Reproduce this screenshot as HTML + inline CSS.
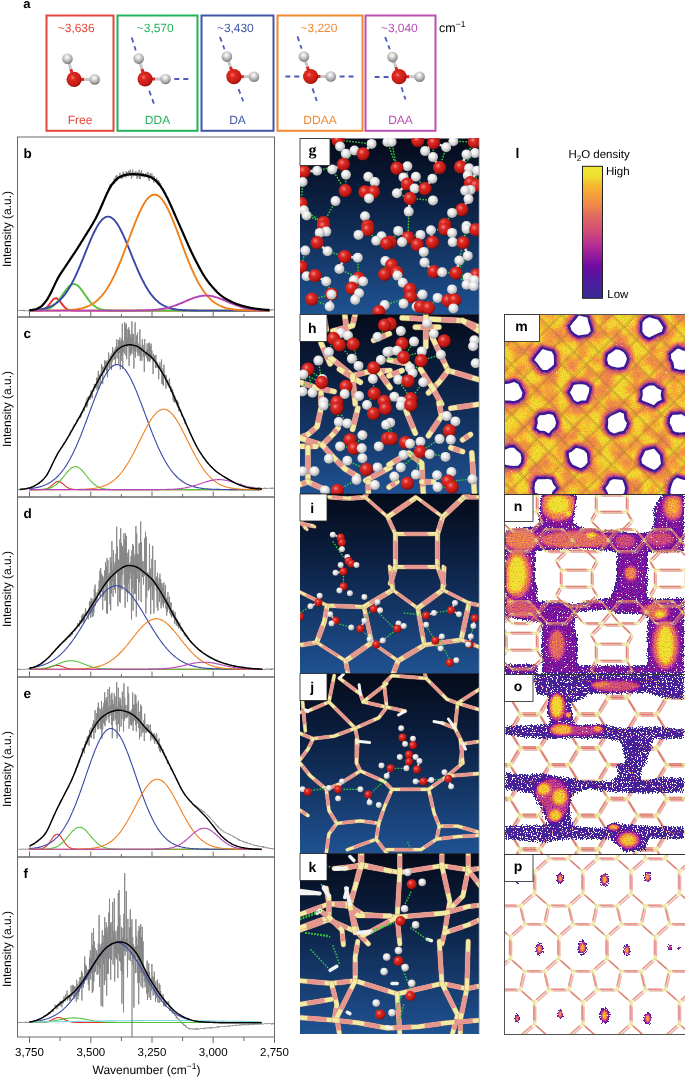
<!DOCTYPE html>
<html><head><meta charset="utf-8"><style>
html,body{margin:0;padding:0;background:#fff;}
body{width:685px;height:1077px;position:relative;overflow:hidden;font-family:"Liberation Sans",sans-serif;}
svg{display:block;will-change:transform}
text{text-rendering:geometricPrecision}
</style></head><body>
<svg width="685" height="136" viewBox="0 0 685 136" style="position:absolute;left:0;top:0">
<defs>
<radialGradient id="gO" cx="0.4" cy="0.38" r="0.65"><stop offset="0" stop-color="#f27a72"/><stop offset="0.25" stop-color="#e02a22"/><stop offset="0.8" stop-color="#c01a14"/><stop offset="1" stop-color="#8a0e0a"/></radialGradient>
<radialGradient id="gH" cx="0.45" cy="0.35" r="0.7"><stop offset="0" stop-color="#ffffff"/><stop offset="0.3" stop-color="#dcdcdc"/><stop offset="0.78" stop-color="#959595"/><stop offset="1" stop-color="#606060"/></radialGradient>
</defs>
<text x="23.3" y="7.6" font-family="Liberation Sans" font-weight="bold" font-size="13">a</text>
<rect x="46.5" y="15.5" width="67.0" height="115.3" fill="none" stroke="#e2453a" stroke-width="2"/>
<text x="57.8" y="32.3" font-family="Liberation Sans" font-size="12" fill="#e2453a" textLength="36.8">~3,636</text>
<text x="80.0" y="124.3" text-anchor="middle" font-family="Liberation Sans" font-size="12" fill="#e2453a">Free</text>
<line x1="74.1" y1="79.4" x2="70.8" y2="69.1" stroke="#d42a22" stroke-width="3"/>
<line x1="70.8" y1="69.1" x2="67.5" y2="58.8" stroke="#c8c8c8" stroke-width="3"/>
<line x1="74.1" y1="79.4" x2="84.4" y2="79.4" stroke="#d42a22" stroke-width="3"/>
<line x1="84.4" y1="79.4" x2="94.7" y2="79.4" stroke="#c8c8c8" stroke-width="3"/>
<circle cx="67.5" cy="58.8" r="5.3" fill="url(#gH)"/>
<circle cx="94.7" cy="79.4" r="5.3" fill="url(#gH)"/>
<circle cx="74.1" cy="79.4" r="7.6" fill="url(#gO)"/>
<rect x="117.5" y="15.5" width="80.0" height="115.3" fill="none" stroke="#21b35b" stroke-width="2"/>
<text x="136.8" y="32.3" font-family="Liberation Sans" font-size="12" fill="#21b35b" textLength="36.8">~3,570</text>
<text x="157.5" y="124.3" text-anchor="middle" font-family="Liberation Sans" font-size="12" fill="#21b35b">DDA</text>
<line x1="131.7" y1="37.6" x2="135.8" y2="50.4" stroke="#4a5cb8" stroke-width="1.8" stroke-dasharray="5,4"/>
<line x1="174.3" y1="79.0" x2="190.0" y2="79.0" stroke="#4a5cb8" stroke-width="1.8" stroke-dasharray="5,4"/>
<line x1="149.2" y1="90.7" x2="153.9" y2="103.6" stroke="#4a5cb8" stroke-width="1.8" stroke-dasharray="5,4"/>
<line x1="145.1" y1="79.0" x2="141.9" y2="68.8" stroke="#d42a22" stroke-width="3"/>
<line x1="141.9" y1="68.8" x2="138.7" y2="58.6" stroke="#c8c8c8" stroke-width="3"/>
<line x1="145.1" y1="79.0" x2="155.3" y2="79.0" stroke="#d42a22" stroke-width="3"/>
<line x1="155.3" y1="79.0" x2="165.5" y2="79.0" stroke="#c8c8c8" stroke-width="3"/>
<circle cx="138.7" cy="58.6" r="5.3" fill="url(#gH)"/>
<circle cx="165.5" cy="79.0" r="5.3" fill="url(#gH)"/>
<circle cx="145.1" cy="79.0" r="7.6" fill="url(#gO)"/>
<rect x="201.5" y="15.5" width="72.0" height="115.3" fill="none" stroke="#4156a8" stroke-width="2"/>
<text x="217.0" y="32.3" font-family="Liberation Sans" font-size="12" fill="#4156a8" textLength="36.8">~3,430</text>
<text x="237.5" y="124.3" text-anchor="middle" font-family="Liberation Sans" font-size="12" fill="#4156a8">DA</text>
<line x1="219.9" y1="37.0" x2="224.5" y2="49.3" stroke="#4a5cb8" stroke-width="1.8" stroke-dasharray="5,4"/>
<line x1="238.5" y1="89.0" x2="243.2" y2="101.2" stroke="#4a5cb8" stroke-width="1.8" stroke-dasharray="5,4"/>
<line x1="233.9" y1="76.7" x2="230.4" y2="66.7" stroke="#d42a22" stroke-width="3"/>
<line x1="230.4" y1="66.7" x2="226.9" y2="56.6" stroke="#c8c8c8" stroke-width="3"/>
<line x1="233.9" y1="76.7" x2="243.9" y2="76.7" stroke="#d42a22" stroke-width="3"/>
<line x1="243.9" y1="76.7" x2="254.0" y2="76.7" stroke="#c8c8c8" stroke-width="3"/>
<circle cx="226.9" cy="56.6" r="5.3" fill="url(#gH)"/>
<circle cx="254.0" cy="76.7" r="5.3" fill="url(#gH)"/>
<circle cx="233.9" cy="76.7" r="7.6" fill="url(#gO)"/>
<rect x="277.5" y="15.5" width="85.0" height="115.3" fill="none" stroke="#f08a30" stroke-width="2"/>
<text x="300.6" y="32.3" font-family="Liberation Sans" font-size="12" fill="#f08a30" textLength="36.8">~3,220</text>
<text x="320.0" y="124.3" text-anchor="middle" font-family="Liberation Sans" font-size="12" fill="#f08a30">DDAA</text>
<line x1="297.5" y1="36.4" x2="301.6" y2="48.7" stroke="#4a5cb8" stroke-width="1.8" stroke-dasharray="5,4"/>
<line x1="285.3" y1="76.5" x2="301.0" y2="76.5" stroke="#4a5cb8" stroke-width="1.8" stroke-dasharray="5,4"/>
<line x1="339.6" y1="76.5" x2="355.3" y2="76.5" stroke="#4a5cb8" stroke-width="1.8" stroke-dasharray="5,4"/>
<line x1="312.5" y1="88.4" x2="316.8" y2="101.0" stroke="#4a5cb8" stroke-width="1.8" stroke-dasharray="5,4"/>
<line x1="310.6" y1="76.5" x2="307.2" y2="66.5" stroke="#d42a22" stroke-width="3"/>
<line x1="307.2" y1="66.5" x2="303.9" y2="56.6" stroke="#c8c8c8" stroke-width="3"/>
<line x1="310.6" y1="76.5" x2="320.7" y2="76.5" stroke="#d42a22" stroke-width="3"/>
<line x1="320.7" y1="76.5" x2="330.8" y2="76.5" stroke="#c8c8c8" stroke-width="3"/>
<circle cx="303.9" cy="56.6" r="5.3" fill="url(#gH)"/>
<circle cx="330.8" cy="76.5" r="5.3" fill="url(#gH)"/>
<circle cx="310.6" cy="76.5" r="7.6" fill="url(#gO)"/>
<rect x="365.5" y="15.5" width="70.0" height="115.3" fill="none" stroke="#b94fb4" stroke-width="2"/>
<text x="381.0" y="32.3" font-family="Liberation Sans" font-size="12" fill="#b94fb4" textLength="36.8">~3,040</text>
<text x="400.5" y="124.3" text-anchor="middle" font-family="Liberation Sans" font-size="12" fill="#b94fb4">DAA</text>
<line x1="385.1" y1="37.0" x2="389.8" y2="49.3" stroke="#4a5cb8" stroke-width="1.8" stroke-dasharray="5,4"/>
<line x1="374.6" y1="77.0" x2="390.1" y2="77.0" stroke="#4a5cb8" stroke-width="1.8" stroke-dasharray="5,4"/>
<line x1="401.5" y1="87.2" x2="405.5" y2="99.5" stroke="#4a5cb8" stroke-width="1.8" stroke-dasharray="5,4"/>
<line x1="399.1" y1="76.7" x2="395.8" y2="66.9" stroke="#d42a22" stroke-width="3"/>
<line x1="395.8" y1="66.9" x2="392.5" y2="57.1" stroke="#c8c8c8" stroke-width="3"/>
<line x1="399.1" y1="76.7" x2="409.4" y2="76.7" stroke="#d42a22" stroke-width="3"/>
<line x1="409.4" y1="76.7" x2="419.6" y2="76.7" stroke="#c8c8c8" stroke-width="3"/>
<circle cx="392.5" cy="57.1" r="5.3" fill="url(#gH)"/>
<circle cx="419.6" cy="76.7" r="5.3" fill="url(#gH)"/>
<circle cx="399.1" cy="76.7" r="7.6" fill="url(#gO)"/>
<text x="439" y="31.6" font-family="Liberation Sans" font-size="12.5">cm<tspan dy="-5" font-size="8.5">−1</tspan></text>
</svg>
<svg width="300" height="1077" viewBox="0 0 300 1077" style="position:absolute;left:0;top:0">
<path d="M17.5 310.5l.4 .3l.4-.3l.4 .2l.4-.5l.4 .5l.4-.6l.4 .7l.4-.6l.4 .5l.4-.3l.4 .3l.4-.8l.4 1l.4-.5l.4 .4l.4-.9l.4 1.4l.4-1.1l.4 .6l.4-.3l.4 .1l.4-.2l.4 .5l.4-.4l.4 .3l.4-.5l.4 1l.4-.9l.4 .7l.4-.8l.4 .3l.4-.5l.4 .2l.4-.4l.4 .3l.4-.3l.4 .5l.4-.7l.4 .7l.4-.9l.4 .3l.4-.3l.4 .7l.4-.7l.4 .4l.4-1.4l.4 .8l.4-.3l.4 .2l.4-.7l.4 .1l.4-.8l.4 .7l.4-.8l.4 .4l.4-1.2l.4 .5l.4-.5l.4 .3l.4-1.1l.4 .1l.4-.8l.4 .3l.4-1.3l.4 .2l.4-1.2l.4 .8l.4-1.8l.4 .2l.4-1.3l.4 .3l.4-1.5l.4 .9l.4-1.5l.4-.1l.4-1.4l.4 .2l.4-1.5l.4-.2l.4-.9l.4-.5l.4-1.6l.4 .1l.4-1.3l.4-.4l.4-1.7l.4 .2l.4-1.7l.4-.3l.4-1.8l.4 .1l.4-1.5l.4 .2l.4-1.7l.4-.5l.4-1.8l.4 .3l.4-1.8l.4-.5l.4-1l.4-.3l.4-1.1l.4-.1l.4-1.4l.4-.2l.4-1.2l.4-.1l.4-1l.4 .2l.4-1.5l.4 .2l.4-1.3l.4 0l.4-.7l.4-.4l.4-1.3l.4 .4l.4-1.5l.4 .4l.4-1.4l.4-.1l.4-1.3l.4 .2l.4-1.1l.4-.4l.4-.7l.4-.4l.4-.9l.4-.4l.4-1l.4-.3l.4-1l.4 0l.4-1.6l.4 .3l.4-.9l.4-.3l.4-.7l.4-.3l.4-1.1l.4-.3l.4-1.5l.4 1l.4-1.9l.4 0l.4-.9l.4-.3l.4-.9l.4-.1l.4-1l.4-.3l.4-1.6l.4 .3l.4-1l.4-.4l.4-.7l.4-.6l.4-1.5l.4 .4l.4-1.3l.4 .3l.4-1.2l.4-.2l.4-1.5l.4 .4l.4-2.1l.4 .3l.4-1l.4-.2l.4-1.4l.4 .7l.4-2l.4 .5l.4-1.6l.4 .3l.4-1.4l.4 0l.4-1.2l.4-.5l.4-1.1l.4-.2l.4-.7l.4 .2l.4-2l.4 .1l.4-1.8l.4 .9l.4-1.8l.4 0l.4-.9l.4-.2l.4-1.3l.4-.2l.4-2l.4 1l.4-2l.4 .2l.4-2l.4 .7l.4-2.5l.4 .4l.4-2.3l.4 .8l.4-1.5l.4 0l.4-2.3l.4 .9l.4-2.8l.4 1l.4-3l.4 0l.4-2.8l.4 1.9l.4-2.3l.4-.3l.4-1.9l.4-.1l.4-2.9l.4 1.7l.4-3.2l.4 2.1l.4-4.2l.4 1l.4-2l.4 1.3l.4-2.2l.4-.6l.4-2.9l.4 1.5l.4-3.8l.4 2.5l.4-4.1l.4 3.5l.4-2.5l.4 .9l.4-1.6l.4 .8l.4-2.1l.4 2l.4-3l.4 1.6l.4-5.2l.4 5.5l.4-4.8l.4 2.6l.4-5.8l.4 5.6l.4-6.4l.4 5.8l.4-5.1l.4 2.3l.4-.7l.4 .2l.4-1.5l.4 1.5l.4-4.7l.4 3.9l.4-1.5l.4 3.2l.4-2.8l.4 3.1l.4-4.3l.4 3.6l.4-6.4l.4 5.1l.4-3.9l.4 4.1l.4-2l.4 1.8l.4-2.4l.4 3.2l.4-6.6l.4 5.2l.4-3.8l.4 3.5l.4-3.6l.4 4l.4-5.6l.4 3.9l.4-3.1l.4 3.7l.4-5.5l.4 5.4l.4-2.4l.4 6.1l.4-6.3l.4 2.4l.4-5.3l.4 6.7l.4-2.8l.4 1.8l.4-3l.4 3.7l.4-3.4l.4 2.4l.4-4l.4 4.9l.4-2.7l.4 5.7l.4-6.7l.4 5.3l.4-3.8l.4 1.8l.4-5.6l.4 8.8l.4-5.3l.4 5.7l.4-6.7l.4 3.9l.4-6l.4 4.8l.4-1.5l.4 3.5l.4-4.2l.4 2.4l.4-.8l.4 2.7l.4-1.9l.4 .6l.4-2.7l.4 3.2l.4-2.8l.4 2.4l.4-2.1l.4 4l.4-6.1l.4 7l.4-3.9l.4 5.8l.4-5.5l.4 2.6l.4-4.7l.4 4.9l.4-.9l.4 1.4l.4-4.9l.4 6.4l.4-2.6l.4 2.4l.4-3.9l.4 6.7l.4-6.3l.4 4.5l.4-1.5l.4 1.2l.4-.7l.4 3l.4-5l.4 5.8l.4-3.6l.4 5l.4-4.9l.4 5.2l.4-4.3l.4 4.9l.4-2.2l.4 2.4l.4-2.8l.4 4.6l.4-.6l.4 1.5l.4-1.2l.4 1.9l.4-.1l.4 1.8l.4-.7l.4 1.9l.4 0l.4 2.1l.4-.2l.4 1.7l.4-.9l.4 1.5l.4 .7l.4 1.1l.4 .6l.4 1l.4 .5l.4 2.2l.4-.7l.4 2.2l.4-.4l.4 1.4l.4 .4l.4 2.1l.4-1.4l.4 2.5l.4 .2l.4 2.1l.4-.3l.4 3l.4-1.1l.4 2.6l.4-.3l.4 2l.4-.4l.4 1.6l.4 .3l.4 1.3l.4 0l.4 2.1l.4 .5l.4 1.2l.4-.3l.4 2.3l.4-.1l.4 2l.4 .2l.4 1.4l.4 .4l.4 1.5l.4 .1l.4 1.7l.4 .3l.4 1.9l.4-.5l.4 1.6l.4 .8l.4 1.8l.4-.1l.4 1.5l.4 .1l.4 1.4l.4 .4l.4 1.5l.4 .7l.4 1.5l.4 .1l.4 1.2l.4 .6l.4 1.4l.4 .6l.4 .9l.4 .8l.4 1.2l.4 .1l.4 1.5l.4 .6l.4 1.4l.4 .1l.4 1.7l.4-.2l.4 1.3l.4 .3l.4 1l.4 .7l.4 1.5l.4-.6l.4 1.7l.4 .1l.4 1.6l.4 .3l.4 1.6l.4-.4l.4 1.5l.4-.4l.4 1.5l.4 .4l.4 1.7l.4-.7l.4 1.9l.4 0l.4 1.5l.4 .1l.4 .8l.4 .3l.4 1.2l.4-.2l.4 1.7l.4-.4l.4 1.3l.4-.1l.4 1.5l.4 .1l.4 .5l.4 .4l.4 1.3l.4-.6l.4 1l.4 .4l.4 .7l.4 .3l.4 .8l.4-.1l.4 .9l.4 .3l.4 .7l.4 .2l.4 1.2l.4-.7l.4 .9l.4-.2l.4 1.2l.4 .3l.4 1l.4-.2l.4 .6l.4 .2l.4 .8l.4 .1l.4 .8l.4 0l.4 .4l.4 .1l.4 .8l.4-.1l.4 1.2l.4-.4l.4 .7l.4-.4l.4 .8l.4 0l.4 .5l.4 .1l.4 .6l.4-.7l.4 1.2l.4-.4l.4 .8l.4-.3l.4 1.5l.4-.9l.4 .7l.4-.2l.4 1.3l.4-.7l.4 .8l.4-.6l.4 .9l.4-.4l.4 .5l.4-.1l.4 .9l.4-.7l.4 1l.4-.3l.4 1.1l.4-.7l.4 .3l.4-.3l.4 .6l.4-.2l.4 .6l.4-.1l.4 .6l.4-.4l.4 1.2l.4-1.3l.4 .9l.4 0l.4 .4l.4-.6l.4 1l.4-.4l.4 .6l.4-.4l.4 .7l.4-.7l.4 .7l.4-.2l.4 .7l.4-.2l.4 .3l.4-.7l.4 1.2l.4-.5l.4 1l.4-.6l.4 .4l.4-.5l.4 .4l.4-.6l.4 1.5l.4-1.2l.4 1.2l.4-1l.4 1.3l.4-1l.4 .7l.4-.1l.4 .2l.4-.1l.4 .6l.4-.4l.4 .7l.4-.5l.4 .2l.4-.2l.4 .3l.4-.4l.4 .5l.4-.2l.4 .9l.4-.9l.4 .4l.4-.2l.4 .6l.4-.7l.4 .6l.4-.2l.4 .4l.4-.4l.4 1l.4-1l.4 .4l.4-.8l.4 1.6l.4-.9l.4 .3l.4-.1l.4 .3l.4-.2l.4 .2l.4-.1l.4 .4l.4-1l.4 1.1l.4-.3l.4 .5l.4-.9l.4 .8l.4-.5l.4 .5l.4-.5l.4 .4l.4-.3l.4 .3l.4-.6l.4 .6l.4-.1l.4 .4l.4-.2l.4 .3l.4-.7l.4 .7l.4-1.1l.4 1l.4-.3l.4 .2l.4-.7l.4 .7" fill="none" stroke="#858585" stroke-width="0.9"/>
<path d="M29.5 310.6l1 0l1 0l1 0l1 0l1 0l1 0l1 0l1 0l1-.1l1-.1l1-.1l1-.1l1-.3l1-.3l1-.5l1-.6l1-.9l1-1l1-1.1l1-1.3l1-1.4l1-1.3l1-1.3l1-1l1-.7l1-.3l1 .1l1 .5l1 .8l1 1.1l1 1.3l1 1.4l1 1.3l1 1.2l1 1.2l1 .9l1 .7l1 .6l1 .4l1 .3l1 .3l1 .1l1 .1l1 0l1 .1l1 0l1 0l1 0l1 0l1 0l1 0l1 0l1 0l1 0l1 0l1 0l1 0l1 0l1 0l1 0l1 0l1 0l1 0l1 0l1 0l1 0l1 0l1 0l1 0l1 0l1 0l1 0l1 0l1 0l1 0l1 0l1 0l1 0l1 0l1 0l1 0l1 0l1 0l1 0l1 0l1 0l1 0l1 0l1 0l1 0l1 0l1 0l1 0l1 0l1 0l1 0l1 0l1 0l1 0l1 0l1 0l1 0l1 0l1 0l1 0l1 0l1 0l1 0l1 0l1 0l1 0l1 0l1 0l1 0l1 0l1 0l1 0l1 0l1 0l1 0l1 0l1 0l1 0l1 0l1 0l1 0l1 0l1 0l1 0l1 0l1 0l1 0l1 0l1 0l1 0l1 0l1 0l1 0l1 0l1 0l1 0l1 0l1 0l1 0l1 0l1 0l1 0l1 0l1 0l1 0l1 0l1 0l1 0l1 0l1 0l1 0l1 0l1 0l1 0l1 0l1 0l1 0l1 0l1 0l1 0l1 0l1 0l1 0l1 0l1 0l1 0l1 0l1 0l1 0l1 0l1 0l1 0l1 0l1 0l1 0l1 0l1 0l1 0l1 0l1 0l1 0l1 0l1 0l1 0l1 0l1 0l1 0l1 0l1 0l1 0l1 0l1 0l1 0l1 0l1 0l1 0l1 0l1 0l1 0l1 0l1 0l1 0l1 0l1 0l1 0l1 0l1 0l1 0l1 0l1 0l1 0l1 0l1 0l1 0l1 0l1 0l1 0l1 0l1 0l1 0l1 0l1 0l1 0l1 0l1 0l1 0l1 0l1 0l1 0l1 0l1 0l1 0l1 0l1 0l1 0" fill="none" stroke="#e0302a" stroke-width="1.9"/>
<path d="M29.5 310.6l1 0l1 0l1 0l1 0l1 0l1-.1l1 0l1 0l1-.1l1 0l1-.1l1-.1l1-.1l1-.1l1-.2l1-.2l1-.2l1-.3l1-.4l1-.4l1-.5l1-.6l1-.7l1-.7l1-.9l1-1l1-1l1-1.2l1-1.2l1-1.3l1-1.4l1-1.4l1-1.5l1-1.5l1-1.4l1-1.4l1-1.3l1-1.3l1-1.1l1-.9l1-.8l1-.6l1-.4l1-.2l1 .1l1 .2l1 .5l1 .7l1 .8l1 1l1 1.2l1 1.3l1 1.3l1 1.5l1 1.4l1 1.5l1 1.4l1 1.5l1 1.3l1 1.3l1 1.2l1 1.1l1 1l1 .9l1 .9l1 .7l1 .6l1 .6l1 .5l1 .4l1 .3l1 .3l1 .2l1 .2l1 .2l1 .1l1 .1l1 .1l1 0l1 .1l1 0l1 0l1 0l1 .1l1 0l1 0l1 0l1 0l1 0l1 0l1 0l1 0l1 0l1 0l1 0l1 0l1 0l1 0l1 0l1 0l1 0l1 0l1 0l1 0l1 0l1 0l1 0l1 0l1 0l1 0l1 0l1 0l1 0l1 0l1 0l1 0l1 0l1 0l1 0l1 0l1 0l1 0l1 0l1 0l1 0l1 0l1 0l1 0l1 0l1 0l1 0l1 0l1 0l1 0l1 0l1 0l1 0l1 0l1 0l1 0l1 0l1 0l1 0l1 0l1 0l1 0l1 0l1 0l1 0l1 0l1 0l1 0l1 0l1 0l1 0l1 0l1 0l1 0l1 0l1 0l1 0l1 0l1 0l1 0l1 0l1 0l1 0l1 0l1 0l1 0l1 0l1 0l1 0l1 0l1 0l1 0l1 0l1 0l1 0l1 0l1 0l1 0l1 0l1 0l1 0l1 0l1 0l1 0l1 0l1 0l1 0l1 0l1 0l1 0l1 0l1 0l1 0l1 0l1 0l1 0l1 0l1 0l1 0l1 0l1 0l1 0l1 0l1 0l1 0l1 0l1 0l1 0l1 0l1 0l1 0l1 0l1 0l1 0l1 0l1 0l1 0l1 0l1 0l1 0l1 0l1 0l1 0l1 0l1 0l1 0l1 0l1 0l1 0l1 0l1 0l1 0l1 0l1 0l1 0l1 0" fill="none" stroke="#52c23a" stroke-width="1.9"/>
<path d="M29.5 310.3l1 0l1-.1l1 0l1-.1l1-.1l1-.1l1 0l1-.2l1-.1l1-.1l1-.2l1-.1l1-.2l1-.2l1-.3l1-.2l1-.3l1-.4l1-.3l1-.4l1-.4l1-.5l1-.5l1-.6l1-.6l1-.6l1-.8l1-.7l1-.9l1-.9l1-.9l1-1.1l1-1.1l1-1.2l1-1.2l1-1.3l1-1.5l1-1.4l1-1.6l1-1.7l1-1.7l1-1.8l1-1.9l1-1.9l1-2l1-2.1l1-2.2l1-2.2l1-2.3l1-2.3l1-2.4l1-2.4l1-2.4l1-2.5l1-2.5l1-2.5l1-2.4l1-2.5l1-2.4l1-2.4l1-2.4l1-2.3l1-2.2l1-2.2l1-2l1-2l1-1.9l1-1.7l1-1.6l1-1.5l1-1.3l1-1.2l1-1.1l1-.8l1-.7l1-.5l1-.4l1-.2l1 0l1 .2l1 .4l1 .5l1 .7l1 .8l1 1.1l1 1.2l1 1.3l1 1.5l1 1.6l1 1.7l1 1.9l1 2l1 2l1 2.2l1 2.2l1 2.3l1 2.4l1 2.4l1 2.4l1 2.5l1 2.4l1 2.5l1 2.5l1 2.5l1 2.4l1 2.4l1 2.4l1 2.3l1 2.3l1 2.2l1 2.2l1 2.1l1 2l1 1.9l1 1.9l1 1.8l1 1.7l1 1.7l1 1.6l1 1.4l1 1.5l1 1.3l1 1.2l1 1.2l1 1.1l1 1.1l1 .9l1 .9l1 .9l1 .7l1 .8l1 .6l1 .6l1 .6l1 .5l1 .5l1 .4l1 .4l1 .3l1 .4l1 .3l1 .2l1 .3l1 .2l1 .2l1 .1l1 .2l1 .1l1 .1l1 .2l1 0l1 .1l1 .1l1 .1l1 0l1 .1l1 0l1 .1l1 0l1 0l1 0l1 .1l1 0l1 0l1 0l1 0l1 0l1 .1l1 0l1 0l1 0l1 0l1 0l1 0l1 0l1 0l1 0l1 0l1 0l1 0l1 0l1 0l1 0l1 0l1 0l1 0l1 0l1 0l1 0l1 0l1 0l1 0l1 0l1 0l1 0l1 0l1 0l1 0l1 0l1 0l1 0l1 0l1 0l1 0l1 0l1 0l1 0l1 0l1 0l1 0l1 0l1 0l1 0l1 0l1 0l1 0l1 0l1 0l1 0l1 0l1 0l1 0l1 0l1 0l1 0l1 0l1 0l1 0l1 0l1 0l1 0l1 0l1 0l1 0l1 0l1 0l1 0l1 0l1 0l1 0" fill="none" stroke="#3848a8" stroke-width="1.9"/>
<path d="M29.5 310.6l1 0l1 0l1 0l1 0l1 0l1 0l1 0l1 0l1 0l1 0l1 0l1 0l1 0l1 0l1 0l1 0l1 0l1 0l1 0l1 0l1 0l1 0l1-.1l1 0l1 0l1 0l1 0l1 0l1 0l1 0l1-.1l1 0l1 0l1-.1l1 0l1 0l1-.1l1 0l1-.1l1-.1l1 0l1-.1l1-.1l1-.1l1-.1l1-.1l1-.2l1-.1l1-.2l1-.2l1-.2l1-.3l1-.2l1-.3l1-.3l1-.3l1-.4l1-.4l1-.4l1-.5l1-.5l1-.6l1-.6l1-.6l1-.7l1-.7l1-.8l1-.9l1-.9l1-1l1-1l1-1.1l1-1.2l1-1.2l1-1.4l1-1.3l1-1.5l1-1.5l1-1.7l1-1.6l1-1.8l1-1.8l1-2l1-2l1-2l1-2.2l1-2.2l1-2.2l1-2.4l1-2.4l1-2.4l1-2.5l1-2.6l1-2.6l1-2.6l1-2.7l1-2.7l1-2.7l1-2.7l1-2.7l1-2.7l1-2.6l1-2.7l1-2.6l1-2.6l1-2.5l1-2.5l1-2.4l1-2.3l1-2.2l1-2.1l1-2.1l1-1.9l1-1.8l1-1.6l1-1.6l1-1.3l1-1.3l1-1.1l1-.9l1-.7l1-.6l1-.5l1-.2l1-.1l1 .1l1 .2l1 .5l1 .6l1 .7l1 .9l1 1.1l1 1.3l1 1.3l1 1.6l1 1.6l1 1.8l1 1.9l1 2.1l1 2.1l1 2.2l1 2.3l1 2.4l1 2.5l1 2.5l1 2.6l1 2.6l1 2.7l1 2.6l1 2.7l1 2.7l1 2.7l1 2.7l1 2.7l1 2.7l1 2.6l1 2.6l1 2.6l1 2.5l1 2.4l1 2.4l1 2.4l1 2.2l1 2.2l1 2.2l1 2l1 2l1 2l1 1.8l1 1.8l1 1.6l1 1.7l1 1.5l1 1.5l1 1.3l1 1.4l1 1.2l1 1.2l1 1.1l1 1l1 1l1 .9l1 .9l1 .8l1 .7l1 .7l1 .6l1 .6l1 .6l1 .5l1 .5l1 .4l1 .4l1 .4l1 .3l1 .3l1 .3l1 .2l1 .3l1 .2l1 .2l1 .2l1 .1l1 .2l1 .1l1 .1l1 .1l1 .1l1 .1l1 0l1 .1l1 .1l1 0l1 .1l1 0l1 0l1 .1l1 0l1 0l1 .1l1 0l1 0l1 0l1 0l1 0l1 0l1 0l1 .1l1 0l1 0l1 0l1 0l1 0l1 0l1 0l1 0l1 0l1 0l1 0l1 0" fill="none" stroke="#f07f1c" stroke-width="1.9"/>
<path d="M29.5 310.6l1 0l1 0l1 0l1 0l1 0l1 0l1 0l1 0l1 0l1 0l1 0l1 0l1 0l1 0l1 0l1 0l1 0l1 0l1 0l1 0l1 0l1 0l1 0l1 0l1 0l1 0l1 0l1 0l1 0l1 0l1 0l1 0l1 0l1 0l1 0l1 0l1 0l1 0l1 0l1 0l1 0l1 0l1 0l1 0l1 0l1 0l1 0l1 0l1 0l1 0l1 0l1 0l1 0l1 0l1 0l1 0l1 0l1 0l1 0l1 0l1 0l1 0l1 0l1 0l1 0l1 0l1 0l1 0l1 0l1 0l1 0l1 0l1 0l1 0l1 0l1 0l1 0l1 0l1 0l1 0l1 0l1 0l1 0l1 0l1 0l1 0l1 0l1 0l1 0l1 0l1 0l1 0l1 0l1 0l1 0l1 0l1 0l1 0l1 0l1 0l1 0l1 0l1 0l1 0l1 0l1-.1l1 0l1 0l1 0l1 0l1 0l1 0l1-.1l1 0l1 0l1 0l1-.1l1 0l1-.1l1 0l1-.1l1 0l1-.1l1-.1l1 0l1-.1l1-.1l1-.1l1-.2l1-.1l1-.1l1-.2l1-.2l1-.1l1-.2l1-.2l1-.3l1-.2l1-.2l1-.3l1-.3l1-.3l1-.3l1-.3l1-.4l1-.3l1-.4l1-.4l1-.4l1-.4l1-.4l1-.4l1-.4l1-.4l1-.5l1-.4l1-.4l1-.5l1-.4l1-.4l1-.4l1-.4l1-.4l1-.4l1-.3l1-.3l1-.3l1-.3l1-.3l1-.2l1-.2l1-.2l1-.1l1-.1l1-.1l1 0l1 0l1 0l1 .1l1 .1l1 .1l1 .2l1 .2l1 .2l1 .3l1 .3l1 .3l1 .3l1 .3l1 .4l1 .4l1 .4l1 .4l1 .4l1 .4l1 .5l1 .4l1 .4l1 .5l1 .4l1 .4l1 .4l1 .4l1 .4l1 .4l1 .4l1 .4l1 .3l1 .4l1 .3l1 .3l1 .3l1 .3l1 .3l1 .2l1 .2l1 .3l1 .2l1 .2l1 .1l1 .2l1 .2l1 .1l1 .1l1 .2l1 .1l1 .1l1 .1l1 0l1 .1l1 .1l1 0l1 .1l1 0l1 .1l1 0l1 .1l1 0l1 0l1 0" fill="none" stroke="#b443b8" stroke-width="1.9"/>
<path d="M29.5 310.4l1-.3l1-.1l1-.1l1-.2l1-.2l1-.2l1-.3l1-.4l1-.5l1-.6l1-.6l1-.8l1-.9l1-1.1l1-1.1l1-1.3l1-1.4l1-1.5l1-1.6l1-1.8l1-1.9l1-2l1-2.1l1-2.1l1-2.2l1-2.2l1-2l1-2l1-1.8l1-1.7l1-1.6l1-1.5l1-1.5l1-1.5l1-1.4l1-1.5l1-1.6l1-1.5l1-1.5l1-1.5l1-1.5l1-1.5l1-1.5l1-1.5l1-1.5l1-1.5l1-1.5l1-1.5l1-1.6l1-1.6l1-1.6l1-1.6l1-1.6l1-1.6l1-1.7l1-1.6l1-1.6l1-1.6l1-1.6l1-1.6l1-1.6l1-1.7l1-1.6l1-1.8l1-1.8l1-1.8l1-2l1-2l1-2.1l1-2.1l1-2.2l1-2.3l1-2.3l1-2.4l1-2.2l1-2.3l1-2.2l1-2.1l1-2l1-1.9l1-1.8l1-1.6l1-1.5l1-1.3l1-1.1l1-1.1l1-.9l1-.7l1-.7l1-.7l1-.5l1-.5l1-.4l1-.3l1-.3l1-.3l1-.2l1-.1l1-.1l1-.1l1-.1l1 0l1-.1l1 0l1 0l1 .1l1 0l1 .1l1 0l1 .1l1 .2l1 .1l1 .2l1 .1l1 .2l1 .3l1 .2l1 .2l1 .3l1 .4l1 .4l1 .5l1 .5l1 .7l1 .7l1 .9l1 .9l1 1.1l1 1.1l1 1.3l1 1.3l1 1.5l1 1.6l1 1.6l1 1.8l1 1.8l1 2l1 1.9l1 2.1l1 2.1l1 2.2l1 2.3l1 2.2l1 2.3l1 2.3l1 2.3l1 2.3l1 2.2l1 2.3l1 2.2l1 2.3l1 2.2l1 2.3l1 2.3l1 2.3l1 2.3l1 2.3l1 2.2l1 2.3l1 2.2l1 2.2l1 2.1l1 2.1l1 2.1l1 2l1 2l1 1.9l1 1.9l1 1.9l1 1.9l1 1.8l1 1.8l1 1.7l1 1.7l1 1.6l1 1.5l1 1.5l1 1.4l1 1.3l1 1.3l1 1.2l1 1.2l1 1.2l1 1.1l1 1.1l1 1.1l1 1l1 1.1l1 .9l1 .9l1 .9l1 .7l1 .8l1 .7l1 .6l1 .6l1 .6l1 .6l1 .5l1 .5l1 .5l1 .5l1 .5l1 .4l1 .4l1 .4l1 .4l1 .4l1 .3l1 .3l1 .4l1 .3l1 .3l1 .2l1 .3l1 .3l1 .2l1 .3l1 .2l1 .2l1 .2l1 .2l1 .2l1 .2l1 .1l1 .2l1 .1l1 .1l1 .1l1 .1l1 .2l1 .1l1 .1l1 .1l1 .1l1 .1l1 0l1 .1l1 0l1 .2" fill="none" stroke="#000" stroke-width="2.2" stroke-linejoin="round"/>
<rect x="17.5" y="137.0" width="257" height="180" fill="none" stroke="#6a6a6a" stroke-width="1"/>
<line x1="29.5" y1="317.0" x2="29.5" y2="311.5" stroke="#6a6a6a" stroke-width="1"/>
<line x1="60.1" y1="317.0" x2="60.1" y2="314.0" stroke="#6a6a6a" stroke-width="1"/>
<line x1="90.8" y1="317.0" x2="90.8" y2="311.5" stroke="#6a6a6a" stroke-width="1"/>
<line x1="121.4" y1="317.0" x2="121.4" y2="314.0" stroke="#6a6a6a" stroke-width="1"/>
<line x1="152.0" y1="317.0" x2="152.0" y2="311.5" stroke="#6a6a6a" stroke-width="1"/>
<line x1="182.6" y1="317.0" x2="182.6" y2="314.0" stroke="#6a6a6a" stroke-width="1"/>
<line x1="213.2" y1="317.0" x2="213.2" y2="311.5" stroke="#6a6a6a" stroke-width="1"/>
<line x1="243.9" y1="317.0" x2="243.9" y2="314.0" stroke="#6a6a6a" stroke-width="1"/>
<line x1="274.5" y1="317.0" x2="274.5" y2="311.5" stroke="#6a6a6a" stroke-width="1"/>
<text x="23.5" y="158.0" font-family="Liberation Sans" font-weight="bold" font-size="13.5">b</text>
<text transform="translate(10.8,229.0) rotate(-90)" text-anchor="middle" font-family="Liberation Sans" font-size="12">Intensity (a.u.)</text>
<path d="M17.5 489.2l.4 .7l.4-.3l.4 0l.4-.7l.4 1.3l.4-1l.4 1l.4-1.1l.4 .3l.4-.3l.4 .3l.4-.8l.4 .7l.4-.7l.4 .8l.4-.7l.4 .9l.4-1.1l.4 .6l.4-.9l.4 .8l.4-.4l.4 .8l.4-1l.4 .4l.4-.6l.4 .4l.4-.8l.4 .8l.4-.7l.4 .1l.4-.8l.4 .5l.4-.5l.4 .2l.4-.3l.4-.1l.4-.4l.4 .4l.4-1.2l.4 .6l.4-.7l.4 .4l.4-.5l.4 .1l.4-1.1l.4 .5l.4-.4l.4-.2l.4-.9l.4 .4l.4-.6l.4 .2l.4-.9l.4 .9l.4-1.1l.4-.2l.4-.6l.4 .2l.4-.8l.4 0l.4-.8l.4 .5l.4-1.3l.4-.2l.4-.7l.4-.1l.4-.6l.4-.1l.4-.9l.4 .3l.4-1.5l.4 .5l.4-1.6l.4-.4l.4-.8l.4-.2l.4-1.8l.4 .5l.4-1.9l.4-.3l.4-1.4l.4 .1l.4-1.7l.4-.7l.4-1.4l.4-.2l.4-1.7l.4 .4l.4-1.5l.4 .2l.4-2.1l.4-.3l.4-1.4l.4 .5l.4-1.7l.4-.7l.4-1.1l.4-.1l.4-1.4l.4-.1l.4-1l.4-.6l.4-.8l.4 0l.4-1.4l.4-.2l.4-1.1l.4-.1l.4-1.3l.4 .9l.4-1.7l.4 .2l.4-1.8l.4 .3l.4-1.8l.4 1.4l.4-1.8l.4 .1l.4-1.3l.4-.5l.4-1.8l.4 1.1l.4-1.4l.4-.5l.4-1.1l.4-.4l.4-1.3l.4 .1l.4-1l.4 .9l.4-2.7l.4 .2l.4-2.4l.4 .8l.4-1.2l.4 .9l.4-2.5l.4 .3l.4-3.1l.4 1.1l.4-2.1l.4 1.4l.4-1.7l.4-.3l.4-1l.4 .9l.4-4.4l.4 2.5l.4-2.3l.4 .7l.4-2.8l.4 1.4l.4-2.2l.4 .5l.4-1.9l.4 2.5l.4-4.4l.4 3l.4-4.5l.4 1.4l.4-2.5l.4 1.5l.4-2.5l.4 .1l.4-2.6l.4 3.5l.4-4.1l.4 0l.4-4.4l.4 2.6l.4-4.5l.4 6.8l.4-10.1l.4 8.7l.4-5.7l.4 .4l.4-4.6l.4 3.8l.4-3.5l.4 3.1l.4-4.3l.4 2.8l.4-7.6l.4 6.1l.4-4.3l.4 5.9l.4-8.4l.4 1.8l.4-4.1l.4 3.6l.4-7l.4 4.3l.4-2.6l.4 2.3l.4-3.7l.4 2.7l.4-9.5l.4 12.6l.4-12.3l.4 5l.4-12.1l.4 18.2l.4-14l.4 3.2l.4-3.6l.4 9.5l.4-10.7l.4 2.1l.4-11.4l.4 11.6l.4-9.6l.4 18l.4-17.3l.4 5.7l.4-5.1l.4 5.3l.4-12.5l.4 9.7l.4-8.4l.4 8.3l.4-9l.4 10.7l.4-7.6l.4 13.5l.4-17.6l.4 4.1l.4-11.4l.4 15.3l.4-8.9l.4 9.1l.4-12.5l.4 7.8l.4-5.7l.4 12.2l.4-16.7l.4 8.3l.4-14.3l.4 8.5l.4-3.9l.4 8l.4-9l.4 8.5l.4-10.6l.4 16l.4-17.9l.4 6l.4-13.3l.4 19.1l.4-12.1l.4 6.6l.4-13.2l.4 23.8l.4-23.3l.4 12.7l.4-15.6l.4 32.2l.4-28.3l.4 19.8l.4-22.1l.4 17.3l.4-32.8l.4 45.5l.4-28.3l.4 11.2l.4-7.4l.4 9.3l.4-31.7l.4 24.2l.4-21.5l.4 30.9l.4-32.1l.4 35.7l.4-21.7l.4 9l.4-17.7l.4 17.3l.4-19l.4 38.7l.4-36.1l.4 24.2l.4-19.6l.4 21.1l.4-17l.4 14.4l.4-31.7l.4 27.5l.4-14.9l.4 20.4l.4-20l.4 34.4l.4-25.3l.4 8.2l.4-29.1l.4 35l.4-15.5l.4 4.6l.4-11.1l.4 16.3l.4-19l.4 23.4l.4-12.4l.4 9.7l.4-7.9l.4 10.2l.4-26.3l.4 31.4l.4-15.7l.4 10.1l.4-8.2l.4 13.7l.4-21.6l.4 12.4l.4-6.7l.4 11.9l.4-8.9l.4 24l.4-32.8l.4 16.8l.4-3.3l.4 3.3l.4-5.3l.4 7.3l.4-14.4l.4 18l.4-13.1l.4 12.3l.4-17.3l.4 17.9l.4-18.6l.4 19.3l.4-15.7l.4 13.3l.4-15.9l.4 15.2l.4-8.3l.4 7.6l.4-1.3l.4 17.3l.4-20.4l.4 7.3l.4-4.9l.4 5.2l.4-6.2l.4 13l.4-13l.4 12.6l.4-6.3l.4 3l.4-1.5l.4 5l.4-3l.4 14.4l.4-14.1l.4 3.1l.4-6.1l.4 7.4l.4-2.9l.4 5.1l.4-12.4l.4 24.4l.4-12.3l.4 12.9l.4-16.1l.4 17.4l.4-21l.4 12.1l.4-2.8l.4 5.1l.4-3.7l.4 13.2l.4-13.2l.4 6.9l.4-1.2l.4 3.7l.4-4.9l.4 5.9l.4-2.3l.4 4l.4-9.1l.4 8.8l.4 0l.4 4.5l.4-5.2l.4 4.3l.4-1.3l.4 3.5l.4-3.6l.4 11l.4-7.9l.4 9.4l.4-7.2l.4 7.7l.4-5.9l.4 5.6l.4-2.9l.4 4.3l.4-3l.4 5.2l.4-5.4l.4 7.2l.4-5.4l.4 9l.4-4.5l.4 3.7l.4-.9l.4 2.7l.4-2.8l.4 3.3l.4-1l.4 4.8l.4-2.1l.4 2.2l.4 .5l.4 1.4l.4 0l.4 2.3l.4-2.4l.4 5.7l.4-3l.4 3.4l.4 0l.4 1l.4 .3l.4 1.6l.4 0l.4 2.4l.4-1.6l.4 2.9l.4 .3l.4 1.8l.4 .3l.4 1.1l.4-.1l.4 1.6l.4 .3l.4 1.9l.4 .2l.4 1.9l.4-.5l.4 1.5l.4 0l.4 1.9l.4-.7l.4 2.8l.4-.3l.4 1.1l.4-.2l.4 1.9l.4-.4l.4 2l.4-.3l.4 1.3l.4-.4l.4 1.5l.4 .2l.4 1.2l.4 .1l.4 1.4l.4-.6l.4 1.7l.4 .2l.4 1.5l.4-.9l.4 1.3l.4 .1l.4 1l.4-.4l.4 1.6l.4-.3l.4 1.1l.4 .2l.4 .9l.4 .2l.4 1.3l.4-.8l.4 1.2l.4 .3l.4 .8l.4 .1l.4 .9l.4-.7l.4 1.5l.4 .1l.4 1.2l.4-1.1l.4 1.3l.4 .3l.4 .9l.4-.1l.4 .8l.4-.1l.4 .5l.4 .2l.4 .4l.4-.1l.4 1.2l.4-.5l.4 1.3l.4-.6l.4 .7l.4-.5l.4 .9l.4 0l.4 .9l.4-.3l.4 .9l.4-.6l.4 .6l.4 .1l.4 .4l.4 .2l.4 .6l.4-.1l.4 1l.4-.5l.4 .6l.4-.4l.4 .8l.4-.1l.4 1.1l.4-1l.4 1.2l.4-.8l.4 1.5l.4-1.3l.4 1.2l.4-.2l.4 1.2l.4-1.1l.4 1.1l.4-.4l.4 .7l.4-.1l.4 1l.4-1.2l.4 1.5l.4-.3l.4 .3l.4-.6l.4 1.6l.4-.5l.4 .5l.4-.1l.4 .3l.4 0l.4 .9l.4-.5l.4 1l.4-.9l.4 .9l.4-.6l.4 1.3l.4-.8l.4 1.3l.4-1.3l.4 .2l.4-1l.4 1.5l.4-.6l.4 .5l.4-.1l.4 .3l.4-.3l.4 1.1l.4-1l.4 1.2l.4-.6l.4 .6l.4-.3l.4 .4l.4-.1l.4 .4l.4-.3l.4 .7l.4-.6l.4 .4l.4-.1l.4 .9l.4-.8l.4 .5l.4-.6l.4 .6l.4-.4l.4 .9l.4-.8l.4 .5l.4-.7l.4 1l.4-.6l.4 .9l.4-.8l.4 .4l.4-.2l.4 .3l.4-.2l.4 .3l.4-.4l.4 .3l.4-.1l.4 .9l.4-1.2l.4 .5l.4-.7l.4 .8l.4-.2l.4 .7l.4-.9l.4 1.2l.4-.7l.4 .9l.4-.8l.4 .4l.4-.4l.4 .6l.4-.9l.4 .8l.4-1l.4 .9l.4-.5l.4 .9l.4-1l.4 .6l.4-.6l.4 .5l.4-.3l.4 .2l.4-.2l.4 .2l.4-.2l.4 .4l.4-.7l.4 .7l.4-.9l.4 1.2l.4-.6l.4 .4l.4-1.1l.4 .8l.4-.1l.4 .6" fill="none" stroke="#858585" stroke-width="0.9"/>
<path d="M29.5 489.6l1 0l1 0l1 0l1 0l1 0l1 0l1 0l1 0l1 0l1 0l1 0l1-.1l1 0l1-.1l1-.2l1-.1l1-.3l1-.4l1-.5l1-.6l1-.7l1-.8l1-.9l1-.9l1-.9l1-.7l1-.6l1-.3l1-.1l1 .2l1 .4l1 .7l1 .8l1 .9l1 .9l1 .8l1 .8l1 .7l1 .5l1 .5l1 .3l1 .2l1 .2l1 .1l1 .1l1 0l1 .1l1 0l1 0l1 0l1 0l1 0l1 0l1 0l1 0l1 0l1 0l1 0l1 0l1 0l1 0l1 0l1 0l1 0l1 0l1 0l1 0l1 0l1 0l1 0l1 0l1 0l1 0l1 0l1 0l1 0l1 0l1 0l1 0l1 0l1 0l1 0l1 0l1 0l1 0l1 0l1 0l1 0l1 0l1 0l1 0l1 0l1 0l1 0l1 0l1 0l1 0l1 0l1 0l1 0l1 0l1 0l1 0l1 0l1 0l1 0l1 0l1 0l1 0l1 0l1 0l1 0l1 0l1 0l1 0l1 0l1 0l1 0l1 0l1 0l1 0l1 0l1 0l1 0l1 0l1 0l1 0l1 0l1 0l1 0l1 0l1 0l1 0l1 0l1 0l1 0l1 0l1 0l1 0l1 0l1 0l1 0l1 0l1 0l1 0l1 0l1 0l1 0l1 0l1 0l1 0l1 0l1 0l1 0l1 0l1 0l1 0l1 0l1 0l1 0l1 0l1 0l1 0l1 0l1 0l1 0l1 0l1 0l1 0l1 0l1 0l1 0l1 0l1 0l1 0l1 0l1 0l1 0l1 0l1 0l1 0l1 0l1 0l1 0l1 0l1 0l1 0l1 0l1 0l1 0l1 0l1 0l1 0l1 0l1 0l1 0l1 0l1 0l1 0l1 0l1 0l1 0l1 0l1 0l1 0l1 0l1 0l1 0l1 0l1 0l1 0l1 0l1 0l1 0l1 0l1 0l1 0l1 0l1 0l1 0l1 0l1 0l1 0l1 0l1 0l1 0l1 0l1 0l1 0l1 0l1 0" fill="none" stroke="#e0302a" stroke-width="1.1"/>
<path d="M29.5 489.6l1 0l1 0l1 0l1 0l1 0l1 0l1 0l1-.1l1 0l1 0l1 0l1-.1l1-.1l1 0l1-.1l1-.2l1-.1l1-.2l1-.3l1-.2l1-.4l1-.4l1-.4l1-.6l1-.6l1-.7l1-.8l1-.8l1-1l1-1l1-1.1l1-1.2l1-1.2l1-1.2l1-1.3l1-1.2l1-1.3l1-1.2l1-1.1l1-1l1-.9l1-.8l1-.6l1-.5l1-.2l1-.1l1 .1l1 .3l1 .5l1 .6l1 .8l1 1l1 1l1 1.2l1 1.2l1 1.2l1 1.3l1 1.2l1 1.3l1 1.2l1 1.1l1 1.1l1 1l1 1l1 .8l1 .8l1 .6l1 .6l1 .6l1 .4l1 .4l1 .3l1 .3l1 .2l1 .2l1 .2l1 .1l1 .1l1 .1l1 0l1 .1l1 0l1 0l1 0l1 .1l1 0l1 0l1 0l1 0l1 0l1 0l1 0l1 0l1 0l1 0l1 0l1 0l1 0l1 0l1 0l1 0l1 0l1 0l1 0l1 0l1 0l1 0l1 0l1 0l1 0l1 0l1 0l1 0l1 0l1 0l1 0l1 0l1 0l1 0l1 0l1 0l1 0l1 0l1 0l1 0l1 0l1 0l1 0l1 0l1 0l1 0l1 0l1 0l1 0l1 0l1 0l1 0l1 0l1 0l1 0l1 0l1 0l1 0l1 0l1 0l1 0l1 0l1 0l1 0l1 0l1 0l1 0l1 0l1 0l1 0l1 0l1 0l1 0l1 0l1 0l1 0l1 0l1 0l1 0l1 0l1 0l1 0l1 0l1 0l1 0l1 0l1 0l1 0l1 0l1 0l1 0l1 0l1 0l1 0l1 0l1 0l1 0l1 0l1 0l1 0l1 0l1 0l1 0l1 0l1 0l1 0l1 0l1 0l1 0l1 0l1 0l1 0l1 0l1 0l1 0l1 0l1 0l1 0l1 0l1 0l1 0l1 0l1 0l1 0l1 0l1 0l1 0l1 0l1 0l1 0l1 0l1 0l1 0l1 0l1 0l1 0l1 0l1 0l1 0l1 0l1 0l1 0l1 0l1 0l1 0l1 0" fill="none" stroke="#52c23a" stroke-width="1.1"/>
<path d="M29.5 488.7l1-.2l1-.1l1-.1l1-.2l1-.1l1-.2l1-.2l1-.2l1-.3l1-.2l1-.3l1-.3l1-.3l1-.4l1-.4l1-.4l1-.5l1-.4l1-.6l1-.5l1-.6l1-.7l1-.7l1-.8l1-.8l1-.8l1-.9l1-1l1-1l1-1.1l1-1.1l1-1.2l1-1.3l1-1.3l1-1.5l1-1.4l1-1.6l1-1.6l1-1.7l1-1.7l1-1.9l1-1.9l1-2l1-2l1-2.1l1-2.2l1-2.2l1-2.3l1-2.4l1-2.4l1-2.4l1-2.6l1-2.5l1-2.6l1-2.6l1-2.7l1-2.7l1-2.7l1-2.7l1-2.7l1-2.7l1-2.7l1-2.6l1-2.7l1-2.6l1-2.6l1-2.5l1-2.5l1-2.4l1-2.3l1-2.3l1-2.1l1-2.1l1-2l1-1.8l1-1.8l1-1.6l1-1.5l1-1.4l1-1.2l1-1.1l1-.9l1-.8l1-.6l1-.5l1-.3l1-.2l1 0l1 .2l1 .3l1 .5l1 .6l1 .8l1 .9l1 1.1l1 1.2l1 1.4l1 1.5l1 1.6l1 1.8l1 1.8l1 2l1 2.1l1 2.1l1 2.3l1 2.3l1 2.4l1 2.5l1 2.5l1 2.6l1 2.6l1 2.7l1 2.6l1 2.7l1 2.7l1 2.7l1 2.7l1 2.7l1 2.7l1 2.7l1 2.6l1 2.6l1 2.5l1 2.6l1 2.4l1 2.4l1 2.4l1 2.3l1 2.2l1 2.2l1 2.1l1 2l1 2l1 1.9l1 1.9l1 1.7l1 1.7l1 1.6l1 1.6l1 1.4l1 1.5l1 1.3l1 1.3l1 1.2l1 1.1l1 1.1l1 1l1 1l1 .9l1 .8l1 .8l1 .8l1 .7l1 .7l1 .6l1 .5l1 .6l1 .4l1 .5l1 .4l1 .4l1 .4l1 .3l1 .3l1 .3l1 .2l1 .3l1 .2l1 .2l1 .2l1 .1l1 .2l1 .1l1 .1l1 .2l1 .1l1 0l1 .1l1 .1l1 .1l1 0l1 .1l1 0l1 .1l1 0l1 0l1 .1l1 0l1 0l1 0l1 .1l1 0l1 0l1 0l1 0l1 0l1 0l1 0l1 .1l1 0l1 0l1 0l1 0l1 0l1 0l1 0l1 0l1 0l1 0l1 0l1 0l1 0l1 0l1 0l1 0l1 0l1 0l1 0l1 0l1 0l1 0l1 0l1 0l1 0l1 0l1 0l1 0l1 0l1 0l1 0l1 0" fill="none" stroke="#3848a8" stroke-width="1.1"/>
<path d="M29.5 489.6l1 0l1 0l1 0l1 0l1 0l1 0l1 0l1 0l1 0l1 0l1 0l1 0l1 0l1 0l1 0l1 0l1 0l1 0l1 0l1 0l1 0l1 0l1 0l1 0l1 0l1 0l1 0l1 0l1 0l1 0l1 0l1 0l1 0l1 0l1 0l1 0l1 0l1 0l1 0l1 0l1 0l1-.1l1 0l1 0l1 0l1 0l1 0l1 0l1 0l1-.1l1 0l1 0l1-.1l1 0l1 0l1-.1l1-.1l1 0l1-.1l1-.1l1-.1l1-.1l1-.1l1-.1l1-.2l1-.1l1-.2l1-.2l1-.2l1-.2l1-.3l1-.3l1-.3l1-.4l1-.3l1-.4l1-.5l1-.5l1-.5l1-.6l1-.6l1-.7l1-.7l1-.7l1-.8l1-.9l1-.9l1-1l1-1l1-1.1l1-1.2l1-1.2l1-1.3l1-1.4l1-1.4l1-1.5l1-1.5l1-1.6l1-1.6l1-1.7l1-1.8l1-1.8l1-1.8l1-1.9l1-2l1-1.9l1-2l1-2l1-2l1-2.1l1-2l1-2l1-2l1-2l1-2l1-1.9l1-1.9l1-1.8l1-1.8l1-1.7l1-1.6l1-1.6l1-1.4l1-1.4l1-1.2l1-1.1l1-1.1l1-.9l1-.7l1-.7l1-.5l1-.4l1-.2l1-.1l1 0l1 .2l1 .3l1 .5l1 .6l1 .7l1 .9l1 .9l1 1.1l1 1.2l1 1.3l1 1.5l1 1.5l1 1.6l1 1.6l1 1.8l1 1.8l1 1.8l1 1.9l1 2l1 2l1 2l1 2l1 2l1 2.1l1 2l1 2l1 2l1 2l1 1.9l1 1.9l1 1.9l1 1.8l1 1.8l1 1.7l1 1.7l1 1.6l1 1.5l1 1.5l1 1.5l1 1.3l1 1.4l1 1.2l1 1.2l1 1.1l1 1.1l1 1l1 .9l1 .9l1 .9l1 .7l1 .8l1 .7l1 .6l1 .6l1 .5l1 .5l1 .5l1 .4l1 .4l1 .4l1 .3l1 .3l1 .3l1 .2l1 .2l1 .2l1 .2l1 .2l1 .1l1 .2l1 .1l1 .1l1 .1l1 .1l1 .1l1 0l1 .1l1 0l1 .1l1 0l1 .1l1 0l1 0l1 0l1 .1l1 0l1 0l1 0l1 0l1 0l1 0l1 .1l1 0l1 0l1 0l1 0" fill="none" stroke="#f07f1c" stroke-width="1.1"/>
<path d="M29.5 489.6l1 0l1 0l1 0l1 0l1 0l1 0l1 0l1 0l1 0l1 0l1 0l1 0l1 0l1 0l1 0l1 0l1 0l1 0l1 0l1 0l1 0l1 0l1 0l1 0l1 0l1 0l1 0l1 0l1 0l1 0l1 0l1 0l1 0l1 0l1 0l1 0l1 0l1 0l1 0l1 0l1 0l1 0l1 0l1 0l1 0l1 0l1 0l1 0l1 0l1 0l1 0l1 0l1 0l1 0l1 0l1 0l1 0l1 0l1 0l1 0l1 0l1 0l1 0l1 0l1 0l1 0l1 0l1 0l1 0l1 0l1 0l1 0l1 0l1 0l1 0l1 0l1 0l1 0l1 0l1 0l1 0l1 0l1 0l1 0l1 0l1 0l1 0l1 0l1 0l1 0l1 0l1 0l1 0l1 0l1 0l1 0l1 0l1 0l1 0l1 0l1 0l1 0l1 0l1 0l1 0l1 0l1 0l1 0l1 0l1 0l1 0l1 0l1 0l1 0l1 0l1 0l1 0l1 0l1 0l1 0l1 0l1 0l1 0l1 0l1 0l1 0l1 0l1 0l1 0l1 0l1-.1l1 0l1 0l1 0l1 0l1 0l1 0l1-.1l1 0l1 0l1-.1l1 0l1-.1l1 0l1-.1l1 0l1-.1l1-.1l1-.1l1-.1l1-.1l1-.2l1-.1l1-.1l1-.2l1-.2l1-.2l1-.2l1-.2l1-.2l1-.3l1-.2l1-.3l1-.3l1-.3l1-.3l1-.3l1-.3l1-.4l1-.3l1-.3l1-.4l1-.3l1-.3l1-.4l1-.3l1-.3l1-.3l1-.3l1-.2l1-.3l1-.2l1-.2l1-.2l1-.1l1-.1l1-.1l1-.1l1 0l1 0l1 0l1 .1l1 .1l1 .1l1 .2l1 .2l1 .2l1 .2l1 .2l1 .3l1 .3l1 .3l1 .3l1 .3l1 .3l1 .4l1 .3l1 .3l1 .4l1 .3l1 .3l1 .4l1 .3l1 .3l1 .3l1 .2l1 .3l1 .3l1 .2l1 .2l1 .3l1 .2l1 .1l1 .2l1 .2l1 .1l1 .2l1 .1l1 .1l1 .1l1 .1" fill="none" stroke="#b443b8" stroke-width="1.1"/>
<path d="M20 489.5l1-.2l1-.1l1-.1l1-.1l1-.1l1-.2l1-.2l1-.2l1-.2l1-.4l1-.3l1-.4l1-.4l1-.5l1-.5l1-.6l1-.6l1-.6l1-.7l1-.8l1-.8l1-.9l1-.9l1-1.1l1-1.2l1-1.3l1-1.5l1-1.7l1-1.9l1-1.9l1-2.1l1-2.1l1-2.1l1-2.1l1-2l1-1.9l1-1.9l1-1.8l1-1.7l1-1.6l1-1.5l1-1.5l1-1.5l1-1.6l1-1.5l1-1.6l1-1.7l1-1.7l1-1.7l1-1.8l1-1.8l1-1.7l1-1.8l1-1.7l1-1.8l1-1.7l1-1.7l1-1.8l1-1.8l1-1.8l1-1.9l1-1.9l1-1.9l1-2l1-2l1-2l1-2.1l1-2l1-2l1-2l1-2.1l1-2l1-2l1-2l1-1.9l1-1.9l1-1.8l1-1.8l1-1.8l1-1.8l1-1.7l1-1.7l1-1.8l1-1.7l1-1.8l1-1.8l1-1.7l1-1.8l1-1.7l1-1.6l1-1.6l1-1.6l1-1.4l1-1.4l1-1.3l1-1.2l1-1.1l1-1l1-.8l1-.7l1-.6l1-.6l1-.4l1-.4l1-.4l1-.2l1-.2l1-.1l1-.1l1 0l1 0l1 .2l1 .1l1 .3l1 .3l1 .3l1 .4l1 .5l1 .6l1 .7l1 .7l1 .8l1 .9l1 .8l1 .8l1 .7l1 .7l1 .7l1 .8l1 .7l1 .9l1 1l1 1l1 1.3l1 1.3l1 1.4l1 1.5l1 1.6l1 1.6l1 1.6l1 1.6l1 1.7l1 1.7l1 1.7l1 1.8l1 1.8l1 1.9l1 2l1 2.1l1 2.1l1 2.2l1 2.3l1 2.3l1 2.3l1 2.2l1 2.3l1 2.3l1 2.2l1 2.3l1 2.2l1 2.3l1 2.3l1 2.2l1 2.3l1 2.3l1 2.3l1 2.3l1 2.3l1 2.2l1 2.2l1 2.2l1 2.1l1 2.1l1 2.1l1 2l1 1.9l1 1.9l1 1.8l1 1.7l1 1.6l1 1.6l1 1.5l1 1.4l1 1.4l1 1.4l1 1.3l1 1.3l1 1.2l1 1.2l1 1.1l1 1.1l1 1l1 1l1 .9l1 .9l1 .8l1 .8l1 .7l1 .7l1 .7l1 .6l1 .7l1 .6l1 .7l1 .6l1 .6l1 .6l1 .5l1 .6l1 .6l1 .5l1 .6l1 .5l1 .5l1 .5l1 .5l1 .5l1 .4l1 .5l1 .4l1 .4l1 .4l1 .3l1 .3l1 .4l1 .2l1 .3l1 .2l1 .3l1 .1l1 .2l1 .1l1 .2l1 0l1 .1l1 .1l1 .1l1 0l1 .1l1 .1l1 0l1 .2" fill="none" stroke="#000" stroke-width="1.4" stroke-linejoin="round"/>
<rect x="17.5" y="317.0" width="257" height="180" fill="none" stroke="#6a6a6a" stroke-width="1"/>
<line x1="29.5" y1="497.0" x2="29.5" y2="491.5" stroke="#6a6a6a" stroke-width="1"/>
<line x1="60.1" y1="497.0" x2="60.1" y2="494.0" stroke="#6a6a6a" stroke-width="1"/>
<line x1="90.8" y1="497.0" x2="90.8" y2="491.5" stroke="#6a6a6a" stroke-width="1"/>
<line x1="121.4" y1="497.0" x2="121.4" y2="494.0" stroke="#6a6a6a" stroke-width="1"/>
<line x1="152.0" y1="497.0" x2="152.0" y2="491.5" stroke="#6a6a6a" stroke-width="1"/>
<line x1="182.6" y1="497.0" x2="182.6" y2="494.0" stroke="#6a6a6a" stroke-width="1"/>
<line x1="213.2" y1="497.0" x2="213.2" y2="491.5" stroke="#6a6a6a" stroke-width="1"/>
<line x1="243.9" y1="497.0" x2="243.9" y2="494.0" stroke="#6a6a6a" stroke-width="1"/>
<line x1="274.5" y1="497.0" x2="274.5" y2="491.5" stroke="#6a6a6a" stroke-width="1"/>
<text x="23.5" y="338.0" font-family="Liberation Sans" font-weight="bold" font-size="13.5">c</text>
<text transform="translate(10.8,409.0) rotate(-90)" text-anchor="middle" font-family="Liberation Sans" font-size="12">Intensity (a.u.)</text>
<path d="M17.5 669l.4 .5l.4-.7l.4 1l.4-.9l.4 .9l.4-.8l.4 .6l.4-.5l.4 .6l.4-.8l.4 .6l.4-.5l.4 .4l.4-.3l.4 .4l.4-.5l.4 .9l.4-.8l.4 .3l.4-.2l.4 .4l.4-.6l.4 .2l.4-.1l.4 .3l.4-.8l.4 .7l.4-.9l.4 1.4l.4-.9l.4-.3l.4-1.1l.4 .7l.4-.2l.4 .3l.4-.7l.4 .6l.4-.9l.4 .3l.4-.4l.4 .1l.4-.8l.4 .9l.4-.8l.4 .5l.4-.9l.4 .5l.4-.8l.4 .6l.4-1.2l.4 .7l.4-.9l.4 .4l.4-1.1l.4 .7l.4-.8l.4 .1l.4-.5l.4 .6l.4-1.1l.4 .4l.4-1.3l.4 .6l.4-1.1l.4 .3l.4-.9l.4 .4l.4-1.2l.4 .2l.4-.7l.4 .4l.4-1.2l.4 .1l.4-1l.4 .3l.4-1l.4 .3l.4-1.1l.4 .8l.4-1.4l.4 .4l.4-1.1l.4 .1l.4-1.7l.4 .5l.4-1.1l.4 .2l.4-1l.4 .7l.4-1.7l.4 .3l.4-1.2l.4 .5l.4-1.7l.4 .6l.4-1.5l.4 .4l.4-.8l.4 .5l.4-2.2l.4 1.5l.4-1.4l.4 .7l.4-2.2l.4 1.1l.4-2.3l.4 2.1l.4-1.8l.4-.1l.4-.7l.4 .5l.4-1.9l.4 .4l.4-1.5l.4 1.3l.4-1.4l.4 .5l.4-1.2l.4 1.3l.4-2.9l.4 1.1l.4-1.2l.4 1.7l.4-2.7l.4 .5l.4-2.1l.4 2.2l.4-2.3l.4 1.7l.4-3.5l.4 1.4l.4-1.2l.4 2.5l.4-4l.4 2.3l.4-3.1l.4 3.1l.4-4.1l.4 1.1l.4-1.5l.4 .6l.4-1.5l.4 1.7l.4-2.7l.4 1.5l.4-2.6l.4 1.5l.4-2.6l.4 1.2l.4-4.4l.4 2.9l.4-.9l.4 1.4l.4-3l.4 2.9l.4-6.3l.4 4.2l.4-3.5l.4 3l.4-7.7l.4 6.9l.4-8.4l.4 6.8l.4-7.3l.4 7.3l.4-7.9l.4 8.7l.4-6.2l.4 .3l.4-8.4l.4 7.5l.4-3.1l.4 3.8l.4-5.2l.4 2.8l.4-2.9l.4 8.5l.4-10.6l.4 3.5l.4-10.9l.4 12.7l.4-12.1l.4 16l.4-19.6l.4 14.4l.4-14.2l.4 18.3l.4-16l.4 15.5l.4-17.3l.4 13.8l.4-23.9l.4 14.2l.4-18.5l.4 21.3l.4-13.6l.4 8.1l.4-3.5l.4 5l.4-9.2l.4 2.9l.4-6.4l.4 6.1l.4-14.5l.4 12.6l.4-22.8l.4 26.5l.4-29l.4 22.9l.4-17.5l.4 18.6l.4-16.9l.4 34.7l.4-33.3l.4 20.1l.4-16.6l.4 6.4l.4-16.1l.4 30.3l.4-38.7l.4 24.8l.4-20.1l.4 46.7l.4-55.4l.4 55.6l.4-53.5l.4 21.1l.4-5.6l.4 6.3l.4-8.6l.4 31l.4-47.1l.4 53.2l.4-48.7l.4 31.8l.4-52.3l.4 40.1l.4-11.6l.4 27.2l.4-46.8l.4 36.9l.4-21.9l.4 24.7l.4-27.7l.4 31.1l.4-39.4l.4 18.5l.4-45.5l.4 47.1l.4-27.2l.4 59.6l.4-46.5l.4 29.2l.4-29.4l.4 41.9l.4-62l.4 63.2l.4-74.5l.4 50.6l.4-35.7l.4 46.8l.4-43.9l.4 28.4l.4-25l.4 18.2l.4-34.3l.4 51.2l.4-45.2l.4 68.4l.4-74.6l.4 53.6l.4-50.8l.4 56.5l.4-39.7l.4 49.2l.4-44.9l.4 26.4l.4-33.8l.4 43.4l.4-28.6l.4 14.3l.4-16.5l.4 10.5l.4-16.8l.4 63.6l.4-69.1l.4 38l.4-44.5l.4 66.7l.4-64.8l.4 28.5l.4-17.6l.4 37.3l.4-40l.4 39.3l.4-67.2l.4 90.6l.4-83.2l.4 45.5l.4-24.9l.4 16.7l.4-16l.4 45.5l.4-57l.4 39.1l.4-39.1l.4 28.1l.4-49.9l.4 80.6l.4-60l.4 31.7l.4-12.6l.4 15.8l.4-15.6l.4 23.2l.4-14.8l.4 6l.4-37.4l.4 35.8l.4-42.5l.4 81.8l.4-76.8l.4 60.6l.4-25.3l.4 5.9l.4-5.5l.4 18.4l.4-16.2l.4 14.7l.4-45.5l.4 43.8l.4-19l.4 45.6l.4-37.1l.4 9.2l.4-27.5l.4 41.3l.4-54.2l.4 44.5l.4-10.7l.4 33.8l.4-32.1l.4 3.5l.4-25l.4 25.8l.4-4l.4 8.7l.4-13.8l.4 31l.4-34.9l.4 38.1l.4-27.5l.4 5.7l.4-10.8l.4 23.7l.4-28.1l.4 24.1l.4-18.5l.4 28.9l.4-25.2l.4 22.3l.4-18.1l.4 15.5l.4-19.6l.4 24.3l.4-25.1l.4 21l.4-11.1l.4 10.1l.4-17.4l.4 23.8l.4-11.2l.4 17.9l.4-17.1l.4 13.6l.4-19.8l.4 14.8l.4-5.2l.4 8l.4-13.1l.4 16.6l.4-10l.4 12l.4-13.2l.4 15.3l.4-6.6l.4 5.5l.4-6l.4 4.1l.4-3.8l.4 7.6l.4-4.6l.4 10.3l.4-11.9l.4 8.4l.4-3.3l.4 8.6l.4-6.9l.4 3.7l.4-3.1l.4 7.2l.4-5.2l.4 7.3l.4-4.4l.4 2l.4-3.7l.4 5.4l.4-1.6l.4 4.6l.4-3.5l.4 2.3l.4-1.8l.4 4l.4-1.9l.4 1.9l.4 .3l.4 3l.4-2.1l.4 2.3l.4-2.7l.4 3.6l.4-.7l.4 1.5l.4-2.2l.4 3.6l.4-1.4l.4 2.2l.4-1.5l.4 1.9l.4 .2l.4 1.2l.4-.6l.4 2.2l.4-1.4l.4 1.9l.4-1l.4 1.6l.4-.2l.4 .8l.4-.5l.4 1.1l.4-.3l.4 1.6l.4-.2l.4 .8l.4-.4l.4 1.1l.4-.1l.4 .5l.4-.7l.4 1.8l.4-.5l.4 1.3l.4-.5l.4 .9l.4 0l.4 1l.4-1.1l.4 1.4l.4-.5l.4 1.8l.4-.7l.4 .5l.4 0l.4 .7l.4-.1l.4 .4l.4-.6l.4 1.4l.4-.9l.4 1.4l.4-.2l.4 .5l.4-.2l.4 .9l.4-.8l.4 1.8l.4-.6l.4 .8l.4-1l.4 1.7l.4-.8l.4 .8l.4-.4l.4 .6l.4-.7l.4 1.3l.4-.1l.4 .3l.4 .1l.4 .6l.4-1l.4 1.5l.4-.4l.4 .4l.4-.1l.4 1l.4-1.2l.4 1.7l.4-.9l.4 .5l.4 .1l.4 .9l.4-.7l.4 .6l.4-.7l.4 1.1l.4-.6l.4 .7l.4-.1l.4 .4l.4-.4l.4 .4l.4 .1l.4 .4l.4-.1l.4 .2l.4 0l.4 .4l.4-.9l.4 1.1l.4-.3l.4 1.1l.4-1.2l.4 1.3l.4-.8l.4 .7l.4-1l.4 1.4l.4-.7l.4 .9l.4-.8l.4 .6l.4-.2l.4 .7l.4-.5l.4 .4l.4-.1l.4 .3l.4-.2l.4 .7l.4-.9l.4 1.2l.4-.6l.4 .5l.4-.5l.4 .5l.4-.3l.4 .5l.4-.4l.4 .7l.4-.7l.4 1.2l.4-1.5l.4 1.6l.4-1.5l.4 1.2l.4-.4l.4 .4l.4-.5l.4 .5l.4 0l.4 .3l.4-1l.4 1.6l.4-1.5l.4 .9l.4-.3l.4 .6l.4-.3l.4 .3l.4-.1l.4 .4l.4-.3l.4 .1l.4-.1l.4 .5l.4-.3l.4 .1l.4-.2l.4 .7l.4-.6l.4 .6l.4-.6l.4 .5l.4-.3l.4 .3l.4-.4l.4 1l.4-.7l.4 .4l.4-.4l.4 .3l.4-.5l.4 .7l.4-.3l.4 .4l.4-.8l.4 1l.4-.6l.4 .7l.4-.5l.4 .2l.4-.2l.4 .5l.4-.4l.4 .2l.4-.3l.4 .5l.4-.7l.4 1.1l.4-.8l.4 .1l.4-.4l.4 .6l.4-.4l.4 .4l.4-.5l.4 1l.4-.9l.4 .4l.4-.6l.4 .8l.4-.9l.4 .5l.4-.5l.4 .7l.4-.7l.4 .9l.4-.7l.4 1l.4-1l.4 .9l.4-1.1l.4 1l.4-1.3l.4 1.1l.4-.8l.4 .6l.4-.6l.4 .5" fill="none" stroke="#858585" stroke-width="0.9"/>
<path d="M29.5 669.2l1 0l1 0l1 0l1 0l1 0l1 0l1 0l1 0l1 0l1-.1l1 0l1 0l1-.1l1-.1l1-.1l1-.2l1-.2l1-.3l1-.3l1-.3l1-.4l1-.4l1-.3l1-.4l1-.3l1-.2l1-.1l1 0l1 .1l1 .2l1 .3l1 .3l1 .4l1 .3l1 .4l1 .4l1 .3l1 .3l1 .2l1 .2l1 .1l1 .1l1 .1l1 0l1 0l1 .1l1 0l1 0l1 0l1 0l1 0l1 0l1 0l1 0l1 0l1 0l1 0l1 0l1 0l1 0l1 0l1 0l1 0l1 0l1 0l1 0l1 0l1 0l1 0l1 0l1 0l1 0l1 0l1 0l1 0l1 0l1 0l1 0l1 0l1 0l1 0l1 0l1 0l1 0l1 0l1 0l1 0l1 0l1 0l1 0l1 0l1 0l1 0l1 0l1 0l1 0l1 0l1 0l1 0l1 0l1 0l1 0l1 0l1 0l1 0l1 0l1 0l1 0l1 0l1 0l1 0l1 0l1 0l1 0l1 0l1 0l1 0l1 0l1 0l1 0l1 0l1 0l1 0l1 0l1 0l1 0l1 0l1 0l1 0l1 0l1 0l1 0l1 0l1 0l1 0l1 0l1 0l1 0l1 0l1 0l1 0l1 0l1 0l1 0l1 0l1 0l1 0l1 0l1 0l1 0l1 0l1 0l1 0l1 0l1 0l1 0l1 0l1 0l1 0l1 0l1 0l1 0l1 0l1 0l1 0l1 0l1 0l1 0l1 0l1 0l1 0l1 0l1 0l1 0l1 0l1 0l1 0l1 0l1 0l1 0l1 0l1 0l1 0l1 0l1 0l1 0l1 0l1 0l1 0l1 0l1 0l1 0l1 0l1 0l1 0l1 0l1 0l1 0l1 0l1 0l1 0l1 0l1 0l1 0l1 0l1 0l1 0l1 0l1 0l1 0l1 0l1 0l1 0l1 0l1 0l1 0l1 0l1 0l1 0l1 0l1 0l1 0l1 0l1 0l1 0l1 0l1 0l1 0l1 0l1 0l1 0" fill="none" stroke="#e0302a" stroke-width="1.1"/>
<path d="M29.5 669.1l1 0l1 0l1 0l1 0l1-.1l1 0l1-.1l1 0l1-.1l1-.1l1 0l1-.1l1-.2l1-.1l1-.2l1-.1l1-.2l1-.3l1-.2l1-.3l1-.3l1-.3l1-.3l1-.3l1-.4l1-.4l1-.4l1-.4l1-.4l1-.3l1-.4l1-.4l1-.4l1-.3l1-.3l1-.3l1-.2l1-.2l1-.1l1-.1l1-.1l1 0l1 .1l1 .1l1 .1l1 .2l1 .2l1 .3l1 .3l1 .3l1 .4l1 .4l1 .4l1 .3l1 .4l1 .4l1 .4l1 .4l1 .4l1 .3l1 .3l1 .3l1 .3l1 .3l1 .2l1 .3l1 .2l1 .1l1 .2l1 .1l1 .2l1 .1l1 0l1 .1l1 .1l1 0l1 .1l1 0l1 .1l1 0l1 0l1 0l1 0l1 .1l1 0l1 0l1 0l1 0l1 0l1 0l1 0l1 0l1 0l1 0l1 0l1 0l1 0l1 0l1 0l1 0l1 0l1 0l1 0l1 0l1 0l1 0l1 0l1 0l1 0l1 0l1 0l1 0l1 0l1 0l1 0l1 0l1 0l1 0l1 0l1 0l1 0l1 0l1 0l1 0l1 0l1 0l1 0l1 0l1 0l1 0l1 0l1 0l1 0l1 0l1 0l1 0l1 0l1 0l1 0l1 0l1 0l1 0l1 0l1 0l1 0l1 0l1 0l1 0l1 0l1 0l1 0l1 0l1 0l1 0l1 0l1 0l1 0l1 0l1 0l1 0l1 0l1 0l1 0l1 0l1 0l1 0l1 0l1 0l1 0l1 0l1 0l1 0l1 0l1 0l1 0l1 0l1 0l1 0l1 0l1 0l1 0l1 0l1 0l1 0l1 0l1 0l1 0l1 0l1 0l1 0l1 0l1 0l1 0l1 0l1 0l1 0l1 0l1 0l1 0l1 0l1 0l1 0l1 0l1 0l1 0l1 0l1 0l1 0l1 0l1 0l1 0l1 0l1 0l1 0l1 0l1 0l1 0l1 0l1 0l1 0l1 0l1 0l1 0l1 0l1 0l1 0l1 0l1 0l1 0l1 0l1 0" fill="none" stroke="#52c23a" stroke-width="1.1"/>
<path d="M29.5 668l1-.2l1-.1l1-.2l1-.1l1-.2l1-.2l1-.2l1-.2l1-.2l1-.3l1-.3l1-.3l1-.3l1-.3l1-.4l1-.4l1-.4l1-.4l1-.5l1-.5l1-.5l1-.6l1-.6l1-.6l1-.7l1-.7l1-.7l1-.8l1-.8l1-.8l1-.9l1-1l1-.9l1-1l1-1.1l1-1.1l1-1.1l1-1.2l1-1.2l1-1.3l1-1.3l1-1.3l1-1.4l1-1.4l1-1.4l1-1.5l1-1.5l1-1.6l1-1.5l1-1.6l1-1.6l1-1.7l1-1.6l1-1.7l1-1.7l1-1.7l1-1.6l1-1.7l1-1.7l1-1.7l1-1.7l1-1.6l1-1.6l1-1.6l1-1.6l1-1.6l1-1.5l1-1.4l1-1.4l1-1.4l1-1.3l1-1.3l1-1.2l1-1.1l1-1.1l1-1l1-.9l1-.8l1-.8l1-.7l1-.5l1-.5l1-.5l1-.3l1-.2l1-.2l1 0l1 0l1 .2l1 .2l1 .3l1 .5l1 .5l1 .5l1 .7l1 .8l1 .8l1 .9l1 1l1 1.1l1 1.1l1 1.2l1 1.3l1 1.3l1 1.4l1 1.4l1 1.4l1 1.5l1 1.6l1 1.6l1 1.6l1 1.6l1 1.6l1 1.7l1 1.7l1 1.7l1 1.7l1 1.6l1 1.7l1 1.7l1 1.7l1 1.6l1 1.7l1 1.6l1 1.6l1 1.5l1 1.6l1 1.5l1 1.5l1 1.4l1 1.4l1 1.4l1 1.3l1 1.3l1 1.3l1 1.2l1 1.2l1 1.1l1 1.1l1 1.1l1 1l1 .9l1 1l1 .9l1 .8l1 .8l1 .8l1 .7l1 .7l1 .7l1 .6l1 .6l1 .6l1 .5l1 .5l1 .5l1 .4l1 .4l1 .4l1 .4l1 .3l1 .3l1 .3l1 .3l1 .3l1 .2l1 .2l1 .2l1 .2l1 .2l1 .1l1 .2l1 .1l1 .2l1 .1l1 .1l1 .1l1 .1l1 0l1 .1l1 .1l1 0l1 .1l1 .1l1 0l1 0l1 .1l1 0l1 0l1 .1l1 0l1 0l1 0l1 .1l1 0l1 0l1 0l1 0l1 0l1 0l1 0l1 0l1 .1l1 0l1 0l1 0l1 0l1 0l1 0l1 0l1 0l1 0l1 0l1 0l1 0l1 0l1 0l1 0l1 0l1 0l1 0l1 0l1 0l1 0l1 0l1 0l1 0l1 0l1 0l1 0l1 0" fill="none" stroke="#3848a8" stroke-width="1.1"/>
<path d="M29.5 669.2l1 0l1 0l1 0l1 0l1 0l1 0l1 0l1 0l1 0l1 0l1 0l1 0l1 0l1 0l1 0l1 0l1 0l1 0l1 0l1 0l1 0l1 0l1 0l1 0l1 0l1 0l1 0l1 0l1 0l1 0l1 0l1 0l1 0l1 0l1 0l1 0l1 0l1-.1l1 0l1 0l1 0l1 0l1 0l1 0l1-.1l1 0l1 0l1 0l1-.1l1 0l1 0l1-.1l1-.1l1 0l1-.1l1-.1l1 0l1-.1l1-.1l1-.2l1-.1l1-.1l1-.2l1-.2l1-.2l1-.2l1-.2l1-.2l1-.3l1-.3l1-.3l1-.4l1-.3l1-.4l1-.5l1-.4l1-.5l1-.5l1-.6l1-.6l1-.6l1-.7l1-.7l1-.8l1-.7l1-.9l1-.8l1-.9l1-1l1-1l1-1l1-1l1-1.1l1-1.1l1-1.2l1-1.1l1-1.2l1-1.3l1-1.2l1-1.2l1-1.3l1-1.3l1-1.3l1-1.2l1-1.3l1-1.2l1-1.3l1-1.2l1-1.2l1-1.2l1-1.1l1-1.1l1-1l1-1l1-1l1-.8l1-.8l1-.8l1-.7l1-.6l1-.5l1-.4l1-.4l1-.3l1-.2l1-.1l1 0l1 .1l1 .1l1 .3l1 .3l1 .4l1 .5l1 .6l1 .6l1 .7l1 .8l1 .9l1 .9l1 1l1 1l1 1.1l1 1.1l1 1.1l1 1.2l1 1.2l1 1.3l1 1.2l1 1.3l1 1.2l1 1.3l1 1.3l1 1.3l1 1.2l1 1.3l1 1.2l1 1.2l1 1.2l1 1.1l1 1.2l1 1l1 1.1l1 1l1 1l1 1l1 .9l1 .9l1 .8l1 .8l1 .8l1 .7l1 .7l1 .7l1 .6l1 .5l1 .6l1 .5l1 .5l1 .4l1 .4l1 .4l1 .4l1 .3l1 .3l1 .3l1 .2l1 .3l1 .2l1 .2l1 .1l1 .2l1 .2l1 .1l1 .1l1 .1l1 .1l1 .1l1 .1l1 .1l1 0l1 .1l1 0l1 .1l1 0l1 .1l1 0l1 0l1 0l1 .1l1 0l1 0l1 0l1 0l1 0l1 0l1 .1l1 0l1 0l1 0l1 0l1 0l1 0l1 0l1 0l1 0l1 0l1 0l1 0l1 0l1 0l1 0" fill="none" stroke="#f07f1c" stroke-width="1.1"/>
<path d="M29.5 669.2l1 0l1 0l1 0l1 0l1 0l1 0l1 0l1 0l1 0l1 0l1 0l1 0l1 0l1 0l1 0l1 0l1 0l1 0l1 0l1 0l1 0l1 0l1 0l1 0l1 0l1 0l1 0l1 0l1 0l1 0l1 0l1 0l1 0l1 0l1 0l1 0l1 0l1 0l1 0l1 0l1 0l1 0l1 0l1 0l1 0l1 0l1 0l1 0l1 0l1 0l1 0l1 0l1 0l1 0l1 0l1 0l1 0l1 0l1 0l1 0l1 0l1 0l1 0l1 0l1 0l1 0l1 0l1 0l1 0l1 0l1 0l1 0l1 0l1 0l1 0l1 0l1 0l1 0l1 0l1 0l1 0l1 0l1 0l1 0l1 0l1 0l1 0l1 0l1 0l1 0l1 0l1 0l1 0l1 0l1 0l1 0l1 0l1 0l1 0l1 0l1 0l1 0l1 0l1 0l1 0l1 0l1 0l1 0l1 0l1 0l1 0l1 0l1 0l1 0l1 0l1 0l1 0l1 0l1-.1l1 0l1 0l1 0l1 0l1 0l1-.1l1 0l1 0l1 0l1-.1l1 0l1-.1l1 0l1-.1l1 0l1-.1l1-.1l1-.1l1-.1l1-.1l1-.1l1-.1l1-.2l1-.1l1-.2l1-.1l1-.2l1-.2l1-.1l1-.2l1-.3l1-.2l1-.2l1-.2l1-.2l1-.3l1-.2l1-.2l1-.3l1-.2l1-.2l1-.3l1-.2l1-.2l1-.2l1-.2l1-.1l1-.2l1-.1l1-.2l1-.1l1-.1l1 0l1-.1l1 0l1 0l1 0l1 .1l1 0l1 .1l1 .1l1 .1l1 .2l1 .1l1 .2l1 .2l1 .2l1 .2l1 .2l1 .2l1 .2l1 .3l1 .2l1 .2l1 .3l1 .2l1 .2l1 .3l1 .2l1 .2l1 .2l1 .2l1 .2l1 .2l1 .2l1 .1l1 .2l1 .1l1 .1l1 .2l1 .1l1 .1l1 .1l1 .1l1 .1l1 0l1 .1l1 .1l1 0l1 .1l1 0l1 0l1 .1l1 0l1 0l1 .1l1 0l1 0l1 0l1 0l1 0l1 0" fill="none" stroke="#b443b8" stroke-width="1.1"/>
<path d="M29.5 668.5l1-.5l1-.2l1-.2l1-.3l1-.3l1-.4l1-.4l1-.5l1-.5l1-.5l1-.7l1-.6l1-.8l1-.7l1-.9l1-.8l1-.9l1-.9l1-1l1-1l1-1l1-1.1l1-1.1l1-1.1l1-1.1l1-1.1l1-1.1l1-1.1l1-1.1l1-1l1-1l1-1l1-1l1-1.1l1-1l1-1l1-1l1-1l1-1.1l1-1l1-1l1-1.1l1-1.1l1-1.1l1-1.1l1-1.2l1-1.2l1-1.2l1-1.3l1-1.3l1-1.4l1-1.4l1-1.4l1-1.4l1-1.5l1-1.5l1-1.5l1-1.5l1-1.6l1-1.6l1-1.6l1-1.6l1-1.6l1-1.6l1-1.6l1-1.7l1-1.6l1-1.7l1-1.6l1-1.7l1-1.6l1-1.6l1-1.6l1-1.5l1-1.5l1-1.4l1-1.3l1-1.3l1-1.2l1-1.1l1-1.1l1-1.1l1-1l1-.9l1-1l1-.8l1-.9l1-.8l1-.8l1-.7l1-.7l1-.6l1-.7l1-.5l1-.5l1-.4l1-.3l1-.2l1 0l1-.1l1 .1l1 .1l1 .2l1 .2l1 .2l1 .3l1 .4l1 .5l1 .5l1 .7l1 .7l1 .8l1 .8l1 .8l1 .8l1 .9l1 .8l1 .8l1 .8l1 .9l1 .9l1 1l1 1.1l1 1.2l1 1.4l1 1.4l1 1.4l1 1.6l1 1.6l1 1.6l1 1.6l1 1.7l1 1.7l1 1.7l1 1.8l1 1.8l1 1.8l1 1.8l1 1.8l1 1.9l1 1.9l1 1.9l1 1.8l1 1.9l1 1.8l1 1.8l1 1.7l1 1.7l1 1.7l1 1.7l1 1.6l1 1.5l1 1.6l1 1.5l1 1.5l1 1.4l1 1.5l1 1.3l1 1.4l1 1.3l1 1.2l1 1.1l1 1.2l1 1l1 1l1 1l1 .9l1 .9l1 .9l1 .8l1 .8l1 .8l1 .7l1 .8l1 .7l1 .6l1 .7l1 .6l1 .6l1 .6l1 .5l1 .5l1 .6l1 .5l1 .5l1 .4l1 .5l1 .4l1 .4l1 .4l1 .4l1 .4l1 .3l1 .3l1 .4l1 .3l1 .2l1 .3l1 .3l1 .3l1 .2l1 .2l1 .3l1 .2l1 .2l1 .2l1 .2l1 .2l1 .2l1 .1l1 .2l1 .1l1 .2l1 .1l1 .2l1 .1l1 .1l1 .2l1 .1l1 .1l1 .1l1 .1l1 .1l1 .1l1 .1l1 0l1 .1l1 .1l1 0l1 .1l1 0l1 .1l1 .1" fill="none" stroke="#000" stroke-width="1.4" stroke-linejoin="round"/>
<rect x="17.5" y="497.0" width="257" height="180" fill="none" stroke="#6a6a6a" stroke-width="1"/>
<line x1="29.5" y1="677.0" x2="29.5" y2="671.5" stroke="#6a6a6a" stroke-width="1"/>
<line x1="60.1" y1="677.0" x2="60.1" y2="674.0" stroke="#6a6a6a" stroke-width="1"/>
<line x1="90.8" y1="677.0" x2="90.8" y2="671.5" stroke="#6a6a6a" stroke-width="1"/>
<line x1="121.4" y1="677.0" x2="121.4" y2="674.0" stroke="#6a6a6a" stroke-width="1"/>
<line x1="152.0" y1="677.0" x2="152.0" y2="671.5" stroke="#6a6a6a" stroke-width="1"/>
<line x1="182.6" y1="677.0" x2="182.6" y2="674.0" stroke="#6a6a6a" stroke-width="1"/>
<line x1="213.2" y1="677.0" x2="213.2" y2="671.5" stroke="#6a6a6a" stroke-width="1"/>
<line x1="243.9" y1="677.0" x2="243.9" y2="674.0" stroke="#6a6a6a" stroke-width="1"/>
<line x1="274.5" y1="677.0" x2="274.5" y2="671.5" stroke="#6a6a6a" stroke-width="1"/>
<text x="23.5" y="518.0" font-family="Liberation Sans" font-weight="bold" font-size="13.5">d</text>
<text transform="translate(10.8,589.0) rotate(-90)" text-anchor="middle" font-family="Liberation Sans" font-size="12">Intensity (a.u.)</text>
<path d="M17.5 849.1l.4 .1l.4-.3l.4 .4l.4-.2l.4 .3l.4-.2l.4 .7l.4-.9l.4 .2l.4-.1l.4 .4l.4-.8l.4 .6l.4-.5l.4 .6l.4-.3l.4 .3l.4-.6l.4 .9l.4-.7l.4 .3l.4-.6l.4 .5l.4 0l.4 .2l.4-.4l.4 .3l.4-.8l.4 1.1l.4-.7l.4-2.3l.4-.6l.4 0l.4-.9l.4 .9l.4-1.3l.4 .3l.4-.7l.4 .4l.4-1.4l.4 1.1l.4-.9l.4 .1l.4-.6l.4 .1l.4-1.4l.4 .9l.4-1.1l.4 .8l.4-1.4l.4 .7l.4-1.5l.4 .3l.4-1.2l.4 .7l.4-.6l.4 .1l.4-1l.4 .2l.4-.8l.4-.1l.4-.9l.4 .3l.4-.8l.4-.2l.4-1.2l.4 .4l.4-1.2l.4 .3l.4-1.1l.4 .5l.4-1.5l.4-.5l.4-1l.4-.3l.4-1.2l.4-.4l.4-1.9l.4 .1l.4-1.3l.4-.5l.4-1.6l.4-.5l.4-1.3l.4-.6l.4-1.2l.4-.2l.4-2l.4-.1l.4-1.8l.4-.3l.4-1.1l.4-.4l.4-1.5l.4-.6l.4-1l.4-.5l.4-1.1l.4-.3l.4-1.3l.4-.4l.4-1.6l.4 0l.4-1.4l.4 0l.4-1.8l.4 0l.4-1.2l.4 .1l.4-2l.4-.1l.4-1.3l.4-.1l.4-1.2l.4-.4l.4-1.2l.4-.1l.4-1.8l.4 .1l.4-1.7l.4-.2l.4-1.1l.4-.2l.4-1.6l.4 0l.4-1.3l.4 .7l.4-2.2l.4 .5l.4-1.9l.4-.4l.4-1.5l.4 .2l.4-2l.4 0l.4-2.2l.4 .6l.4-1.8l.4-.1l.4-2.7l.4 .7l.4-1.8l.4 .1l.4-2.6l.4 1.1l.4-3.9l.4 1.9l.4-3.1l.4 .9l.4-2.6l.4 1.3l.4-3.5l.4 .8l.4-3.4l.4 2l.4-4.4l.4 .3l.4-1.7l.4-.7l.4-1.5l.4 2.2l.4-8.4l.4 3.6l.4-3.6l.4 2.7l.4-3.5l.4 5.9l.4-9.1l.4 3.4l.4-6.6l.4 3.8l.4-2.6l.4 2.7l.4-8.1l.4 6.5l.4-7.3l.4 4.7l.4-5.7l.4 10.7l.4-15.9l.4 4.8l.4-2.7l.4 5.6l.4-10.1l.4 10.5l.4-9.5l.4 3l.4-7.4l.4 7.6l.4-11.3l.4 18.8l.4-17.5l.4 5.7l.4-17.3l.4 22.8l.4-11.4l.4 2.3l.4-10.4l.4 13.3l.4-18.9l.4 21.5l.4-26.8l.4 26.4l.4-21.1l.4 13.1l.4-6l.4 13.5l.4-19.3l.4 20.3l.4-28.1l.4 37.3l.4-28.1l.4 18.7l.4-22.4l.4 15.8l.4-19.7l.4 21.5l.4-32.2l.4 34.1l.4-26l.4 17.2l.4-20.2l.4 23.2l.4-18.9l.4 12l.4-24.5l.4 28.5l.4-10.5l.4 15.9l.4-36l.4 28.7l.4-10.4l.4 7.1l.4-17.7l.4 30.2l.4-32.1l.4 45.5l.4-38.6l.4 21.1l.4-16.6l.4 16.6l.4-27.4l.4 18.5l.4-5l.4 12.2l.4-22.6l.4 28.5l.4-42.9l.4 56.3l.4-31.1l.4 6.1l.4-25.7l.4 36.3l.4-21.9l.4 29.5l.4-34.2l.4 13.1l.4-11.1l.4 27.4l.4-21.3l.4 13.4l.4-27.2l.4 19.1l.4-2.3l.4 23.2l.4-48.4l.4 37.4l.4-23l.4 20.1l.4-12.6l.4 11.9l.4-6l.4 7.3l.4-13.5l.4 12.1l.4-30.4l.4 29.3l.4-22.3l.4 35.1l.4-17.9l.4 3l.4-2.1l.4 13.2l.4-13.9l.4 14.7l.4-16.5l.4 13.9l.4-30.6l.4 38.1l.4-25.4l.4 15.8l.4-16.6l.4 15.3l.4-25.5l.4 30.7l.4-29.4l.4 36l.4-28.1l.4 20.3l.4-5.2l.4 3.6l.4-21.3l.4 27.4l.4-16.5l.4 27.6l.4-21.5l.4 11.2l.4-24.4l.4 31.9l.4-30.1l.4 17.8l.4-.4l.4 9.1l.4-8.9l.4 7.2l.4-10.9l.4 20.8l.4-27.4l.4 15.1l.4-1.1l.4 5l.4-6.8l.4 6.7l.4-8.6l.4 6.8l.4-3.6l.4 4.6l.4-7l.4 7.8l.4-2.8l.4 3.6l.4-8.9l.4 16l.4-9.8l.4 6.4l.4-4.6l.4 6.3l.4-3.8l.4 2l.4-3.2l.4 6.8l.4-7.6l.4 10.9l.4-8.6l.4 5.6l.4-2.6l.4 3.7l.4-8.7l.4 10.7l.4-2.9l.4 3.6l.4-5.1l.4 8.8l.4-10.1l.4 12.8l.4-7.3l.4 8.7l.4-7.4l.4 3l.4-.7l.4 2.6l.4-.2l.4 3.2l.4-3.7l.4 5.3l.4-2.2l.4 3.2l.4-1.5l.4 2.8l.4-.7l.4 2.2l.4-2.1l.4 3.2l.4 .3l.4 3.9l.4-3.6l.4 3.9l.4-1.7l.4 2.4l.4-.1l.4 1.5l.4-.6l.4 4l.4-2l.4 3l.4-1.8l.4 2.7l.4-.8l.4 2.5l.4-.2l.4 1.2l.4 .3l.4 1.6l.4-.7l.4 2.6l.4-.2l.4 1.7l.4-1l.4 2.6l.4-.9l.4 2.8l.4-.4l.4 1.6l.4-.5l.4 1.9l.4 .4l.4 1.6l.4-.4l.4 1.9l.4 .2l.4 1.3l.4 0l.4 1.4l.4 0l.4 1.1l.4-.4l.4 2.1l.4-.2l.4 1.4l.4-.4l.4 .7l.4 .3l.4 .9l.4 .1l.4 1l.4-.3l.4 .9l.4 .2l.4 .8l.4 0l.4 1.2l.4-.1l.4 .9l.4-.6l.4 1.4l.4 .1l.4 .5l.4 0l.4 1.4l.4-.3l.4 .6l.4-.1l.4 1.2l.4-1.4l.4 .7l.4-.4l.4 1.4l.4-.5l.4 1.4l.4-.5l.4 .5l.4 0l.4 .8l.4-.1l.4 1.1l.4-.5l.4 .5l.4-.3l.4 .9l.4-.5l.4 1.2l.4 0l.4 1.1l.4-.8l.4 1l.4-.6l.4 1.1l.4-.3l.4 1l.4 0l.4 .6l.4 .3l.4 .5l.4 .1l.4 1.3l.4-.4l.4 1l.4-.6l.4 1.1l.4 0l.4 .8l.4 0l.4 .9l.4 .1l.4 .8l.4 .2l.4 .7l.4 .1l.4 1.2l.4-.2l.4 .7l.4-.3l.4 1l.4 0l.4 1l.4 0l.4 1.5l.4-.6l.4 1.1l.4-.3l.4 1.5l.4-.9l.4 1.2l.4-.1l.4 1.2l.4-.5l.4 1l.4 0l.4 1.2l.4-.7l.4 .7l.4-.1l.4 .7l.4-.2l.4 .7l.4-.1l.4 1.1l.4-.5l.4 .5l.4-.1l.4 .9l.4-.3l.4 .5l.4 0l.4 .3l.4-.5l.4 .9l.4-.4l.4 1.1l.4-.7l.4 .8l.4-.3l.4 .8l.4-.4l.4 .5l.4 0l.4 .3l.4-.2l.4 1l.4-.6l.4 1.6l.4-.7l.4 .7l.4 0l.4 .5l.4-.7l.4 1l.4-.1l.4 .7l.4-.3l.4 1l.4-.9l.4 1.5l.4-.9l.4 1.1l.4-.7l.4 1.1l.4-.6l.4 .6l.4-.2l.4 .6l.4-.5l.4 .9l.4-.7l.4 1.2l.4-.4l.4 .3l.4-.5l.4 .9l.4-.4l.4 1l.4-1.2l.4 1.4l.4-.8l.4 .6l.4-.1l.4 .6l.4-.3l.4 .4l.4-.1l.4 .5l.4-.9l.4 1.3l.4-.4l.4 .3l.4-.2l.4 .5l.4 0l.4 .2l.4-.4l.4 1.2l.4-.6l.4 .6l.4-.4l.4 .7l.4-.9l.4 .6l.4-.2l.4 .6l.4-.6l.4 1.1l.4-.8l.4 .4l.4-.1l.4 .6l.4-.7l.4 .6l.4-.1l.4 .3l.4-.3l.4 .7l.4-1.1l.4 1l.4-.8l.4 1.5l.4-1.2l.4 .8l.4-.1l.4 .2l.4-.3l.4 .9l.4-.6l.4 .7l.4-.8l.4 .6l.4-.2l.4 .5l.4-.6l.4 1.2l.4-.9l.4 .4l.4-.1l.4 .6l.4-.8l.4 .9l.4-.6l.4 .8l.4-.7l.4 .8l.4-.6l.4 .6" fill="none" stroke="#858585" stroke-width="0.9"/>
<path d="M29.5 849.2l1 0l1 0l1 0l1 0l1 0l1 0l1 0l1-.1l1 0l1-.1l1-.1l1-.2l1-.3l1-.3l1-.6l1-.6l1-.9l1-1l1-1.2l1-1.3l1-1.5l1-1.5l1-1.5l1-1.3l1-1.2l1-.8l1-.4l1-.1l1 .4l1 .8l1 1l1 1.3l1 1.5l1 1.5l1 1.5l1 1.4l1 1.2l1 1.1l1 .8l1 .7l1 .6l1 .4l1 .2l1 .2l1 .2l1 .1l1 0l1 .1l1 0l1 0l1 0l1 0l1 0l1 0l1 0l1 0l1 0l1 0l1 0l1 0l1 0l1 0l1 0l1 0l1 0l1 0l1 0l1 0l1 0l1 0l1 0l1 0l1 0l1 0l1 0l1 0l1 0l1 0l1 0l1 0l1 0l1 0l1 0l1 0l1 0l1 0l1 0l1 0l1 0l1 0l1 0l1 0l1 0l1 0l1 0l1 0l1 0l1 0l1 0l1 0l1 0l1 0l1 0l1 0l1 0l1 0l1 0l1 0l1 0l1 0l1 0l1 0l1 0l1 0l1 0l1 0l1 0l1 0l1 0l1 0l1 0l1 0l1 0l1 0l1 0l1 0l1 0l1 0l1 0l1 0l1 0l1 0l1 0l1 0l1 0l1 0l1 0l1 0l1 0l1 0l1 0l1 0l1 0l1 0l1 0l1 0l1 0l1 0l1 0l1 0l1 0l1 0l1 0l1 0l1 0l1 0l1 0l1 0l1 0l1 0l1 0l1 0l1 0l1 0l1 0l1 0l1 0l1 0l1 0l1 0l1 0l1 0l1 0l1 0l1 0l1 0l1 0l1 0l1 0l1 0l1 0l1 0l1 0l1 0l1 0l1 0l1 0l1 0l1 0l1 0l1 0l1 0l1 0l1 0l1 0l1 0l1 0l1 0l1 0l1 0l1 0l1 0l1 0l1 0l1 0l1 0l1 0l1 0l1 0l1 0l1 0l1 0l1 0l1 0l1 0l1 0l1 0l1 0l1 0l1 0l1 0l1 0l1 0l1 0l1 0l1 0l1 0l1 0l1 0l1 0l1 0l1 0" fill="none" stroke="#e0302a" stroke-width="1.1"/>
<path d="M29.5 849.2l1 0l1 0l1 0l1 0l1 0l1 0l1 0l1 0l1 0l1 0l1 0l1-.1l1 0l1 0l1 0l1-.1l1 0l1-.1l1-.1l1-.1l1-.2l1-.2l1-.2l1-.2l1-.4l1-.3l1-.5l1-.5l1-.6l1-.6l1-.7l1-.9l1-.9l1-.9l1-1.1l1-1.1l1-1.1l1-1.2l1-1.2l1-1.3l1-1.1l1-1.2l1-1.1l1-1l1-.8l1-.8l1-.6l1-.4l1-.3l1-.1l1 .1l1 .3l1 .4l1 .6l1 .8l1 .8l1 1l1 1.1l1 1.2l1 1.1l1 1.3l1 1.2l1 1.2l1 1.1l1 1.1l1 1.1l1 .9l1 .9l1 .9l1 .7l1 .6l1 .6l1 .5l1 .5l1 .3l1 .4l1 .2l1 .2l1 .2l1 .2l1 .1l1 .1l1 .1l1 0l1 .1l1 0l1 0l1 0l1 .1l1 0l1 0l1 0l1 0l1 0l1 0l1 0l1 0l1 0l1 0l1 0l1 0l1 0l1 0l1 0l1 0l1 0l1 0l1 0l1 0l1 0l1 0l1 0l1 0l1 0l1 0l1 0l1 0l1 0l1 0l1 0l1 0l1 0l1 0l1 0l1 0l1 0l1 0l1 0l1 0l1 0l1 0l1 0l1 0l1 0l1 0l1 0l1 0l1 0l1 0l1 0l1 0l1 0l1 0l1 0l1 0l1 0l1 0l1 0l1 0l1 0l1 0l1 0l1 0l1 0l1 0l1 0l1 0l1 0l1 0l1 0l1 0l1 0l1 0l1 0l1 0l1 0l1 0l1 0l1 0l1 0l1 0l1 0l1 0l1 0l1 0l1 0l1 0l1 0l1 0l1 0l1 0l1 0l1 0l1 0l1 0l1 0l1 0l1 0l1 0l1 0l1 0l1 0l1 0l1 0l1 0l1 0l1 0l1 0l1 0l1 0l1 0l1 0l1 0l1 0l1 0l1 0l1 0l1 0l1 0l1 0l1 0l1 0l1 0l1 0l1 0l1 0l1 0l1 0l1 0l1 0l1 0l1 0l1 0l1 0l1 0l1 0l1 0l1 0l1 0l1 0l1 0l1 0" fill="none" stroke="#52c23a" stroke-width="1.1"/>
<path d="M29.5 848.6l1-.1l1-.1l1-.1l1-.1l1-.1l1-.2l1-.2l1-.1l1-.2l1-.3l1-.2l1-.3l1-.3l1-.3l1-.4l1-.4l1-.4l1-.5l1-.5l1-.6l1-.6l1-.6l1-.8l1-.7l1-.9l1-.9l1-.9l1-1l1-1.1l1-1.2l1-1.2l1-1.4l1-1.4l1-1.5l1-1.5l1-1.7l1-1.7l1-1.8l1-1.9l1-2l1-2.1l1-2.2l1-2.2l1-2.4l1-2.4l1-2.4l1-2.6l1-2.6l1-2.7l1-2.7l1-2.8l1-2.8l1-2.9l1-2.9l1-2.9l1-2.9l1-3l1-2.9l1-2.9l1-2.9l1-2.8l1-2.8l1-2.7l1-2.7l1-2.6l1-2.5l1-2.4l1-2.3l1-2.1l1-2.1l1-1.9l1-1.7l1-1.6l1-1.5l1-1.2l1-1.1l1-.9l1-.8l1-.5l1-.3l1-.2l1 0l1 .3l1 .4l1 .6l1 .8l1 1l1 1.2l1 1.3l1 1.5l1 1.7l1 1.8l1 1.9l1 2.1l1 2.2l1 2.4l1 2.4l1 2.5l1 2.7l1 2.7l1 2.7l1 2.8l1 2.9l1 2.9l1 2.9l1 2.9l1 2.9l1 3l1 2.9l1 2.9l1 2.8l1 2.8l1 2.8l1 2.7l1 2.6l1 2.6l1 2.6l1 2.4l1 2.4l1 2.3l1 2.2l1 2.1l1 2.1l1 1.9l1 1.9l1 1.8l1 1.7l1 1.6l1 1.5l1 1.5l1 1.4l1 1.3l1 1.2l1 1.1l1 1.1l1 1l1 .9l1 .9l1 .8l1 .7l1 .7l1 .7l1 .6l1 .5l1 .5l1 .5l1 .4l1 .4l1 .3l1 .3l1 .3l1 .3l1 .2l1 .2l1 .2l1 .2l1 .2l1 .1l1 .1l1 .1l1 .2l1 0l1 .1l1 .1l1 .1l1 0l1 .1l1 0l1 0l1 .1l1 0l1 0l1 .1l1 0l1 0l1 0l1 0l1 0l1 0l1 .1l1 0l1 0l1 0l1 0l1 0l1 0l1 0l1 0l1 0l1 0l1 0l1 0l1 0l1 0l1 0l1 0l1 0l1 0l1 0l1 0l1 0l1 0l1 0l1 0l1 0l1 0l1 0l1 0l1 0l1 0l1 0l1 0l1 0l1 0l1 0l1 0l1 0l1 0l1 0l1 0l1 0l1 0l1 0l1 0l1 0l1 0l1 0l1 0l1 0l1 0l1 0l1 0" fill="none" stroke="#3848a8" stroke-width="1.1"/>
<path d="M29.5 849.2l1 0l1 0l1 0l1 0l1 0l1 0l1 0l1 0l1 0l1 0l1 0l1 0l1 0l1 0l1 0l1 0l1 0l1 0l1 0l1 0l1 0l1 0l1 0l1 0l1 0l1 0l1 0l1 0l1 0l1 0l1 0l1 0l1 0l1 0l1 0l1 0l1 0l1 0l1 0l1 0l1 0l1 0l1 0l1-.1l1 0l1 0l1 0l1 0l1 0l1 0l1-.1l1 0l1 0l1-.1l1 0l1 0l1-.1l1-.1l1 0l1-.1l1-.1l1-.1l1-.1l1-.2l1-.1l1-.2l1-.2l1-.2l1-.2l1-.2l1-.3l1-.3l1-.4l1-.4l1-.4l1-.4l1-.5l1-.6l1-.5l1-.7l1-.7l1-.7l1-.8l1-.8l1-.9l1-1l1-1l1-1.1l1-1.2l1-1.2l1-1.3l1-1.4l1-1.4l1-1.5l1-1.5l1-1.6l1-1.6l1-1.7l1-1.8l1-1.8l1-1.8l1-1.9l1-1.9l1-1.9l1-1.9l1-1.9l1-2l1-1.9l1-1.9l1-1.8l1-1.9l1-1.8l1-1.7l1-1.7l1-1.6l1-1.5l1-1.4l1-1.3l1-1.2l1-1.1l1-1l1-.9l1-.7l1-.6l1-.5l1-.3l1-.2l1 0l1 .1l1 .3l1 .4l1 .5l1 .7l1 .8l1 .9l1 1.1l1 1.2l1 1.3l1 1.4l1 1.4l1 1.6l1 1.6l1 1.7l1 1.8l1 1.8l1 1.9l1 1.9l1 1.9l1 1.9l1 1.9l1 1.9l1 2l1 1.9l1 1.8l1 1.9l1 1.8l1 1.8l1 1.7l1 1.7l1 1.6l1 1.5l1 1.5l1 1.5l1 1.4l1 1.3l1 1.2l1 1.2l1 1.1l1 1.1l1 1l1 .9l1 .9l1 .8l1 .8l1 .7l1 .6l1 .6l1 .6l1 .5l1 .5l1 .4l1 .4l1 .3l1 .4l1 .2l1 .3l1 .2l1 .3l1 .2l1 .1l1 .2l1 .1l1 .1l1 .2l1 0l1 .1l1 .1l1 .1l1 0l1 .1l1 0l1 .1l1 0l1 0l1 .1l1 0l1 0l1 0l1 0l1 0l1 0l1 .1l1 0l1 0l1 0l1 0l1 0l1 0l1 0l1 0l1 0l1 0l1 0l1 0l1 0l1 0l1 0l1 0l1 0l1 0l1 0l1 0" fill="none" stroke="#f07f1c" stroke-width="1.1"/>
<path d="M29.5 849.2l1 0l1 0l1 0l1 0l1 0l1 0l1 0l1 0l1 0l1 0l1 0l1 0l1 0l1 0l1 0l1 0l1 0l1 0l1 0l1 0l1 0l1 0l1 0l1 0l1 0l1 0l1 0l1 0l1 0l1 0l1 0l1 0l1 0l1 0l1 0l1 0l1 0l1 0l1 0l1 0l1 0l1 0l1 0l1 0l1 0l1 0l1 0l1 0l1 0l1 0l1 0l1 0l1 0l1 0l1 0l1 0l1 0l1 0l1 0l1 0l1 0l1 0l1 0l1 0l1 0l1 0l1 0l1 0l1 0l1 0l1 0l1 0l1 0l1 0l1 0l1 0l1 0l1 0l1 0l1 0l1 0l1 0l1 0l1 0l1 0l1 0l1 0l1 0l1 0l1 0l1 0l1 0l1 0l1 0l1 0l1 0l1 0l1 0l1 0l1 0l1 0l1 0l1 0l1 0l1 0l1 0l1 0l1 0l1 0l1 0l1 0l1 0l1 0l1 0l1 0l1 0l1 0l1 0l1 0l1 0l1 0l1 0l1 0l1 0l1 0l1-.1l1 0l1 0l1 0l1 0l1-.1l1 0l1-.1l1 0l1-.1l1-.1l1-.1l1-.1l1-.1l1-.2l1-.2l1-.2l1-.2l1-.3l1-.3l1-.4l1-.4l1-.5l1-.4l1-.6l1-.6l1-.6l1-.7l1-.7l1-.8l1-.8l1-.8l1-.9l1-.9l1-.9l1-.9l1-.9l1-.9l1-.9l1-.8l1-.8l1-.7l1-.7l1-.6l1-.5l1-.4l1-.3l1-.3l1-.1l1 0l1 .1l1 .2l1 .3l1 .4l1 .5l1 .6l1 .6l1 .8l1 .7l1 .9l1 .8l1 .9l1 .9l1 .9l1 .9l1 .9l1 .9l1 .8l1 .9l1 .7l1 .8l1 .7l1 .6l1 .6l1 .6l1 .5l1 .4l1 .4l1 .4l1 .3l1 .3l1 .3l1 .2l1 .2l1 .1l1 .2l1 .1l1 .1l1 .1l1 .1l1 0l1 .1l1 0l1 .1l1 0l1 0l1 0l1 0l1 .1l1 0l1 0l1 0l1 0l1 0l1 0l1 0l1 0" fill="none" stroke="#b443b8" stroke-width="1.1"/>
<path d="M29.6 846.4l1-1.1l1-.4l1-.4l1-.6l1-.6l1-.7l1-.8l1-.7l1-.8l1-.8l1-.9l1-.8l1-1l1-1.1l1-1.2l1-1.5l1-1.6l1-1.8l1-1.9l1-2.2l1-2.2l1-2.3l1-2.3l1-2.3l1-2.2l1-2.2l1-2.1l1-2.1l1-2l1-1.9l1-2l1-2l1-1.9l1-2l1-1.9l1-2l1-1.9l1-1.9l1-2l1-2l1-2l1-2.2l1-2.3l1-2.3l1-2.5l1-2.6l1-2.6l1-2.7l1-2.6l1-2.7l1-2.6l1-2.6l1-2.5l1-2.6l1-2.5l1-2.4l1-2.4l1-2.3l1-2.2l1-2.2l1-2l1-1.9l1-1.9l1-1.7l1-1.6l1-1.6l1-1.4l1-1.4l1-1.3l1-1.1l1-1.1l1-.9l1-.9l1-.8l1-.7l1-.7l1-.6l1-.5l1-.5l1-.5l1-.4l1-.4l1-.3l1-.3l1-.3l1-.2l1-.2l1 0l1-.1l1 0l1 .1l1 .1l1 .2l1 .2l1 .3l1 .3l1 .3l1 .4l1 .4l1 .4l1 .6l1 .5l1 .6l1 .7l1 .8l1 .8l1 .9l1 1l1 1l1 1.1l1 1.2l1 1.2l1 1.2l1 1.2l1 1.1l1 1.1l1 1l1 1l1 1l1 1l1 1l1 1.1l1 1.2l1 1.2l1 1.4l1 1.4l1 1.5l1 1.5l1 1.6l1 1.7l1 1.8l1 1.8l1 2l1 1.9l1 2l1 2.1l1 2l1 2.1l1 2l1 2l1 2l1 2l1 2l1 2l1 2l1 2.1l1 2l1 2.1l1 2l1 2.1l1 1.9l1 1.9l1 1.7l1 1.7l1 1.5l1 1.4l1 1.3l1 1.2l1 1.2l1 1.2l1 1.1l1 1l1 1.1l1 1l1 1l1 1l1 .9l1 1l1 1l1 .9l1 1l1 1l1 1l1 1l1 1l1 1.1l1 1.1l1 1.2l1 1.2l1 1.3l1 1.3l1 1.2l1 1.3l1 1.3l1 1.3l1 1.3l1 1.3l1 1.3l1 1.2l1 1.2l1 1l1 1.1l1 .9l1 .9l1 .9l1 .8l1 .8l1 .8l1 .7l1 .6l1 .6l1 .6l1 .5l1 .5l1 .4l1 .4l1 .4l1 .3l1 .3l1 .3l1 .2l1 .3l1 .2l1 .2l1 .2l1 .1l1 .2l1 .1l1 .2l1 .1l1 .1l1 .1l1 .1l1 .1l1 .1l1 0l1 .1l1 0l1 .1l1 0l1 0l1 .1" fill="none" stroke="#000" stroke-width="1.4" stroke-linejoin="round"/>
<rect x="17.5" y="677.0" width="257" height="180" fill="none" stroke="#6a6a6a" stroke-width="1"/>
<line x1="29.5" y1="857.0" x2="29.5" y2="851.5" stroke="#6a6a6a" stroke-width="1"/>
<line x1="60.1" y1="857.0" x2="60.1" y2="854.0" stroke="#6a6a6a" stroke-width="1"/>
<line x1="90.8" y1="857.0" x2="90.8" y2="851.5" stroke="#6a6a6a" stroke-width="1"/>
<line x1="121.4" y1="857.0" x2="121.4" y2="854.0" stroke="#6a6a6a" stroke-width="1"/>
<line x1="152.0" y1="857.0" x2="152.0" y2="851.5" stroke="#6a6a6a" stroke-width="1"/>
<line x1="182.6" y1="857.0" x2="182.6" y2="854.0" stroke="#6a6a6a" stroke-width="1"/>
<line x1="213.2" y1="857.0" x2="213.2" y2="851.5" stroke="#6a6a6a" stroke-width="1"/>
<line x1="243.9" y1="857.0" x2="243.9" y2="854.0" stroke="#6a6a6a" stroke-width="1"/>
<line x1="274.5" y1="857.0" x2="274.5" y2="851.5" stroke="#6a6a6a" stroke-width="1"/>
<text x="23.5" y="698.0" font-family="Liberation Sans" font-weight="bold" font-size="13.5">e</text>
<text transform="translate(10.8,769.0) rotate(-90)" text-anchor="middle" font-family="Liberation Sans" font-size="12">Intensity (a.u.)</text>
<path d="M17.5 1022.3l.4 .4l.4-.6l.4 .7l.4-.9l.4 1.1l.4-.5l.4 .2l.4-.5l.4 .4l.4-.6l.4 .5l.4-.1l.4 .6l.4-.9l.4 .7l.4-.4l.4 .2l.4-.2l.4 .2l.4-.9l.4 1.1l.4-.9l.4 .8l.4-.2l.4 .2l.4-.8l.4 .6l.4-.6l.4 1.1l.4-.7l.4 0l.4-.7l.4 .5l.4-.3l.4 .2l.4-.4l.4 .1l.4-.3l.4 .4l.4-1.1l.4 .5l.4-.3l.4 .4l.4-.6l.4 .4l.4-1l.4 .7l.4-.9l.4 .6l.4-1.3l.4 1.1l.4-1l.4 .9l.4-1.3l.4 .9l.4-1.2l.4 1l.4-1.4l.4 .5l.4-.6l.4 .8l.4-1.2l.4 0l.4-.6l.4 .1l.4-1.4l.4 1.1l.4-1.7l.4 1.8l.4-1.4l.4 .4l.4-1l.4 .7l.4-1.5l.4 1.1l.4-1.3l.4 0l.4-1.7l.4 2l.4-1.9l.4 1.3l.4-1.8l.4 1.5l.4-2.3l.4 .5l.4-1.8l.4 1.7l.4-2.3l.4 2.8l.4-2.9l.4-.1l.4-.9l.4 .9l.4-4.3l.4 2.8l.4-.6l.4 .3l.4-2.3l.4 4.4l.4-4.5l.4 2.4l.4-3.5l.4 1.1l.4-1.8l.4 2.9l.4-4.6l.4 4.5l.4-4.9l.4 2.9l.4-2.7l.4 6.2l.4-6.3l.4 .9l.4-2.2l.4 3.6l.4-6.9l.4 4.6l.4-3.6l.4 4.2l.4-7.1l.4 4.5l.4-.9l.4 .8l.4-8.4l.4 10l.4-5.5l.4 2.5l.4-2.6l.4 4.4l.4-4.2l.4 5.8l.4-6.1l.4 6.3l.4-15.7l.4 11l.4-3.8l.4 1l.4-8.8l.4 11.5l.4-10.4l.4 13.3l.4-12.9l.4 11.4l.4-9.9l.4 6.6l.4-7.8l.4 15.5l.4-22.2l.4 12.9l.4-8.4l.4 15.1l.4-12.7l.4 9.2l.4-14.4l.4 9.9l.4-14.2l.4 10.2l.4-10.7l.4 9.9l.4-15.9l.4 29.7l.4-27.9l.4 9.9l.4-2.1l.4 7.5l.4-11.8l.4 7.8l.4-27.4l.4 22.3l.4-14.3l.4 16l.4-14.4l.4 13.9l.4-7.7l.4 6.3l.4-9l.4 15l.4-15.2l.4 21.2l.4-32.9l.4 18.1l.4-25.4l.4 29.1l.4-20.8l.4 14.2l.4-40.2l.4 60.1l.4-47.6l.4 45.9l.4-62.7l.4 53l.4-40l.4 31l.4-24.5l.4 23.7l.4-11.2l.4 4.5l.4-14.8l.4 24.8l.4-21.4l.4 20.6l.4-30.4l.4 22.8l.4-51.5l.4 71.9l.4-42.5l.4 24.3l.4-22l.4 59.1l.4-62.3l.4 15.6l.4-29l.4 76.7l.4-64.8l.4 22.1l.4-28.6l.4 49.5l.4-67.7l.4 63.2l.4-51.8l.4 29.5l.4-35.8l.4 73.2l.4-68.8l.4 47.2l.4-40.9l.4 40.6l.4-61l.4 45.3l.4-59.3l.4 60l.4-34.6l.4 55.8l.4-57.8l.4 37.8l.4-21.7l.4 6.9l.4-43l.4 62.4l.4-33.6l.4 13.1l.4-45.6l.4 83.1l.4-46.8l.4 22.1l.4-26.1l.4 28.6l.4-19.1l.4 17.9l.4-31.7l.4 51.7l.4-85l.4 60.8l.4-63.9l.4 70.5l.4-45.6l.4 47.1l.4-21.6l.4 30.5l.4-44l.4 76.7l.4-66.6l.4 36.9l.4-46l.4 84.5l.4-98.5l.4 37.3l.4-78l.4 82.4l.4-15.9l.4 7.1l.4-55.7l.4 60.4l.4-12.9l.4 38.8l.4-58.5l.4 27.3l.4-1.9l.4 15.9l.4-32.7l.4 21.6l.4-39.7l.4 51.7l.4-33.7l.4 27l.4-35.2l.4 40.3l.4-22.5l.4 27.8l.4-20.6l.4 63.4l.4-61l.4 10.4l.4-9.5l.4 25.6l.4-54l.4 37.5l.4-19.8l.4 36.1l.4-27.6l.4 37.6l.4-52l.4 73.4l.4-78.3l.4 56.7l.4-54.9l.4 45.1l.4-48.8l.4 62.4l.4-49.5l.4 36l.4-46.3l.4 61.5l.4-46.9l.4 34.2l.4-9.9l.4 15.8l.4-13.4l.4 19.3l.4-17.6l.4 12.2l.4-10.7l.4 22.5l.4-33.2l.4 39.6l.4-28.3l.4 20.4l.4-29l.4 34.2l.4-25.5l.4 13.5l.4-6l.4 20.6l.4-21l.4 11.4l.4-26.4l.4 20.7l.4-8.4l.4 19.2l.4-18.3l.4 13.5l.4-19.1l.4 22.8l.4-10.9l.4 18.1l.4-20.8l.4 17.4l.4-11.1l.4 6.3l.4-13.9l.4 23.2l.4-10.9l.4 2.1l.4-10.6l.4 19.4l.4-17.6l.4 10.5l.4-4.5l.4 10.8l.4-7.5l.4 4.1l.4-1.6l.4 2.7l.4-5.4l.4 11.6l.4-7.7l.4 8.2l.4-6.5l.4 1.4l.4-.2l.4 6l.4-4.8l.4 1.4l.4-2l.4 2.3l.4-.6l.4 2l.4-3.8l.4 5.4l.4-1.7l.4 5.7l.4-4.4l.4 3.5l.4-1.9l.4 3l.4-1.7l.4 3.6l.4-2.8l.4 3.7l.4-1.8l.4 1.2l.4-.3l.4 2.4l.4-1.4l.4 1.9l.4-.5l.4 2.9l.4-2.5l.4 2.6l.4-.6l.4 1.1l.4-.1l.4 .8l.4-.8l.4 1.6l.4-.6l.4 1.7l.4-.2l.4 .6l.4 0l.4 1.6l.4-1.2l.4 1.3l.4-.4l.4 2.1l.4-1.3l.4 1.6l.4-.6l.4 1l.4-.9l.4 2.1l.4-.7l.4 1l.4-.2l.4 .8l.4 .1l.4 .2l.4-.7l.4 1.5l.4-.6l.4 .7l.4-.8l.4 .5l.4-.3l.4 .3l.4-.6l.4 1.1l.4-.7l.4 .2l.4-.2l.4 .5l.4-.6l.4 .7l.4-.8l.4 1.2l.4-1.5l.4 .7l.4-.3l.4 .7l.4-1.2l.4 1.5l.4-.8l.4 .6l.4-.7l.4 .4l.4-.5l.4 .4l.4-.9l.4 .6l.4-.3l.4 .4l.4-.7l.4 .7l.4-.5l.4 .6l.4-.7l.4 .9l.4-1.5l.4 .7l.4-.6l.4 .5l.4-.1l.4 .2l.4-.7l.4 .6l.4-.8l.4 .6l.4-.3l.4 .4l.4-.7l.4 1l.4-1.3l.4 .7l.4-.6l.4 1.2l.4-.9l.4 .1l.4-.7l.4 1.1l.4-.7l.4 .3l.4-.5l.4 .4l.4-.6l.4 .5l.4-.4l.4 .5l.4-.6l.4 .1l.4-.8l.4 1.5l.4-1l.4 .5l.4-1.2l.4 .8l.4-.1l.4 .2l.4-.5l.4 .5l.4-.7l.4 .3l.4-.3l.4 .5l.4-.4l.4 .1l.4-.3l.4 .6l.4-.7l.4 .2l.4-.1l.4 .3l.4-.5l.4 .4l.4-.4l.4 .2l.4-.7l.4 1.1l.4-.8l.4 .5l.4-.6l.4 .7l.4-.7l.4 .2l.4-.5l.4 .4l.4-.2l.4 .4l.4-.9l.4 .8l.4-.5l.4 .5l.4-.8l.4 .7l.4-.6l.4 .3l.4-.8l.4 .8l.4-.6l.4 .8l.4-.5l.4 .2l.4-.2l.4 .4l.4-.9l.4 .5l.4-.7l.4 1l.4-1l.4 .6l.4-.5l.4 .5l.4-.4l.4 .6l.4-1.2l.4 .9l.4-.6l.4 .6l.4-1l.4 .8l.4-.4l.4 .9l.4-.7l.4 .2l.4-.4l.4 .7l.4-.6l.4 .8l.4-.9l.4 .4l.4-.9l.4 1l.4-.5l.4 .2l.4-.1l.4 .5l.4-1.2l.4 .8l.4-.3l.4 .5l.4-1l.4 .7l.4-.7l.4 .8l.4-1.1l.4 .8l.4-.2l.4 .3l.4-.4l.4 .6l.4-1.2l.4 .8l.4-.1l.4 .3l.4-.4l.4 .4l.4-.7l.4 .8l.4-.9l.4 .5l.4-.4l.4 .4l.4-.6l.4 1l.4-.7l.4 .4l.4-.3l.4 .1l.4-.5l.4 .5l.4-.6l.4 .6l.4-.5l.4 .5l.4-.3l.4 .4l.4-.8l.4 .7l.4-.6l.4 .5l.4-.6l.4 .5l.4-.4l.4 .4l.4-.2l.4 .8l.4-.9l.4 .8l.4-.8l.4 .6l.4-1.2l.4 1" fill="none" stroke="#858585" stroke-width="0.9"/>
<path d="M29.5 1022.5l1 0l1 0l1 0l1 0l1 0l1 0l1 0l1 0l1 0l1 0l1-.1l1 0l1 0l1-.1l1-.1l1-.1l1-.2l1-.3l1-.3l1-.3l1-.5l1-.4l1-.5l1-.5l1-.5l1-.4l1-.4l1-.2l1-.1l1 0l1 .2l1 .3l1 .4l1 .5l1 .5l1 .5l1 .5l1 .4l1 .4l1 .3l1 .3l1 .2l1 .1l1 .2l1 0l1 .1l1 0l1 .1l1 0l1 0l1 0l1 0l1 0l1 0l1 0l1 0l1 0l1 0l1 0l1 0l1 0l1 0l1 0l1 0l1 0l1 0l1 0l1 0l1 0l1 0l1 0l1 0l1 0l1 0l1 0l1 0l1 0l1 0l1 0l1 0l1 0l1 0l1 0l1 0l1 0l1 0l1 0l1 0l1 0l1 0l1 0l1 0l1 0l1 0l1 0l1 0l1 0l1 0l1 0l1 0l1 0l1 0l1 0l1 0l1 0l1 0l1 0l1 0l1 0l1 0l1 0l1 0l1 0l1 0l1 0l1 0l1 0l1 0l1 0l1 0l1 0l1 0l1 0l1 0l1 0l1 0l1 0l1 0l1 0l1 0l1 0l1 0l1 0l1 0l1 0l1 0l1 0l1 0l1 0l1 0l1 0l1 0l1 0l1 0l1 0l1 0l1 0l1 0l1 0l1 0l1 0l1 0l1 0l1 0l1 0l1 0l1 0l1 0l1 0l1 0l1 0l1 0l1 0l1 0l1 0l1 0l1 0l1 0l1 0l1 0l1 0l1 0l1 0l1 0l1 0l1 0l1 0l1 0l1 0l1 0l1 0l1 0l1 0l1 0l1 0l1 0l1 0l1 0l1 0l1 0l1 0l1 0l1 0l1 0l1 0l1 0l1 0l1 0l1 0l1 0l1 0l1 0l1 0l1 0l1 0l1 0l1 0l1 0l1 0l1 0l1 0l1 0l1 0l1 0l1 0l1 0l1 0l1 0l1 0l1 0l1 0l1 0l1 0l1 0l1 0l1 0l1 0l1 0l1 0l1 0l1 0l1 0" fill="none" stroke="#e0302a" stroke-width="1.1"/>
<path d="M29.5 1022.5l1 0l1 0l1-.1l1 0l1 0l1 0l1 0l1-.1l1 0l1 0l1-.1l1 0l1-.1l1 0l1-.1l1-.1l1-.1l1-.1l1-.1l1-.1l1-.2l1-.1l1-.1l1-.2l1-.2l1-.2l1-.1l1-.2l1-.2l1-.2l1-.2l1-.2l1-.2l1-.2l1-.2l1-.2l1-.1l1-.2l1-.1l1-.1l1-.1l1 0l1-.1l1 0l1 0l1 0l1 .1l1 .1l1 .1l1 .1l1 .1l1 .1l1 .2l1 .2l1 .2l1 .2l1 .2l1 .2l1 .1l1 .2l1 .2l1 .2l1 .2l1 .2l1 .2l1 .1l1 .2l1 .1l1 .1l1 .1l1 .2l1 .1l1 0l1 .1l1 .1l1 0l1 .1l1 0l1 .1l1 0l1 .1l1 0l1 0l1 0l1 0l1 0l1 .1l1 0l1 0l1 0l1 0l1 0l1 0l1 0l1 0l1 0l1 0l1 0l1 0l1 0l1 0l1 0l1 0l1 0l1 0l1 0l1 0l1 0l1 0l1 0l1 0l1 0l1 0l1 0l1 0l1 0l1 0l1 0l1 0l1 0l1 0l1 0l1 0l1 0l1 0l1 0l1 0l1 0l1 0l1 0l1 0l1 0l1 0l1 0l1 0l1 0l1 0l1 0l1 0l1 0l1 0l1 0l1 0l1 0l1 0l1 0l1 0l1 0l1 0l1 0l1 0l1 0l1 0l1 0l1 0l1 0l1 0l1 0l1 0l1 0l1 0l1 0l1 0l1 0l1 0l1 0l1 0l1 0l1 0l1 0l1 0l1 0l1 0l1 0l1 0l1 0l1 0l1 0l1 0l1 0l1 0l1 0l1 0l1 0l1 0l1 0l1 0l1 0l1 0l1 0l1 0l1 0l1 0l1 0l1 0l1 0l1 0l1 0l1 0l1 0l1 0l1 0l1 0l1 0l1 0l1 0l1 0l1 0l1 0l1 0l1 0l1 0l1 0l1 0l1 0l1 0l1 0l1 0l1 0l1 0l1 0l1 0l1 0l1 0l1 0l1 0l1 0l1 0l1 0l1 0l1 0l1 0" fill="none" stroke="#52c23a" stroke-width="1.1"/>
<path d="M29.5 1021.9l1-.1l1-.1l1-.1l1-.1l1-.1l1-.1l1-.2l1-.1l1-.2l1-.1l1-.2l1-.2l1-.2l1-.3l1-.2l1-.3l1-.3l1-.3l1-.4l1-.4l1-.4l1-.4l1-.5l1-.5l1-.5l1-.6l1-.6l1-.6l1-.7l1-.7l1-.7l1-.8l1-.9l1-.8l1-1l1-.9l1-1l1-1.1l1-1.1l1-1.2l1-1.1l1-1.3l1-1.3l1-1.3l1-1.4l1-1.4l1-1.4l1-1.5l1-1.6l1-1.5l1-1.6l1-1.6l1-1.7l1-1.6l1-1.7l1-1.7l1-1.8l1-1.7l1-1.7l1-1.8l1-1.7l1-1.7l1-1.7l1-1.7l1-1.7l1-1.6l1-1.6l1-1.5l1-1.6l1-1.4l1-1.4l1-1.4l1-1.3l1-1.2l1-1.2l1-1.1l1-1l1-.9l1-.8l1-.7l1-.7l1-.5l1-.5l1-.3l1-.3l1-.1l1-.1l1 .1l1 .1l1 .3l1 .3l1 .5l1 .5l1 .7l1 .7l1 .8l1 .9l1 1l1 1.1l1 1.2l1 1.2l1 1.3l1 1.4l1 1.4l1 1.4l1 1.6l1 1.5l1 1.6l1 1.6l1 1.7l1 1.7l1 1.7l1 1.7l1 1.7l1 1.8l1 1.7l1 1.7l1 1.8l1 1.7l1 1.7l1 1.6l1 1.7l1 1.6l1 1.6l1 1.5l1 1.6l1 1.5l1 1.4l1 1.4l1 1.4l1 1.3l1 1.3l1 1.3l1 1.1l1 1.2l1 1.1l1 1.1l1 1l1 .9l1 1l1 .8l1 .9l1 .8l1 .7l1 .7l1 .7l1 .6l1 .6l1 .6l1 .5l1 .5l1 .5l1 .4l1 .4l1 .4l1 .4l1 .3l1 .3l1 .3l1 .2l1 .3l1 .2l1 .2l1 .2l1 .1l1 .2l1 .1l1 .2l1 .1l1 .1l1 .1l1 .1l1 .1l1 .1l1 0l1 .1l1 0l1 .1l1 0l1 .1l1 0l1 0l1 .1l1 0l1 0l1 0l1 .1l1 0l1 0l1 0l1 0l1 0l1 0l1 0l1 .1l1 0l1 0l1 0l1 0l1 0l1 0l1 0l1 0l1 0l1 0l1 0l1 0l1 0l1 0l1 0l1 0l1 0l1 0l1 0l1 0l1 0l1 0l1 0l1 0l1 0l1 0l1 0l1 0l1 0l1 0l1 0l1 0l1 0l1 0l1 0l1 0l1 0" fill="none" stroke="#3848a8" stroke-width="1.1"/>
<path d="M29.5 1022.1l1-.1l1 0l1 0l1 0l1 0l1 0l1 0l1 0l1 0l1-.1l1 0l1 0l1 0l1 0l1 0l1 0l1 0l1 0l1-.1l1 0l1 0l1 0l1 0l1 0l1 0l1-.1l1 0l1 0l1 0l1 0l1 0l1 0l1-.1l1 0l1 0l1 0l1 0l1 0l1-.1l1 0l1 0l1 0l1 0l1 0l1 0l1-.1l1 0l1 0l1 0l1 0l1 0l1-.1l1 0l1 0l1 0l1 0l1 0l1-.1l1 0l1 0l1 0l1 0l1 0l1 0l1-.1l1 0l1 0l1 0l1 0l1 0l1-.1l1 0l1 0l1 0l1 0l1 0l1-.1l1 0l1 0l1 0l1 0l1 0l1 0l1-.1l1 0l1 0l1 0l1 0l1 0l1 0l1 0l1-.1l1 0l1 0l1 0l1 0l1 0l1 0l1 0l1 0l1-.1l1 0l1 0l1 0l1 0l1 0l1 0l1 0l1 0l1 0l1 0l1 0l1 0l1-.1l1 0l1 0l1 0l1 0l1 0l1 0l1 0l1 0l1 0l1 0l1 0l1 0l1 0l1 0l1 0l1 0l1 0l1 0l1 0l1 0l1 0l1 0l1 0l1 0l1 0l1 0l1 0l1 0l1 0l1 0l1 0l1 0l1 0l1 .1l1 0l1 0l1 0l1 0l1 0l1 0l1 0l1 0l1 0l1 0l1 0l1 0l1 .1l1 0l1 0l1 0l1 0l1 0l1 0l1 0l1 0l1 .1l1 0l1 0l1 0l1 0l1 0l1 0l1 0l1 .1l1 0l1 0l1 0l1 0l1 0l1 0l1 .1l1 0l1 0l1 0l1 0l1 0l1 .1l1 0l1 0l1 0l1 0l1 0l1 .1l1 0l1 0l1 0l1 0l1 0l1 0l1 .1l1 0l1 0l1 0l1 0l1 0l1 .1l1 0l1 0l1 0l1 0l1 0l1 .1l1 0l1 0l1 0l1 0l1 0l1 0l1 .1l1 0l1 0l1 0l1 0l1 0l1 .1l1 0l1 0l1 0" fill="none" stroke="#7fd8d8" stroke-width="1.1"/>
<path d="M29.5 1022.3l1-.5l1-.1l1-.2l1-.3l1-.3l1-.3l1-.3l1-.4l1-.4l1-.4l1-.5l1-.5l1-.5l1-.6l1-.6l1-.7l1-.6l1-.7l1-.8l1-.8l1-.8l1-.9l1-.9l1-.9l1-.9l1-.9l1-.9l1-.9l1-.9l1-.8l1-.8l1-.8l1-.8l1-.8l1-.8l1-.8l1-.9l1-.8l1-.8l1-.8l1-.9l1-.8l1-.9l1-.9l1-.9l1-1l1-1.1l1-1.2l1-1.2l1-1.3l1-1.3l1-1.4l1-1.4l1-1.5l1-1.5l1-1.5l1-1.5l1-1.6l1-1.6l1-1.6l1-1.6l1-1.6l1-1.6l1-1.6l1-1.6l1-1.5l1-1.5l1-1.5l1-1.4l1-1.4l1-1.3l1-1.3l1-1.3l1-1.1l1-1.1l1-1l1-.9l1-.8l1-.7l1-.7l1-.5l1-.6l1-.5l1-.4l1-.4l1-.4l1-.3l1-.1l1-.1l1 0l1 0l1 .2l1 .1l1 .2l1 .3l1 .4l1 .5l1 .5l1 .7l1 .8l1 .9l1 .9l1 1l1 1.1l1 1.2l1 1.3l1 1.3l1 1.5l1 1.7l1 1.8l1 2l1 2.1l1 2.1l1 2.1l1 2.1l1 2l1 1.9l1 1.9l1 1.8l1 1.7l1 1.7l1 1.7l1 1.7l1 1.6l1 1.6l1 1.5l1 1.5l1 1.5l1 1.5l1 1.4l1 1.3l1 1.4l1 1.3l1 1.3l1 1.2l1 1.2l1 1.2l1 1.1l1 1.1l1 1.1l1 1.1l1 1l1 1l1 .9l1 .9l1 .9l1 .8l1 .7l1 .7l1 .6l1 .6l1 .6l1 .5l1 .5l1 .5l1 .5l1 .4l1 .4l1 .4l1 .4l1 .4l1 .3l1 .3l1 .2l1 .3l1 .2l1 .2l1 .1l1 .2l1 .1l1 .1l1 .1l1 0l1 .1l1 .1l1 0l1 .1l1 0l1 .1l1 0l1 .1l1 0l1 0l1 .1l1 0l1 0l1 .1l1 0l1 0l1 .1l1 0l1 0l1 0l1 0l1 .1l1 0l1 0l1 0l1 0l1 0l1 0l1 0l1 0l1 0l1 0l1 0l1 0l1 0l1 0l1 0l1 0l1 0l1 0l1 0l1 0l1 0l1 0l1 0l1 0l1 0l1 0l1 0l1 0l1 0l1 0l1 0l1 0l1 0l1 0l1 0l1 0l1 0" fill="none" stroke="#000" stroke-width="1.4" stroke-linejoin="round"/>
<rect x="17.5" y="857.0" width="257" height="180" fill="none" stroke="#6a6a6a" stroke-width="1"/>
<line x1="29.5" y1="1037.0" x2="29.5" y2="1043.0" stroke="#6a6a6a" stroke-width="1"/>
<line x1="60.1" y1="1037.0" x2="60.1" y2="1041.0" stroke="#6a6a6a" stroke-width="1"/>
<line x1="90.8" y1="1037.0" x2="90.8" y2="1043.0" stroke="#6a6a6a" stroke-width="1"/>
<line x1="121.4" y1="1037.0" x2="121.4" y2="1041.0" stroke="#6a6a6a" stroke-width="1"/>
<line x1="152.0" y1="1037.0" x2="152.0" y2="1043.0" stroke="#6a6a6a" stroke-width="1"/>
<line x1="182.6" y1="1037.0" x2="182.6" y2="1041.0" stroke="#6a6a6a" stroke-width="1"/>
<line x1="213.2" y1="1037.0" x2="213.2" y2="1043.0" stroke="#6a6a6a" stroke-width="1"/>
<line x1="243.9" y1="1037.0" x2="243.9" y2="1041.0" stroke="#6a6a6a" stroke-width="1"/>
<line x1="274.5" y1="1037.0" x2="274.5" y2="1043.0" stroke="#6a6a6a" stroke-width="1"/>
<text x="23.5" y="878.0" font-family="Liberation Sans" font-weight="bold" font-size="13.5">f</text>
<text transform="translate(10.8,949.0) rotate(-90)" text-anchor="middle" font-family="Liberation Sans" font-size="12">Intensity (a.u.)</text>
<line x1="132" y1="960" x2="132" y2="1037" stroke="#707070" stroke-width="1"/>
<text x="29.5" y="1055.5" text-anchor="middle" font-family="Liberation Sans" font-size="11.5">3,750</text>
<text x="90.8" y="1055.5" text-anchor="middle" font-family="Liberation Sans" font-size="11.5">3,500</text>
<text x="152.0" y="1055.5" text-anchor="middle" font-family="Liberation Sans" font-size="11.5">3,250</text>
<text x="213.2" y="1055.5" text-anchor="middle" font-family="Liberation Sans" font-size="11.5">3,000</text>
<text x="274.5" y="1055.5" text-anchor="middle" font-family="Liberation Sans" font-size="11.5">2,750</text>
<text x="92.5" y="1073.8" font-family="Liberation Sans" font-size="12">Wavenumber (cm<tspan dy="-4.5" font-size="8.5">−1</tspan><tspan dy="4.5">)</tspan></text>
</svg>
<svg width="685" height="1077" viewBox="0 0 685 1077" style="position:absolute;left:0;top:0">
<defs>
<linearGradient id="bg" x1="0" y1="0" x2="0" y2="1"><stop offset="0" stop-color="#050b1a"/><stop offset="0.35" stop-color="#0b1f40"/><stop offset="1" stop-color="#1f5292"/></linearGradient>
<radialGradient id="sR" cx="0.38" cy="0.35" r="0.7"><stop offset="0" stop-color="#f08a84"/><stop offset="0.3" stop-color="#dd2a24"/><stop offset="0.75" stop-color="#b81612"/><stop offset="1" stop-color="#6a0a08"/></radialGradient>
<radialGradient id="sW" cx="0.4" cy="0.35" r="0.72"><stop offset="0" stop-color="#ffffff"/><stop offset="0.35" stop-color="#eeeeee"/><stop offset="0.8" stop-color="#b8b8b8"/><stop offset="1" stop-color="#7a7a7a"/></radialGradient>
</defs>
<svg x="300.0" y="138.5" width="179.0" height="176.0" viewBox="300.0 138.5 179.0 176.0" overflow="hidden">
<rect x="300.0" y="138.5" width="179.0" height="176.0" fill="url(#bg)"/>
<line x1="371.6" y1="143.9" x2="338.1" y2="140.0" stroke="#3ad03a" stroke-width="1.4" stroke-dasharray="1.6,1.4"/>
<line x1="387.4" y1="141.9" x2="396.9" y2="168.2" stroke="#3ad03a" stroke-width="1.4" stroke-dasharray="1.6,1.4"/>
<line x1="340.1" y1="146.5" x2="343.4" y2="164.3" stroke="#3ad03a" stroke-width="1.4" stroke-dasharray="1.6,1.4"/>
<line x1="346.0" y1="153.8" x2="338.1" y2="140.0" stroke="#3ad03a" stroke-width="1.4" stroke-dasharray="1.6,1.4"/>
<line x1="354.5" y1="150.5" x2="343.4" y2="164.3" stroke="#3ad03a" stroke-width="1.4" stroke-dasharray="1.6,1.4"/>
<line x1="332.2" y1="169.5" x2="345.3" y2="190.6" stroke="#3ad03a" stroke-width="1.4" stroke-dasharray="1.6,1.4"/>
<line x1="317.1" y1="170.8" x2="343.4" y2="164.3" stroke="#3ad03a" stroke-width="1.4" stroke-dasharray="1.6,1.4"/>
<line x1="346.0" y1="174.8" x2="345.3" y2="190.6" stroke="#3ad03a" stroke-width="1.4" stroke-dasharray="1.6,1.4"/>
<line x1="368.3" y1="176.8" x2="373.6" y2="191.9" stroke="#3ad03a" stroke-width="1.4" stroke-dasharray="1.6,1.4"/>
<line x1="374.9" y1="182.0" x2="365.0" y2="191.9" stroke="#3ad03a" stroke-width="1.4" stroke-dasharray="1.6,1.4"/>
<line x1="335.5" y1="201.1" x2="323.6" y2="222.7" stroke="#3ad03a" stroke-width="1.4" stroke-dasharray="1.6,1.4"/>
<line x1="302.6" y1="182.0" x2="301.3" y2="203.7" stroke="#3ad03a" stroke-width="1.4" stroke-dasharray="1.6,1.4"/>
<line x1="303.9" y1="210.3" x2="323.6" y2="222.7" stroke="#3ad03a" stroke-width="1.4" stroke-dasharray="1.6,1.4"/>
<line x1="306.6" y1="215.5" x2="323.6" y2="222.7" stroke="#3ad03a" stroke-width="1.4" stroke-dasharray="1.6,1.4"/>
<line x1="365.0" y1="216.2" x2="367.7" y2="229.6" stroke="#3ad03a" stroke-width="1.4" stroke-dasharray="1.6,1.4"/>
<line x1="391.6" y1="141.9" x2="396.9" y2="168.2" stroke="#3ad03a" stroke-width="1.4" stroke-dasharray="1.6,1.4"/>
<line x1="453.4" y1="141.3" x2="474.4" y2="141.9" stroke="#3ad03a" stroke-width="1.4" stroke-dasharray="1.6,1.4"/>
<line x1="446.2" y1="147.2" x2="439.6" y2="167.6" stroke="#3ad03a" stroke-width="1.4" stroke-dasharray="1.6,1.4"/>
<line x1="425.1" y1="151.1" x2="417.9" y2="140.6" stroke="#3ad03a" stroke-width="1.4" stroke-dasharray="1.6,1.4"/>
<line x1="433.0" y1="157.1" x2="433.7" y2="142.6" stroke="#3ad03a" stroke-width="1.4" stroke-dasharray="1.6,1.4"/>
<line x1="466.5" y1="154.4" x2="474.4" y2="141.9" stroke="#3ad03a" stroke-width="1.4" stroke-dasharray="1.6,1.4"/>
<line x1="475.1" y1="153.1" x2="460.6" y2="166.9" stroke="#3ad03a" stroke-width="1.4" stroke-dasharray="1.6,1.4"/>
<line x1="407.4" y1="166.2" x2="407.4" y2="184.0" stroke="#3ad03a" stroke-width="1.4" stroke-dasharray="1.6,1.4"/>
<line x1="403.5" y1="177.4" x2="396.9" y2="168.2" stroke="#3ad03a" stroke-width="1.4" stroke-dasharray="1.6,1.4"/>
<line x1="415.9" y1="176.8" x2="425.1" y2="188.6" stroke="#3ad03a" stroke-width="1.4" stroke-dasharray="1.6,1.4"/>
<line x1="432.4" y1="178.7" x2="439.6" y2="167.6" stroke="#3ad03a" stroke-width="1.4" stroke-dasharray="1.6,1.4"/>
<line x1="467.8" y1="175.4" x2="460.6" y2="166.9" stroke="#3ad03a" stroke-width="1.4" stroke-dasharray="1.6,1.4"/>
<line x1="414.6" y1="188.6" x2="425.1" y2="188.6" stroke="#3ad03a" stroke-width="1.4" stroke-dasharray="1.6,1.4"/>
<line x1="396.9" y1="193.2" x2="410.0" y2="198.4" stroke="#3ad03a" stroke-width="1.4" stroke-dasharray="1.6,1.4"/>
<line x1="433.0" y1="200.4" x2="410.0" y2="198.4" stroke="#3ad03a" stroke-width="1.4" stroke-dasharray="1.6,1.4"/>
<line x1="465.2" y1="190.6" x2="475.7" y2="185.3" stroke="#3ad03a" stroke-width="1.4" stroke-dasharray="1.6,1.4"/>
<line x1="468.5" y1="199.1" x2="475.7" y2="185.3" stroke="#3ad03a" stroke-width="1.4" stroke-dasharray="1.6,1.4"/>
<line x1="408.7" y1="211.6" x2="408.1" y2="237.5" stroke="#3ad03a" stroke-width="1.4" stroke-dasharray="1.6,1.4"/>
<line x1="452.1" y1="212.9" x2="444.8" y2="224.7" stroke="#3ad03a" stroke-width="1.4" stroke-dasharray="1.6,1.4"/>
<line x1="466.5" y1="226.0" x2="463.2" y2="242.7" stroke="#3ad03a" stroke-width="1.4" stroke-dasharray="1.6,1.4"/>
<line x1="477.0" y1="170.8" x2="475.7" y2="185.3" stroke="#3ad03a" stroke-width="1.4" stroke-dasharray="1.6,1.4"/>
<line x1="469.1" y1="168.2" x2="470.5" y2="182.7" stroke="#3ad03a" stroke-width="1.4" stroke-dasharray="1.6,1.4"/>
<line x1="319.7" y1="232.9" x2="317.1" y2="242.7" stroke="#3ad03a" stroke-width="1.4" stroke-dasharray="1.6,1.4"/>
<line x1="305.3" y1="250.6" x2="301.3" y2="267.0" stroke="#3ad03a" stroke-width="1.4" stroke-dasharray="1.6,1.4"/>
<line x1="327.6" y1="251.3" x2="344.7" y2="256.5" stroke="#3ad03a" stroke-width="1.4" stroke-dasharray="1.6,1.4"/>
<line x1="358.5" y1="234.9" x2="367.7" y2="226.0" stroke="#3ad03a" stroke-width="1.4" stroke-dasharray="1.6,1.4"/>
<line x1="357.8" y1="257.8" x2="358.5" y2="278.2" stroke="#3ad03a" stroke-width="1.4" stroke-dasharray="1.6,1.4"/>
<line x1="339.4" y1="269.0" x2="358.5" y2="278.2" stroke="#3ad03a" stroke-width="1.4" stroke-dasharray="1.6,1.4"/>
<line x1="381.5" y1="236.2" x2="390.3" y2="242.1" stroke="#3ad03a" stroke-width="1.4" stroke-dasharray="1.6,1.4"/>
<line x1="376.2" y1="240.8" x2="367.7" y2="229.6" stroke="#3ad03a" stroke-width="1.4" stroke-dasharray="1.6,1.4"/>
<line x1="385.4" y1="261.1" x2="384.7" y2="274.3" stroke="#3ad03a" stroke-width="1.4" stroke-dasharray="1.6,1.4"/>
<line x1="306.6" y1="276.2" x2="301.3" y2="267.0" stroke="#3ad03a" stroke-width="1.4" stroke-dasharray="1.6,1.4"/>
<line x1="326.3" y1="281.5" x2="331.5" y2="294.0" stroke="#3ad03a" stroke-width="1.4" stroke-dasharray="1.6,1.4"/>
<line x1="331.5" y1="294.6" x2="311.8" y2="299.2" stroke="#3ad03a" stroke-width="1.4" stroke-dasharray="1.6,1.4"/>
<line x1="363.1" y1="281.5" x2="351.9" y2="288.1" stroke="#3ad03a" stroke-width="1.4" stroke-dasharray="1.6,1.4"/>
<line x1="359.1" y1="293.3" x2="358.5" y2="278.2" stroke="#3ad03a" stroke-width="1.4" stroke-dasharray="1.6,1.4"/>
<line x1="355.2" y1="299.9" x2="358.5" y2="278.2" stroke="#3ad03a" stroke-width="1.4" stroke-dasharray="1.6,1.4"/>
<line x1="329.6" y1="306.5" x2="311.8" y2="299.2" stroke="#3ad03a" stroke-width="1.4" stroke-dasharray="1.6,1.4"/>
<line x1="384.7" y1="305.1" x2="410.7" y2="296.6" stroke="#3ad03a" stroke-width="1.4" stroke-dasharray="1.6,1.4"/>
<line x1="398.2" y1="230.9" x2="390.3" y2="242.1" stroke="#3ad03a" stroke-width="1.4" stroke-dasharray="1.6,1.4"/>
<line x1="420.5" y1="234.9" x2="408.1" y2="237.5" stroke="#3ad03a" stroke-width="1.4" stroke-dasharray="1.6,1.4"/>
<line x1="431.0" y1="230.3" x2="444.8" y2="228.9" stroke="#3ad03a" stroke-width="1.4" stroke-dasharray="1.6,1.4"/>
<line x1="452.1" y1="232.9" x2="444.8" y2="224.7" stroke="#3ad03a" stroke-width="1.4" stroke-dasharray="1.6,1.4"/>
<line x1="466.5" y1="228.9" x2="463.2" y2="242.7" stroke="#3ad03a" stroke-width="1.4" stroke-dasharray="1.6,1.4"/>
<line x1="402.1" y1="242.1" x2="390.3" y2="242.1" stroke="#3ad03a" stroke-width="1.4" stroke-dasharray="1.6,1.4"/>
<line x1="452.7" y1="242.1" x2="444.8" y2="228.9" stroke="#3ad03a" stroke-width="1.4" stroke-dasharray="1.6,1.4"/>
<line x1="423.8" y1="251.9" x2="432.4" y2="242.1" stroke="#3ad03a" stroke-width="1.4" stroke-dasharray="1.6,1.4"/>
<line x1="467.8" y1="255.9" x2="456.0" y2="273.0" stroke="#3ad03a" stroke-width="1.4" stroke-dasharray="1.6,1.4"/>
<line x1="459.3" y1="260.5" x2="463.2" y2="242.7" stroke="#3ad03a" stroke-width="1.4" stroke-dasharray="1.6,1.4"/>
<line x1="424.5" y1="262.4" x2="417.2" y2="244.7" stroke="#3ad03a" stroke-width="1.4" stroke-dasharray="1.6,1.4"/>
<line x1="442.2" y1="272.3" x2="456.0" y2="273.0" stroke="#3ad03a" stroke-width="1.4" stroke-dasharray="1.6,1.4"/>
<line x1="397.5" y1="275.6" x2="391.6" y2="265.1" stroke="#3ad03a" stroke-width="1.4" stroke-dasharray="1.6,1.4"/>
<line x1="402.8" y1="282.8" x2="396.9" y2="272.3" stroke="#3ad03a" stroke-width="1.4" stroke-dasharray="1.6,1.4"/>
<line x1="467.8" y1="277.6" x2="456.0" y2="273.0" stroke="#3ad03a" stroke-width="1.4" stroke-dasharray="1.6,1.4"/>
<line x1="466.5" y1="284.8" x2="456.0" y2="273.0" stroke="#3ad03a" stroke-width="1.4" stroke-dasharray="1.6,1.4"/>
<line x1="474.4" y1="280.2" x2="456.0" y2="273.0" stroke="#3ad03a" stroke-width="1.4" stroke-dasharray="1.6,1.4"/>
<line x1="473.7" y1="286.1" x2="456.0" y2="273.0" stroke="#3ad03a" stroke-width="1.4" stroke-dasharray="1.6,1.4"/>
<line x1="452.1" y1="289.4" x2="448.1" y2="300.5" stroke="#3ad03a" stroke-width="1.4" stroke-dasharray="1.6,1.4"/>
<line x1="422.5" y1="294.6" x2="420.5" y2="306.5" stroke="#3ad03a" stroke-width="1.4" stroke-dasharray="1.6,1.4"/>
<line x1="437.6" y1="297.9" x2="428.4" y2="307.8" stroke="#3ad03a" stroke-width="1.4" stroke-dasharray="1.6,1.4"/>
<line x1="403.5" y1="303.8" x2="410.0" y2="289.4" stroke="#3ad03a" stroke-width="1.4" stroke-dasharray="1.6,1.4"/>
<line x1="416.6" y1="306.5" x2="410.7" y2="296.6" stroke="#3ad03a" stroke-width="1.4" stroke-dasharray="1.6,1.4"/>
<line x1="363.1" y1="153.8" x2="371.6" y2="143.9" stroke="#e0e0e0" stroke-width="2.5"/>
<line x1="338.1" y1="140.0" x2="340.1" y2="146.5" stroke="#e0e0e0" stroke-width="2.5"/>
<line x1="343.4" y1="164.3" x2="346.0" y2="153.8" stroke="#e0e0e0" stroke-width="2.5"/>
<line x1="363.1" y1="153.8" x2="354.5" y2="150.5" stroke="#e0e0e0" stroke-width="2.5"/>
<line x1="343.4" y1="164.3" x2="332.2" y2="169.5" stroke="#e0e0e0" stroke-width="2.5"/>
<line x1="303.9" y1="171.5" x2="317.1" y2="170.8" stroke="#e0e0e0" stroke-width="2.5"/>
<line x1="343.4" y1="164.3" x2="346.0" y2="174.8" stroke="#e0e0e0" stroke-width="2.5"/>
<line x1="373.6" y1="191.9" x2="374.9" y2="182.0" stroke="#e0e0e0" stroke-width="2.5"/>
<line x1="365.0" y1="191.9" x2="369.0" y2="198.4" stroke="#e0e0e0" stroke-width="2.5"/>
<line x1="303.9" y1="171.5" x2="302.6" y2="182.0" stroke="#e0e0e0" stroke-width="2.5"/>
<line x1="301.3" y1="203.7" x2="303.9" y2="210.3" stroke="#e0e0e0" stroke-width="2.5"/>
<line x1="301.3" y1="203.7" x2="306.6" y2="215.5" stroke="#e0e0e0" stroke-width="2.5"/>
<line x1="367.7" y1="226.0" x2="365.0" y2="216.2" stroke="#e0e0e0" stroke-width="2.5"/>
<line x1="433.7" y1="142.6" x2="446.2" y2="147.2" stroke="#e0e0e0" stroke-width="2.5"/>
<line x1="433.7" y1="142.6" x2="425.1" y2="151.1" stroke="#e0e0e0" stroke-width="2.5"/>
<line x1="439.6" y1="167.6" x2="433.0" y2="157.1" stroke="#e0e0e0" stroke-width="2.5"/>
<line x1="460.6" y1="166.9" x2="466.5" y2="154.4" stroke="#e0e0e0" stroke-width="2.5"/>
<line x1="474.4" y1="141.9" x2="475.1" y2="153.1" stroke="#e0e0e0" stroke-width="2.5"/>
<line x1="396.9" y1="168.2" x2="407.4" y2="166.2" stroke="#e0e0e0" stroke-width="2.5"/>
<line x1="407.4" y1="184.0" x2="403.5" y2="177.4" stroke="#e0e0e0" stroke-width="2.5"/>
<line x1="407.4" y1="184.0" x2="415.9" y2="176.8" stroke="#e0e0e0" stroke-width="2.5"/>
<line x1="425.1" y1="188.6" x2="432.4" y2="178.7" stroke="#e0e0e0" stroke-width="2.5"/>
<line x1="470.5" y1="182.7" x2="467.8" y2="175.4" stroke="#e0e0e0" stroke-width="2.5"/>
<line x1="407.4" y1="184.0" x2="414.6" y2="188.6" stroke="#e0e0e0" stroke-width="2.5"/>
<line x1="407.4" y1="184.0" x2="396.9" y2="193.2" stroke="#e0e0e0" stroke-width="2.5"/>
<line x1="470.5" y1="182.7" x2="465.2" y2="190.6" stroke="#e0e0e0" stroke-width="2.5"/>
<line x1="475.7" y1="185.3" x2="470.5" y2="189.9" stroke="#e0e0e0" stroke-width="2.5"/>
<line x1="461.9" y1="209.6" x2="468.5" y2="199.1" stroke="#e0e0e0" stroke-width="2.5"/>
<line x1="410.0" y1="198.4" x2="408.7" y2="211.6" stroke="#e0e0e0" stroke-width="2.5"/>
<line x1="461.9" y1="209.6" x2="452.1" y2="212.9" stroke="#e0e0e0" stroke-width="2.5"/>
<line x1="475.7" y1="229.6" x2="466.5" y2="226.0" stroke="#e0e0e0" stroke-width="2.5"/>
<line x1="470.5" y1="182.7" x2="477.0" y2="170.8" stroke="#e0e0e0" stroke-width="2.5"/>
<line x1="460.6" y1="166.9" x2="469.1" y2="168.2" stroke="#e0e0e0" stroke-width="2.5"/>
<line x1="323.6" y1="226.3" x2="326.3" y2="231.6" stroke="#e0e0e0" stroke-width="2.5"/>
<line x1="323.6" y1="226.3" x2="319.7" y2="232.9" stroke="#e0e0e0" stroke-width="2.5"/>
<line x1="317.1" y1="242.7" x2="327.6" y2="251.3" stroke="#e0e0e0" stroke-width="2.5"/>
<line x1="367.7" y1="229.6" x2="358.5" y2="234.9" stroke="#e0e0e0" stroke-width="2.5"/>
<line x1="344.7" y1="256.5" x2="357.8" y2="257.8" stroke="#e0e0e0" stroke-width="2.5"/>
<line x1="344.7" y1="256.5" x2="339.4" y2="269.0" stroke="#e0e0e0" stroke-width="2.5"/>
<line x1="386.7" y1="243.4" x2="381.5" y2="236.2" stroke="#e0e0e0" stroke-width="2.5"/>
<line x1="386.7" y1="243.4" x2="376.2" y2="240.8" stroke="#e0e0e0" stroke-width="2.5"/>
<line x1="391.6" y1="265.1" x2="385.4" y2="261.1" stroke="#e0e0e0" stroke-width="2.5"/>
<line x1="315.1" y1="275.6" x2="306.6" y2="276.2" stroke="#e0e0e0" stroke-width="2.5"/>
<line x1="315.1" y1="275.6" x2="326.3" y2="281.5" stroke="#e0e0e0" stroke-width="2.5"/>
<line x1="331.5" y1="294.0" x2="331.5" y2="294.6" stroke="#e0e0e0" stroke-width="2.5"/>
<line x1="358.5" y1="278.2" x2="363.1" y2="281.5" stroke="#e0e0e0" stroke-width="2.5"/>
<line x1="358.5" y1="278.2" x2="353.9" y2="280.2" stroke="#e0e0e0" stroke-width="2.5"/>
<line x1="351.9" y1="288.1" x2="359.1" y2="293.3" stroke="#e0e0e0" stroke-width="2.5"/>
<line x1="351.9" y1="288.1" x2="355.2" y2="299.9" stroke="#e0e0e0" stroke-width="2.5"/>
<line x1="331.5" y1="294.0" x2="329.6" y2="306.5" stroke="#e0e0e0" stroke-width="2.5"/>
<line x1="378.8" y1="311.7" x2="384.7" y2="305.1" stroke="#e0e0e0" stroke-width="2.5"/>
<line x1="408.1" y1="237.5" x2="398.2" y2="230.9" stroke="#e0e0e0" stroke-width="2.5"/>
<line x1="417.2" y1="244.7" x2="420.5" y2="234.9" stroke="#e0e0e0" stroke-width="2.5"/>
<line x1="432.4" y1="242.1" x2="431.0" y2="230.3" stroke="#e0e0e0" stroke-width="2.5"/>
<line x1="444.8" y1="228.9" x2="452.1" y2="232.9" stroke="#e0e0e0" stroke-width="2.5"/>
<line x1="475.7" y1="229.6" x2="466.5" y2="228.9" stroke="#e0e0e0" stroke-width="2.5"/>
<line x1="408.1" y1="237.5" x2="402.1" y2="242.1" stroke="#e0e0e0" stroke-width="2.5"/>
<line x1="463.2" y1="242.7" x2="452.7" y2="242.1" stroke="#e0e0e0" stroke-width="2.5"/>
<line x1="417.2" y1="244.7" x2="423.8" y2="251.9" stroke="#e0e0e0" stroke-width="2.5"/>
<line x1="463.2" y1="242.7" x2="467.8" y2="255.9" stroke="#e0e0e0" stroke-width="2.5"/>
<line x1="456.0" y1="273.0" x2="459.3" y2="260.5" stroke="#e0e0e0" stroke-width="2.5"/>
<line x1="433.7" y1="271.6" x2="424.5" y2="262.4" stroke="#e0e0e0" stroke-width="2.5"/>
<line x1="433.7" y1="271.6" x2="442.2" y2="272.3" stroke="#e0e0e0" stroke-width="2.5"/>
<line x1="396.9" y1="272.3" x2="397.5" y2="275.6" stroke="#e0e0e0" stroke-width="2.5"/>
<line x1="410.0" y1="289.4" x2="402.8" y2="282.8" stroke="#e0e0e0" stroke-width="2.5"/>
<line x1="476.4" y1="274.9" x2="467.8" y2="277.6" stroke="#e0e0e0" stroke-width="2.5"/>
<line x1="476.4" y1="274.9" x2="466.5" y2="284.8" stroke="#e0e0e0" stroke-width="2.5"/>
<line x1="476.4" y1="274.9" x2="474.4" y2="280.2" stroke="#e0e0e0" stroke-width="2.5"/>
<line x1="476.4" y1="274.9" x2="473.7" y2="286.1" stroke="#e0e0e0" stroke-width="2.5"/>
<line x1="454.7" y1="299.9" x2="452.1" y2="289.4" stroke="#e0e0e0" stroke-width="2.5"/>
<line x1="410.7" y1="296.6" x2="422.5" y2="294.6" stroke="#e0e0e0" stroke-width="2.5"/>
<line x1="448.1" y1="300.5" x2="437.6" y2="297.9" stroke="#e0e0e0" stroke-width="2.5"/>
<line x1="410.7" y1="296.6" x2="403.5" y2="303.8" stroke="#e0e0e0" stroke-width="2.5"/>
<line x1="420.5" y1="306.5" x2="416.6" y2="306.5" stroke="#e0e0e0" stroke-width="2.5"/>
<line x1="454.7" y1="299.9" x2="453.4" y2="308.4" stroke="#e0e0e0" stroke-width="2.5"/>
<circle cx="338.1" cy="140.0" r="6.6" fill="url(#sR)"/>
<circle cx="340.1" cy="146.5" r="5.0" fill="url(#sW)"/>
<circle cx="387.4" cy="141.9" r="5.0" fill="url(#sW)"/>
<circle cx="371.6" cy="143.9" r="5.0" fill="url(#sW)"/>
<circle cx="391.6" cy="141.9" r="5.0" fill="url(#sW)"/>
<circle cx="417.9" cy="140.6" r="6.6" fill="url(#sR)"/>
<circle cx="354.5" cy="150.5" r="5.0" fill="url(#sW)"/>
<circle cx="433.7" cy="142.6" r="6.6" fill="url(#sR)"/>
<circle cx="453.4" cy="141.3" r="5.0" fill="url(#sW)"/>
<circle cx="346.0" cy="153.8" r="5.0" fill="url(#sW)"/>
<circle cx="474.4" cy="141.9" r="6.6" fill="url(#sR)"/>
<circle cx="363.1" cy="153.8" r="6.6" fill="url(#sR)"/>
<circle cx="446.2" cy="147.2" r="5.0" fill="url(#sW)"/>
<circle cx="425.1" cy="151.1" r="5.0" fill="url(#sW)"/>
<circle cx="343.4" cy="164.3" r="6.6" fill="url(#sR)"/>
<circle cx="433.0" cy="157.1" r="5.0" fill="url(#sW)"/>
<circle cx="475.1" cy="153.1" r="5.0" fill="url(#sW)"/>
<circle cx="466.5" cy="154.4" r="5.0" fill="url(#sW)"/>
<circle cx="303.9" cy="171.5" r="6.6" fill="url(#sR)"/>
<circle cx="317.1" cy="170.8" r="5.0" fill="url(#sW)"/>
<circle cx="332.2" cy="169.5" r="5.0" fill="url(#sW)"/>
<circle cx="407.4" cy="166.2" r="5.0" fill="url(#sW)"/>
<circle cx="396.9" cy="168.2" r="6.6" fill="url(#sR)"/>
<circle cx="346.0" cy="174.8" r="5.0" fill="url(#sW)"/>
<circle cx="439.6" cy="167.6" r="6.6" fill="url(#sR)"/>
<circle cx="302.6" cy="182.0" r="5.0" fill="url(#sW)"/>
<circle cx="460.6" cy="166.9" r="6.6" fill="url(#sR)"/>
<circle cx="368.3" cy="176.8" r="5.0" fill="url(#sW)"/>
<circle cx="469.1" cy="168.2" r="5.0" fill="url(#sW)"/>
<circle cx="403.5" cy="177.4" r="5.0" fill="url(#sW)"/>
<circle cx="415.9" cy="176.8" r="5.0" fill="url(#sW)"/>
<circle cx="477.0" cy="170.8" r="5.0" fill="url(#sW)"/>
<circle cx="374.9" cy="182.0" r="5.0" fill="url(#sW)"/>
<circle cx="432.4" cy="178.7" r="5.0" fill="url(#sW)"/>
<circle cx="467.8" cy="175.4" r="5.0" fill="url(#sW)"/>
<circle cx="407.4" cy="184.0" r="6.6" fill="url(#sR)"/>
<circle cx="345.3" cy="190.6" r="6.6" fill="url(#sR)"/>
<circle cx="365.0" cy="191.9" r="6.6" fill="url(#sR)"/>
<circle cx="373.6" cy="191.9" r="6.6" fill="url(#sR)"/>
<circle cx="470.5" cy="182.7" r="6.6" fill="url(#sR)"/>
<circle cx="414.6" cy="188.6" r="5.0" fill="url(#sW)"/>
<circle cx="425.1" cy="188.6" r="6.6" fill="url(#sR)"/>
<circle cx="475.7" cy="185.3" r="6.6" fill="url(#sR)"/>
<circle cx="396.9" cy="193.2" r="5.0" fill="url(#sW)"/>
<circle cx="301.3" cy="203.7" r="6.6" fill="url(#sR)"/>
<circle cx="335.5" cy="201.1" r="5.0" fill="url(#sW)"/>
<circle cx="369.0" cy="198.4" r="5.0" fill="url(#sW)"/>
<circle cx="470.5" cy="189.9" r="5.0" fill="url(#sW)"/>
<circle cx="465.2" cy="190.6" r="5.0" fill="url(#sW)"/>
<circle cx="410.0" cy="198.4" r="6.6" fill="url(#sR)"/>
<circle cx="303.9" cy="210.3" r="5.0" fill="url(#sW)"/>
<circle cx="433.0" cy="200.4" r="5.0" fill="url(#sW)"/>
<circle cx="468.5" cy="199.1" r="5.0" fill="url(#sW)"/>
<circle cx="306.6" cy="215.5" r="5.0" fill="url(#sW)"/>
<circle cx="408.7" cy="211.6" r="5.0" fill="url(#sW)"/>
<circle cx="365.0" cy="216.2" r="5.0" fill="url(#sW)"/>
<circle cx="323.6" cy="222.7" r="6.6" fill="url(#sR)"/>
<circle cx="461.9" cy="209.6" r="6.6" fill="url(#sR)"/>
<circle cx="452.1" cy="212.9" r="5.0" fill="url(#sW)"/>
<circle cx="323.6" cy="226.3" r="6.6" fill="url(#sR)"/>
<circle cx="367.7" cy="226.0" r="6.6" fill="url(#sR)"/>
<circle cx="326.3" cy="231.6" r="5.0" fill="url(#sW)"/>
<circle cx="319.7" cy="232.9" r="5.0" fill="url(#sW)"/>
<circle cx="367.7" cy="229.6" r="6.6" fill="url(#sR)"/>
<circle cx="444.8" cy="224.7" r="6.6" fill="url(#sR)"/>
<circle cx="358.5" cy="234.9" r="5.0" fill="url(#sW)"/>
<circle cx="398.2" cy="230.9" r="5.0" fill="url(#sW)"/>
<circle cx="466.5" cy="226.0" r="5.0" fill="url(#sW)"/>
<circle cx="431.0" cy="230.3" r="5.0" fill="url(#sW)"/>
<circle cx="444.8" cy="228.9" r="6.6" fill="url(#sR)"/>
<circle cx="381.5" cy="236.2" r="5.0" fill="url(#sW)"/>
<circle cx="317.1" cy="242.7" r="6.6" fill="url(#sR)"/>
<circle cx="466.5" cy="228.9" r="5.0" fill="url(#sW)"/>
<circle cx="420.5" cy="234.9" r="5.0" fill="url(#sW)"/>
<circle cx="475.7" cy="229.6" r="6.6" fill="url(#sR)"/>
<circle cx="452.1" cy="232.9" r="5.0" fill="url(#sW)"/>
<circle cx="408.1" cy="237.5" r="6.6" fill="url(#sR)"/>
<circle cx="376.2" cy="240.8" r="5.0" fill="url(#sW)"/>
<circle cx="390.3" cy="242.1" r="6.6" fill="url(#sR)"/>
<circle cx="305.3" cy="250.6" r="5.0" fill="url(#sW)"/>
<circle cx="386.7" cy="243.4" r="6.6" fill="url(#sR)"/>
<circle cx="402.1" cy="242.1" r="5.0" fill="url(#sW)"/>
<circle cx="327.6" cy="251.3" r="5.0" fill="url(#sW)"/>
<circle cx="432.4" cy="242.1" r="6.6" fill="url(#sR)"/>
<circle cx="417.2" cy="244.7" r="6.6" fill="url(#sR)"/>
<circle cx="452.7" cy="242.1" r="5.0" fill="url(#sW)"/>
<circle cx="463.2" cy="242.7" r="6.6" fill="url(#sR)"/>
<circle cx="344.7" cy="256.5" r="6.6" fill="url(#sR)"/>
<circle cx="357.8" cy="257.8" r="5.0" fill="url(#sW)"/>
<circle cx="423.8" cy="251.9" r="5.0" fill="url(#sW)"/>
<circle cx="301.3" cy="267.0" r="6.6" fill="url(#sR)"/>
<circle cx="385.4" cy="261.1" r="5.0" fill="url(#sW)"/>
<circle cx="467.8" cy="255.9" r="5.0" fill="url(#sW)"/>
<circle cx="339.4" cy="269.0" r="5.0" fill="url(#sW)"/>
<circle cx="391.6" cy="265.1" r="6.6" fill="url(#sR)"/>
<circle cx="424.5" cy="262.4" r="5.0" fill="url(#sW)"/>
<circle cx="459.3" cy="260.5" r="5.0" fill="url(#sW)"/>
<circle cx="306.6" cy="276.2" r="5.0" fill="url(#sW)"/>
<circle cx="315.1" cy="275.6" r="6.6" fill="url(#sR)"/>
<circle cx="396.9" cy="272.3" r="6.6" fill="url(#sR)"/>
<circle cx="384.7" cy="274.3" r="6.6" fill="url(#sR)"/>
<circle cx="358.5" cy="278.2" r="6.6" fill="url(#sR)"/>
<circle cx="326.3" cy="281.5" r="5.0" fill="url(#sW)"/>
<circle cx="433.7" cy="271.6" r="6.6" fill="url(#sR)"/>
<circle cx="397.5" cy="275.6" r="5.0" fill="url(#sW)"/>
<circle cx="353.9" cy="280.2" r="5.0" fill="url(#sW)"/>
<circle cx="442.2" cy="272.3" r="5.0" fill="url(#sW)"/>
<circle cx="363.1" cy="281.5" r="5.0" fill="url(#sW)"/>
<circle cx="456.0" cy="273.0" r="6.6" fill="url(#sR)"/>
<circle cx="476.4" cy="274.9" r="6.6" fill="url(#sR)"/>
<circle cx="402.8" cy="282.8" r="5.0" fill="url(#sW)"/>
<circle cx="351.9" cy="288.1" r="6.6" fill="url(#sR)"/>
<circle cx="467.8" cy="277.6" r="5.0" fill="url(#sW)"/>
<circle cx="331.5" cy="294.0" r="6.6" fill="url(#sR)"/>
<circle cx="474.4" cy="280.2" r="5.0" fill="url(#sW)"/>
<circle cx="331.5" cy="294.6" r="5.0" fill="url(#sW)"/>
<circle cx="359.1" cy="293.3" r="5.0" fill="url(#sW)"/>
<circle cx="410.0" cy="289.4" r="6.6" fill="url(#sR)"/>
<circle cx="311.8" cy="299.2" r="6.6" fill="url(#sR)"/>
<circle cx="466.5" cy="284.8" r="5.0" fill="url(#sW)"/>
<circle cx="473.7" cy="286.1" r="5.0" fill="url(#sW)"/>
<circle cx="452.1" cy="289.4" r="5.0" fill="url(#sW)"/>
<circle cx="355.2" cy="299.9" r="5.0" fill="url(#sW)"/>
<circle cx="422.5" cy="294.6" r="5.0" fill="url(#sW)"/>
<circle cx="410.7" cy="296.6" r="6.6" fill="url(#sR)"/>
<circle cx="329.6" cy="306.5" r="5.0" fill="url(#sW)"/>
<circle cx="437.6" cy="297.9" r="5.0" fill="url(#sW)"/>
<circle cx="384.7" cy="305.1" r="5.0" fill="url(#sW)"/>
<circle cx="403.5" cy="303.8" r="5.0" fill="url(#sW)"/>
<circle cx="448.1" cy="300.5" r="6.6" fill="url(#sR)"/>
<circle cx="454.7" cy="299.9" r="6.6" fill="url(#sR)"/>
<circle cx="416.6" cy="306.5" r="5.0" fill="url(#sW)"/>
<circle cx="420.5" cy="306.5" r="6.6" fill="url(#sR)"/>
<circle cx="378.8" cy="311.7" r="6.6" fill="url(#sR)"/>
<circle cx="428.4" cy="307.8" r="6.6" fill="url(#sR)"/>
<circle cx="453.4" cy="308.4" r="5.0" fill="url(#sW)"/>
</svg>
<svg x="300.0" y="314.5" width="179.0" height="179.5" viewBox="300.0 314.5 179.0 179.5" overflow="hidden">
<rect x="300.0" y="314.5" width="179.0" height="179.5" fill="url(#bg)"/>
<path d="M321.0 342.9 L330.2 363.9" fill="none" stroke="#b86e6a" stroke-width="6.2" stroke-linejoin="round" stroke-linecap="round" opacity="0.55"/>
<path d="M321.0 342.9 L330.2 363.9" fill="none" stroke="#f2eba2" stroke-width="5.2" stroke-linejoin="round" stroke-linecap="round"/>
<path d="M323.0 347.5L328.2 359.3" fill="none" stroke="#e6958f" stroke-width="5.2"/>
<path d="M344.7 314.0 L347.3 336.3" fill="none" stroke="#b86e6a" stroke-width="6.2" stroke-linejoin="round" stroke-linecap="round" opacity="0.55"/>
<path d="M344.7 314.0 L347.3 336.3" fill="none" stroke="#f2eba2" stroke-width="5.2" stroke-linejoin="round" stroke-linecap="round"/>
<path d="M345.3 318.9L346.7 331.4" fill="none" stroke="#e6958f" stroke-width="5.2"/>
<path d="M330.2 357.4 L352.6 375.8" fill="none" stroke="#b86e6a" stroke-width="6.2" stroke-linejoin="round" stroke-linecap="round" opacity="0.55"/>
<path d="M330.2 357.4 L352.6 375.8" fill="none" stroke="#f2eba2" stroke-width="5.2" stroke-linejoin="round" stroke-linecap="round"/>
<path d="M335.1 361.4L347.6 371.7" fill="none" stroke="#e6958f" stroke-width="5.2"/>
<path d="M352.6 375.8 L368.3 371.8 L390.0 370.5" fill="none" stroke="#b86e6a" stroke-width="6.2" stroke-linejoin="round" stroke-linecap="round" opacity="0.55"/>
<path d="M352.6 375.8 L368.3 371.8 L390.0 370.5" fill="none" stroke="#f2eba2" stroke-width="5.2" stroke-linejoin="round" stroke-linecap="round"/>
<path d="M356.0 374.9L364.9 372.7M373.1 371.5L385.2 370.8" fill="none" stroke="#e6958f" stroke-width="5.2"/>
<path d="M339.4 369.2 L360.4 382.3" fill="none" stroke="#b86e6a" stroke-width="6.2" stroke-linejoin="round" stroke-linecap="round" opacity="0.55"/>
<path d="M339.4 369.2 L360.4 382.3" fill="none" stroke="#f2eba2" stroke-width="5.2" stroke-linejoin="round" stroke-linecap="round"/>
<path d="M344.0 372.1L355.8 379.4" fill="none" stroke="#e6958f" stroke-width="5.2"/>
<path d="M300.0 382.3 L315.8 387.6 L334.2 391.5" fill="none" stroke="#b86e6a" stroke-width="6.2" stroke-linejoin="round" stroke-linecap="round" opacity="0.55"/>
<path d="M300.0 382.3 L315.8 387.6 L334.2 391.5" fill="none" stroke="#f2eba2" stroke-width="5.2" stroke-linejoin="round" stroke-linecap="round"/>
<path d="M303.5 383.5L312.3 386.4M319.8 388.4L330.1 390.7" fill="none" stroke="#e6958f" stroke-width="5.2"/>
<path d="M321.0 392.8 L321.0 404.0" fill="none" stroke="#b86e6a" stroke-width="6.2" stroke-linejoin="round" stroke-linecap="round" opacity="0.55"/>
<path d="M321.0 392.8 L321.0 404.0" fill="none" stroke="#f2eba2" stroke-width="5.2" stroke-linejoin="round" stroke-linecap="round"/>
<path d="M321.0 395.3L321.0 401.5" fill="none" stroke="#e6958f" stroke-width="5.2"/>
<path d="M352.6 375.8 L355.2 404.0" fill="none" stroke="#b86e6a" stroke-width="6.2" stroke-linejoin="round" stroke-linecap="round" opacity="0.55"/>
<path d="M352.6 375.8 L355.2 404.0" fill="none" stroke="#f2eba2" stroke-width="5.2" stroke-linejoin="round" stroke-linecap="round"/>
<path d="M353.1 382.0L354.6 397.8" fill="none" stroke="#e6958f" stroke-width="5.2"/>
<path d="M373.6 340.3 L389.3 333.7" fill="none" stroke="#b86e6a" stroke-width="6.2" stroke-linejoin="round" stroke-linecap="round" opacity="0.55"/>
<path d="M373.6 340.3 L389.3 333.7" fill="none" stroke="#f2eba2" stroke-width="5.2" stroke-linejoin="round" stroke-linecap="round"/>
<path d="M377.0 338.8L385.9 335.2" fill="none" stroke="#e6958f" stroke-width="5.2"/>
<path d="M378.8 371.8 L390.0 387.6" fill="none" stroke="#b86e6a" stroke-width="6.2" stroke-linejoin="round" stroke-linecap="round" opacity="0.55"/>
<path d="M378.8 371.8 L390.0 387.6" fill="none" stroke="#f2eba2" stroke-width="5.2" stroke-linejoin="round" stroke-linecap="round"/>
<path d="M381.3 375.3L387.5 384.1" fill="none" stroke="#e6958f" stroke-width="5.2"/>
<path d="M323.6 314.0 L326.3 329.8" fill="none" stroke="#b86e6a" stroke-width="6.2" stroke-linejoin="round" stroke-linecap="round" opacity="0.55"/>
<path d="M323.6 314.0 L326.3 329.8" fill="none" stroke="#f2eba2" stroke-width="5.2" stroke-linejoin="round" stroke-linecap="round"/>
<path d="M324.2 317.5L325.7 326.3" fill="none" stroke="#e6958f" stroke-width="5.2"/>
<path d="M355.2 314.0 L352.6 325.8 L332.8 331.1" fill="none" stroke="#b86e6a" stroke-width="6.2" stroke-linejoin="round" stroke-linecap="round" opacity="0.55"/>
<path d="M355.2 314.0 L352.6 325.8 L332.8 331.1" fill="none" stroke="#f2eba2" stroke-width="5.2" stroke-linejoin="round" stroke-linecap="round"/>
<path d="M354.6 316.6L353.1 323.2M348.2 327.0L337.2 329.9" fill="none" stroke="#e6958f" stroke-width="5.2"/>
<path d="M402.1 317.9 L435.0 319.3 L462.6 320.6 L479.0 327.1" fill="none" stroke="#b86e6a" stroke-width="6.2" stroke-linejoin="round" stroke-linecap="round" opacity="0.55"/>
<path d="M402.1 317.9 L435.0 319.3 L462.6 320.6 L479.0 327.1" fill="none" stroke="#f2eba2" stroke-width="5.2" stroke-linejoin="round" stroke-linecap="round"/>
<path d="M409.4 318.2L427.8 319.0M441.1 319.5L456.5 320.3M466.2 322.0L475.4 325.7" fill="none" stroke="#e6958f" stroke-width="5.2"/>
<path d="M425.8 314.0 L425.8 346.8" fill="none" stroke="#b86e6a" stroke-width="6.2" stroke-linejoin="round" stroke-linecap="round" opacity="0.55"/>
<path d="M425.8 314.0 L425.8 346.8" fill="none" stroke="#f2eba2" stroke-width="5.2" stroke-linejoin="round" stroke-linecap="round"/>
<path d="M425.8 321.2L425.8 339.6" fill="none" stroke="#e6958f" stroke-width="5.2"/>
<path d="M432.4 337.6 L448.1 370.5" fill="none" stroke="#b86e6a" stroke-width="6.2" stroke-linejoin="round" stroke-linecap="round" opacity="0.55"/>
<path d="M432.4 337.6 L448.1 370.5" fill="none" stroke="#f2eba2" stroke-width="5.2" stroke-linejoin="round" stroke-linecap="round"/>
<path d="M435.8 344.9L444.7 363.3" fill="none" stroke="#e6958f" stroke-width="5.2"/>
<path d="M448.1 370.5 L479.0 379.7" fill="none" stroke="#b86e6a" stroke-width="6.2" stroke-linejoin="round" stroke-linecap="round" opacity="0.55"/>
<path d="M448.1 370.5 L479.0 379.7" fill="none" stroke="#f2eba2" stroke-width="5.2" stroke-linejoin="round" stroke-linecap="round"/>
<path d="M454.9 372.5L472.2 377.7" fill="none" stroke="#e6958f" stroke-width="5.2"/>
<path d="M448.1 370.5 L438.9 382.3 L428.4 392.8" fill="none" stroke="#b86e6a" stroke-width="6.2" stroke-linejoin="round" stroke-linecap="round" opacity="0.55"/>
<path d="M448.1 370.5 L438.9 382.3 L428.4 392.8" fill="none" stroke="#f2eba2" stroke-width="5.2" stroke-linejoin="round" stroke-linecap="round"/>
<path d="M446.1 373.1L441.0 379.7M436.6 384.6L430.7 390.5" fill="none" stroke="#e6958f" stroke-width="5.2"/>
<path d="M420.5 369.2 L432.4 387.6 L441.6 404.0" fill="none" stroke="#b86e6a" stroke-width="6.2" stroke-linejoin="round" stroke-linecap="round" opacity="0.55"/>
<path d="M420.5 369.2 L432.4 387.6 L441.6 404.0" fill="none" stroke="#f2eba2" stroke-width="5.2" stroke-linejoin="round" stroke-linecap="round"/>
<path d="M423.1 373.2L429.8 383.5M434.4 391.2L439.5 400.4" fill="none" stroke="#e6958f" stroke-width="5.2"/>
<path d="M415.3 327.1 L438.9 327.1" fill="none" stroke="#b86e6a" stroke-width="6.2" stroke-linejoin="round" stroke-linecap="round" opacity="0.55"/>
<path d="M415.3 327.1 L438.9 327.1" fill="none" stroke="#f2eba2" stroke-width="5.2" stroke-linejoin="round" stroke-linecap="round"/>
<path d="M420.5 327.1L433.7 327.1" fill="none" stroke="#e6958f" stroke-width="5.2"/>
<path d="M462.6 320.6 L479.0 331.1" fill="none" stroke="#b86e6a" stroke-width="6.2" stroke-linejoin="round" stroke-linecap="round" opacity="0.55"/>
<path d="M462.6 320.6 L479.0 331.1" fill="none" stroke="#f2eba2" stroke-width="5.2" stroke-linejoin="round" stroke-linecap="round"/>
<path d="M466.2 322.9L475.4 328.8" fill="none" stroke="#e6958f" stroke-width="5.2"/>
<path d="M389.0 375.8 L402.1 370.5" fill="none" stroke="#b86e6a" stroke-width="6.2" stroke-linejoin="round" stroke-linecap="round" opacity="0.55"/>
<path d="M389.0 375.8 L402.1 370.5" fill="none" stroke="#f2eba2" stroke-width="5.2" stroke-linejoin="round" stroke-linecap="round"/>
<path d="M391.9 374.6L399.2 371.7" fill="none" stroke="#e6958f" stroke-width="5.2"/>
<path d="M389.0 360.0 L408.7 363.9" fill="none" stroke="#b86e6a" stroke-width="6.2" stroke-linejoin="round" stroke-linecap="round" opacity="0.55"/>
<path d="M389.0 360.0 L408.7 363.9" fill="none" stroke="#f2eba2" stroke-width="5.2" stroke-linejoin="round" stroke-linecap="round"/>
<path d="M393.3 360.9L404.4 363.1" fill="none" stroke="#e6958f" stroke-width="5.2"/>
<path d="M321.0 408.3 L317.1 426.6 L307.9 434.5 L301.3 437.2" fill="none" stroke="#b86e6a" stroke-width="6.2" stroke-linejoin="round" stroke-linecap="round" opacity="0.55"/>
<path d="M321.0 408.3 L317.1 426.6 L307.9 434.5 L301.3 437.2" fill="none" stroke="#f2eba2" stroke-width="5.2" stroke-linejoin="round" stroke-linecap="round"/>
<path d="M320.2 412.3L317.9 422.6M315.1 428.4L309.9 432.8M306.4 435.1L302.8 436.6" fill="none" stroke="#e6958f" stroke-width="5.2"/>
<path d="M301.3 438.5 L322.3 445.0" fill="none" stroke="#b86e6a" stroke-width="6.2" stroke-linejoin="round" stroke-linecap="round" opacity="0.55"/>
<path d="M301.3 438.5 L322.3 445.0" fill="none" stroke="#f2eba2" stroke-width="5.2" stroke-linejoin="round" stroke-linecap="round"/>
<path d="M305.9 439.9L317.7 443.6" fill="none" stroke="#e6958f" stroke-width="5.2"/>
<path d="M322.3 445.0 L332.8 434.5 L338.1 428.0" fill="none" stroke="#b86e6a" stroke-width="6.2" stroke-linejoin="round" stroke-linecap="round" opacity="0.55"/>
<path d="M322.3 445.0 L332.8 434.5 L338.1 428.0" fill="none" stroke="#f2eba2" stroke-width="5.2" stroke-linejoin="round" stroke-linecap="round"/>
<path d="M324.6 442.7L330.5 436.8M334.0 433.1L336.9 429.4" fill="none" stroke="#e6958f" stroke-width="5.2"/>
<path d="M322.3 445.0 L334.2 458.2 L344.7 468.7 L357.8 476.6" fill="none" stroke="#b86e6a" stroke-width="6.2" stroke-linejoin="round" stroke-linecap="round" opacity="0.55"/>
<path d="M322.3 445.0 L334.2 458.2 L344.7 468.7 L357.8 476.6" fill="none" stroke="#f2eba2" stroke-width="5.2" stroke-linejoin="round" stroke-linecap="round"/>
<path d="M324.9 447.9L331.6 455.3M336.5 460.5L342.4 466.4M347.6 470.4L354.9 474.8" fill="none" stroke="#e6958f" stroke-width="5.2"/>
<path d="M357.8 408.3 L352.6 429.3" fill="none" stroke="#b86e6a" stroke-width="6.2" stroke-linejoin="round" stroke-linecap="round" opacity="0.55"/>
<path d="M357.8 408.3 L352.6 429.3" fill="none" stroke="#f2eba2" stroke-width="5.2" stroke-linejoin="round" stroke-linecap="round"/>
<path d="M356.7 412.9L353.7 424.7" fill="none" stroke="#e6958f" stroke-width="5.2"/>
<path d="M301.3 446.4 L315.8 446.4" fill="none" stroke="#b86e6a" stroke-width="6.2" stroke-linejoin="round" stroke-linecap="round" opacity="0.55"/>
<path d="M301.3 446.4 L315.8 446.4" fill="none" stroke="#f2eba2" stroke-width="5.2" stroke-linejoin="round" stroke-linecap="round"/>
<path d="M304.5 446.4L312.6 446.4" fill="none" stroke="#e6958f" stroke-width="5.2"/>
<path d="M307.9 447.7 L307.9 481.8" fill="none" stroke="#b86e6a" stroke-width="6.2" stroke-linejoin="round" stroke-linecap="round" opacity="0.55"/>
<path d="M307.9 447.7 L307.9 481.8" fill="none" stroke="#f2eba2" stroke-width="5.2" stroke-linejoin="round" stroke-linecap="round"/>
<path d="M307.9 455.2L307.9 474.3" fill="none" stroke="#e6958f" stroke-width="5.2"/>
<path d="M307.9 481.8 L325.0 489.7" fill="none" stroke="#b86e6a" stroke-width="6.2" stroke-linejoin="round" stroke-linecap="round" opacity="0.55"/>
<path d="M307.9 481.8 L325.0 489.7" fill="none" stroke="#f2eba2" stroke-width="5.2" stroke-linejoin="round" stroke-linecap="round"/>
<path d="M311.6 483.6L321.2 488.0" fill="none" stroke="#e6958f" stroke-width="5.2"/>
<path d="M365.7 480.5 L390.0 467.4" fill="none" stroke="#b86e6a" stroke-width="6.2" stroke-linejoin="round" stroke-linecap="round" opacity="0.55"/>
<path d="M365.7 480.5 L390.0 467.4" fill="none" stroke="#f2eba2" stroke-width="5.2" stroke-linejoin="round" stroke-linecap="round"/>
<path d="M371.0 477.6L384.7 470.3" fill="none" stroke="#e6958f" stroke-width="5.2"/>
<path d="M368.3 481.8 L368.3 493.0" fill="none" stroke="#b86e6a" stroke-width="6.2" stroke-linejoin="round" stroke-linecap="round" opacity="0.55"/>
<path d="M368.3 481.8 L368.3 493.0" fill="none" stroke="#f2eba2" stroke-width="5.2" stroke-linejoin="round" stroke-linecap="round"/>
<path d="M368.3 484.3L368.3 490.5" fill="none" stroke="#e6958f" stroke-width="5.2"/>
<path d="M300.0 484.5 L307.9 481.8" fill="none" stroke="#b86e6a" stroke-width="6.2" stroke-linejoin="round" stroke-linecap="round" opacity="0.55"/>
<path d="M300.0 484.5 L307.9 481.8" fill="none" stroke="#f2eba2" stroke-width="5.2" stroke-linejoin="round" stroke-linecap="round"/>
<path d="M301.7 483.9L306.1 482.4" fill="none" stroke="#e6958f" stroke-width="5.2"/>
<path d="M438.9 403.0 L441.6 416.1 L428.4 435.8" fill="none" stroke="#b86e6a" stroke-width="6.2" stroke-linejoin="round" stroke-linecap="round" opacity="0.55"/>
<path d="M438.9 403.0 L441.6 416.1 L428.4 435.8" fill="none" stroke="#f2eba2" stroke-width="5.2" stroke-linejoin="round" stroke-linecap="round"/>
<path d="M439.5 405.9L441.0 413.2M438.7 420.5L431.3 431.5" fill="none" stroke="#e6958f" stroke-width="5.2"/>
<path d="M450.8 408.3 L479.0 404.3" fill="none" stroke="#b86e6a" stroke-width="6.2" stroke-linejoin="round" stroke-linecap="round" opacity="0.55"/>
<path d="M450.8 408.3 L479.0 404.3" fill="none" stroke="#f2eba2" stroke-width="5.2" stroke-linejoin="round" stroke-linecap="round"/>
<path d="M457.0 407.4L472.8 405.2" fill="none" stroke="#e6958f" stroke-width="5.2"/>
<path d="M406.1 410.9 L415.3 433.2" fill="none" stroke="#b86e6a" stroke-width="6.2" stroke-linejoin="round" stroke-linecap="round" opacity="0.55"/>
<path d="M406.1 410.9 L415.3 433.2" fill="none" stroke="#f2eba2" stroke-width="5.2" stroke-linejoin="round" stroke-linecap="round"/>
<path d="M408.1 415.8L413.3 428.3" fill="none" stroke="#e6958f" stroke-width="5.2"/>
<path d="M389.0 464.8 L408.7 452.9 L421.8 463.4 L423.2 493.0" fill="none" stroke="#b86e6a" stroke-width="6.2" stroke-linejoin="round" stroke-linecap="round" opacity="0.55"/>
<path d="M389.0 464.8 L408.7 452.9 L421.8 463.4 L423.2 493.0" fill="none" stroke="#f2eba2" stroke-width="5.2" stroke-linejoin="round" stroke-linecap="round"/>
<path d="M393.3 462.2L404.4 455.5M411.6 455.2L419.0 461.1M422.1 469.9L422.9 486.5" fill="none" stroke="#e6958f" stroke-width="5.2"/>
<path d="M450.8 447.7 L462.6 451.6" fill="none" stroke="#b86e6a" stroke-width="6.2" stroke-linejoin="round" stroke-linecap="round" opacity="0.55"/>
<path d="M450.8 447.7 L462.6 451.6" fill="none" stroke="#f2eba2" stroke-width="5.2" stroke-linejoin="round" stroke-linecap="round"/>
<path d="M453.4 448.5L460.0 450.7" fill="none" stroke="#e6958f" stroke-width="5.2"/>
<path d="M471.8 452.9 L474.4 493.0" fill="none" stroke="#b86e6a" stroke-width="6.2" stroke-linejoin="round" stroke-linecap="round" opacity="0.55"/>
<path d="M471.8 452.9 L474.4 493.0" fill="none" stroke="#f2eba2" stroke-width="5.2" stroke-linejoin="round" stroke-linecap="round"/>
<path d="M472.4 461.7L473.8 484.2" fill="none" stroke="#e6958f" stroke-width="5.2"/>
<path d="M462.6 439.8 L470.5 434.5" fill="none" stroke="#b86e6a" stroke-width="6.2" stroke-linejoin="round" stroke-linecap="round" opacity="0.55"/>
<path d="M462.6 439.8 L470.5 434.5" fill="none" stroke="#f2eba2" stroke-width="5.2" stroke-linejoin="round" stroke-linecap="round"/>
<path d="M464.3 438.6L468.7 435.7" fill="none" stroke="#e6958f" stroke-width="5.2"/>
<path d="M389.0 487.1 L396.9 481.8" fill="none" stroke="#b86e6a" stroke-width="6.2" stroke-linejoin="round" stroke-linecap="round" opacity="0.55"/>
<path d="M389.0 487.1 L396.9 481.8" fill="none" stroke="#f2eba2" stroke-width="5.2" stroke-linejoin="round" stroke-linecap="round"/>
<path d="M390.7 485.9L395.1 483.0" fill="none" stroke="#e6958f" stroke-width="5.2"/>
<path d="M421.8 481.8 L433.7 481.8" fill="none" stroke="#b86e6a" stroke-width="6.2" stroke-linejoin="round" stroke-linecap="round" opacity="0.55"/>
<path d="M421.8 481.8 L433.7 481.8" fill="none" stroke="#f2eba2" stroke-width="5.2" stroke-linejoin="round" stroke-linecap="round"/>
<path d="M424.4 481.8L431.1 481.8" fill="none" stroke="#e6958f" stroke-width="5.2"/>
<line x1="340.7" y1="333.1" x2="339.4" y2="344.9" stroke="#3ad03a" stroke-width="1.3" stroke-dasharray="1.6,1.4"/>
<line x1="348.0" y1="335.7" x2="339.4" y2="344.9" stroke="#3ad03a" stroke-width="1.3" stroke-dasharray="1.6,1.4"/>
<line x1="377.5" y1="337.0" x2="390.3" y2="323.9" stroke="#3ad03a" stroke-width="1.3" stroke-dasharray="1.6,1.4"/>
<line x1="328.9" y1="352.1" x2="333.5" y2="338.3" stroke="#3ad03a" stroke-width="1.3" stroke-dasharray="1.6,1.4"/>
<line x1="318.4" y1="360.6" x2="321.7" y2="382.3" stroke="#3ad03a" stroke-width="1.3" stroke-dasharray="1.6,1.4"/>
<line x1="351.9" y1="358.7" x2="339.4" y2="344.9" stroke="#3ad03a" stroke-width="1.3" stroke-dasharray="1.6,1.4"/>
<line x1="358.5" y1="365.9" x2="353.2" y2="344.2" stroke="#3ad03a" stroke-width="1.3" stroke-dasharray="1.6,1.4"/>
<line x1="387.4" y1="352.1" x2="402.1" y2="343.6" stroke="#3ad03a" stroke-width="1.3" stroke-dasharray="1.6,1.4"/>
<line x1="380.8" y1="360.0" x2="403.5" y2="357.4" stroke="#3ad03a" stroke-width="1.3" stroke-dasharray="1.6,1.4"/>
<line x1="303.3" y1="374.4" x2="321.7" y2="382.3" stroke="#3ad03a" stroke-width="1.3" stroke-dasharray="1.6,1.4"/>
<line x1="322.3" y1="379.0" x2="307.9" y2="369.2" stroke="#3ad03a" stroke-width="1.3" stroke-dasharray="1.6,1.4"/>
<line x1="372.9" y1="379.0" x2="374.2" y2="393.5" stroke="#3ad03a" stroke-width="1.3" stroke-dasharray="1.6,1.4"/>
<line x1="312.5" y1="392.8" x2="307.9" y2="369.2" stroke="#3ad03a" stroke-width="1.3" stroke-dasharray="1.6,1.4"/>
<line x1="344.7" y1="394.1" x2="336.8" y2="402.0" stroke="#3ad03a" stroke-width="1.3" stroke-dasharray="1.6,1.4"/>
<line x1="359.1" y1="396.1" x2="346.0" y2="386.3" stroke="#3ad03a" stroke-width="1.3" stroke-dasharray="1.6,1.4"/>
<line x1="323.6" y1="402.0" x2="336.8" y2="408.3" stroke="#3ad03a" stroke-width="1.3" stroke-dasharray="1.6,1.4"/>
<line x1="302.6" y1="391.5" x2="307.9" y2="369.2" stroke="#3ad03a" stroke-width="1.3" stroke-dasharray="1.6,1.4"/>
<line x1="400.8" y1="331.1" x2="390.3" y2="323.9" stroke="#3ad03a" stroke-width="1.3" stroke-dasharray="1.6,1.4"/>
<line x1="414.0" y1="341.6" x2="403.5" y2="357.4" stroke="#3ad03a" stroke-width="1.3" stroke-dasharray="1.6,1.4"/>
<line x1="389.7" y1="351.4" x2="403.5" y2="357.4" stroke="#3ad03a" stroke-width="1.3" stroke-dasharray="1.6,1.4"/>
<line x1="421.8" y1="351.4" x2="403.5" y2="357.4" stroke="#3ad03a" stroke-width="1.3" stroke-dasharray="1.6,1.4"/>
<line x1="440.9" y1="354.7" x2="421.2" y2="360.6" stroke="#3ad03a" stroke-width="1.3" stroke-dasharray="1.6,1.4"/>
<line x1="410.0" y1="367.9" x2="408.1" y2="381.0" stroke="#3ad03a" stroke-width="1.3" stroke-dasharray="1.6,1.4"/>
<line x1="412.6" y1="373.1" x2="421.2" y2="360.6" stroke="#3ad03a" stroke-width="1.3" stroke-dasharray="1.6,1.4"/>
<line x1="398.2" y1="379.7" x2="410.7" y2="398.7" stroke="#3ad03a" stroke-width="1.3" stroke-dasharray="1.6,1.4"/>
<line x1="423.2" y1="382.3" x2="410.7" y2="398.7" stroke="#3ad03a" stroke-width="1.3" stroke-dasharray="1.6,1.4"/>
<line x1="394.3" y1="396.8" x2="385.4" y2="408.3" stroke="#3ad03a" stroke-width="1.3" stroke-dasharray="1.6,1.4"/>
<line x1="323.6" y1="405.6" x2="336.8" y2="402.0" stroke="#3ad03a" stroke-width="1.3" stroke-dasharray="1.6,1.4"/>
<line x1="367.0" y1="405.0" x2="374.2" y2="393.5" stroke="#3ad03a" stroke-width="1.3" stroke-dasharray="1.6,1.4"/>
<line x1="338.8" y1="422.1" x2="336.8" y2="402.0" stroke="#3ad03a" stroke-width="1.3" stroke-dasharray="1.6,1.4"/>
<line x1="347.3" y1="423.4" x2="336.8" y2="408.3" stroke="#3ad03a" stroke-width="1.3" stroke-dasharray="1.6,1.4"/>
<line x1="362.4" y1="435.2" x2="353.9" y2="448.3" stroke="#3ad03a" stroke-width="1.3" stroke-dasharray="1.6,1.4"/>
<line x1="386.1" y1="424.7" x2="391.6" y2="438.5" stroke="#3ad03a" stroke-width="1.3" stroke-dasharray="1.6,1.4"/>
<line x1="340.1" y1="446.4" x2="353.9" y2="448.3" stroke="#3ad03a" stroke-width="1.3" stroke-dasharray="1.6,1.4"/>
<line x1="378.8" y1="446.4" x2="391.6" y2="438.5" stroke="#3ad03a" stroke-width="1.3" stroke-dasharray="1.6,1.4"/>
<line x1="361.8" y1="448.3" x2="349.9" y2="439.8" stroke="#3ad03a" stroke-width="1.3" stroke-dasharray="1.6,1.4"/>
<line x1="347.3" y1="460.8" x2="366.4" y2="469.4" stroke="#3ad03a" stroke-width="1.3" stroke-dasharray="1.6,1.4"/>
<line x1="362.4" y1="458.2" x2="353.9" y2="448.3" stroke="#3ad03a" stroke-width="1.3" stroke-dasharray="1.6,1.4"/>
<line x1="356.5" y1="479.9" x2="337.4" y2="490.4" stroke="#3ad03a" stroke-width="1.3" stroke-dasharray="1.6,1.4"/>
<line x1="400.8" y1="405.6" x2="410.7" y2="398.7" stroke="#3ad03a" stroke-width="1.3" stroke-dasharray="1.6,1.4"/>
<line x1="390.3" y1="422.7" x2="391.6" y2="438.5" stroke="#3ad03a" stroke-width="1.3" stroke-dasharray="1.6,1.4"/>
<line x1="420.5" y1="441.8" x2="405.4" y2="442.4" stroke="#3ad03a" stroke-width="1.3" stroke-dasharray="1.6,1.4"/>
<line x1="410.0" y1="443.7" x2="420.5" y2="451.6" stroke="#3ad03a" stroke-width="1.3" stroke-dasharray="1.6,1.4"/>
<line x1="439.6" y1="439.1" x2="420.5" y2="451.6" stroke="#3ad03a" stroke-width="1.3" stroke-dasharray="1.6,1.4"/>
<line x1="403.5" y1="454.9" x2="420.5" y2="451.6" stroke="#3ad03a" stroke-width="1.3" stroke-dasharray="1.6,1.4"/>
<line x1="400.8" y1="467.4" x2="420.5" y2="451.6" stroke="#3ad03a" stroke-width="1.3" stroke-dasharray="1.6,1.4"/>
<line x1="415.9" y1="474.6" x2="420.5" y2="451.6" stroke="#3ad03a" stroke-width="1.3" stroke-dasharray="1.6,1.4"/>
<line x1="437.0" y1="475.3" x2="452.1" y2="487.1" stroke="#3ad03a" stroke-width="1.3" stroke-dasharray="1.6,1.4"/>
<line x1="451.4" y1="472.0" x2="452.1" y2="487.1" stroke="#3ad03a" stroke-width="1.3" stroke-dasharray="1.6,1.4"/>
<line x1="472.4" y1="479.2" x2="448.1" y2="481.2" stroke="#3ad03a" stroke-width="1.3" stroke-dasharray="1.6,1.4"/>
<line x1="437.6" y1="487.1" x2="452.1" y2="487.1" stroke="#3ad03a" stroke-width="1.3" stroke-dasharray="1.6,1.4"/>
<line x1="445.5" y1="456.9" x2="420.5" y2="451.6" stroke="#3ad03a" stroke-width="1.3" stroke-dasharray="1.6,1.4"/>
<circle cx="390.3" cy="323.9" r="6.6" fill="url(#sR)"/>
<circle cx="384.7" cy="325.2" r="6.6" fill="url(#sR)"/>
<circle cx="427.1" cy="323.2" r="5.0" fill="url(#sW)"/>
<circle cx="340.7" cy="333.1" r="5.0" fill="url(#sW)"/>
<circle cx="348.0" cy="335.7" r="5.0" fill="url(#sW)"/>
<circle cx="400.8" cy="331.1" r="5.0" fill="url(#sW)"/>
<circle cx="333.5" cy="338.3" r="6.6" fill="url(#sR)"/>
<circle cx="377.5" cy="337.0" r="5.0" fill="url(#sW)"/>
<circle cx="433.7" cy="333.7" r="5.0" fill="url(#sW)"/>
<circle cx="339.4" cy="344.9" r="6.6" fill="url(#sR)"/>
<circle cx="353.2" cy="344.2" r="6.6" fill="url(#sR)"/>
<circle cx="414.0" cy="341.6" r="5.0" fill="url(#sW)"/>
<circle cx="402.1" cy="343.6" r="6.6" fill="url(#sR)"/>
<circle cx="328.9" cy="352.1" r="5.0" fill="url(#sW)"/>
<circle cx="444.2" cy="340.9" r="6.6" fill="url(#sR)"/>
<circle cx="474.4" cy="340.3" r="5.0" fill="url(#sW)"/>
<circle cx="389.7" cy="351.4" r="5.0" fill="url(#sW)"/>
<circle cx="396.9" cy="350.8" r="5.0" fill="url(#sW)"/>
<circle cx="387.4" cy="352.1" r="5.0" fill="url(#sW)"/>
<circle cx="318.4" cy="360.6" r="5.0" fill="url(#sW)"/>
<circle cx="473.1" cy="346.2" r="5.0" fill="url(#sW)"/>
<circle cx="421.8" cy="351.4" r="5.0" fill="url(#sW)"/>
<circle cx="351.9" cy="358.7" r="5.0" fill="url(#sW)"/>
<circle cx="403.5" cy="357.4" r="6.6" fill="url(#sR)"/>
<circle cx="380.8" cy="360.0" r="5.0" fill="url(#sW)"/>
<circle cx="440.9" cy="354.7" r="5.0" fill="url(#sW)"/>
<circle cx="307.9" cy="369.2" r="6.6" fill="url(#sR)"/>
<circle cx="358.5" cy="365.9" r="5.0" fill="url(#sW)"/>
<circle cx="421.2" cy="360.6" r="6.6" fill="url(#sR)"/>
<circle cx="303.3" cy="374.4" r="5.0" fill="url(#sW)"/>
<circle cx="373.6" cy="367.9" r="6.6" fill="url(#sR)"/>
<circle cx="410.0" cy="367.9" r="5.0" fill="url(#sW)"/>
<circle cx="475.7" cy="363.3" r="5.0" fill="url(#sW)"/>
<circle cx="322.3" cy="379.0" r="5.0" fill="url(#sW)"/>
<circle cx="412.6" cy="373.1" r="5.0" fill="url(#sW)"/>
<circle cx="321.7" cy="382.3" r="6.6" fill="url(#sR)"/>
<circle cx="372.9" cy="379.0" r="5.0" fill="url(#sW)"/>
<circle cx="398.2" cy="379.7" r="5.0" fill="url(#sW)"/>
<circle cx="346.0" cy="386.3" r="6.6" fill="url(#sR)"/>
<circle cx="302.6" cy="391.5" r="5.0" fill="url(#sW)"/>
<circle cx="408.1" cy="381.0" r="6.6" fill="url(#sR)"/>
<circle cx="312.5" cy="392.8" r="5.0" fill="url(#sW)"/>
<circle cx="423.2" cy="382.3" r="5.0" fill="url(#sW)"/>
<circle cx="344.7" cy="394.1" r="5.0" fill="url(#sW)"/>
<circle cx="374.2" cy="393.5" r="6.6" fill="url(#sR)"/>
<circle cx="359.1" cy="396.1" r="5.0" fill="url(#sW)"/>
<circle cx="323.6" cy="402.0" r="5.0" fill="url(#sW)"/>
<circle cx="336.8" cy="402.0" r="6.6" fill="url(#sR)"/>
<circle cx="394.3" cy="396.8" r="5.0" fill="url(#sW)"/>
<circle cx="323.6" cy="405.6" r="5.0" fill="url(#sW)"/>
<circle cx="384.1" cy="401.4" r="6.6" fill="url(#sR)"/>
<circle cx="410.7" cy="398.7" r="6.6" fill="url(#sR)"/>
<circle cx="401.5" cy="401.4" r="5.0" fill="url(#sW)"/>
<circle cx="367.0" cy="405.0" r="5.0" fill="url(#sW)"/>
<circle cx="336.8" cy="408.3" r="6.6" fill="url(#sR)"/>
<circle cx="400.8" cy="405.6" r="5.0" fill="url(#sW)"/>
<circle cx="410.7" cy="405.0" r="6.6" fill="url(#sR)"/>
<circle cx="385.4" cy="408.3" r="6.6" fill="url(#sR)"/>
<circle cx="373.6" cy="413.5" r="6.6" fill="url(#sR)"/>
<circle cx="338.8" cy="422.1" r="5.0" fill="url(#sW)"/>
<circle cx="347.3" cy="423.4" r="5.0" fill="url(#sW)"/>
<circle cx="446.8" cy="416.1" r="5.0" fill="url(#sW)"/>
<circle cx="390.3" cy="422.7" r="5.0" fill="url(#sW)"/>
<circle cx="386.1" cy="424.7" r="5.0" fill="url(#sW)"/>
<circle cx="455.4" cy="421.4" r="5.0" fill="url(#sW)"/>
<circle cx="362.4" cy="435.2" r="5.0" fill="url(#sW)"/>
<circle cx="349.9" cy="439.8" r="6.6" fill="url(#sR)"/>
<circle cx="449.4" cy="430.6" r="6.6" fill="url(#sR)"/>
<circle cx="387.4" cy="438.5" r="6.6" fill="url(#sR)"/>
<circle cx="391.6" cy="438.5" r="6.6" fill="url(#sR)"/>
<circle cx="340.1" cy="446.4" r="5.0" fill="url(#sW)"/>
<circle cx="405.4" cy="442.4" r="6.6" fill="url(#sR)"/>
<circle cx="439.6" cy="439.1" r="5.0" fill="url(#sW)"/>
<circle cx="353.9" cy="448.3" r="6.6" fill="url(#sR)"/>
<circle cx="420.5" cy="441.8" r="5.0" fill="url(#sW)"/>
<circle cx="378.8" cy="446.4" r="5.0" fill="url(#sW)"/>
<circle cx="361.8" cy="448.3" r="5.0" fill="url(#sW)"/>
<circle cx="410.0" cy="443.7" r="5.0" fill="url(#sW)"/>
<circle cx="450.8" cy="439.8" r="5.0" fill="url(#sW)"/>
<circle cx="328.9" cy="458.8" r="5.0" fill="url(#sW)"/>
<circle cx="420.5" cy="451.6" r="6.6" fill="url(#sR)"/>
<circle cx="362.4" cy="458.2" r="5.0" fill="url(#sW)"/>
<circle cx="403.5" cy="454.9" r="5.0" fill="url(#sW)"/>
<circle cx="347.3" cy="460.8" r="5.0" fill="url(#sW)"/>
<circle cx="429.7" cy="454.2" r="5.0" fill="url(#sW)"/>
<circle cx="445.5" cy="456.9" r="5.0" fill="url(#sW)"/>
<circle cx="302.6" cy="471.3" r="5.0" fill="url(#sW)"/>
<circle cx="314.5" cy="471.3" r="5.0" fill="url(#sW)"/>
<circle cx="377.5" cy="467.4" r="5.0" fill="url(#sW)"/>
<circle cx="366.4" cy="469.4" r="6.6" fill="url(#sR)"/>
<circle cx="400.8" cy="467.4" r="5.0" fill="url(#sW)"/>
<circle cx="356.5" cy="479.9" r="5.0" fill="url(#sW)"/>
<circle cx="394.3" cy="476.6" r="5.0" fill="url(#sW)"/>
<circle cx="415.9" cy="474.6" r="5.0" fill="url(#sW)"/>
<circle cx="451.4" cy="472.0" r="5.0" fill="url(#sW)"/>
<circle cx="437.0" cy="475.3" r="5.0" fill="url(#sW)"/>
<circle cx="374.9" cy="485.1" r="5.0" fill="url(#sW)"/>
<circle cx="325.0" cy="490.4" r="5.0" fill="url(#sW)"/>
<circle cx="407.4" cy="483.1" r="6.6" fill="url(#sR)"/>
<circle cx="337.4" cy="490.4" r="6.6" fill="url(#sR)"/>
<circle cx="448.1" cy="481.2" r="6.6" fill="url(#sR)"/>
<circle cx="472.4" cy="479.2" r="5.0" fill="url(#sW)"/>
<circle cx="437.6" cy="487.1" r="5.0" fill="url(#sW)"/>
<circle cx="452.1" cy="487.1" r="6.6" fill="url(#sR)"/>
</svg>
<svg x="300.0" y="494.0" width="179.0" height="179.5" viewBox="300.0 494.0 179.0 179.5" overflow="hidden">
<rect x="300.0" y="494.0" width="179.0" height="179.5" fill="url(#bg)"/>
<path d="M329.3 497.9 L349.0 499.2 L366.1 497.9 L388.4 517.6 L396.3 534.7" fill="none" stroke="#b86e6a" stroke-width="3.8" stroke-linejoin="round" stroke-linecap="round" opacity="0.55"/>
<path d="M329.3 497.9 L349.0 499.2 L366.1 497.9 L388.4 517.6 L396.3 534.7" fill="none" stroke="#f2eba2" stroke-width="2.8" stroke-linejoin="round" stroke-linecap="round"/>
<path d="M333.6 498.2L344.7 499.0M352.8 499.0L362.3 498.2M371.0 502.3L383.5 513.3M390.1 521.4L394.6 531.0" fill="none" stroke="#e6958f" stroke-width="2.8"/>
<path d="M327.6 496.6 L347.3 497.9 L364.4 496.6 L386.7 516.3 L394.6 533.4" fill="none" stroke="#b86e6a" stroke-width="3.8" stroke-linejoin="round" stroke-linecap="round" opacity="0.55"/>
<path d="M327.6 496.6 L347.3 497.9 L364.4 496.6 L386.7 516.3 L394.6 533.4" fill="none" stroke="#f2eba2" stroke-width="2.8" stroke-linejoin="round" stroke-linecap="round"/>
<path d="M331.9 496.9L343.0 497.7M351.1 497.7L360.6 496.9M369.3 501.0L381.8 512.0M388.4 520.1L392.9 529.7" fill="none" stroke="#e6958f" stroke-width="2.8"/>
<path d="M388.4 517.6 L417.3 497.9 L443.6 517.6 L438.3 534.7" fill="none" stroke="#b86e6a" stroke-width="3.8" stroke-linejoin="round" stroke-linecap="round" opacity="0.55"/>
<path d="M388.4 517.6 L417.3 497.9 L443.6 517.6 L438.3 534.7" fill="none" stroke="#f2eba2" stroke-width="2.8" stroke-linejoin="round" stroke-linecap="round"/>
<path d="M394.8 513.3L410.9 502.3M423.1 502.3L437.8 513.3M442.4 521.4L439.5 531.0" fill="none" stroke="#e6958f" stroke-width="2.8"/>
<path d="M386.7 516.3 L415.6 496.6 L441.9 516.3 L436.6 533.4" fill="none" stroke="#b86e6a" stroke-width="3.8" stroke-linejoin="round" stroke-linecap="round" opacity="0.55"/>
<path d="M386.7 516.3 L415.6 496.6 L441.9 516.3 L436.6 533.4" fill="none" stroke="#f2eba2" stroke-width="2.8" stroke-linejoin="round" stroke-linecap="round"/>
<path d="M393.1 512.0L409.2 501.0M421.4 501.0L436.1 512.0M440.7 520.1L437.8 529.7" fill="none" stroke="#e6958f" stroke-width="2.8"/>
<path d="M443.6 517.6 L464.6 497.9 L481.7 497.9" fill="none" stroke="#b86e6a" stroke-width="3.8" stroke-linejoin="round" stroke-linecap="round" opacity="0.55"/>
<path d="M443.6 517.6 L464.6 497.9 L481.7 497.9" fill="none" stroke="#f2eba2" stroke-width="2.8" stroke-linejoin="round" stroke-linecap="round"/>
<path d="M448.2 513.3L460.0 502.3M468.4 497.9L477.9 497.9" fill="none" stroke="#e6958f" stroke-width="2.8"/>
<path d="M441.9 516.3 L462.9 496.6 L480.0 496.6" fill="none" stroke="#b86e6a" stroke-width="3.8" stroke-linejoin="round" stroke-linecap="round" opacity="0.55"/>
<path d="M441.9 516.3 L462.9 496.6 L480.0 496.6" fill="none" stroke="#f2eba2" stroke-width="2.8" stroke-linejoin="round" stroke-linecap="round"/>
<path d="M446.5 512.0L458.3 501.0M466.7 496.6L476.2 496.6" fill="none" stroke="#e6958f" stroke-width="2.8"/>
<path d="M396.3 534.7 L438.3 534.7 L438.3 567.6 L396.3 567.6 L396.3 534.7" fill="none" stroke="#b86e6a" stroke-width="3.8" stroke-linejoin="round" stroke-linecap="round" opacity="0.55"/>
<path d="M396.3 534.7 L438.3 534.7 L438.3 567.6 L396.3 567.6 L396.3 534.7" fill="none" stroke="#f2eba2" stroke-width="2.8" stroke-linejoin="round" stroke-linecap="round"/>
<path d="M405.5 534.7L429.1 534.7M438.3 541.9L438.3 560.3M429.1 567.6L405.5 567.6M396.3 560.3L396.3 541.9" fill="none" stroke="#e6958f" stroke-width="2.8"/>
<path d="M394.6 533.4 L436.6 533.4 L436.6 566.3 L394.6 566.3 L394.6 533.4" fill="none" stroke="#b86e6a" stroke-width="3.8" stroke-linejoin="round" stroke-linecap="round" opacity="0.55"/>
<path d="M394.6 533.4 L436.6 533.4 L436.6 566.3 L394.6 566.3 L394.6 533.4" fill="none" stroke="#f2eba2" stroke-width="2.8" stroke-linejoin="round" stroke-linecap="round"/>
<path d="M403.8 533.4L427.4 533.4M436.6 540.6L436.6 559.0M427.4 566.3L403.8 566.3M394.6 559.0L394.6 540.6" fill="none" stroke="#e6958f" stroke-width="2.8"/>
<path d="M301.7 524.2 L314.8 526.8" fill="none" stroke="#b86e6a" stroke-width="3.8" stroke-linejoin="round" stroke-linecap="round" opacity="0.55"/>
<path d="M301.7 524.2 L314.8 526.8" fill="none" stroke="#f2eba2" stroke-width="2.8" stroke-linejoin="round" stroke-linecap="round"/>
<path d="M304.6 524.8L311.9 526.3" fill="none" stroke="#e6958f" stroke-width="2.8"/>
<path d="M300.0 522.9 L313.1 525.5" fill="none" stroke="#b86e6a" stroke-width="3.8" stroke-linejoin="round" stroke-linecap="round" opacity="0.55"/>
<path d="M300.0 522.9 L313.1 525.5" fill="none" stroke="#f2eba2" stroke-width="2.8" stroke-linejoin="round" stroke-linecap="round"/>
<path d="M302.9 523.5L310.2 525.0" fill="none" stroke="#e6958f" stroke-width="2.8"/>
<path d="M301.7 521.6 L307.0 529.5" fill="none" stroke="#b86e6a" stroke-width="3.8" stroke-linejoin="round" stroke-linecap="round" opacity="0.55"/>
<path d="M301.7 521.6 L307.0 529.5" fill="none" stroke="#f2eba2" stroke-width="2.8" stroke-linejoin="round" stroke-linecap="round"/>
<path d="M302.9 523.3L305.8 527.7" fill="none" stroke="#e6958f" stroke-width="2.8"/>
<path d="M300.0 520.3 L305.3 528.2" fill="none" stroke="#b86e6a" stroke-width="3.8" stroke-linejoin="round" stroke-linecap="round" opacity="0.55"/>
<path d="M300.0 520.3 L305.3 528.2" fill="none" stroke="#f2eba2" stroke-width="2.8" stroke-linejoin="round" stroke-linecap="round"/>
<path d="M301.2 522.0L304.1 526.4" fill="none" stroke="#e6958f" stroke-width="2.8"/>
<path d="M396.3 567.6 L391.0 585.2" fill="none" stroke="#b86e6a" stroke-width="3.8" stroke-linejoin="round" stroke-linecap="round" opacity="0.55"/>
<path d="M396.3 567.6 L391.0 585.2" fill="none" stroke="#f2eba2" stroke-width="2.8" stroke-linejoin="round" stroke-linecap="round"/>
<path d="M395.1 571.4L392.2 581.3" fill="none" stroke="#e6958f" stroke-width="2.8"/>
<path d="M394.6 566.3 L389.3 583.9" fill="none" stroke="#b86e6a" stroke-width="3.8" stroke-linejoin="round" stroke-linecap="round" opacity="0.55"/>
<path d="M394.6 566.3 L389.3 583.9" fill="none" stroke="#f2eba2" stroke-width="2.8" stroke-linejoin="round" stroke-linecap="round"/>
<path d="M393.4 570.1L390.5 580.0" fill="none" stroke="#e6958f" stroke-width="2.8"/>
<path d="M438.3 567.6 L444.9 585.2" fill="none" stroke="#b86e6a" stroke-width="3.8" stroke-linejoin="round" stroke-linecap="round" opacity="0.55"/>
<path d="M438.3 567.6 L444.9 585.2" fill="none" stroke="#f2eba2" stroke-width="2.8" stroke-linejoin="round" stroke-linecap="round"/>
<path d="M439.8 571.4L443.4 581.3" fill="none" stroke="#e6958f" stroke-width="2.8"/>
<path d="M436.6 566.3 L443.2 583.9" fill="none" stroke="#b86e6a" stroke-width="3.8" stroke-linejoin="round" stroke-linecap="round" opacity="0.55"/>
<path d="M436.6 566.3 L443.2 583.9" fill="none" stroke="#f2eba2" stroke-width="2.8" stroke-linejoin="round" stroke-linecap="round"/>
<path d="M438.1 570.1L441.7 580.0" fill="none" stroke="#e6958f" stroke-width="2.8"/>
<path d="M366.1 497.9 L367.4 492.7" fill="none" stroke="#b86e6a" stroke-width="3.8" stroke-linejoin="round" stroke-linecap="round" opacity="0.55"/>
<path d="M366.1 497.9 L367.4 492.7" fill="none" stroke="#f2eba2" stroke-width="2.8" stroke-linejoin="round" stroke-linecap="round"/>
<path d="M366.4 496.8L367.1 493.8" fill="none" stroke="#e6958f" stroke-width="2.8"/>
<path d="M364.4 496.6 L365.7 491.4" fill="none" stroke="#b86e6a" stroke-width="3.8" stroke-linejoin="round" stroke-linecap="round" opacity="0.55"/>
<path d="M364.4 496.6 L365.7 491.4" fill="none" stroke="#f2eba2" stroke-width="2.8" stroke-linejoin="round" stroke-linecap="round"/>
<path d="M364.7 495.5L365.4 492.5" fill="none" stroke="#e6958f" stroke-width="2.8"/>
<path d="M464.6 497.9 L469.9 492.7" fill="none" stroke="#b86e6a" stroke-width="3.8" stroke-linejoin="round" stroke-linecap="round" opacity="0.55"/>
<path d="M464.6 497.9 L469.9 492.7" fill="none" stroke="#f2eba2" stroke-width="2.8" stroke-linejoin="round" stroke-linecap="round"/>
<path d="M465.8 496.8L468.7 493.8" fill="none" stroke="#e6958f" stroke-width="2.8"/>
<path d="M462.9 496.6 L468.2 491.4" fill="none" stroke="#b86e6a" stroke-width="3.8" stroke-linejoin="round" stroke-linecap="round" opacity="0.55"/>
<path d="M462.9 496.6 L468.2 491.4" fill="none" stroke="#f2eba2" stroke-width="2.8" stroke-linejoin="round" stroke-linecap="round"/>
<path d="M464.1 495.5L467.0 492.5" fill="none" stroke="#e6958f" stroke-width="2.8"/>
<path d="M301.7 593.2 L328.0 606.3 L364.8 607.6 L372.6 643.1 L346.4 661.5 L317.5 643.1 L301.7 645.7" fill="none" stroke="#b86e6a" stroke-width="3.8" stroke-linejoin="round" stroke-linecap="round" opacity="0.55"/>
<path d="M301.7 593.2 L328.0 606.3 L364.8 607.6 L372.6 643.1 L346.4 661.5 L317.5 643.1 L301.7 645.7" fill="none" stroke="#f2eba2" stroke-width="2.8" stroke-linejoin="round" stroke-linecap="round"/>
<path d="M307.5 596.1L322.2 603.4M336.1 606.6L356.7 607.3M366.5 615.4L370.9 635.3M366.9 647.1L352.1 657.4M340.0 657.4L323.8 647.1M314.0 643.7L305.2 645.2" fill="none" stroke="#e6958f" stroke-width="2.8"/>
<path d="M300.0 591.9 L326.3 605.0 L363.1 606.3 L370.9 641.8 L344.7 660.2 L315.8 641.8 L300.0 644.4" fill="none" stroke="#b86e6a" stroke-width="3.8" stroke-linejoin="round" stroke-linecap="round" opacity="0.55"/>
<path d="M300.0 591.9 L326.3 605.0 L363.1 606.3 L370.9 641.8 L344.7 660.2 L315.8 641.8 L300.0 644.4" fill="none" stroke="#f2eba2" stroke-width="2.8" stroke-linejoin="round" stroke-linecap="round"/>
<path d="M305.8 594.8L320.5 602.1M334.4 605.3L355.0 606.0M364.8 614.1L369.2 634.0M365.2 645.8L350.4 656.1M338.3 656.1L322.1 645.8M312.3 642.4L303.5 643.9" fill="none" stroke="#e6958f" stroke-width="2.8"/>
<path d="M364.8 607.6 L393.7 590.6 L418.6 608.9 L425.2 645.7 L398.9 661.5 L372.6 643.1" fill="none" stroke="#b86e6a" stroke-width="3.8" stroke-linejoin="round" stroke-linecap="round" opacity="0.55"/>
<path d="M364.8 607.6 L393.7 590.6 L418.6 608.9 L425.2 645.7 L398.9 661.5 L372.6 643.1" fill="none" stroke="#f2eba2" stroke-width="2.8" stroke-linejoin="round" stroke-linecap="round"/>
<path d="M371.1 603.9L387.3 594.3M399.2 594.6L413.1 604.9M420.1 617.0L423.7 637.6M419.4 649.2L404.7 658.0M393.1 657.4L378.4 647.1" fill="none" stroke="#e6958f" stroke-width="2.8"/>
<path d="M363.1 606.3 L392.0 589.3 L416.9 607.6 L423.5 644.4 L397.2 660.2 L370.9 641.8" fill="none" stroke="#b86e6a" stroke-width="3.8" stroke-linejoin="round" stroke-linecap="round" opacity="0.55"/>
<path d="M363.1 606.3 L392.0 589.3 L416.9 607.6 L423.5 644.4 L397.2 660.2 L370.9 641.8" fill="none" stroke="#f2eba2" stroke-width="2.8" stroke-linejoin="round" stroke-linecap="round"/>
<path d="M369.4 602.6L385.6 593.0M397.5 593.3L411.4 603.6M418.4 615.7L422.0 636.3M417.7 647.9L403.0 656.7M391.4 656.1L376.7 645.8" fill="none" stroke="#e6958f" stroke-width="2.8"/>
<path d="M418.6 608.9 L443.6 590.6 L469.9 603.7 L462.0 640.5 L425.2 645.7" fill="none" stroke="#b86e6a" stroke-width="3.8" stroke-linejoin="round" stroke-linecap="round" opacity="0.55"/>
<path d="M418.6 608.9 L443.6 590.6 L469.9 603.7 L462.0 640.5 L425.2 645.7" fill="none" stroke="#f2eba2" stroke-width="2.8" stroke-linejoin="round" stroke-linecap="round"/>
<path d="M424.1 604.9L438.1 594.6M449.4 593.4L464.1 600.8M468.1 611.8L463.7 632.4M453.9 641.6L433.3 644.6" fill="none" stroke="#e6958f" stroke-width="2.8"/>
<path d="M416.9 607.6 L441.9 589.3 L468.2 602.4 L460.3 639.2 L423.5 644.4" fill="none" stroke="#b86e6a" stroke-width="3.8" stroke-linejoin="round" stroke-linecap="round" opacity="0.55"/>
<path d="M416.9 607.6 L441.9 589.3 L468.2 602.4 L460.3 639.2 L423.5 644.4" fill="none" stroke="#f2eba2" stroke-width="2.8" stroke-linejoin="round" stroke-linecap="round"/>
<path d="M422.4 603.6L436.4 593.3M447.7 592.1L462.4 599.5M466.4 610.5L462.0 631.1M452.2 640.3L431.6 643.3" fill="none" stroke="#e6958f" stroke-width="2.8"/>
<path d="M346.4 661.5 L349.0 675.2" fill="none" stroke="#b86e6a" stroke-width="3.8" stroke-linejoin="round" stroke-linecap="round" opacity="0.55"/>
<path d="M346.4 661.5 L349.0 675.2" fill="none" stroke="#f2eba2" stroke-width="2.8" stroke-linejoin="round" stroke-linecap="round"/>
<path d="M346.9 664.5L348.4 672.2" fill="none" stroke="#e6958f" stroke-width="2.8"/>
<path d="M344.7 660.2 L347.3 673.9" fill="none" stroke="#b86e6a" stroke-width="3.8" stroke-linejoin="round" stroke-linecap="round" opacity="0.55"/>
<path d="M344.7 660.2 L347.3 673.9" fill="none" stroke="#f2eba2" stroke-width="2.8" stroke-linejoin="round" stroke-linecap="round"/>
<path d="M345.2 663.2L346.7 670.9" fill="none" stroke="#e6958f" stroke-width="2.8"/>
<path d="M398.9 661.5 L393.7 675.2" fill="none" stroke="#b86e6a" stroke-width="3.8" stroke-linejoin="round" stroke-linecap="round" opacity="0.55"/>
<path d="M398.9 661.5 L393.7 675.2" fill="none" stroke="#f2eba2" stroke-width="2.8" stroke-linejoin="round" stroke-linecap="round"/>
<path d="M397.8 664.5L394.8 672.2" fill="none" stroke="#e6958f" stroke-width="2.8"/>
<path d="M397.2 660.2 L392.0 673.9" fill="none" stroke="#b86e6a" stroke-width="3.8" stroke-linejoin="round" stroke-linecap="round" opacity="0.55"/>
<path d="M397.2 660.2 L392.0 673.9" fill="none" stroke="#f2eba2" stroke-width="2.8" stroke-linejoin="round" stroke-linecap="round"/>
<path d="M396.1 663.2L393.1 670.9" fill="none" stroke="#e6958f" stroke-width="2.8"/>
<path d="M462.0 640.5 L481.7 648.4" fill="none" stroke="#b86e6a" stroke-width="3.8" stroke-linejoin="round" stroke-linecap="round" opacity="0.55"/>
<path d="M462.0 640.5 L481.7 648.4" fill="none" stroke="#f2eba2" stroke-width="2.8" stroke-linejoin="round" stroke-linecap="round"/>
<path d="M466.3 642.2L477.3 646.6" fill="none" stroke="#e6958f" stroke-width="2.8"/>
<path d="M460.3 639.2 L480.0 647.1" fill="none" stroke="#b86e6a" stroke-width="3.8" stroke-linejoin="round" stroke-linecap="round" opacity="0.55"/>
<path d="M460.3 639.2 L480.0 647.1" fill="none" stroke="#f2eba2" stroke-width="2.8" stroke-linejoin="round" stroke-linecap="round"/>
<path d="M464.6 640.9L475.6 645.3" fill="none" stroke="#e6958f" stroke-width="2.8"/>
<path d="M469.9 603.7 L481.7 606.3" fill="none" stroke="#b86e6a" stroke-width="3.8" stroke-linejoin="round" stroke-linecap="round" opacity="0.55"/>
<path d="M469.9 603.7 L481.7 606.3" fill="none" stroke="#f2eba2" stroke-width="2.8" stroke-linejoin="round" stroke-linecap="round"/>
<path d="M472.5 604.3L479.1 605.7" fill="none" stroke="#e6958f" stroke-width="2.8"/>
<path d="M468.2 602.4 L480.0 605.0" fill="none" stroke="#b86e6a" stroke-width="3.8" stroke-linejoin="round" stroke-linecap="round" opacity="0.55"/>
<path d="M468.2 602.4 L480.0 605.0" fill="none" stroke="#f2eba2" stroke-width="2.8" stroke-linejoin="round" stroke-linecap="round"/>
<path d="M470.8 603.0L477.4 604.4" fill="none" stroke="#e6958f" stroke-width="2.8"/>
<path d="M393.7 590.6 L391.0 567.4" fill="none" stroke="#b86e6a" stroke-width="3.8" stroke-linejoin="round" stroke-linecap="round" opacity="0.55"/>
<path d="M393.7 590.6 L391.0 567.4" fill="none" stroke="#f2eba2" stroke-width="2.8" stroke-linejoin="round" stroke-linecap="round"/>
<path d="M393.1 585.5L391.6 572.5" fill="none" stroke="#e6958f" stroke-width="2.8"/>
<path d="M392.0 589.3 L389.3 566.1" fill="none" stroke="#b86e6a" stroke-width="3.8" stroke-linejoin="round" stroke-linecap="round" opacity="0.55"/>
<path d="M392.0 589.3 L389.3 566.1" fill="none" stroke="#f2eba2" stroke-width="2.8" stroke-linejoin="round" stroke-linecap="round"/>
<path d="M391.4 584.2L389.9 571.2" fill="none" stroke="#e6958f" stroke-width="2.8"/>
<path d="M443.6 590.6 L444.9 567.4" fill="none" stroke="#b86e6a" stroke-width="3.8" stroke-linejoin="round" stroke-linecap="round" opacity="0.55"/>
<path d="M443.6 590.6 L444.9 567.4" fill="none" stroke="#f2eba2" stroke-width="2.8" stroke-linejoin="round" stroke-linecap="round"/>
<path d="M443.9 585.5L444.6 572.5" fill="none" stroke="#e6958f" stroke-width="2.8"/>
<path d="M441.9 589.3 L443.2 566.1" fill="none" stroke="#b86e6a" stroke-width="3.8" stroke-linejoin="round" stroke-linecap="round" opacity="0.55"/>
<path d="M441.9 589.3 L443.2 566.1" fill="none" stroke="#f2eba2" stroke-width="2.8" stroke-linejoin="round" stroke-linecap="round"/>
<path d="M442.2 584.2L442.9 571.2" fill="none" stroke="#e6958f" stroke-width="2.8"/>
<path d="M328.0 606.3 L325.3 622.1 L317.5 643.1" fill="none" stroke="#b86e6a" stroke-width="3.8" stroke-linejoin="round" stroke-linecap="round" opacity="0.55"/>
<path d="M328.0 606.3 L325.3 622.1 L317.5 643.1" fill="none" stroke="#f2eba2" stroke-width="2.8" stroke-linejoin="round" stroke-linecap="round"/>
<path d="M327.4 609.8L325.9 618.6M323.6 626.7L319.2 638.5" fill="none" stroke="#e6958f" stroke-width="2.8"/>
<path d="M326.3 605.0 L323.6 620.8 L315.8 641.8" fill="none" stroke="#b86e6a" stroke-width="3.8" stroke-linejoin="round" stroke-linecap="round" opacity="0.55"/>
<path d="M326.3 605.0 L323.6 620.8 L315.8 641.8" fill="none" stroke="#f2eba2" stroke-width="2.8" stroke-linejoin="round" stroke-linecap="round"/>
<path d="M325.7 608.5L324.2 617.3M321.9 625.4L317.5 637.2" fill="none" stroke="#e6958f" stroke-width="2.8"/>
<line x1="332.8" y1="541.3" x2="343.4" y2="557.1" stroke="#3ad03a" stroke-width="1.3" stroke-dasharray="1.6,1.4"/>
<line x1="343.4" y1="572.8" x2="343.4" y2="583.9" stroke="#3ad03a" stroke-width="1.3" stroke-dasharray="1.6,1.4"/>
<line x1="300.0" y1="612.9" x2="310.5" y2="606.3" stroke="#3ad03a" stroke-width="1.2" stroke-dasharray="1.6,1.4"/>
<line x1="336.8" y1="623.4" x2="351.2" y2="627.4" stroke="#3ad03a" stroke-width="1.2" stroke-dasharray="1.6,1.4"/>
<line x1="364.4" y1="620.8" x2="370.9" y2="610.3" stroke="#3ad03a" stroke-width="1.2" stroke-dasharray="1.6,1.4"/>
<line x1="378.8" y1="612.9" x2="394.6" y2="628.7" stroke="#3ad03a" stroke-width="1.2" stroke-dasharray="1.6,1.4"/>
<line x1="360.4" y1="628.7" x2="370.9" y2="639.2" stroke="#3ad03a" stroke-width="1.2" stroke-dasharray="1.6,1.4"/>
<line x1="382.8" y1="640.5" x2="397.2" y2="628.7" stroke="#3ad03a" stroke-width="1.2" stroke-dasharray="1.6,1.4"/>
<line x1="403.8" y1="612.9" x2="426.1" y2="615.5" stroke="#3ad03a" stroke-width="1.2" stroke-dasharray="1.6,1.4"/>
<line x1="434.0" y1="612.9" x2="451.1" y2="610.3" stroke="#3ad03a" stroke-width="1.2" stroke-dasharray="1.6,1.4"/>
<line x1="426.1" y1="626.0" x2="435.3" y2="640.5" stroke="#3ad03a" stroke-width="1.2" stroke-dasharray="1.6,1.4"/>
<line x1="441.9" y1="644.4" x2="451.1" y2="662.8" stroke="#3ad03a" stroke-width="1.2" stroke-dasharray="1.6,1.4"/>
<line x1="474.7" y1="620.8" x2="470.8" y2="636.5" stroke="#3ad03a" stroke-width="1.2" stroke-dasharray="1.6,1.4"/>
<line x1="436.6" y1="647.1" x2="443.2" y2="636.5" stroke="#3ad03a" stroke-width="1.2" stroke-dasharray="1.6,1.4"/>
<line x1="340.7" y1="537.4" x2="332.8" y2="534.7" stroke="#e8e8e8" stroke-width="1.8"/>
<line x1="342.0" y1="542.6" x2="342.0" y2="549.2" stroke="#e8e8e8" stroke-width="1.8"/>
<line x1="343.4" y1="571.5" x2="340.7" y2="564.9" stroke="#e8e8e8" stroke-width="1.8"/>
<line x1="351.2" y1="563.6" x2="356.5" y2="564.9" stroke="#e8e8e8" stroke-width="1.8"/>
<line x1="343.4" y1="571.5" x2="335.5" y2="572.8" stroke="#e8e8e8" stroke-width="1.8"/>
<line x1="348.6" y1="561.0" x2="347.3" y2="557.1" stroke="#e8e8e8" stroke-width="1.8"/>
<line x1="343.4" y1="586.6" x2="339.4" y2="590.6" stroke="#e8e8e8" stroke-width="1.8"/>
<line x1="318.4" y1="602.4" x2="319.7" y2="595.8" stroke="#e8e8e8" stroke-width="1.8"/>
<line x1="318.4" y1="602.4" x2="310.5" y2="606.3" stroke="#e8e8e8" stroke-width="1.8"/>
<line x1="335.5" y1="620.8" x2="330.2" y2="614.2" stroke="#e8e8e8" stroke-width="1.8"/>
<line x1="335.5" y1="620.8" x2="331.5" y2="623.4" stroke="#e8e8e8" stroke-width="1.8"/>
<line x1="360.4" y1="628.7" x2="364.4" y2="620.8" stroke="#e8e8e8" stroke-width="1.8"/>
<line x1="373.6" y1="609.0" x2="377.5" y2="601.9" stroke="#e8e8e8" stroke-width="1.8"/>
<line x1="373.6" y1="609.0" x2="380.1" y2="610.3" stroke="#e8e8e8" stroke-width="1.8"/>
<line x1="376.2" y1="644.4" x2="369.6" y2="639.2" stroke="#e8e8e8" stroke-width="1.8"/>
<line x1="376.2" y1="644.4" x2="382.8" y2="640.5" stroke="#e8e8e8" stroke-width="1.8"/>
<line x1="397.2" y1="628.7" x2="398.5" y2="623.4" stroke="#e8e8e8" stroke-width="1.8"/>
<line x1="397.2" y1="628.7" x2="403.8" y2="626.0" stroke="#e8e8e8" stroke-width="1.8"/>
<line x1="426.1" y1="615.5" x2="434.0" y2="612.9" stroke="#e8e8e8" stroke-width="1.8"/>
<line x1="451.1" y1="610.3" x2="455.0" y2="602.9" stroke="#e8e8e8" stroke-width="1.8"/>
<line x1="451.1" y1="610.3" x2="459.0" y2="614.2" stroke="#e8e8e8" stroke-width="1.8"/>
<line x1="474.7" y1="618.2" x2="473.4" y2="626.0" stroke="#e8e8e8" stroke-width="1.8"/>
<line x1="435.3" y1="640.5" x2="441.9" y2="636.5" stroke="#e8e8e8" stroke-width="1.8"/>
<line x1="469.5" y1="644.4" x2="468.2" y2="644.4" stroke="#e8e8e8" stroke-width="1.8"/>
<line x1="469.5" y1="644.4" x2="470.8" y2="636.5" stroke="#e8e8e8" stroke-width="1.8"/>
<line x1="449.8" y1="662.8" x2="456.3" y2="660.2" stroke="#e8e8e8" stroke-width="1.8"/>
<circle cx="332.8" cy="534.7" r="3.0" fill="url(#sW)"/>
<circle cx="340.7" cy="537.4" r="4.0" fill="url(#sR)"/>
<circle cx="342.0" cy="542.6" r="4.0" fill="url(#sR)"/>
<circle cx="342.0" cy="549.2" r="3.0" fill="url(#sW)"/>
<circle cx="347.3" cy="557.1" r="3.0" fill="url(#sW)"/>
<circle cx="348.6" cy="561.0" r="4.0" fill="url(#sR)"/>
<circle cx="351.2" cy="563.6" r="4.0" fill="url(#sR)"/>
<circle cx="340.7" cy="564.9" r="3.0" fill="url(#sW)"/>
<circle cx="356.5" cy="564.9" r="3.0" fill="url(#sW)"/>
<circle cx="343.4" cy="571.5" r="4.0" fill="url(#sR)"/>
<circle cx="335.5" cy="572.8" r="3.0" fill="url(#sW)"/>
<circle cx="343.4" cy="586.6" r="4.0" fill="url(#sR)"/>
<circle cx="339.4" cy="590.6" r="3.0" fill="url(#sW)"/>
<circle cx="349.9" cy="593.2" r="3.0" fill="url(#sW)"/>
<circle cx="319.7" cy="595.8" r="3.0" fill="url(#sW)"/>
<circle cx="364.4" cy="597.1" r="3.0" fill="url(#sW)"/>
<circle cx="377.5" cy="601.9" r="3.0" fill="url(#sW)"/>
<circle cx="318.4" cy="602.4" r="4.0" fill="url(#sR)"/>
<circle cx="455.0" cy="602.9" r="3.0" fill="url(#sW)"/>
<circle cx="310.5" cy="606.3" r="3.0" fill="url(#sW)"/>
<circle cx="373.6" cy="609.0" r="4.0" fill="url(#sR)"/>
<circle cx="451.1" cy="610.3" r="4.0" fill="url(#sR)"/>
<circle cx="380.1" cy="610.3" r="3.0" fill="url(#sW)"/>
<circle cx="434.0" cy="612.9" r="3.0" fill="url(#sW)"/>
<circle cx="330.2" cy="614.2" r="3.0" fill="url(#sW)"/>
<circle cx="459.0" cy="614.2" r="3.0" fill="url(#sW)"/>
<circle cx="426.1" cy="615.5" r="4.0" fill="url(#sR)"/>
<circle cx="300.0" cy="616.8" r="4.0" fill="url(#sR)"/>
<circle cx="474.7" cy="618.2" r="4.0" fill="url(#sR)"/>
<circle cx="335.5" cy="620.8" r="4.0" fill="url(#sR)"/>
<circle cx="364.4" cy="620.8" r="3.0" fill="url(#sW)"/>
<circle cx="331.5" cy="623.4" r="3.0" fill="url(#sW)"/>
<circle cx="398.5" cy="623.4" r="3.0" fill="url(#sW)"/>
<circle cx="426.1" cy="624.7" r="3.0" fill="url(#sW)"/>
<circle cx="403.8" cy="626.0" r="3.0" fill="url(#sW)"/>
<circle cx="473.4" cy="626.0" r="3.0" fill="url(#sW)"/>
<circle cx="351.2" cy="627.4" r="3.0" fill="url(#sW)"/>
<circle cx="360.4" cy="628.7" r="4.0" fill="url(#sR)"/>
<circle cx="397.2" cy="628.7" r="4.0" fill="url(#sR)"/>
<circle cx="441.9" cy="636.5" r="3.0" fill="url(#sW)"/>
<circle cx="470.8" cy="636.5" r="3.0" fill="url(#sW)"/>
<circle cx="369.6" cy="639.2" r="3.0" fill="url(#sW)"/>
<circle cx="435.3" cy="640.5" r="4.0" fill="url(#sR)"/>
<circle cx="382.8" cy="640.5" r="3.0" fill="url(#sW)"/>
<circle cx="376.2" cy="644.4" r="4.0" fill="url(#sR)"/>
<circle cx="469.5" cy="644.4" r="4.0" fill="url(#sR)"/>
<circle cx="468.2" cy="644.4" r="3.0" fill="url(#sW)"/>
<circle cx="440.6" cy="648.4" r="3.0" fill="url(#sW)"/>
<circle cx="456.3" cy="660.2" r="3.0" fill="url(#sW)"/>
<circle cx="449.8" cy="662.8" r="4.0" fill="url(#sR)"/>
</svg>
<svg x="300.0" y="673.5" width="179.0" height="180.0" viewBox="300.0 673.5 179.0 180.0" overflow="hidden">
<rect x="300.0" y="673.5" width="179.0" height="180.0" fill="url(#bg)"/>
<path d="M334.2 675.6 L328.9 701.9 L307.9 711.1 L300.0 712.4" fill="none" stroke="#b86e6a" stroke-width="4.3" stroke-linejoin="round" stroke-linecap="round" opacity="0.55"/>
<path d="M334.2 675.6 L328.9 701.9 L307.9 711.1 L300.0 712.4" fill="none" stroke="#f2eba2" stroke-width="3.3" stroke-linejoin="round" stroke-linecap="round"/>
<path d="M333.0 681.4L330.1 696.1M324.3 703.9L312.5 709.1M306.1 711.4L301.7 712.1" fill="none" stroke="#e6958f" stroke-width="3.3"/>
<path d="M328.9 701.9 L355.2 728.2 L357.8 741.3 L356.5 762.9" fill="none" stroke="#b86e6a" stroke-width="4.3" stroke-linejoin="round" stroke-linecap="round" opacity="0.55"/>
<path d="M328.9 701.9 L355.2 728.2 L357.8 741.3 L356.5 762.9" fill="none" stroke="#f2eba2" stroke-width="3.3" stroke-linejoin="round" stroke-linecap="round"/>
<path d="M334.7 707.7L349.4 722.4M355.8 731.1L357.2 738.4M357.5 746.1L356.8 758.1" fill="none" stroke="#e6958f" stroke-width="3.3"/>
<path d="M355.2 728.2 L378.8 717.7 L386.7 707.2 L363.1 701.9 L360.4 694.0 L339.4 678.3" fill="none" stroke="#b86e6a" stroke-width="4.3" stroke-linejoin="round" stroke-linecap="round" opacity="0.55"/>
<path d="M355.2 728.2 L378.8 717.7 L386.7 707.2 L363.1 701.9 L360.4 694.0 L339.4 678.3" fill="none" stroke="#f2eba2" stroke-width="3.3" stroke-linejoin="round" stroke-linecap="round"/>
<path d="M360.4 725.9L373.6 720.0M380.6 715.4L385.0 709.5M381.5 706.0L368.3 703.1M362.5 700.2L361.0 695.8M355.8 690.6L344.0 681.7" fill="none" stroke="#e6958f" stroke-width="3.3"/>
<path d="M386.7 707.2 L384.1 683.5 L392.0 675.6 L426.1 678.3 L447.1 699.3 L457.6 703.2 L480.0 688.8" fill="none" stroke="#b86e6a" stroke-width="4.3" stroke-linejoin="round" stroke-linecap="round" opacity="0.55"/>
<path d="M386.7 707.2 L384.1 683.5 L392.0 675.6 L426.1 678.3 L447.1 699.3 L457.6 703.2 L480.0 688.8" fill="none" stroke="#f2eba2" stroke-width="3.3" stroke-linejoin="round" stroke-linecap="round"/>
<path d="M386.1 702.0L384.7 688.7M385.8 681.8L390.2 677.4M399.5 676.2L418.6 677.7M430.7 682.9L442.5 694.7M449.4 700.1L455.3 702.3M462.6 700.0L475.1 691.9" fill="none" stroke="#e6958f" stroke-width="3.3"/>
<path d="M386.7 707.2 L405.1 711.1" fill="none" stroke="#b86e6a" stroke-width="4.3" stroke-linejoin="round" stroke-linecap="round" opacity="0.55"/>
<path d="M386.7 707.2 L405.1 711.1" fill="none" stroke="#f2eba2" stroke-width="3.3" stroke-linejoin="round" stroke-linecap="round"/>
<path d="M390.8 708.0L401.1 710.2" fill="none" stroke="#e6958f" stroke-width="3.3"/>
<path d="M363.1 701.9 L386.7 683.5" fill="none" stroke="#b86e6a" stroke-width="4.3" stroke-linejoin="round" stroke-linecap="round" opacity="0.55"/>
<path d="M363.1 701.9 L386.7 683.5" fill="none" stroke="#f2eba2" stroke-width="3.3" stroke-linejoin="round" stroke-linecap="round"/>
<path d="M368.3 697.9L381.5 687.6" fill="none" stroke="#e6958f" stroke-width="3.3"/>
<path d="M355.2 728.2 L334.2 736.1 L313.1 738.7 L300.0 733.4" fill="none" stroke="#b86e6a" stroke-width="4.3" stroke-linejoin="round" stroke-linecap="round" opacity="0.55"/>
<path d="M355.2 728.2 L334.2 736.1 L313.1 738.7 L300.0 733.4" fill="none" stroke="#f2eba2" stroke-width="3.3" stroke-linejoin="round" stroke-linecap="round"/>
<path d="M350.6 729.9L338.8 734.3M329.5 736.6L317.8 738.1M310.2 737.5L302.9 734.6" fill="none" stroke="#e6958f" stroke-width="3.3"/>
<path d="M313.1 738.7 L307.9 749.2 L300.0 759.7" fill="none" stroke="#b86e6a" stroke-width="4.3" stroke-linejoin="round" stroke-linecap="round" opacity="0.55"/>
<path d="M313.1 738.7 L307.9 749.2 L300.0 759.7" fill="none" stroke="#f2eba2" stroke-width="3.3" stroke-linejoin="round" stroke-linecap="round"/>
<path d="M312.0 741.0L309.0 746.9M306.1 751.5L301.7 757.4" fill="none" stroke="#e6958f" stroke-width="3.3"/>
<path d="M457.6 703.2 L455.0 728.2 L441.9 722.9" fill="none" stroke="#b86e6a" stroke-width="4.3" stroke-linejoin="round" stroke-linecap="round" opacity="0.55"/>
<path d="M457.6 703.2 L455.0 728.2 L441.9 722.9" fill="none" stroke="#f2eba2" stroke-width="3.3" stroke-linejoin="round" stroke-linecap="round"/>
<path d="M457.1 708.7L455.6 722.7M452.1 727.0L444.8 724.1" fill="none" stroke="#e6958f" stroke-width="3.3"/>
<path d="M455.0 728.2 L462.9 743.9 L480.0 741.3" fill="none" stroke="#b86e6a" stroke-width="4.3" stroke-linejoin="round" stroke-linecap="round" opacity="0.55"/>
<path d="M455.0 728.2 L462.9 743.9 L480.0 741.3" fill="none" stroke="#f2eba2" stroke-width="3.3" stroke-linejoin="round" stroke-linecap="round"/>
<path d="M456.8 731.6L461.2 740.5M466.7 743.4L476.2 741.9" fill="none" stroke="#e6958f" stroke-width="3.3"/>
<path d="M457.6 703.2 L480.0 709.8" fill="none" stroke="#b86e6a" stroke-width="4.3" stroke-linejoin="round" stroke-linecap="round" opacity="0.55"/>
<path d="M457.6 703.2 L480.0 709.8" fill="none" stroke="#f2eba2" stroke-width="3.3" stroke-linejoin="round" stroke-linecap="round"/>
<path d="M462.6 704.7L475.1 708.3" fill="none" stroke="#e6958f" stroke-width="3.3"/>
<path d="M462.9 743.9 L460.3 762.9" fill="none" stroke="#b86e6a" stroke-width="4.3" stroke-linejoin="round" stroke-linecap="round" opacity="0.55"/>
<path d="M462.9 743.9 L460.3 762.9" fill="none" stroke="#f2eba2" stroke-width="3.3" stroke-linejoin="round" stroke-linecap="round"/>
<path d="M462.3 748.1L460.9 758.7" fill="none" stroke="#e6958f" stroke-width="3.3"/>
<path d="M426.1 678.3 L424.8 673.0" fill="none" stroke="#b86e6a" stroke-width="4.3" stroke-linejoin="round" stroke-linecap="round" opacity="0.55"/>
<path d="M426.1 678.3 L424.8 673.0" fill="none" stroke="#f2eba2" stroke-width="3.3" stroke-linejoin="round" stroke-linecap="round"/>
<path d="M425.8 677.1L425.1 674.2" fill="none" stroke="#e6958f" stroke-width="3.3"/>
<path d="M302.6 701.9 L305.3 730.8" fill="none" stroke="#b86e6a" stroke-width="4.3" stroke-linejoin="round" stroke-linecap="round" opacity="0.55"/>
<path d="M302.6 701.9 L305.3 730.8" fill="none" stroke="#f2eba2" stroke-width="3.3" stroke-linejoin="round" stroke-linecap="round"/>
<path d="M303.2 708.3L304.7 724.4" fill="none" stroke="#e6958f" stroke-width="3.3"/>
<path d="M300.0 763.0 L310.5 776.1 L326.3 789.3 L328.9 810.3 L336.8 823.4 L328.9 833.9 L326.3 852.9" fill="none" stroke="#b86e6a" stroke-width="4.3" stroke-linejoin="round" stroke-linecap="round" opacity="0.55"/>
<path d="M300.0 763.0 L310.5 776.1 L326.3 789.3 L328.9 810.3 L336.8 823.4 L328.9 833.9 L326.3 852.9" fill="none" stroke="#f2eba2" stroke-width="3.3" stroke-linejoin="round" stroke-linecap="round"/>
<path d="M302.3 765.9L308.2 773.2M314.0 779.0L322.8 786.4M326.9 793.9L328.3 805.7M330.6 813.2L335.0 820.5M335.0 825.7L330.6 831.6M328.3 838.1L326.9 848.7" fill="none" stroke="#e6958f" stroke-width="3.3"/>
<path d="M356.5 739.4 L356.5 763.0 L360.4 770.9 L339.4 784.0 L326.3 789.3" fill="none" stroke="#b86e6a" stroke-width="4.3" stroke-linejoin="round" stroke-linecap="round" opacity="0.55"/>
<path d="M356.5 739.4 L356.5 763.0 L360.4 770.9 L339.4 784.0 L326.3 789.3" fill="none" stroke="#f2eba2" stroke-width="3.3" stroke-linejoin="round" stroke-linecap="round"/>
<path d="M356.5 744.6L356.5 757.8M357.4 764.7L359.6 769.1M355.8 773.8L344.0 781.1M336.5 785.2L329.2 788.1" fill="none" stroke="#e6958f" stroke-width="3.3"/>
<path d="M360.4 770.9 L384.1 781.4 L392.0 789.3 L384.1 807.7 L378.8 823.4 L360.4 820.8 L336.8 823.4" fill="none" stroke="#b86e6a" stroke-width="4.3" stroke-linejoin="round" stroke-linecap="round" opacity="0.55"/>
<path d="M360.4 770.9 L384.1 781.4 L392.0 789.3 L384.1 807.7 L378.8 823.4 L360.4 820.8 L336.8 823.4" fill="none" stroke="#f2eba2" stroke-width="3.3" stroke-linejoin="round" stroke-linecap="round"/>
<path d="M365.6 773.2L378.9 779.1M385.8 783.1L390.2 787.5M390.2 793.3L385.8 803.6M382.9 811.1L380.0 820.0M374.8 822.9L364.5 821.4M355.2 821.4L342.0 822.9" fill="none" stroke="#e6958f" stroke-width="3.3"/>
<path d="M392.0 789.3 L428.7 789.3 L434.0 812.9 L439.3 826.1 L457.6 826.1 L480.0 832.6" fill="none" stroke="#b86e6a" stroke-width="4.3" stroke-linejoin="round" stroke-linecap="round" opacity="0.55"/>
<path d="M392.0 789.3 L428.7 789.3 L434.0 812.9 L439.3 826.1 L457.6 826.1 L480.0 832.6" fill="none" stroke="#f2eba2" stroke-width="3.3" stroke-linejoin="round" stroke-linecap="round"/>
<path d="M400.1 789.3L420.7 789.3M429.9 794.5L432.8 807.7M435.2 815.8L438.1 823.2M443.3 826.1L453.6 826.1M462.6 827.5L475.1 831.2" fill="none" stroke="#e6958f" stroke-width="3.3"/>
<path d="M428.7 789.3 L447.1 776.1 L462.9 763.0" fill="none" stroke="#b86e6a" stroke-width="4.3" stroke-linejoin="round" stroke-linecap="round" opacity="0.55"/>
<path d="M428.7 789.3 L447.1 776.1 L462.9 763.0" fill="none" stroke="#f2eba2" stroke-width="3.3" stroke-linejoin="round" stroke-linecap="round"/>
<path d="M432.8 786.4L443.1 779.0M450.6 773.2L459.4 765.9" fill="none" stroke="#e6958f" stroke-width="3.3"/>
<path d="M447.1 776.1 L480.0 773.5" fill="none" stroke="#b86e6a" stroke-width="4.3" stroke-linejoin="round" stroke-linecap="round" opacity="0.55"/>
<path d="M447.1 776.1 L480.0 773.5" fill="none" stroke="#f2eba2" stroke-width="3.3" stroke-linejoin="round" stroke-linecap="round"/>
<path d="M454.4 775.6L472.8 774.1" fill="none" stroke="#e6958f" stroke-width="3.3"/>
<path d="M378.8 823.4 L376.2 839.2 L347.3 849.7" fill="none" stroke="#b86e6a" stroke-width="4.3" stroke-linejoin="round" stroke-linecap="round" opacity="0.55"/>
<path d="M378.8 823.4 L376.2 839.2 L347.3 849.7" fill="none" stroke="#f2eba2" stroke-width="3.3" stroke-linejoin="round" stroke-linecap="round"/>
<path d="M378.2 826.9L376.8 835.7M369.8 841.5L353.7 847.4" fill="none" stroke="#e6958f" stroke-width="3.3"/>
<path d="M376.2 839.2 L386.7 852.9" fill="none" stroke="#b86e6a" stroke-width="4.3" stroke-linejoin="round" stroke-linecap="round" opacity="0.55"/>
<path d="M376.2 839.2 L386.7 852.9" fill="none" stroke="#f2eba2" stroke-width="3.3" stroke-linejoin="round" stroke-linecap="round"/>
<path d="M378.5 842.2L384.4 849.9" fill="none" stroke="#e6958f" stroke-width="3.3"/>
<path d="M439.3 826.1 L436.6 839.2 L420.9 849.7 L386.7 849.7" fill="none" stroke="#b86e6a" stroke-width="4.3" stroke-linejoin="round" stroke-linecap="round" opacity="0.55"/>
<path d="M439.3 826.1 L436.6 839.2 L420.9 849.7 L386.7 849.7" fill="none" stroke="#f2eba2" stroke-width="3.3" stroke-linejoin="round" stroke-linecap="round"/>
<path d="M438.7 828.9L437.2 836.3M433.2 841.5L424.3 847.4M413.3 849.7L394.2 849.7" fill="none" stroke="#e6958f" stroke-width="3.3"/>
<path d="M436.6 839.2 L457.6 836.6 L480.0 835.3" fill="none" stroke="#b86e6a" stroke-width="4.3" stroke-linejoin="round" stroke-linecap="round" opacity="0.55"/>
<path d="M436.6 839.2 L457.6 836.6 L480.0 835.3" fill="none" stroke="#f2eba2" stroke-width="3.3" stroke-linejoin="round" stroke-linecap="round"/>
<path d="M441.3 838.6L453.0 837.1M462.6 836.3L475.1 835.5" fill="none" stroke="#e6958f" stroke-width="3.3"/>
<path d="M300.0 810.3 L307.9 815.5" fill="none" stroke="#b86e6a" stroke-width="4.3" stroke-linejoin="round" stroke-linecap="round" opacity="0.55"/>
<path d="M300.0 810.3 L307.9 815.5" fill="none" stroke="#f2eba2" stroke-width="3.3" stroke-linejoin="round" stroke-linecap="round"/>
<path d="M301.7 811.4L306.1 814.4" fill="none" stroke="#e6958f" stroke-width="3.3"/>
<path d="M460.3 739.4 L462.9 763.0" fill="none" stroke="#b86e6a" stroke-width="4.3" stroke-linejoin="round" stroke-linecap="round" opacity="0.55"/>
<path d="M460.3 739.4 L462.9 763.0" fill="none" stroke="#f2eba2" stroke-width="3.3" stroke-linejoin="round" stroke-linecap="round"/>
<path d="M460.9 744.6L462.3 757.8" fill="none" stroke="#e6958f" stroke-width="3.3"/>
<line x1="339.4" y1="678.3" x2="343.4" y2="674.3" stroke="#f4f4f4" stroke-width="3" stroke-linecap="round"/>
<line x1="360.4" y1="694.0" x2="359.1" y2="684.8" stroke="#f4f4f4" stroke-width="3" stroke-linecap="round"/>
<line x1="405.1" y1="711.1" x2="398.5" y2="715.0" stroke="#f4f4f4" stroke-width="3" stroke-linecap="round"/>
<line x1="441.9" y1="722.9" x2="434.0" y2="721.6" stroke="#f4f4f4" stroke-width="3" stroke-linecap="round"/>
<line x1="455.0" y1="728.2" x2="448.4" y2="719.0" stroke="#f4f4f4" stroke-width="3" stroke-linecap="round"/>
<line x1="462.9" y1="743.9" x2="465.5" y2="749.2" stroke="#f4f4f4" stroke-width="3" stroke-linecap="round"/>
<line x1="357.8" y1="741.3" x2="369.6" y2="742.6" stroke="#f4f4f4" stroke-width="3" stroke-linecap="round"/>
<line x1="307.9" y1="711.1" x2="305.3" y2="709.8" stroke="#f4f4f4" stroke-width="3" stroke-linecap="round"/>
<line x1="310.5" y1="790.6" x2="328.9" y2="788.0" stroke="#3ad03a" stroke-width="1.2" stroke-dasharray="1.6,1.4"/>
<line x1="343.4" y1="789.3" x2="360.4" y2="789.3" stroke="#3ad03a" stroke-width="1.2" stroke-dasharray="1.6,1.4"/>
<line x1="370.9" y1="793.2" x2="386.7" y2="778.8" stroke="#3ad03a" stroke-width="1.2" stroke-dasharray="1.6,1.4"/>
<line x1="394.6" y1="768.3" x2="406.4" y2="768.3" stroke="#3ad03a" stroke-width="1.2" stroke-dasharray="1.6,1.4"/>
<line x1="431.4" y1="780.1" x2="443.2" y2="778.8" stroke="#3ad03a" stroke-width="1.2" stroke-dasharray="1.6,1.4"/>
<line x1="407.7" y1="841.8" x2="410.4" y2="849.7" stroke="#3ad03a" stroke-width="1.2" stroke-dasharray="1.6,1.4"/>
<line x1="402.5" y1="737.4" x2="405.1" y2="743.9" stroke="#e8e8e8" stroke-width="1.8"/>
<line x1="413.0" y1="745.3" x2="413.0" y2="738.7" stroke="#e8e8e8" stroke-width="1.8"/>
<line x1="409.0" y1="754.5" x2="415.6" y2="757.1" stroke="#e8e8e8" stroke-width="1.8"/>
<line x1="416.9" y1="769.6" x2="419.5" y2="761.0" stroke="#e8e8e8" stroke-width="1.8"/>
<line x1="409.0" y1="761.7" x2="406.4" y2="768.3" stroke="#e8e8e8" stroke-width="1.8"/>
<line x1="390.6" y1="768.3" x2="386.7" y2="776.1" stroke="#e8e8e8" stroke-width="1.8"/>
<line x1="423.5" y1="781.4" x2="415.6" y2="781.4" stroke="#e8e8e8" stroke-width="1.8"/>
<line x1="423.5" y1="781.4" x2="431.4" y2="780.1" stroke="#e8e8e8" stroke-width="1.8"/>
<line x1="448.4" y1="778.8" x2="444.5" y2="772.2" stroke="#e8e8e8" stroke-width="1.8"/>
<line x1="448.4" y1="778.8" x2="451.1" y2="786.6" stroke="#e8e8e8" stroke-width="1.8"/>
<line x1="338.1" y1="789.3" x2="342.0" y2="781.4" stroke="#e8e8e8" stroke-width="1.8"/>
<line x1="368.3" y1="794.5" x2="369.6" y2="802.4" stroke="#e8e8e8" stroke-width="1.8"/>
<line x1="307.9" y1="791.9" x2="302.6" y2="789.3" stroke="#e8e8e8" stroke-width="1.8"/>
<circle cx="401.2" cy="728.2" r="3.0" fill="url(#sW)"/>
<circle cx="402.5" cy="737.4" r="4.0" fill="url(#sR)"/>
<circle cx="413.0" cy="738.7" r="3.0" fill="url(#sW)"/>
<circle cx="405.1" cy="743.9" r="3.0" fill="url(#sW)"/>
<circle cx="413.0" cy="745.3" r="4.0" fill="url(#sR)"/>
<circle cx="409.0" cy="754.5" r="4.0" fill="url(#sR)"/>
<circle cx="399.8" cy="757.1" r="3.0" fill="url(#sW)"/>
<circle cx="415.6" cy="757.1" r="3.0" fill="url(#sW)"/>
<circle cx="419.5" cy="761.0" r="3.0" fill="url(#sW)"/>
<circle cx="409.0" cy="761.7" r="4.0" fill="url(#sR)"/>
<circle cx="381.5" cy="765.6" r="3.0" fill="url(#sW)"/>
<circle cx="390.6" cy="768.3" r="4.0" fill="url(#sR)"/>
<circle cx="406.4" cy="768.3" r="3.0" fill="url(#sW)"/>
<circle cx="416.9" cy="769.6" r="4.0" fill="url(#sR)"/>
<circle cx="444.5" cy="772.2" r="3.0" fill="url(#sW)"/>
<circle cx="386.7" cy="776.1" r="3.0" fill="url(#sW)"/>
<circle cx="448.4" cy="778.8" r="4.0" fill="url(#sR)"/>
<circle cx="431.4" cy="780.1" r="3.0" fill="url(#sW)"/>
<circle cx="423.5" cy="781.4" r="4.0" fill="url(#sR)"/>
<circle cx="415.6" cy="781.4" r="3.0" fill="url(#sW)"/>
<circle cx="342.0" cy="781.4" r="3.0" fill="url(#sW)"/>
<circle cx="451.1" cy="786.6" r="3.0" fill="url(#sW)"/>
<circle cx="328.9" cy="788.0" r="3.0" fill="url(#sW)"/>
<circle cx="338.1" cy="789.3" r="4.0" fill="url(#sR)"/>
<circle cx="360.4" cy="789.3" r="3.0" fill="url(#sW)"/>
<circle cx="302.6" cy="789.3" r="3.0" fill="url(#sW)"/>
<circle cx="307.9" cy="791.9" r="4.0" fill="url(#sR)"/>
<circle cx="368.3" cy="794.5" r="4.0" fill="url(#sR)"/>
<circle cx="338.1" cy="798.5" r="3.0" fill="url(#sW)"/>
<circle cx="369.6" cy="802.4" r="3.0" fill="url(#sW)"/>
<circle cx="378.8" cy="805.0" r="3.0" fill="url(#sW)"/>
</svg>
<svg x="300.0" y="853.5" width="179.0" height="180.5" viewBox="300.0 853.5 179.0 180.5" overflow="hidden">
<rect x="300.0" y="853.5" width="179.0" height="180.5" fill="url(#bg)"/>
<path d="M334.2 868.5 L360.4 865.8 L399.8 872.4 L441.9 865.8 L468.2 869.8 L480.0 868.5" fill="none" stroke="#b86e6a" stroke-width="5.6" stroke-linejoin="round" stroke-linecap="round" opacity="0.55"/>
<path d="M334.2 868.5 L360.4 865.8 L399.8 872.4 L441.9 865.8 L468.2 869.8 L480.0 868.5" fill="none" stroke="#f2eba2" stroke-width="4.6" stroke-linejoin="round" stroke-linecap="round"/>
<path d="M339.9 867.9L354.7 866.4M369.1 867.3L391.2 870.9M409.1 870.9L432.6 867.3M447.7 866.7L462.4 868.9M470.8 869.5L477.4 868.7" fill="none" stroke="#e6958f" stroke-width="4.6"/>
<path d="M360.4 851.4 L360.4 865.8 L349.9 906.5 L357.8 932.8 L368.3 943.9" fill="none" stroke="#b86e6a" stroke-width="5.6" stroke-linejoin="round" stroke-linecap="round" opacity="0.55"/>
<path d="M360.4 851.4 L360.4 865.8 L349.9 906.5 L357.8 932.8 L368.3 943.9" fill="none" stroke="#f2eba2" stroke-width="4.6" stroke-linejoin="round" stroke-linecap="round"/>
<path d="M360.4 854.6L360.4 862.6M358.1 874.8L352.2 897.6M351.7 912.3L356.1 927.0M360.1 935.3L366.0 941.4" fill="none" stroke="#e6958f" stroke-width="4.6"/>
<path d="M399.8 851.4 L399.8 872.4 L397.2 917.1 L399.8 943.9" fill="none" stroke="#b86e6a" stroke-width="5.6" stroke-linejoin="round" stroke-linecap="round" opacity="0.55"/>
<path d="M399.8 851.4 L399.8 872.4 L397.2 917.1 L399.8 943.9" fill="none" stroke="#f2eba2" stroke-width="4.6" stroke-linejoin="round" stroke-linecap="round"/>
<path d="M399.8 856.0L399.8 867.8M399.3 882.2L397.8 907.2M397.8 923.0L399.3 938.0" fill="none" stroke="#e6958f" stroke-width="4.6"/>
<path d="M441.9 851.4 L441.9 865.8 L449.8 901.3 L444.5 932.8 L441.9 943.9" fill="none" stroke="#b86e6a" stroke-width="5.6" stroke-linejoin="round" stroke-linecap="round" opacity="0.55"/>
<path d="M441.9 851.4 L441.9 865.8 L449.8 901.3 L444.5 932.8 L441.9 943.9" fill="none" stroke="#f2eba2" stroke-width="4.6" stroke-linejoin="round" stroke-linecap="round"/>
<path d="M441.9 854.6L441.9 862.6M443.6 873.6L448.0 893.5M448.6 908.2L445.7 925.9M443.9 935.3L442.5 941.4" fill="none" stroke="#e6958f" stroke-width="4.6"/>
<path d="M468.2 851.4 L468.2 869.8 L462.9 896.0 L452.4 906.5" fill="none" stroke="#b86e6a" stroke-width="5.6" stroke-linejoin="round" stroke-linecap="round" opacity="0.55"/>
<path d="M468.2 851.4 L468.2 869.8 L462.9 896.0 L452.4 906.5" fill="none" stroke="#f2eba2" stroke-width="4.6" stroke-linejoin="round" stroke-linecap="round"/>
<path d="M468.2 855.4L468.2 865.7M467.0 875.5L464.1 890.3M460.6 898.4L454.7 904.2" fill="none" stroke="#e6958f" stroke-width="4.6"/>
<path d="M328.9 903.9 L349.9 906.5 L363.1 914.4 L397.2 917.1 L444.5 913.1 L468.2 906.5 L480.0 905.2" fill="none" stroke="#b86e6a" stroke-width="5.6" stroke-linejoin="round" stroke-linecap="round" opacity="0.55"/>
<path d="M328.9 903.9 L349.9 906.5 L363.1 914.4 L397.2 917.1 L444.5 913.1 L468.2 906.5 L480.0 905.2" fill="none" stroke="#f2eba2" stroke-width="4.6" stroke-linejoin="round" stroke-linecap="round"/>
<path d="M333.5 904.5L345.3 906.0M352.8 908.3L360.2 912.7M370.6 915.0L389.7 916.5M407.6 916.2L434.1 914.0M449.7 911.7L463.0 908.0M470.8 906.3L477.4 905.5" fill="none" stroke="#e6958f" stroke-width="4.6"/>
<path d="M300.0 914.4 L328.9 903.9 L328.9 919.7 L300.0 930.2" fill="none" stroke="#b86e6a" stroke-width="5.6" stroke-linejoin="round" stroke-linecap="round" opacity="0.55"/>
<path d="M300.0 914.4 L328.9 903.9 L328.9 919.7 L300.0 930.2" fill="none" stroke="#f2eba2" stroke-width="4.6" stroke-linejoin="round" stroke-linecap="round"/>
<path d="M306.4 912.1L322.5 906.2M328.9 907.4L328.9 916.2M322.5 922.0L306.4 927.9" fill="none" stroke="#e6958f" stroke-width="4.6"/>
<path d="M328.9 919.7 L352.5 930.2 L363.1 935.5 L397.2 917.1" fill="none" stroke="#b86e6a" stroke-width="5.6" stroke-linejoin="round" stroke-linecap="round" opacity="0.55"/>
<path d="M328.9 919.7 L352.5 930.2 L363.1 935.5 L397.2 917.1" fill="none" stroke="#f2eba2" stroke-width="4.6" stroke-linejoin="round" stroke-linecap="round"/>
<path d="M334.1 922.0L347.3 927.9M354.9 931.4L360.7 934.3M370.6 931.4L389.7 921.1" fill="none" stroke="#e6958f" stroke-width="4.6"/>
<path d="M326.3 888.2 L328.9 903.9" fill="none" stroke="#b86e6a" stroke-width="5.6" stroke-linejoin="round" stroke-linecap="round" opacity="0.55"/>
<path d="M326.3 888.2 L328.9 903.9" fill="none" stroke="#f2eba2" stroke-width="4.6" stroke-linejoin="round" stroke-linecap="round"/>
<path d="M326.9 891.6L328.3 900.5" fill="none" stroke="#e6958f" stroke-width="4.6"/>
<path d="M444.5 932.8 L468.2 924.9 L480.0 919.7" fill="none" stroke="#b86e6a" stroke-width="5.6" stroke-linejoin="round" stroke-linecap="round" opacity="0.55"/>
<path d="M444.5 932.8 L468.2 924.9 L480.0 919.7" fill="none" stroke="#f2eba2" stroke-width="4.6" stroke-linejoin="round" stroke-linecap="round"/>
<path d="M449.7 931.1L463.0 926.7M470.8 923.8L477.4 920.8" fill="none" stroke="#e6958f" stroke-width="4.6"/>
<path d="M468.2 869.8 L480.0 885.5" fill="none" stroke="#b86e6a" stroke-width="5.6" stroke-linejoin="round" stroke-linecap="round" opacity="0.55"/>
<path d="M468.2 869.8 L480.0 885.5" fill="none" stroke="#f2eba2" stroke-width="4.6" stroke-linejoin="round" stroke-linecap="round"/>
<path d="M470.8 873.2L477.4 882.1" fill="none" stroke="#e6958f" stroke-width="4.6"/>
<path d="M300.0 980.8 L331.5 983.4 L355.2 980.8 L397.2 993.9 L441.9 983.4 L466.8 988.7 L480.0 986.0" fill="none" stroke="#b86e6a" stroke-width="5.6" stroke-linejoin="round" stroke-linecap="round" opacity="0.55"/>
<path d="M300.0 980.8 L331.5 983.4 L355.2 980.8 L397.2 993.9 L441.9 983.4 L466.8 988.7 L480.0 986.0" fill="none" stroke="#f2eba2" stroke-width="4.6" stroke-linejoin="round" stroke-linecap="round"/>
<path d="M306.9 981.4L324.6 982.8M336.7 982.8L350.0 981.4M364.4 983.7L388.0 991.0M407.0 991.6L432.1 985.7M447.4 984.6L461.4 987.5M469.7 988.1L477.1 986.6" fill="none" stroke="#e6958f" stroke-width="4.6"/>
<path d="M331.5 983.4 L336.8 1004.4 L334.2 1020.2 L300.0 1017.6" fill="none" stroke="#b86e6a" stroke-width="5.6" stroke-linejoin="round" stroke-linecap="round" opacity="0.55"/>
<path d="M331.5 983.4 L336.8 1004.4 L334.2 1020.2 L300.0 1017.6" fill="none" stroke="#f2eba2" stroke-width="4.6" stroke-linejoin="round" stroke-linecap="round"/>
<path d="M332.7 988.0L335.6 999.8M336.2 1007.9L334.7 1016.7M326.6 1019.6L307.5 1018.1" fill="none" stroke="#e6958f" stroke-width="4.6"/>
<path d="M355.2 980.8 L355.2 957.1 L357.8 941.4" fill="none" stroke="#b86e6a" stroke-width="5.6" stroke-linejoin="round" stroke-linecap="round" opacity="0.55"/>
<path d="M355.2 980.8 L355.2 957.1 L357.8 941.4" fill="none" stroke="#f2eba2" stroke-width="4.6" stroke-linejoin="round" stroke-linecap="round"/>
<path d="M355.2 975.6L355.2 962.3M355.8 953.7L357.2 944.8" fill="none" stroke="#e6958f" stroke-width="4.6"/>
<path d="M355.2 980.8 L336.8 1017.6 L339.4 1033.9" fill="none" stroke="#b86e6a" stroke-width="5.6" stroke-linejoin="round" stroke-linecap="round" opacity="0.55"/>
<path d="M355.2 980.8 L336.8 1017.6 L339.4 1033.9" fill="none" stroke="#f2eba2" stroke-width="4.6" stroke-linejoin="round" stroke-linecap="round"/>
<path d="M351.1 988.9L340.8 1009.5M337.4 1021.2L338.8 1030.3" fill="none" stroke="#e6958f" stroke-width="4.6"/>
<path d="M397.2 993.9 L399.8 1033.9" fill="none" stroke="#b86e6a" stroke-width="5.6" stroke-linejoin="round" stroke-linecap="round" opacity="0.55"/>
<path d="M397.2 993.9 L399.8 1033.9" fill="none" stroke="#f2eba2" stroke-width="4.6" stroke-linejoin="round" stroke-linecap="round"/>
<path d="M397.8 1002.7L399.3 1025.1" fill="none" stroke="#e6958f" stroke-width="4.6"/>
<path d="M441.9 983.4 L439.3 941.4" fill="none" stroke="#b86e6a" stroke-width="5.6" stroke-linejoin="round" stroke-linecap="round" opacity="0.55"/>
<path d="M441.9 983.4 L439.3 941.4" fill="none" stroke="#f2eba2" stroke-width="4.6" stroke-linejoin="round" stroke-linecap="round"/>
<path d="M441.3 974.2L439.8 950.6" fill="none" stroke="#e6958f" stroke-width="4.6"/>
<path d="M441.9 983.4 L457.6 1014.9 L452.4 1033.9" fill="none" stroke="#b86e6a" stroke-width="5.6" stroke-linejoin="round" stroke-linecap="round" opacity="0.55"/>
<path d="M441.9 983.4 L457.6 1014.9 L452.4 1033.9" fill="none" stroke="#f2eba2" stroke-width="4.6" stroke-linejoin="round" stroke-linecap="round"/>
<path d="M445.3 990.3L454.2 1008.0M456.5 1019.1L453.5 1029.7" fill="none" stroke="#e6958f" stroke-width="4.6"/>
<path d="M466.8 988.7 L460.3 1020.2 L460.3 1033.9" fill="none" stroke="#b86e6a" stroke-width="5.6" stroke-linejoin="round" stroke-linecap="round" opacity="0.55"/>
<path d="M466.8 988.7 L460.3 1020.2 L460.3 1033.9" fill="none" stroke="#f2eba2" stroke-width="4.6" stroke-linejoin="round" stroke-linecap="round"/>
<path d="M465.4 995.6L461.7 1013.3M460.3 1023.2L460.3 1030.9" fill="none" stroke="#e6958f" stroke-width="4.6"/>
<path d="M466.8 988.7 L468.2 941.4" fill="none" stroke="#b86e6a" stroke-width="5.6" stroke-linejoin="round" stroke-linecap="round" opacity="0.55"/>
<path d="M466.8 988.7 L468.2 941.4" fill="none" stroke="#f2eba2" stroke-width="4.6" stroke-linejoin="round" stroke-linecap="round"/>
<path d="M467.1 978.3L467.9 951.8" fill="none" stroke="#e6958f" stroke-width="4.6"/>
<path d="M334.2 1020.2 L357.8 1022.8 L386.7 1028.1 L418.2 1026.8 L447.1 1022.8 L480.0 1020.2" fill="none" stroke="#b86e6a" stroke-width="5.6" stroke-linejoin="round" stroke-linecap="round" opacity="0.55"/>
<path d="M334.2 1020.2 L357.8 1022.8 L386.7 1028.1 L418.2 1026.8 L447.1 1022.8 L480.0 1020.2" fill="none" stroke="#f2eba2" stroke-width="4.6" stroke-linejoin="round" stroke-linecap="round"/>
<path d="M339.4 1020.8L352.6 1022.2M364.2 1024.0L380.3 1026.9M393.6 1027.8L411.3 1027.1M424.6 1025.9L440.8 1023.7M454.4 1022.2L472.8 1020.8" fill="none" stroke="#e6958f" stroke-width="4.6"/>
<path d="M300.0 1004.4 L331.5 999.2" fill="none" stroke="#b86e6a" stroke-width="5.6" stroke-linejoin="round" stroke-linecap="round" opacity="0.55"/>
<path d="M300.0 1004.4 L331.5 999.2" fill="none" stroke="#f2eba2" stroke-width="4.6" stroke-linejoin="round" stroke-linecap="round"/>
<path d="M306.9 1003.3L324.6 1000.3" fill="none" stroke="#e6958f" stroke-width="4.6"/>
<path d="M344.7 868.5 L361.8 864.5 L390.0 871.1" fill="none" stroke="#b86e6a" stroke-width="5.6" stroke-linejoin="round" stroke-linecap="round" opacity="0.55"/>
<path d="M344.7 868.5 L361.8 864.5 L390.0 871.1" fill="none" stroke="#f2eba2" stroke-width="4.6" stroke-linejoin="round" stroke-linecap="round"/>
<path d="M348.4 867.6L358.0 865.4M368.0 866.0L383.8 869.6" fill="none" stroke="#e6958f" stroke-width="4.6"/>
<path d="M361.8 864.5 L361.8 852.7" fill="none" stroke="#b86e6a" stroke-width="5.6" stroke-linejoin="round" stroke-linecap="round" opacity="0.55"/>
<path d="M361.8 864.5 L361.8 852.7" fill="none" stroke="#f2eba2" stroke-width="4.6" stroke-linejoin="round" stroke-linecap="round"/>
<path d="M361.8 861.9L361.8 855.3" fill="none" stroke="#e6958f" stroke-width="4.6"/>
<path d="M361.8 864.5 L355.2 886.8 L349.9 903.9" fill="none" stroke="#b86e6a" stroke-width="5.6" stroke-linejoin="round" stroke-linecap="round" opacity="0.55"/>
<path d="M361.8 864.5 L355.2 886.8 L349.9 903.9" fill="none" stroke="#f2eba2" stroke-width="4.6" stroke-linejoin="round" stroke-linecap="round"/>
<path d="M360.3 869.4L356.6 881.9M354.0 890.6L351.1 900.2" fill="none" stroke="#e6958f" stroke-width="4.6"/>
<path d="M349.9 903.9 L330.2 903.9" fill="none" stroke="#b86e6a" stroke-width="5.6" stroke-linejoin="round" stroke-linecap="round" opacity="0.55"/>
<path d="M349.9 903.9 L330.2 903.9" fill="none" stroke="#f2eba2" stroke-width="4.6" stroke-linejoin="round" stroke-linecap="round"/>
<path d="M345.6 903.9L334.6 903.9" fill="none" stroke="#e6958f" stroke-width="4.6"/>
<path d="M349.9 903.9 L357.8 915.8 L390.0 915.8" fill="none" stroke="#b86e6a" stroke-width="5.6" stroke-linejoin="round" stroke-linecap="round" opacity="0.55"/>
<path d="M349.9 903.9 L357.8 915.8 L390.0 915.8" fill="none" stroke="#f2eba2" stroke-width="4.6" stroke-linejoin="round" stroke-linecap="round"/>
<path d="M351.7 906.5L356.1 913.2M364.9 915.8L382.9 915.8" fill="none" stroke="#e6958f" stroke-width="4.6"/>
<path d="M328.9 917.1 L328.9 896.0" fill="none" stroke="#b86e6a" stroke-width="5.6" stroke-linejoin="round" stroke-linecap="round" opacity="0.55"/>
<path d="M328.9 917.1 L328.9 896.0" fill="none" stroke="#f2eba2" stroke-width="4.6" stroke-linejoin="round" stroke-linecap="round"/>
<path d="M328.9 912.4L328.9 900.7" fill="none" stroke="#e6958f" stroke-width="4.6"/>
<path d="M328.9 917.1 L300.0 927.6" fill="none" stroke="#b86e6a" stroke-width="5.6" stroke-linejoin="round" stroke-linecap="round" opacity="0.55"/>
<path d="M328.9 917.1 L300.0 927.6" fill="none" stroke="#f2eba2" stroke-width="4.6" stroke-linejoin="round" stroke-linecap="round"/>
<path d="M322.5 919.4L306.4 925.3" fill="none" stroke="#e6958f" stroke-width="4.6"/>
<path d="M328.9 917.1 L319.7 910.5" fill="none" stroke="#b86e6a" stroke-width="5.6" stroke-linejoin="round" stroke-linecap="round" opacity="0.55"/>
<path d="M328.9 917.1 L319.7 910.5" fill="none" stroke="#f2eba2" stroke-width="4.6" stroke-linejoin="round" stroke-linecap="round"/>
<path d="M326.9 915.6L321.7 911.9" fill="none" stroke="#e6958f" stroke-width="4.6"/>
<path d="M328.9 917.1 L342.0 930.2 L343.4 944.7" fill="none" stroke="#b86e6a" stroke-width="5.6" stroke-linejoin="round" stroke-linecap="round" opacity="0.55"/>
<path d="M328.9 917.1 L342.0 930.2 L343.4 944.7" fill="none" stroke="#f2eba2" stroke-width="4.6" stroke-linejoin="round" stroke-linecap="round"/>
<path d="M331.8 920.0L339.2 927.3M342.3 933.4L343.1 941.5" fill="none" stroke="#e6958f" stroke-width="4.6"/>
<path d="M349.9 903.9 L355.2 932.8 L357.8 932.8" fill="none" stroke="#b86e6a" stroke-width="5.6" stroke-linejoin="round" stroke-linecap="round" opacity="0.55"/>
<path d="M349.9 903.9 L355.2 932.8 L357.8 932.8" fill="none" stroke="#f2eba2" stroke-width="4.6" stroke-linejoin="round" stroke-linecap="round"/>
<path d="M351.1 910.3L354.0 926.5M355.8 932.8L357.2 932.8" fill="none" stroke="#e6958f" stroke-width="4.6"/>
<line x1="335.5" y1="869.1" x2="344.7" y2="868.5" stroke="#f2f2f2" stroke-width="4" stroke-linecap="round"/>
<line x1="328.9" y1="896.0" x2="323.6" y2="888.2" stroke="#f2f2f2" stroke-width="4" stroke-linecap="round"/>
<line x1="319.7" y1="910.5" x2="317.1" y2="913.1" stroke="#f2f2f2" stroke-width="4" stroke-linecap="round"/>
<line x1="357.8" y1="932.8" x2="370.9" y2="931.5" stroke="#f2f2f2" stroke-width="4" stroke-linecap="round"/>
<line x1="349.9" y1="903.9" x2="346.0" y2="888.2" stroke="#f2f2f2" stroke-width="4" stroke-linecap="round"/>
<line x1="300.0" y1="890.8" x2="319.7" y2="893.4" stroke="#f2f2f2" stroke-width="4" stroke-linecap="round"/>
<line x1="330.2" y1="867.1" x2="326.3" y2="865.8" stroke="#3ad03a" stroke-width="1.6" stroke-dasharray="1.6,1.4"/>
<line x1="321.0" y1="884.2" x2="325.0" y2="888.2" stroke="#3ad03a" stroke-width="1.6" stroke-dasharray="1.6,1.4"/>
<line x1="300.0" y1="919.7" x2="317.1" y2="913.1" stroke="#3ad03a" stroke-width="1.6" stroke-dasharray="1.6,1.4"/>
<line x1="305.3" y1="932.8" x2="330.2" y2="936.8" stroke="#3ad03a" stroke-width="1.6" stroke-dasharray="1.6,1.4"/>
<line x1="373.6" y1="930.2" x2="390.0" y2="923.6" stroke="#3ad03a" stroke-width="1.6" stroke-dasharray="1.6,1.4"/>
<line x1="300.0" y1="893.4" x2="318.4" y2="893.4" stroke="#f4f4f4" stroke-width="3.5" stroke-linecap="round"/>
<line x1="334.2" y1="868.5" x2="339.4" y2="868.5" stroke="#f4f4f4" stroke-width="3.5" stroke-linecap="round"/>
<line x1="326.3" y1="888.2" x2="323.6" y2="886.8" stroke="#f4f4f4" stroke-width="3.5" stroke-linecap="round"/>
<line x1="347.3" y1="888.2" x2="344.7" y2="897.4" stroke="#f4f4f4" stroke-width="3.5" stroke-linecap="round"/>
<line x1="349.9" y1="856.6" x2="353.9" y2="860.6" stroke="#f4f4f4" stroke-width="3.5" stroke-linecap="round"/>
<line x1="415.6" y1="924.9" x2="416.9" y2="924.9" stroke="#f4f4f4" stroke-width="3.5" stroke-linecap="round"/>
<line x1="431.4" y1="940.7" x2="427.4" y2="939.4" stroke="#f4f4f4" stroke-width="3.5" stroke-linecap="round"/>
<line x1="330.2" y1="970.3" x2="336.8" y2="966.3" stroke="#f4f4f4" stroke-width="3.5" stroke-linecap="round"/>
<line x1="347.3" y1="1012.3" x2="349.9" y2="1013.6" stroke="#f4f4f4" stroke-width="3.5" stroke-linecap="round"/>
<line x1="392.0" y1="983.4" x2="397.2" y2="983.4" stroke="#f4f4f4" stroke-width="3.5" stroke-linecap="round"/>
<line x1="386.7" y1="1026.8" x2="390.6" y2="1027.6" stroke="#f4f4f4" stroke-width="3.5" stroke-linecap="round"/>
<line x1="405.1" y1="903.9" x2="411.7" y2="890.8" stroke="#3ad03a" stroke-width="1.4" stroke-dasharray="1.6,1.4"/>
<line x1="300.0" y1="918.4" x2="321.0" y2="910.5" stroke="#3ad03a" stroke-width="1.4" stroke-dasharray="1.6,1.4"/>
<line x1="305.3" y1="932.8" x2="328.9" y2="935.5" stroke="#3ad03a" stroke-width="1.4" stroke-dasharray="1.6,1.4"/>
<line x1="370.9" y1="932.8" x2="394.6" y2="922.3" stroke="#3ad03a" stroke-width="1.4" stroke-dasharray="1.6,1.4"/>
<line x1="410.4" y1="927.6" x2="428.7" y2="940.7" stroke="#3ad03a" stroke-width="1.4" stroke-dasharray="1.6,1.4"/>
<line x1="310.5" y1="949.3" x2="328.9" y2="969.0" stroke="#3ad03a" stroke-width="1.4" stroke-dasharray="1.6,1.4"/>
<line x1="332.8" y1="945.3" x2="339.4" y2="963.7" stroke="#3ad03a" stroke-width="1.4" stroke-dasharray="1.6,1.4"/>
<line x1="401.2" y1="965.0" x2="410.4" y2="988.7" stroke="#3ad03a" stroke-width="1.4" stroke-dasharray="1.6,1.4"/>
<line x1="401.2" y1="996.5" x2="394.6" y2="1012.3" stroke="#3ad03a" stroke-width="1.4" stroke-dasharray="1.6,1.4"/>
<line x1="403.8" y1="1004.4" x2="398.5" y2="1022.8" stroke="#3ad03a" stroke-width="1.4" stroke-dasharray="1.6,1.4"/>
<circle cx="407.7" cy="872.4" r="3.8" fill="url(#sW)"/>
<circle cx="422.2" cy="882.4" r="3.8" fill="url(#sW)"/>
<circle cx="411.7" cy="884.2" r="5.0" fill="url(#sR)"/>
<circle cx="404.6" cy="908.7" r="3.8" fill="url(#sW)"/>
<circle cx="400.6" cy="921.0" r="5.0" fill="url(#sR)"/>
<circle cx="415.6" cy="924.9" r="3.8" fill="url(#sW)"/>
<circle cx="398.5" cy="950.6" r="3.8" fill="url(#sW)"/>
<circle cx="386.7" cy="957.1" r="3.8" fill="url(#sW)"/>
<circle cx="398.5" cy="961.1" r="5.0" fill="url(#sR)"/>
<circle cx="405.1" cy="967.6" r="3.8" fill="url(#sW)"/>
<circle cx="384.1" cy="971.6" r="3.8" fill="url(#sW)"/>
<circle cx="411.7" cy="983.4" r="3.8" fill="url(#sW)"/>
<circle cx="410.4" cy="996.0" r="5.0" fill="url(#sR)"/>
<circle cx="376.2" cy="1003.1" r="3.8" fill="url(#sW)"/>
<circle cx="392.0" cy="1012.8" r="3.8" fill="url(#sW)"/>
<circle cx="380.1" cy="1014.4" r="5.0" fill="url(#sR)"/>
</svg>
<line x1="479.2" y1="138.5" x2="479.2" y2="1034" stroke="#a0a0a0" stroke-width="0.8"/>
<line x1="300" y1="314.5" x2="479" y2="314.5" stroke="#000" stroke-width="0.8" opacity="0.6"/>
<line x1="300" y1="494.0" x2="479" y2="494.0" stroke="#000" stroke-width="0.8" opacity="0.6"/>
<line x1="300" y1="673.5" x2="479" y2="673.5" stroke="#000" stroke-width="0.8" opacity="0.6"/>
<line x1="300" y1="853.5" x2="479" y2="853.5" stroke="#000" stroke-width="0.8" opacity="0.6"/>
<rect x="300.0" y="138.5" width="30.0" height="27.0" fill="#fff" stroke="#222" stroke-width="0.8"/>
<text x="312.5" y="154.5" text-anchor="middle" font-family="Liberation Serif" font-weight="bold" font-size="16">g</text>
<rect x="300.0" y="314.5" width="27.0" height="27.0" fill="#fff" stroke="#222" stroke-width="0.8"/>
<text x="312.3" y="333.2" text-anchor="middle" font-family="Liberation Sans" font-weight="bold" font-size="14">h</text>
<rect x="300.0" y="494.0" width="27.0" height="27.0" fill="#fff" stroke="#222" stroke-width="0.8"/>
<text x="312.3" y="512.7" text-anchor="middle" font-family="Liberation Sans" font-weight="bold" font-size="14">i</text>
<rect x="300.0" y="673.5" width="27.0" height="27.0" fill="#fff" stroke="#222" stroke-width="0.8"/>
<text x="312.3" y="692.2" text-anchor="middle" font-family="Liberation Sans" font-weight="bold" font-size="14">j</text>
<rect x="300.0" y="853.5" width="27.0" height="27.0" fill="#fff" stroke="#222" stroke-width="0.8"/>
<text x="312.3" y="872.2" text-anchor="middle" font-family="Liberation Sans" font-weight="bold" font-size="14">k</text>
</svg>
<svg width="685" height="1077" viewBox="0 0 685 1077" style="position:absolute;left:0;top:0">
<defs>
<linearGradient id="cbar" x1="0" y1="0" x2="0" y2="1">
<stop offset="0" stop-color="#ece832"/><stop offset="0.07" stop-color="#efe030"/><stop offset="0.15" stop-color="#f7b530"/>
<stop offset="0.29" stop-color="#f08a48"/><stop offset="0.38" stop-color="#e06a60"/><stop offset="0.5" stop-color="#cf4a78"/>
<stop offset="0.61" stop-color="#b02a98"/><stop offset="0.76" stop-color="#6e0aa2"/><stop offset="0.86" stop-color="#4e1aa0"/><stop offset="1" stop-color="#3a2c92"/>
</linearGradient>
<filter id="lowf" x="0" y="0" width="100%" height="100%">
<feTurbulence type="fractalNoise" baseFrequency="0.07" numOctaves="2" seed="9"/>
<feColorMatrix type="matrix" values="0 0 0 0 0  0 0 0 0 0  0 0 0 0 0  1 0 0 0 0"/>
<feComponentTransfer><feFuncA type="table" tableValues="0 0 0 0 0.02 0.09 0.15 0.16 0.16 0.16"/></feComponentTransfer>
</filter>
<filter id="dm" x="0" y="0" width="100%" height="100%" color-interpolation-filters="sRGB">
<feGaussianBlur in="SourceAlpha" stdDeviation="1.40" result="b"/>
<feColorMatrix in="b" type="matrix" values="0 0 0 1 0  0 0 0 1 0  0 0 0 1 0  0 0 0 0 1" result="D"/>
<feTurbulence type="fractalNoise" baseFrequency="0.80" numOctaves="1" seed="5" result="t1"/>
<feColorMatrix in="t1" type="matrix" values="-1 0 0 0 1  -1 0 0 0 1  -1 0 0 0 1  0 0 0 0 1" result="N"/>
<feColorMatrix in="t1" type="matrix" values="0 1 0 0 0  0 1 0 0 0  0 1 0 0 0  0 0 0 0 1" result="N2"/>
<feComposite in="D" in2="N" operator="arithmetic" k1="0" k2="1" k3="1.00" k4="-0.540" result="T"/>
<feComponentTransfer in="T" result="M"><feFuncR type="discrete" tableValues="0 1"/><feFuncG type="discrete" tableValues="0 1"/><feFuncB type="discrete" tableValues="0 1"/></feComponentTransfer>
<feColorMatrix in="M" type="matrix" values="0 0 0 0 1  0 0 0 0 1  0 0 0 0 1  1 0 0 0 0" result="Ma"/>
<feComposite in="D" in2="N2" operator="arithmetic" k1="0" k2="1" k3="0.20" k4="-0.100" result="Dc"/>
<feComponentTransfer in="Dc" result="C"><feFuncR type="table" tableValues="0.227 0.227 0.227 0.227 0.227 0.227 0.227 0.227 0.227 0.227 0.227 0.227 0.249 0.276 0.303 0.359 0.420 0.498 0.581 0.664 0.727 0.780 0.822 0.849 0.876 0.909 0.941 0.951 0.960 0.966 0.948 0.934 0.925"/><feFuncG type="table" tableValues="0.173 0.173 0.173 0.173 0.173 0.173 0.173 0.173 0.173 0.173 0.173 0.173 0.153 0.129 0.105 0.075 0.045 0.072 0.112 0.152 0.202 0.257 0.310 0.361 0.411 0.476 0.543 0.601 0.659 0.722 0.823 0.888 0.910"/><feFuncB type="table" tableValues="0.573 0.573 0.573 0.573 0.573 0.573 0.573 0.573 0.573 0.573 0.573 0.573 0.588 0.606 0.625 0.631 0.635 0.625 0.613 0.600 0.558 0.503 0.456 0.418 0.380 0.331 0.281 0.249 0.217 0.188 0.188 0.191 0.196"/></feComponentTransfer>
<feComposite in="C" in2="Ma" operator="in"/>
</filter><filter id="dn" x="0" y="0" width="100%" height="100%" color-interpolation-filters="sRGB">
<feGaussianBlur in="SourceAlpha" stdDeviation="1.80" result="b"/>
<feColorMatrix in="b" type="matrix" values="0 0 0 1 0  0 0 0 1 0  0 0 0 1 0  0 0 0 0 1" result="D"/>
<feTurbulence type="fractalNoise" baseFrequency="0.80" numOctaves="1" seed="3" result="t1"/>
<feColorMatrix in="t1" type="matrix" values="-1 0 0 0 1  -1 0 0 0 1  -1 0 0 0 1  0 0 0 0 1" result="N"/>
<feColorMatrix in="t1" type="matrix" values="0 1 0 0 0  0 1 0 0 0  0 1 0 0 0  0 0 0 0 1" result="N2"/>
<feComposite in="D" in2="N" operator="arithmetic" k1="0" k2="1" k3="1.00" k4="-0.540" result="T"/>
<feComponentTransfer in="T" result="M"><feFuncR type="discrete" tableValues="0 1"/><feFuncG type="discrete" tableValues="0 1"/><feFuncB type="discrete" tableValues="0 1"/></feComponentTransfer>
<feColorMatrix in="M" type="matrix" values="0 0 0 0 1  0 0 0 0 1  0 0 0 0 1  1 0 0 0 0" result="Ma"/>
<feComposite in="D" in2="N2" operator="arithmetic" k1="0" k2="1" k3="0.25" k4="-0.125" result="Dc"/>
<feComponentTransfer in="Dc" result="C"><feFuncR type="table" tableValues="0.227 0.227 0.227 0.227 0.227 0.227 0.227 0.227 0.227 0.227 0.227 0.227 0.227 0.227 0.227 0.227 0.227 0.227 0.227 0.227 0.235 0.281 0.353 0.466 0.608 0.728 0.815 0.861 0.914 0.950 0.966 0.942 0.925"/><feFuncG type="table" tableValues="0.173 0.173 0.173 0.173 0.173 0.173 0.173 0.173 0.173 0.173 0.173 0.173 0.173 0.173 0.173 0.173 0.173 0.173 0.173 0.173 0.166 0.124 0.078 0.056 0.125 0.204 0.297 0.383 0.487 0.593 0.692 0.853 0.910"/><feFuncB type="table" tableValues="0.573 0.573 0.573 0.573 0.573 0.573 0.573 0.573 0.573 0.573 0.573 0.573 0.573 0.573 0.573 0.573 0.573 0.573 0.573 0.573 0.578 0.610 0.630 0.630 0.609 0.557 0.465 0.401 0.323 0.253 0.198 0.188 0.196"/></feComponentTransfer>
<feComposite in="C" in2="Ma" operator="in"/>
</filter><filter id="dp" x="0" y="0" width="100%" height="100%" color-interpolation-filters="sRGB">
<feGaussianBlur in="SourceAlpha" stdDeviation="1.00" result="b"/>
<feColorMatrix in="b" type="matrix" values="0 0 0 1 0  0 0 0 1 0  0 0 0 1 0  0 0 0 0 1" result="D"/>
<feTurbulence type="fractalNoise" baseFrequency="0.90" numOctaves="1" seed="7" result="t1"/>
<feColorMatrix in="t1" type="matrix" values="-1 0 0 0 1  -1 0 0 0 1  -1 0 0 0 1  0 0 0 0 1" result="N"/>
<feColorMatrix in="t1" type="matrix" values="0 1 0 0 0  0 1 0 0 0  0 1 0 0 0  0 0 0 0 1" result="N2"/>
<feComposite in="D" in2="N" operator="arithmetic" k1="0" k2="1" k3="1.00" k4="-0.540" result="T"/>
<feComponentTransfer in="T" result="M"><feFuncR type="discrete" tableValues="0 1"/><feFuncG type="discrete" tableValues="0 1"/><feFuncB type="discrete" tableValues="0 1"/></feComponentTransfer>
<feColorMatrix in="M" type="matrix" values="0 0 0 0 1  0 0 0 0 1  0 0 0 0 1  1 0 0 0 0" result="Ma"/>
<feComposite in="D" in2="N2" operator="arithmetic" k1="0" k2="1" k3="0.20" k4="-0.100" result="Dc"/>
<feComponentTransfer in="Dc" result="C"><feFuncR type="table" tableValues="0.227 0.227 0.227 0.227 0.227 0.227 0.227 0.227 0.227 0.227 0.227 0.227 0.227 0.227 0.227 0.227 0.227 0.262 0.297 0.365 0.449 0.556 0.664 0.743 0.812 0.846 0.882 0.925 0.949 0.961 0.959 0.936 0.925"/><feFuncG type="table" tableValues="0.173 0.173 0.173 0.173 0.173 0.173 0.173 0.173 0.173 0.173 0.173 0.173 0.173 0.173 0.173 0.173 0.173 0.141 0.110 0.072 0.048 0.100 0.152 0.219 0.290 0.356 0.423 0.510 0.589 0.665 0.763 0.882 0.910"/><feFuncB type="table" tableValues="0.573 0.573 0.573 0.573 0.573 0.573 0.573 0.573 0.573 0.573 0.573 0.573 0.573 0.573 0.573 0.573 0.573 0.597 0.622 0.631 0.633 0.616 0.600 0.542 0.471 0.422 0.371 0.306 0.255 0.213 0.188 0.189 0.196"/></feComponentTransfer>
<feComposite in="C" in2="Ma" operator="in"/>
</filter></defs>
<text x="515.5" y="157.6" font-family="Liberation Sans" font-weight="bold" font-size="14">l</text>
<text x="568.4" y="158.2" font-family="Liberation Sans" font-size="11.5">H<tspan dy="3" font-size="8">2</tspan><tspan dy="-3">O density</tspan></text>
<rect x="582.5" y="166.3" width="20" height="132" fill="url(#cbar)" stroke="#222" stroke-width="1"/>
<text x="606" y="174.6" font-family="Liberation Sans" font-size="11.5">High</text>
<text x="607.3" y="298.4" font-family="Liberation Sans" font-size="11.5">Low</text>
<svg x="504.5" y="314.5" width="180.5" height="180.0" viewBox="504.5 314.5 180.5 180.0" overflow="hidden">
<rect x="504.5" y="314.5" width="180.5" height="180.0" fill="#ffffff"/>
<mask id="mh" maskUnits="userSpaceOnUse" x="500" y="310" width="190" height="190"><rect x="500" y="310" width="190" height="190" fill="#fff"/>
<rect x="500" y="310" width="190" height="190" fill="#000" filter="url(#lowf)"/>
<path d="M527.1,326.0 L524.4,333.4 L519.6,339.8 L511.6,340.7 L503.9,339.4 L496.9,334.5 L497.4,326.0 L498.7,318.5 L503.6,312.1 L511.6,311.8 L518.8,313.5 L525.9,317.7Z" fill="#c8c8c8"/>
<path d="M595.7,326.0 L594.4,333.8 L588.2,338.5 L581.0,342.5 L573.7,338.7 L567.4,333.8 L564.2,326.0 L567.9,318.4 L572.5,311.3 L581.0,309.8 L588.8,312.4 L594.8,318.1Z" fill="#c8c8c8"/>
<path d="M668.7,327.0 L663.9,334.1 L659.8,341.0 L651.7,342.4 L643.3,341.6 L638.5,334.6 L634.9,327.0 L639.2,319.8 L643.2,312.2 L651.7,311.8 L659.0,314.4 L664.7,319.5Z" fill="#c8c8c8"/>
<path d="M560.9,360.0 L559.5,368.4 L552.7,373.3 L545.0,376.2 L536.6,374.6 L531.5,367.8 L528.8,360.0 L531.0,351.9 L536.7,345.6 L545.0,345.9 L552.2,347.5 L559.8,351.5Z" fill="#c8c8c8"/>
<path d="M634.8,359.0 L630.5,366.2 L625.8,372.6 L618.0,374.4 L609.5,373.7 L604.9,366.6 L602.7,359.0 L604.4,351.1 L610.4,345.9 L618.0,342.2 L626.3,344.6 L632.0,350.9Z" fill="#c8c8c8"/>
<path d="M695.2,359.0 L695.6,367.4 L688.2,371.5 L681.0,375.2 L672.7,373.3 L666.9,367.1 L666.1,359.0 L668.0,351.5 L672.9,345.0 L681.0,342.1 L689.0,345.1 L694.5,351.2Z" fill="#c8c8c8"/>
<path d="M528.5,392.4 L525.2,400.2 L519.3,405.8 L511.6,408.0 L503.4,406.5 L496.9,400.9 L496.3,392.4 L498.9,385.1 L504.0,379.3 L511.6,378.2 L519.6,378.6 L526.3,383.9Z" fill="#c8c8c8"/>
<path d="M593.7,392.4 L593.3,400.3 L586.6,404.5 L579.6,407.9 L571.1,407.1 L566.7,399.8 L562.6,392.4 L565.8,384.4 L571.3,377.9 L579.6,378.4 L587.7,378.3 L593.1,384.6Z" fill="#c8c8c8"/>
<path d="M667.5,395.0 L664.3,402.3 L659.7,408.8 L651.7,411.9 L644.7,407.2 L638.4,402.7 L636.7,395.0 L638.8,387.6 L643.4,380.6 L651.7,378.1 L659.9,380.8 L664.9,387.4Z" fill="#c8c8c8"/>
<path d="M560.9,423.0 L560.9,431.4 L554.7,437.6 L546.3,437.0 L538.0,437.4 L532.3,431.1 L530.2,423.0 L534.2,416.0 L538.0,408.7 L546.3,407.9 L554.5,408.8 L559.8,415.2Z" fill="#c8c8c8"/>
<path d="M631.9,423.0 L630.6,430.9 L624.4,435.8 L617.0,439.5 L609.3,436.3 L604.0,430.5 L600.3,423.0 L602.8,414.8 L608.7,408.6 L617.0,407.0 L624.3,410.4 L630.1,415.4Z" fill="#c8c8c8"/>
<path d="M695.0,423.0 L693.1,430.8 L687.7,437.3 L679.5,437.9 L672.0,435.9 L665.6,431.0 L664.0,423.0 L666.5,415.5 L671.9,409.8 L679.5,408.0 L686.7,410.5 L693.3,415.0Z" fill="#c8c8c8"/>
<path d="M528.4,457.6 L524.1,464.8 L520.1,472.3 L511.6,472.3 L503.9,470.9 L497.1,466.0 L496.5,457.6 L498.2,449.8 L504.4,445.1 L511.6,440.7 L520.1,442.9 L524.1,450.4Z" fill="#c8c8c8"/>
<path d="M593.5,457.6 L591.1,465.0 L586.6,472.1 L578.2,473.1 L571.1,469.9 L564.1,465.7 L564.0,457.6 L565.6,450.3 L571.1,445.3 L578.2,441.7 L586.5,443.3 L591.9,449.7Z" fill="#c8c8c8"/>
<path d="M667.1,459.0 L665.5,467.0 L659.3,472.2 L651.7,475.8 L644.7,471.1 L637.0,467.5 L635.6,459.0 L637.5,450.8 L643.5,444.8 L651.7,444.4 L659.9,444.7 L665.5,451.0Z" fill="#c8c8c8"/>
<path d="M560.2,488.0 L557.9,495.4 L553.3,502.3 L545.0,503.3 L537.2,501.5 L531.4,495.8 L530.0,488.0 L531.2,480.0 L536.6,473.5 L545.0,473.8 L552.8,474.4 L557.8,480.6Z" fill="#c8c8c8"/>
<path d="M629.9,488.0 L628.9,495.6 L623.1,500.7 L615.7,503.3 L608.3,500.8 L601.3,496.3 L600.0,488.0 L601.6,479.9 L607.3,473.4 L615.7,472.5 L623.4,474.7 L628.1,480.8Z" fill="#c8c8c8"/>
<path d="M693.7,488.0 L693.6,496.2 L688.0,502.7 L679.5,503.2 L671.1,502.6 L666.3,495.6 L663.6,488.0 L665.0,479.6 L672.2,475.4 L679.5,473.9 L686.7,475.4 L691.7,481.0Z" fill="#c8c8c8"/>
<path d="M523.3,326.0 L521.8,330.9 L518.0,334.0 L513.8,335.4 L509.3,336.3 L505.3,334.0 L501.3,331.0 L501.8,326.0 L502.2,321.5 L504.9,317.6 L509.0,314.4 L513.9,315.7 L517.7,318.4 L521.8,321.1Z" fill="#000"/>
<path d="M590.3,326.0 L591.5,331.1 L588.1,334.9 L583.2,335.4 L578.7,336.2 L574.6,334.1 L571.1,330.8 L569.5,326.0 L572.8,322.0 L575.4,319.0 L578.4,314.7 L583.3,316.0 L588.1,317.1 L589.0,322.2Z" fill="#000"/>
<path d="M663.7,327.0 L662.5,332.2 L657.3,334.0 L653.7,335.9 L649.1,338.3 L644.7,335.8 L641.7,331.8 L641.8,327.0 L641.9,322.3 L644.9,318.5 L649.3,316.5 L653.8,317.9 L658.1,319.0 L660.8,322.6Z" fill="#000"/>
<path d="M554.6,360.0 L554.6,364.6 L551.3,367.9 L547.4,370.6 L542.6,370.6 L539.4,367.1 L537.0,363.8 L533.4,360.0 L536.3,355.8 L539.0,352.5 L542.3,348.1 L547.3,349.9 L552.3,350.9 L554.4,355.5Z" fill="#000"/>
<path d="M627.6,359.0 L626.3,363.0 L624.3,366.9 L620.1,368.1 L616.0,367.8 L611.7,367.0 L607.3,364.2 L606.5,359.0 L607.7,354.1 L612.0,351.5 L615.6,348.6 L620.2,349.5 L623.9,351.7 L626.3,355.0Z" fill="#000"/>
<path d="M691.9,359.0 L691.2,363.9 L688.2,368.0 L683.7,370.7 L678.5,370.0 L673.6,368.3 L673.0,362.9 L670.6,359.0 L670.2,353.8 L674.1,350.4 L678.4,347.5 L683.0,350.0 L687.5,350.9 L689.7,354.8Z" fill="#000"/>
<path d="M523.1,392.4 L522.0,397.4 L518.1,400.6 L513.8,401.9 L509.6,401.0 L504.7,401.0 L502.2,396.9 L500.2,392.4 L502.5,388.0 L504.5,383.5 L509.4,382.9 L514.2,381.2 L518.6,383.6 L520.8,388.0Z" fill="#000"/>
<path d="M589.5,392.4 L588.0,396.4 L586.5,401.0 L581.6,401.2 L577.2,402.8 L573.3,400.3 L571.5,396.3 L569.1,392.4 L571.5,388.5 L573.2,384.4 L577.6,383.6 L581.6,383.5 L586.0,384.4 L590.0,387.4Z" fill="#000"/>
<path d="M661.3,395.0 L662.6,400.2 L657.5,402.2 L654.2,405.9 L649.7,403.9 L645.7,402.5 L640.7,400.3 L642.2,395.0 L641.8,390.2 L645.2,386.9 L649.4,384.9 L654.0,384.8 L657.6,387.6 L662.2,390.0Z" fill="#000"/>
<path d="M556.7,423.0 L555.4,427.4 L552.1,430.3 L548.9,434.4 L544.3,431.6 L539.7,431.2 L535.6,428.1 L537.2,423.0 L536.7,418.4 L539.5,414.5 L544.3,414.3 L548.5,413.2 L553.3,414.3 L555.6,418.5Z" fill="#000"/>
<path d="M627.7,423.0 L626.2,427.5 L623.7,431.4 L619.1,432.3 L614.4,434.3 L609.8,432.1 L607.1,427.8 L607.6,423.0 L607.5,418.4 L610.8,415.2 L614.9,413.6 L619.7,411.3 L624.6,413.5 L625.1,419.1Z" fill="#000"/>
<path d="M689.8,423.0 L689.1,427.6 L686.9,432.3 L681.8,433.1 L677.2,433.3 L672.8,431.4 L671.0,427.1 L669.0,423.0 L669.6,418.3 L672.3,414.0 L677.5,414.1 L681.7,413.4 L685.2,415.9 L689.9,418.0Z" fill="#000"/>
<path d="M522.0,457.6 L521.5,462.4 L518.5,466.2 L513.7,466.7 L509.6,466.2 L505.3,465.5 L502.8,461.8 L500.1,457.6 L501.6,452.8 L504.8,449.1 L509.2,447.2 L514.1,446.8 L517.4,450.3 L520.9,453.1Z" fill="#000"/>
<path d="M587.9,457.6 L588.2,462.4 L585.1,466.3 L580.8,469.0 L576.1,466.8 L572.2,465.1 L569.8,461.6 L568.6,457.6 L568.0,452.7 L572.4,450.4 L575.8,447.3 L580.3,448.3 L584.3,449.9 L587.5,453.1Z" fill="#000"/>
<path d="M660.9,459.0 L661.8,463.9 L658.6,467.6 L654.4,470.7 L649.5,468.5 L645.7,466.6 L641.5,463.9 L640.7,459.0 L642.8,454.7 L644.8,450.3 L649.4,449.1 L654.2,447.9 L657.4,451.8 L660.3,454.8Z" fill="#000"/>
<path d="M557.1,488.0 L553.0,491.8 L552.0,496.8 L547.1,497.1 L542.3,499.8 L539.5,494.9 L534.4,493.1 L533.9,488.0 L534.5,482.9 L537.4,478.5 L542.9,478.6 L547.2,478.3 L552.0,479.2 L553.8,483.8Z" fill="#000"/>
<path d="M625.7,488.0 L625.1,492.5 L622.1,496.0 L618.0,498.1 L613.4,497.9 L608.8,496.6 L607.0,492.2 L604.7,488.0 L607.7,484.2 L609.6,480.3 L613.5,478.3 L617.8,478.9 L622.8,479.2 L624.6,483.7Z" fill="#000"/>
<path d="M690.1,488.0 L689.9,493.0 L687.0,497.4 L681.7,497.5 L677.0,499.1 L672.5,496.7 L669.6,492.8 L670.3,488.0 L671.5,484.1 L673.2,480.1 L677.0,477.0 L681.7,478.6 L686.1,479.8 L688.4,483.7Z" fill="#000"/>
</mask>
<g filter="url(#dm)"><g mask="url(#mh)">
<rect x="500" y="310" width="190" height="190" fill="#fff" fill-opacity="0.95"/>
</g></g>
<path d="M527.7,326.0 L525.8,332.9 L520.6,337.3 L514.7,339.5 L508.3,340.5 L502.6,337.3 L497.3,332.9 L497.6,326.0 L498.3,319.6 L502.2,314.2 L508.0,310.0 L514.9,311.6 L520.3,315.1 L525.8,319.2Z" fill="none" stroke="#e06a60" stroke-width="2.6" stroke-opacity="0.45"/>
<path d="M525.7,326.0 L524.1,332.0 L519.5,335.9 L514.3,337.7 L508.7,338.6 L503.8,335.8 L499.1,332.0 L499.4,326.0 L500.1,320.4 L503.4,315.7 L508.4,312.0 L514.5,313.4 L519.2,316.5 L524.1,320.0Z" fill="none" stroke="#a82a98" stroke-width="2.6" stroke-opacity="0.65"/>
<path d="M524.0,326.0 L522.5,331.2 L518.4,334.5 L513.9,336.1 L509.1,337.0 L504.8,334.5 L500.7,331.3 L501.1,326.0 L501.6,321.2 L504.4,317.0 L508.8,313.7 L514.1,315.1 L518.1,317.8 L522.5,320.8Z" fill="none" stroke="#3c1898" stroke-width="2.6"/>
<path d="M594.4,326.0 L595.5,333.0 L590.9,338.4 L584.1,339.5 L577.7,340.4 L571.9,337.4 L567.1,332.7 L565.1,326.0 L569.1,320.3 L572.9,315.8 L577.4,310.3 L584.2,311.8 L590.9,313.6 L592.6,320.4Z" fill="none" stroke="#e06a60" stroke-width="2.6" stroke-opacity="0.45"/>
<path d="M592.6,326.0 L593.8,332.1 L589.6,336.8 L583.7,337.7 L578.1,338.6 L573.1,335.9 L568.9,331.8 L567.1,326.0 L570.7,321.0 L574.0,317.2 L577.9,312.2 L583.8,313.7 L589.6,315.2 L591.0,321.2Z" fill="none" stroke="#a82a98" stroke-width="2.6" stroke-opacity="0.65"/>
<path d="M591.0,326.0 L592.1,331.4 L588.5,335.4 L583.3,336.1 L578.5,336.9 L574.1,334.6 L570.5,331.1 L568.8,326.0 L572.1,321.7 L575.0,318.5 L578.3,314.0 L583.4,315.3 L588.5,316.6 L589.6,321.9Z" fill="none" stroke="#3c1898" stroke-width="2.6"/>
<path d="M668.3,327.0 L666.6,334.2 L659.9,337.2 L654.6,339.9 L648.1,342.7 L641.9,339.3 L637.8,333.7 L637.6,327.0 L638.0,320.4 L642.2,315.1 L648.3,312.3 L654.7,313.9 L660.8,315.6 L664.7,320.8Z" fill="none" stroke="#e06a60" stroke-width="2.6" stroke-opacity="0.45"/>
<path d="M666.2,327.0 L664.8,333.3 L658.7,335.8 L654.2,338.1 L648.6,340.8 L643.1,337.8 L639.5,332.9 L639.5,327.0 L639.7,321.2 L643.4,316.6 L648.8,314.1 L654.3,315.6 L659.6,317.1 L663.0,321.6Z" fill="none" stroke="#a82a98" stroke-width="2.6" stroke-opacity="0.65"/>
<path d="M664.4,327.0 L663.1,332.5 L657.8,334.6 L653.9,336.6 L649.0,339.0 L644.2,336.4 L641.1,332.1 L641.1,327.0 L641.3,322.0 L644.5,318.0 L649.1,315.8 L653.9,317.2 L658.5,318.4 L661.5,322.3Z" fill="none" stroke="#3c1898" stroke-width="2.6"/>
<path d="M558.8,360.0 L558.5,366.5 L553.9,371.2 L548.4,374.8 L541.6,374.9 L536.8,370.3 L533.4,365.6 L528.9,360.0 L532.5,354.0 L536.4,349.2 L541.3,343.7 L548.3,345.7 L555.0,347.4 L558.3,353.6Z" fill="none" stroke="#e06a60" stroke-width="2.6" stroke-opacity="0.45"/>
<path d="M557.0,360.0 L556.8,365.7 L552.8,369.7 L548.0,372.9 L542.0,373.0 L537.9,368.9 L535.0,364.8 L530.9,360.0 L534.2,354.8 L537.6,350.7 L541.7,345.7 L547.8,347.5 L553.8,349.0 L556.5,354.4Z" fill="none" stroke="#a82a98" stroke-width="2.6" stroke-opacity="0.65"/>
<path d="M555.3,360.0 L555.2,364.9 L551.7,368.4 L547.6,371.3 L542.4,371.3 L538.9,367.6 L536.4,364.1 L532.7,360.0 L535.6,355.5 L538.6,351.9 L542.1,347.5 L547.5,349.2 L552.7,350.4 L555.0,355.2Z" fill="none" stroke="#3c1898" stroke-width="2.6"/>
<path d="M631.8,359.0 L630.0,364.8 L627.0,370.3 L621.0,372.1 L615.1,371.8 L609.0,370.3 L603.2,366.1 L602.0,359.0 L603.7,352.1 L609.4,348.3 L614.7,344.4 L621.1,345.4 L626.4,348.4 L630.0,353.2Z" fill="none" stroke="#e06a60" stroke-width="2.6" stroke-opacity="0.45"/>
<path d="M629.9,359.0 L628.3,364.0 L625.8,368.8 L620.6,370.4 L615.5,370.1 L610.2,368.8 L605.0,365.3 L604.0,359.0 L605.5,353.0 L610.6,349.7 L615.1,346.3 L620.7,347.2 L625.3,349.8 L628.3,354.0Z" fill="none" stroke="#a82a98" stroke-width="2.6" stroke-opacity="0.65"/>
<path d="M628.3,359.0 L626.9,363.3 L624.8,367.5 L620.2,368.8 L615.8,368.5 L611.2,367.5 L606.6,364.5 L605.8,359.0 L607.1,353.8 L611.6,351.0 L615.5,348.0 L620.3,348.8 L624.3,351.1 L626.9,354.7Z" fill="none" stroke="#3c1898" stroke-width="2.6"/>
<path d="M696.3,359.0 L695.2,365.8 L690.9,371.5 L684.7,375.1 L677.5,374.3 L670.8,371.8 L669.3,364.6 L666.3,359.0 L666.1,351.8 L671.4,347.0 L677.4,343.1 L684.0,346.0 L690.2,347.5 L693.5,353.0Z" fill="none" stroke="#e06a60" stroke-width="2.6" stroke-opacity="0.45"/>
<path d="M694.3,359.0 L693.4,365.0 L689.7,369.9 L684.2,373.1 L677.9,372.4 L672.0,370.3 L670.9,363.9 L668.2,359.0 L667.9,352.7 L672.6,348.5 L677.8,345.0 L683.6,347.8 L689.0,349.0 L691.8,353.8Z" fill="none" stroke="#a82a98" stroke-width="2.6" stroke-opacity="0.65"/>
<path d="M692.6,359.0 L691.8,364.2 L688.6,368.5 L683.8,371.4 L678.3,370.7 L673.1,368.9 L672.3,363.2 L669.9,359.0 L669.6,353.5 L673.7,349.9 L678.2,346.8 L683.2,349.3 L687.9,350.3 L690.3,354.5Z" fill="none" stroke="#3c1898" stroke-width="2.6"/>
<path d="M527.5,392.4 L526.1,399.4 L520.8,403.9 L514.7,405.9 L508.7,405.0 L502.0,404.5 L498.4,398.8 L495.8,392.4 L498.7,386.2 L501.7,380.0 L508.5,378.8 L515.2,376.8 L521.4,380.1 L524.6,386.1Z" fill="none" stroke="#e06a60" stroke-width="2.6" stroke-opacity="0.45"/>
<path d="M525.6,392.4 L524.3,398.5 L519.6,402.4 L514.3,404.1 L509.1,403.2 L503.2,402.9 L500.1,398.0 L497.8,392.4 L500.4,387.0 L502.9,381.6 L508.9,380.6 L514.7,378.8 L520.2,381.7 L522.9,386.9Z" fill="none" stroke="#a82a98" stroke-width="2.6" stroke-opacity="0.65"/>
<path d="M523.8,392.4 L522.7,397.7 L518.6,401.1 L513.9,402.5 L509.5,401.7 L504.3,401.6 L501.6,397.2 L499.5,392.4 L501.9,387.7 L504.1,382.9 L509.3,382.2 L514.3,380.5 L519.1,383.0 L521.4,387.7Z" fill="none" stroke="#3c1898" stroke-width="2.6"/>
<path d="M593.7,392.4 L591.7,398.2 L589.2,404.4 L582.5,405.2 L576.3,407.0 L570.7,403.6 L567.8,398.1 L564.8,392.4 L567.9,386.8 L570.5,381.0 L576.7,379.6 L582.5,379.5 L588.6,381.1 L594.1,385.4Z" fill="none" stroke="#e06a60" stroke-width="2.6" stroke-opacity="0.45"/>
<path d="M591.9,392.4 L590.1,397.4 L588.0,402.9 L582.1,403.5 L576.7,405.1 L571.9,402.1 L569.4,397.3 L566.7,392.4 L569.5,387.5 L571.7,382.5 L577.1,381.3 L582.1,381.3 L587.5,382.5 L592.3,386.3Z" fill="none" stroke="#a82a98" stroke-width="2.6" stroke-opacity="0.65"/>
<path d="M590.2,392.4 L588.6,396.8 L586.9,401.6 L581.8,401.9 L577.1,403.4 L572.9,400.8 L570.8,396.6 L568.4,392.4 L570.9,388.2 L572.8,383.8 L577.4,382.9 L581.8,382.8 L586.4,383.8 L590.7,387.1Z" fill="none" stroke="#3c1898" stroke-width="2.6"/>
<path d="M665.4,395.0 L666.6,402.2 L660.0,405.4 L655.2,410.2 L648.8,407.9 L643.1,405.8 L636.6,402.3 L638.0,395.0 L637.9,388.3 L642.6,383.6 L648.4,380.7 L655.0,380.6 L660.2,384.4 L666.2,388.0Z" fill="none" stroke="#e06a60" stroke-width="2.6" stroke-opacity="0.45"/>
<path d="M663.6,395.0 L664.8,401.3 L658.9,404.0 L654.7,408.3 L649.2,406.1 L644.2,404.4 L638.5,401.4 L639.8,395.0 L639.6,389.2 L643.7,385.0 L648.9,382.6 L654.6,382.4 L659.0,385.8 L664.4,388.9Z" fill="none" stroke="#a82a98" stroke-width="2.6" stroke-opacity="0.65"/>
<path d="M662.0,395.0 L663.2,400.5 L657.9,402.8 L654.3,406.6 L649.5,404.6 L645.2,403.1 L640.1,400.6 L641.5,395.0 L641.2,389.9 L644.8,386.4 L649.2,384.2 L654.2,384.1 L658.0,387.1 L662.8,389.7Z" fill="none" stroke="#3c1898" stroke-width="2.6"/>
<path d="M561.0,423.0 L559.2,429.2 L554.7,433.5 L549.9,438.8 L543.4,435.6 L537.1,434.6 L531.6,430.1 L533.1,423.0 L532.8,416.5 L536.8,411.1 L543.4,410.3 L549.5,409.0 L556.0,410.8 L559.5,416.7Z" fill="none" stroke="#e06a60" stroke-width="2.6" stroke-opacity="0.45"/>
<path d="M559.1,423.0 L557.5,428.4 L553.5,432.1 L549.5,436.9 L543.8,433.8 L538.3,433.1 L533.4,429.2 L534.9,423.0 L534.5,417.3 L538.0,412.6 L543.8,412.0 L549.1,410.8 L554.8,412.3 L557.8,417.5Z" fill="none" stroke="#a82a98" stroke-width="2.6" stroke-opacity="0.65"/>
<path d="M557.4,423.0 L556.0,427.7 L552.5,430.8 L549.1,435.1 L544.2,432.3 L539.3,431.8 L535.0,428.4 L536.5,423.0 L536.0,418.1 L539.1,413.9 L544.2,413.6 L548.7,412.5 L553.7,413.7 L556.2,418.2Z" fill="none" stroke="#3c1898" stroke-width="2.6"/>
<path d="M632.1,423.0 L630.1,429.3 L626.4,434.8 L620.0,436.3 L613.4,438.6 L607.0,435.5 L603.1,429.7 L603.5,423.0 L603.6,416.5 L608.2,411.9 L613.9,409.5 L620.7,406.9 L627.4,409.9 L628.8,417.3Z" fill="none" stroke="#e06a60" stroke-width="2.6" stroke-opacity="0.45"/>
<path d="M630.2,423.0 L628.4,428.5 L625.2,433.3 L619.6,434.5 L613.9,436.7 L608.2,434.0 L604.9,428.8 L605.3,423.0 L605.3,417.4 L609.3,413.4 L614.3,411.3 L620.2,408.8 L626.2,411.5 L627.1,418.1Z" fill="none" stroke="#a82a98" stroke-width="2.6" stroke-opacity="0.65"/>
<path d="M628.4,423.0 L626.9,427.8 L624.1,432.0 L619.3,433.0 L614.3,434.9 L609.3,432.6 L606.4,428.1 L606.9,423.0 L606.8,418.1 L610.4,414.7 L614.7,412.9 L619.8,410.6 L625.0,412.9 L625.7,418.8Z" fill="none" stroke="#3c1898" stroke-width="2.6"/>
<path d="M694.1,423.0 L693.0,429.5 L689.7,435.8 L682.8,437.3 L676.2,437.5 L670.1,434.8 L667.3,428.9 L664.7,423.0 L665.7,416.4 L669.6,410.5 L676.6,410.1 L682.6,409.3 L687.7,412.7 L693.9,416.1Z" fill="none" stroke="#e06a60" stroke-width="2.6" stroke-opacity="0.45"/>
<path d="M692.2,423.0 L691.3,428.7 L688.5,434.3 L682.3,435.5 L676.6,435.6 L671.3,433.3 L668.9,428.1 L666.6,423.0 L667.5,417.2 L670.8,412.1 L677.0,411.9 L682.2,411.1 L686.6,414.1 L692.1,416.9Z" fill="none" stroke="#a82a98" stroke-width="2.6" stroke-opacity="0.65"/>
<path d="M690.5,423.0 L689.8,427.9 L687.4,432.9 L682.0,433.8 L677.0,433.9 L672.3,432.0 L670.4,427.4 L668.3,423.0 L669.0,418.0 L671.9,413.5 L677.3,413.4 L681.8,412.7 L685.6,415.3 L690.5,417.7Z" fill="none" stroke="#3c1898" stroke-width="2.6"/>
<path d="M526.3,457.6 L525.5,464.3 L521.2,469.7 L514.6,470.7 L508.7,470.2 L502.7,468.8 L499.0,463.6 L495.6,457.6 L497.6,450.9 L502.1,445.7 L508.3,443.0 L515.0,442.6 L520.0,447.1 L524.7,451.3Z" fill="none" stroke="#e06a60" stroke-width="2.6" stroke-opacity="0.45"/>
<path d="M524.4,457.6 L523.7,463.4 L520.0,468.2 L514.2,468.9 L509.1,468.5 L503.8,467.3 L500.7,462.8 L497.6,457.6 L499.4,451.7 L503.3,447.2 L508.7,444.8 L514.6,444.5 L518.8,448.5 L523.0,452.1Z" fill="none" stroke="#a82a98" stroke-width="2.6" stroke-opacity="0.65"/>
<path d="M522.7,457.6 L522.2,462.7 L518.9,466.8 L513.8,467.3 L509.5,466.9 L504.9,466.0 L502.2,462.1 L499.4,457.6 L500.9,452.5 L504.4,448.6 L509.1,446.5 L514.2,446.2 L517.8,449.8 L521.5,452.8Z" fill="none" stroke="#3c1898" stroke-width="2.6"/>
<path d="M592.1,457.6 L592.2,464.3 L587.9,469.7 L581.8,473.3 L575.2,470.8 L569.6,468.4 L566.1,463.4 L564.5,457.6 L564.1,450.8 L569.9,447.1 L574.9,443.1 L581.2,444.2 L586.9,446.6 L591.3,451.3Z" fill="none" stroke="#e06a60" stroke-width="2.6" stroke-opacity="0.45"/>
<path d="M590.2,457.6 L590.4,463.5 L586.7,468.2 L581.4,471.4 L575.6,469.1 L570.8,466.9 L567.7,462.6 L566.3,457.6 L565.8,451.6 L571.0,448.6 L575.3,444.9 L580.8,446.0 L585.8,448.1 L589.6,452.1Z" fill="none" stroke="#a82a98" stroke-width="2.6" stroke-opacity="0.65"/>
<path d="M588.6,457.6 L588.9,462.7 L585.6,466.8 L581.0,469.7 L575.9,467.5 L571.8,465.6 L569.2,461.9 L567.9,457.6 L567.4,452.4 L572.0,449.8 L575.7,446.6 L580.5,447.6 L584.8,449.4 L588.1,452.8Z" fill="none" stroke="#3c1898" stroke-width="2.6"/>
<path d="M665.0,459.0 L665.7,465.8 L661.3,471.0 L655.4,475.1 L648.6,472.6 L643.1,469.8 L637.6,465.8 L636.3,459.0 L639.0,452.9 L642.0,446.9 L648.5,445.0 L655.2,443.5 L660.0,448.6 L664.1,453.0Z" fill="none" stroke="#e06a60" stroke-width="2.6" stroke-opacity="0.45"/>
<path d="M663.2,459.0 L664.0,464.9 L660.1,469.5 L654.9,473.1 L649.0,470.8 L644.2,468.4 L639.3,465.0 L638.2,459.0 L640.7,453.7 L643.2,448.4 L648.9,446.8 L654.8,445.4 L658.9,450.0 L662.4,453.8Z" fill="none" stroke="#a82a98" stroke-width="2.6" stroke-opacity="0.65"/>
<path d="M661.6,459.0 L662.4,464.2 L659.0,468.2 L654.5,471.4 L649.4,469.2 L645.2,467.1 L640.9,464.2 L640.0,459.0 L642.2,454.4 L644.3,449.8 L649.3,448.4 L654.4,447.2 L657.9,451.2 L661.0,454.5Z" fill="none" stroke="#3c1898" stroke-width="2.6"/>
<path d="M561.6,488.0 L556.6,493.6 L554.8,500.3 L548.0,501.1 L541.3,504.3 L536.9,498.1 L530.3,495.1 L529.5,488.0 L530.4,481.0 L534.6,474.9 L541.9,474.5 L548.2,474.2 L554.7,475.8 L557.6,481.9Z" fill="none" stroke="#e06a60" stroke-width="2.6" stroke-opacity="0.45"/>
<path d="M559.6,488.0 L555.0,492.8 L553.6,498.8 L547.6,499.4 L541.7,502.3 L538.0,496.7 L532.1,494.2 L531.4,488.0 L532.2,481.8 L535.8,476.5 L542.3,476.3 L547.7,476.0 L553.5,477.3 L555.9,482.7Z" fill="none" stroke="#a82a98" stroke-width="2.6" stroke-opacity="0.65"/>
<path d="M557.8,488.0 L553.6,492.1 L552.5,497.4 L547.2,497.8 L542.1,500.5 L539.0,495.5 L533.8,493.4 L533.2,488.0 L533.8,482.6 L537.0,477.9 L542.7,477.9 L547.4,477.6 L552.4,478.7 L554.4,483.5Z" fill="none" stroke="#3c1898" stroke-width="2.6"/>
<path d="M630.0,488.0 L629.0,494.4 L624.7,499.3 L618.9,502.2 L612.5,502.1 L606.1,500.0 L603.2,494.0 L600.4,488.0 L604.1,482.4 L606.9,477.0 L612.5,474.2 L618.7,474.9 L625.5,475.7 L628.4,481.9Z" fill="none" stroke="#e06a60" stroke-width="2.6" stroke-opacity="0.45"/>
<path d="M628.1,488.0 L627.3,493.6 L623.6,497.9 L618.5,500.4 L612.9,500.3 L607.3,498.5 L604.9,493.2 L602.3,488.0 L605.7,483.2 L608.1,478.5 L613.0,476.0 L618.3,476.7 L624.3,477.2 L626.7,482.7Z" fill="none" stroke="#a82a98" stroke-width="2.6" stroke-opacity="0.65"/>
<path d="M626.4,488.0 L625.7,492.8 L622.5,496.5 L618.2,498.7 L613.3,498.6 L608.4,497.2 L606.3,492.5 L604.0,488.0 L607.1,483.9 L609.1,479.8 L613.3,477.6 L617.9,478.3 L623.2,478.6 L625.2,483.4Z" fill="none" stroke="#3c1898" stroke-width="2.6"/>
<path d="M694.4,488.0 L693.9,494.9 L689.8,501.0 L682.6,501.6 L676.0,503.4 L669.8,500.2 L665.6,494.7 L666.2,488.0 L667.8,482.4 L670.6,476.8 L676.0,472.6 L682.6,474.5 L688.7,476.4 L692.2,481.9Z" fill="none" stroke="#e06a60" stroke-width="2.6" stroke-opacity="0.45"/>
<path d="M692.5,488.0 L692.1,494.1 L688.6,499.4 L682.2,499.8 L676.4,501.5 L671.0,498.7 L667.4,493.9 L668.0,488.0 L669.4,483.1 L671.7,478.2 L676.4,474.6 L682.2,476.3 L687.5,477.9 L690.5,482.7Z" fill="none" stroke="#a82a98" stroke-width="2.6" stroke-opacity="0.65"/>
<path d="M690.8,488.0 L690.5,493.3 L687.4,498.0 L681.8,498.2 L676.8,499.8 L672.1,497.3 L668.9,493.1 L669.6,488.0 L670.8,483.8 L672.8,479.5 L676.8,476.3 L681.8,477.9 L686.5,479.2 L689.0,483.4Z" fill="none" stroke="#3c1898" stroke-width="2.6"/>
<mask id="mlat" maskUnits="userSpaceOnUse" x="500" y="310" width="190" height="190"><rect x="500" y="310" width="190" height="190" fill="#fff"/>
<path d="M524.4,326.0 L522.8,331.4 L518.6,334.8 L514.0,336.3 L509.0,337.3 L504.6,334.7 L500.3,331.4 L500.8,326.0 L501.3,321.0 L504.2,316.8 L508.7,313.3 L514.2,314.8 L518.3,317.6 L522.8,320.6Z" fill="#000"/>
<path d="M591.2,326.0 L592.5,331.5 L588.8,335.7 L583.4,336.3 L578.4,337.2 L573.9,334.8 L570.1,331.2 L568.4,326.0 L572.0,321.7 L574.9,318.4 L578.2,313.6 L583.5,315.0 L588.8,316.3 L589.7,321.8Z" fill="#000"/>
<path d="M664.9,327.0 L663.5,332.7 L657.9,334.7 L653.9,336.7 L648.9,339.4 L644.0,336.7 L640.8,332.3 L640.9,327.0 L641.0,321.8 L644.3,317.7 L649.1,315.5 L654.0,317.0 L658.7,318.2 L661.7,322.2Z" fill="#000"/>
<path d="M555.5,360.0 L555.5,365.1 L551.9,368.6 L547.6,371.6 L542.3,371.7 L538.8,367.7 L536.3,364.2 L532.3,360.0 L535.4,355.4 L538.4,351.8 L542.0,347.0 L547.5,348.9 L552.9,350.0 L555.3,355.0Z" fill="#000"/>
<path d="M628.5,359.0 L627.0,363.4 L624.9,367.7 L620.3,369.0 L615.8,368.7 L611.1,367.7 L606.3,364.7 L605.4,359.0 L606.8,353.6 L611.5,350.8 L615.4,347.7 L620.4,348.6 L624.4,351.0 L627.1,354.6Z" fill="#000"/>
<path d="M693.0,359.0 L692.2,364.4 L688.8,368.8 L683.9,371.8 L678.2,371.1 L672.9,369.2 L672.2,363.2 L669.6,359.0 L669.2,353.3 L673.5,349.6 L678.1,346.4 L683.2,349.2 L688.1,350.1 L690.5,354.4Z" fill="#000"/>
<path d="M524.2,392.4 L523.0,397.9 L518.7,401.3 L514.0,402.8 L509.5,401.8 L504.1,401.9 L501.3,397.3 L499.1,392.4 L501.7,387.6 L503.8,382.6 L509.2,382.0 L514.4,380.1 L519.3,382.7 L521.7,387.5Z" fill="#000"/>
<path d="M590.5,392.4 L588.8,396.8 L587.1,401.8 L581.8,402.1 L577.0,403.7 L572.7,401.0 L570.7,396.7 L568.1,392.4 L570.8,388.1 L572.6,383.6 L577.4,382.7 L581.8,382.7 L586.6,383.6 L591.0,386.9Z" fill="#000"/>
<path d="M662.2,395.0 L663.6,400.7 L658.0,402.9 L654.4,406.9 L649.5,404.7 L645.1,403.3 L639.7,400.8 L641.3,395.0 L640.9,389.8 L644.6,386.1 L649.2,384.0 L654.3,383.8 L658.2,386.9 L663.2,389.5Z" fill="#000"/>
<path d="M557.7,423.0 L556.2,427.8 L552.6,431.0 L549.2,435.5 L544.1,432.4 L539.1,432.0 L534.6,428.6 L536.3,423.0 L535.8,417.9 L538.9,413.7 L544.1,413.4 L548.8,412.2 L553.9,413.4 L556.5,418.1Z" fill="#000"/>
<path d="M628.8,423.0 L627.1,427.9 L624.3,432.2 L619.3,433.2 L614.2,435.3 L609.1,432.9 L606.1,428.2 L606.8,423.0 L606.6,418.0 L610.2,414.5 L614.6,412.7 L619.9,410.2 L625.3,412.6 L625.9,418.7Z" fill="#000"/>
<path d="M690.8,423.0 L690.1,428.1 L687.6,433.2 L682.0,434.1 L676.9,434.2 L672.1,432.2 L670.2,427.5 L668.0,423.0 L668.7,417.8 L671.7,413.2 L677.3,413.2 L681.9,412.5 L685.7,415.2 L690.9,417.5Z" fill="#000"/>
<path d="M523.0,457.6 L522.5,462.8 L519.2,467.1 L513.9,467.5 L509.4,467.1 L504.7,466.2 L502.0,462.2 L499.0,457.6 L500.6,452.3 L504.2,448.3 L509.0,446.2 L514.3,445.8 L518.0,449.6 L521.8,452.7Z" fill="#000"/>
<path d="M588.8,457.6 L589.2,462.9 L585.8,467.1 L581.0,470.1 L575.9,467.7 L571.6,465.8 L569.0,462.0 L567.7,457.6 L567.1,452.2 L571.9,449.7 L575.6,446.3 L580.5,447.4 L584.9,449.2 L588.3,452.7Z" fill="#000"/>
<path d="M661.8,459.0 L662.7,464.3 L659.2,468.4 L654.6,471.8 L649.3,469.4 L645.1,467.3 L640.6,464.4 L639.6,459.0 L642.0,454.3 L644.1,449.5 L649.2,448.2 L654.5,446.8 L658.0,451.1 L661.1,454.5Z" fill="#000"/>
<path d="M558.2,488.0 L553.7,492.2 L552.7,497.7 L547.3,498.0 L542.0,501.0 L538.9,495.6 L533.4,493.6 L532.8,488.0 L533.5,482.4 L536.7,477.6 L542.7,477.7 L547.4,477.4 L552.6,478.4 L554.6,483.4Z" fill="#000"/>
<path d="M626.7,488.0 L626.0,493.0 L622.7,496.8 L618.2,499.0 L613.2,498.9 L608.2,497.4 L606.1,492.6 L603.7,488.0 L607.0,483.8 L609.0,479.6 L613.3,477.4 L618.0,478.1 L623.4,478.3 L625.4,483.3Z" fill="#000"/>
<path d="M691.1,488.0 L690.9,493.5 L687.7,498.3 L681.9,498.5 L676.7,500.2 L671.9,497.6 L668.6,493.2 L669.4,488.0 L670.7,483.8 L672.6,479.3 L676.7,475.9 L681.9,477.7 L686.7,479.0 L689.3,483.3Z" fill="#000"/>
</mask>
<g stroke-width="1.0" opacity="0.6" mask="url(#mlat)"><path d="M260.0 314.5l181 181M260.0 314.5l-181 181" stroke="#9c8c30"/><path d="M262.2 314.5l181 181M262.2 314.5l-181 181" stroke="#b05a3c"/><path d="M285.0 314.5l181 181M285.0 314.5l-181 181" stroke="#9c8c30"/><path d="M287.2 314.5l181 181M287.2 314.5l-181 181" stroke="#b05a3c"/><path d="M310.0 314.5l181 181M310.0 314.5l-181 181" stroke="#9c8c30"/><path d="M312.2 314.5l181 181M312.2 314.5l-181 181" stroke="#b05a3c"/><path d="M335.0 314.5l181 181M335.0 314.5l-181 181" stroke="#9c8c30"/><path d="M337.2 314.5l181 181M337.2 314.5l-181 181" stroke="#b05a3c"/><path d="M360.0 314.5l181 181M360.0 314.5l-181 181" stroke="#9c8c30"/><path d="M362.2 314.5l181 181M362.2 314.5l-181 181" stroke="#b05a3c"/><path d="M385.0 314.5l181 181M385.0 314.5l-181 181" stroke="#9c8c30"/><path d="M387.2 314.5l181 181M387.2 314.5l-181 181" stroke="#b05a3c"/><path d="M410.0 314.5l181 181M410.0 314.5l-181 181" stroke="#9c8c30"/><path d="M412.2 314.5l181 181M412.2 314.5l-181 181" stroke="#b05a3c"/><path d="M435.0 314.5l181 181M435.0 314.5l-181 181" stroke="#9c8c30"/><path d="M437.2 314.5l181 181M437.2 314.5l-181 181" stroke="#b05a3c"/><path d="M460.0 314.5l181 181M460.0 314.5l-181 181" stroke="#9c8c30"/><path d="M462.2 314.5l181 181M462.2 314.5l-181 181" stroke="#b05a3c"/><path d="M485.0 314.5l181 181M485.0 314.5l-181 181" stroke="#9c8c30"/><path d="M487.2 314.5l181 181M487.2 314.5l-181 181" stroke="#b05a3c"/><path d="M510.0 314.5l181 181M510.0 314.5l-181 181" stroke="#9c8c30"/><path d="M512.2 314.5l181 181M512.2 314.5l-181 181" stroke="#b05a3c"/><path d="M535.0 314.5l181 181M535.0 314.5l-181 181" stroke="#9c8c30"/><path d="M537.2 314.5l181 181M537.2 314.5l-181 181" stroke="#b05a3c"/><path d="M560.0 314.5l181 181M560.0 314.5l-181 181" stroke="#9c8c30"/><path d="M562.2 314.5l181 181M562.2 314.5l-181 181" stroke="#b05a3c"/><path d="M585.0 314.5l181 181M585.0 314.5l-181 181" stroke="#9c8c30"/><path d="M587.2 314.5l181 181M587.2 314.5l-181 181" stroke="#b05a3c"/><path d="M610.0 314.5l181 181M610.0 314.5l-181 181" stroke="#9c8c30"/><path d="M612.2 314.5l181 181M612.2 314.5l-181 181" stroke="#b05a3c"/><path d="M635.0 314.5l181 181M635.0 314.5l-181 181" stroke="#9c8c30"/><path d="M637.2 314.5l181 181M637.2 314.5l-181 181" stroke="#b05a3c"/><path d="M660.0 314.5l181 181M660.0 314.5l-181 181" stroke="#9c8c30"/><path d="M662.2 314.5l181 181M662.2 314.5l-181 181" stroke="#b05a3c"/><path d="M685.0 314.5l181 181M685.0 314.5l-181 181" stroke="#9c8c30"/><path d="M687.2 314.5l181 181M687.2 314.5l-181 181" stroke="#b05a3c"/><path d="M710.0 314.5l181 181M710.0 314.5l-181 181" stroke="#9c8c30"/><path d="M712.2 314.5l181 181M712.2 314.5l-181 181" stroke="#b05a3c"/><path d="M735.0 314.5l181 181M735.0 314.5l-181 181" stroke="#9c8c30"/><path d="M737.2 314.5l181 181M737.2 314.5l-181 181" stroke="#b05a3c"/><path d="M760.0 314.5l181 181M760.0 314.5l-181 181" stroke="#9c8c30"/><path d="M762.2 314.5l181 181M762.2 314.5l-181 181" stroke="#b05a3c"/><path d="M785.0 314.5l181 181M785.0 314.5l-181 181" stroke="#9c8c30"/><path d="M787.2 314.5l181 181M787.2 314.5l-181 181" stroke="#b05a3c"/><path d="M810.0 314.5l181 181M810.0 314.5l-181 181" stroke="#9c8c30"/><path d="M812.2 314.5l181 181M812.2 314.5l-181 181" stroke="#b05a3c"/><path d="M835.0 314.5l181 181M835.0 314.5l-181 181" stroke="#9c8c30"/><path d="M837.2 314.5l181 181M837.2 314.5l-181 181" stroke="#b05a3c"/><path d="M860.0 314.5l181 181M860.0 314.5l-181 181" stroke="#9c8c30"/><path d="M862.2 314.5l181 181M862.2 314.5l-181 181" stroke="#b05a3c"/><path d="M885.0 314.5l181 181M885.0 314.5l-181 181" stroke="#9c8c30"/><path d="M887.2 314.5l181 181M887.2 314.5l-181 181" stroke="#b05a3c"/><path d="M910.0 314.5l181 181M910.0 314.5l-181 181" stroke="#9c8c30"/><path d="M912.2 314.5l181 181M912.2 314.5l-181 181" stroke="#b05a3c"/><path d="M935.0 314.5l181 181M935.0 314.5l-181 181" stroke="#9c8c30"/><path d="M937.2 314.5l181 181M937.2 314.5l-181 181" stroke="#b05a3c"/></g>
</svg>
<svg x="504.5" y="494.5" width="180.5" height="180.0" viewBox="504.5 494.5 180.5 180.0" overflow="hidden">
<rect x="504.5" y="494.5" width="180.5" height="180.0" fill="#ffffff"/>
<g filter="url(#dn)">
<g opacity="0.72">
<path d="M504.0,529.7 L519.9,527.0 L537.8,525.2 L538.9,509.9 L540.5,494.0 L578.5,494.0 L575.9,509.9 L574.8,523.1 L583.3,527.0 L615.0,529.7 L630.8,532.3 L650.6,531.0 L653.3,520.4 L652.0,509.9 L655.9,501.9 L661.2,494.0 L685.0,494.0 L685.0,552.7 L648.8,552.7 L648.8,584.9 L615.0,584.9 L616.3,552.7 L583.3,549.0 L556.8,550.8 L537.0,551.6 L535.7,584.9 L504.0,584.9Z" fill="#fff"/>
<path d="M504.0,582.7 L538.3,582.7 L538.3,599.9 L575.3,603.0 L591.2,599.3 L609.7,596.7 L615.0,582.7 L648.0,582.7 L648.0,597.2 L652.0,598.5 L685.0,596.7 L685.0,674.9 L646.7,674.9 L646.1,623.6 L649.8,618.3 L646.1,615.2 L615.0,614.4 L609.7,610.4 L578.0,612.5 L575.3,623.6 L578.5,636.8 L578.5,674.9 L541.0,674.9 L540.5,623.6 L504.0,617.8Z" fill="#fff"/>
<path d="M504.0,663.3 L538.3,663.3 L538.3,674.9 L504.0,674.9Z" fill="#fff"/>
<path d="M564.8,664.6 L652.0,664.6 L652.0,674.9 L564.8,674.9Z" fill="#fff"/>
</g>
<ellipse cx="558.2" cy="504.6" rx="17.0" ry="16.0" fill="#fff" fill-opacity="0.56"/>
<ellipse cx="558.2" cy="504.6" rx="11.0" ry="9.0" fill="#fff" fill-opacity="0.88"/>
<ellipse cx="568.7" cy="514.0" rx="3.0" ry="3.0" fill="#fff" fill-opacity="0.95"/>
<ellipse cx="521.0" cy="540.0" rx="17.0" ry="10.0" fill="#fff" fill-opacity="0.56"/>
<ellipse cx="575.0" cy="540.0" rx="35.0" ry="9.0" fill="#fff" fill-opacity="0.48"/>
<ellipse cx="591.2" cy="535.0" rx="5.0" ry="3.0" fill="#fff" fill-opacity="0.95"/>
<ellipse cx="625.0" cy="541.0" rx="10.0" ry="7.0" fill="#fff" fill-opacity="0.32"/>
<ellipse cx="660.0" cy="539.0" rx="14.0" ry="7.0" fill="#fff" fill-opacity="0.32"/>
<ellipse cx="673.0" cy="507.0" rx="10.0" ry="13.0" fill="#fff" fill-opacity="0.48"/>
<ellipse cx="673.0" cy="507.0" rx="6.0" ry="8.0" fill="#fff" fill-opacity="0.48"/>
<ellipse cx="517.5" cy="574.0" rx="14.0" ry="24.0" fill="#fff" fill-opacity="0.48"/>
<ellipse cx="517.2" cy="574.0" rx="9.0" ry="18.0" fill="#fff" fill-opacity="0.88"/>
<ellipse cx="630.8" cy="573.3" rx="6.0" ry="7.0" fill="#fff" fill-opacity="0.61"/>
<ellipse cx="512.0" cy="587.0" rx="6.0" ry="6.0" fill="#fff" fill-opacity="0.64"/>
<ellipse cx="509.3" cy="601.2" rx="3.0" ry="3.0" fill="#fff" fill-opacity="0.80"/>
<ellipse cx="522.0" cy="610.0" rx="16.0" ry="8.0" fill="#fff" fill-opacity="0.40"/>
<ellipse cx="660.0" cy="614.4" rx="5.0" ry="3.5" fill="#fff" fill-opacity="0.95"/>
<ellipse cx="655.0" cy="612.0" rx="14.0" ry="8.0" fill="#fff" fill-opacity="0.48"/>
<ellipse cx="556.8" cy="645.0" rx="8.0" ry="15.0" fill="#fff" fill-opacity="0.48"/>
<ellipse cx="665.5" cy="645.0" rx="13.0" ry="24.0" fill="#fff" fill-opacity="0.48"/>
<ellipse cx="665.5" cy="645.0" rx="8.0" ry="19.0" fill="#fff" fill-opacity="0.88"/>
</g>
<g opacity="0.59"><path d="M597.1 496.1L628.1 496.1M628.1 496.1L628.1 513.1M628.1 513.1L597.1 513.1M597.1 513.1L597.1 496.1M597.1 496.1L592.1 487.1M633.1 487.1L628.1 496.1M597.1 513.1L592.1 522.1M592.1 522.1L602.6 532.1M602.6 532.1L622.6 532.1M622.6 532.1L633.1 522.1M633.1 522.1L628.1 513.1M562.1 571.1L593.1 571.1M593.1 571.1L593.1 588.1M593.1 588.1L562.1 588.1M562.1 588.1L562.1 571.1M562.1 571.1L557.1 562.1M557.1 562.1L567.6 552.1M567.6 552.1L587.6 552.1M587.6 552.1L598.1 562.1M598.1 562.1L593.1 571.1M562.1 588.1L557.1 597.1M557.1 597.1L567.6 607.1M567.6 607.1L587.6 607.1M587.6 607.1L598.1 597.1M598.1 597.1L593.1 588.1M656.1 571.1L687.1 571.1M687.1 571.1L687.1 588.1M687.1 588.1L656.1 588.1M656.1 588.1L656.1 571.1M656.1 571.1L651.1 562.1M651.1 562.1L661.6 552.1M661.6 552.1L681.6 552.1M681.6 552.1L692.1 562.1M692.1 562.1L687.1 571.1M656.1 588.1L651.1 597.1M651.1 597.1L661.6 607.1M661.6 607.1L681.6 607.1M681.6 607.1L692.1 597.1M692.1 597.1L687.1 588.1M507.1 634.1L538.1 634.1M538.1 634.1L538.1 651.1M538.1 651.1L507.1 651.1M507.1 651.1L507.1 634.1M507.1 634.1L502.1 625.1M502.1 625.1L512.6 615.1M512.6 615.1L532.6 615.1M532.6 615.1L543.1 625.1M543.1 625.1L538.1 634.1M507.1 651.1L502.1 660.1M502.1 660.1L512.6 670.1M512.6 670.1L532.6 670.1M532.6 670.1L543.1 660.1M543.1 660.1L538.1 651.1M597.1 645.1L628.1 645.1M628.1 645.1L628.1 662.1M628.1 662.1L597.1 662.1M597.1 662.1L597.1 645.1M597.1 645.1L592.1 636.1M592.1 636.1L602.6 626.1M602.6 626.1L622.6 626.1M622.6 626.1L633.1 636.1M633.1 636.1L628.1 645.1M597.1 662.1L592.1 671.1M592.1 671.1L602.6 681.1M622.6 681.1L633.1 671.1M633.1 671.1L628.1 662.1M471.1 571.1L502.1 571.1M502.1 571.1L502.1 588.1M502.1 588.1L471.1 588.1M496.6 552.1L507.1 562.1M507.1 562.1L502.1 571.1M496.6 607.1L507.1 597.1M507.1 597.1L502.1 588.1M507.1 496.1L538.1 496.1M538.1 496.1L538.1 513.1M538.1 513.1L507.1 513.1M507.1 513.1L507.1 496.1M507.1 496.1L502.1 487.1M543.1 487.1L538.1 496.1M507.1 513.1L502.1 522.1M502.1 522.1L512.6 532.1M512.6 532.1L532.6 532.1M532.6 532.1L543.1 522.1M543.1 522.1L538.1 513.1M501.6 541.6L510.6 530.6M510.6 530.6L528.6 530.6M528.6 530.6L537.6 541.6M537.6 541.6L528.6 552.6M528.6 552.6L510.6 552.6M510.6 552.6L501.6 541.6M537.6 541.6L546.6 530.6M546.6 530.6L564.6 530.6M564.6 530.6L573.6 541.6M573.6 541.6L564.6 552.6M564.6 552.6L546.6 552.6M546.6 552.6L537.6 541.6M573.6 541.6L582.6 530.6M582.6 530.6L600.6 530.6M600.6 530.6L609.6 541.6M609.6 541.6L600.6 552.6M600.6 552.6L582.6 552.6M582.6 552.6L573.6 541.6M609.6 541.6L618.6 530.6M618.6 530.6L636.6 530.6M636.6 530.6L645.6 541.6M645.6 541.6L636.6 552.6M636.6 552.6L618.6 552.6M618.6 552.6L609.6 541.6M645.6 541.6L654.6 530.6M654.6 530.6L672.6 530.6M672.6 530.6L681.6 541.6M681.6 541.6L672.6 552.6M672.6 552.6L654.6 552.6M654.6 552.6L645.6 541.6M681.6 541.6L690.6 530.6M690.6 552.6L681.6 541.6M503.6 613.6L512.6 602.6M512.6 602.6L530.6 602.6M530.6 602.6L539.6 613.6M539.6 613.6L530.6 624.6M530.6 624.6L512.6 624.6M512.6 624.6L503.6 613.6M539.6 613.6L548.6 602.6M548.6 602.6L566.6 602.6M566.6 602.6L575.6 613.6M575.6 613.6L566.6 624.6M566.6 624.6L548.6 624.6M548.6 624.6L539.6 613.6M575.6 613.6L584.6 602.6M584.6 602.6L602.6 602.6M602.6 602.6L611.6 613.6M611.6 613.6L602.6 624.6M602.6 624.6L584.6 624.6M584.6 624.6L575.6 613.6M611.6 613.6L620.6 602.6M620.6 602.6L638.6 602.6M638.6 602.6L647.6 613.6M647.6 613.6L638.6 624.6M638.6 624.6L620.6 624.6M620.6 624.6L611.6 613.6M647.6 613.6L656.6 602.6M656.6 602.6L674.6 602.6M674.6 602.6L683.6 613.6M683.6 613.6L674.6 624.6M674.6 624.6L656.6 624.6M656.6 624.6L647.6 613.6M683.6 613.6L692.6 602.6M692.6 624.6L683.6 613.6" stroke="#e6da80" stroke-width="1.4" stroke-linecap="round" fill="none"/><path d="M602.1 496.1L623.1 496.1M628.1 498.8L628.1 510.4M623.1 513.1L602.1 513.1M597.1 510.4L597.1 498.8M596.3 494.7L592.9 488.5M632.3 488.5L628.9 494.7M596.3 514.5L592.9 520.7M593.8 523.7L600.9 530.5M605.8 532.1L619.4 532.1M624.3 530.5L631.4 523.7M632.3 520.7L628.9 514.5M567.1 571.1L588.1 571.1M593.1 573.8L593.1 585.4M588.1 588.1L567.1 588.1M562.1 585.4L562.1 573.8M561.3 569.7L557.9 563.5M558.8 560.5L565.9 553.7M570.8 552.1L584.4 552.1M589.3 553.7L596.4 560.5M597.3 563.5L593.9 569.7M561.3 589.5L557.9 595.7M558.8 598.7L565.9 605.5M570.8 607.1L584.4 607.1M589.3 605.5L596.4 598.7M597.3 595.7L593.9 589.5M661.1 571.1L682.1 571.1M687.1 573.8L687.1 585.4M682.1 588.1L661.1 588.1M656.1 585.4L656.1 573.8M655.3 569.7L651.9 563.5M652.8 560.5L659.9 553.7M664.8 552.1L678.4 552.1M683.3 553.7L690.4 560.5M691.3 563.5L687.9 569.7M655.3 589.5L651.9 595.7M652.8 598.7L659.9 605.5M664.8 607.1L678.4 607.1M683.3 605.5L690.4 598.7M691.3 595.7L687.9 589.5M512.1 634.1L533.1 634.1M538.1 636.8L538.1 648.4M533.1 651.1L512.1 651.1M507.1 648.4L507.1 636.8M506.3 632.7L502.9 626.5M503.8 623.5L510.9 616.7M515.8 615.1L529.4 615.1M534.3 616.7L541.4 623.5M542.3 626.5L538.9 632.7M506.3 652.5L502.9 658.7M503.8 661.7L510.9 668.5M515.8 670.1L529.4 670.1M534.3 668.5L541.4 661.7M542.3 658.7L538.9 652.5M602.1 645.1L623.1 645.1M628.1 647.8L628.1 659.4M623.1 662.1L602.1 662.1M597.1 659.4L597.1 647.8M596.3 643.7L592.9 637.5M593.8 634.5L600.9 627.7M605.8 626.1L619.4 626.1M624.3 627.7L631.4 634.5M632.3 637.5L628.9 643.7M596.3 663.5L592.9 669.7M593.8 672.7L600.9 679.5M624.3 679.5L631.4 672.7M632.3 669.7L628.9 663.5M476.1 571.1L497.1 571.1M502.1 573.8L502.1 585.4M497.1 588.1L476.1 588.1M498.3 553.7L505.4 560.5M506.3 563.5L502.9 569.7M498.3 605.5L505.4 598.7M506.3 595.7L502.9 589.5M512.1 496.1L533.1 496.1M538.1 498.8L538.1 510.4M533.1 513.1L512.1 513.1M507.1 510.4L507.1 498.8M506.3 494.7L502.9 488.5M542.3 488.5L538.9 494.7M506.3 514.5L502.9 520.7M503.8 523.7L510.9 530.5M515.8 532.1L529.4 532.1M534.3 530.5L541.4 523.7M542.3 520.7L538.9 514.5M503.0 539.8L509.2 532.4M513.5 530.6L525.7 530.6M530.0 532.4L536.2 539.8M536.2 543.4L530.0 550.8M525.7 552.6L513.5 552.6M509.2 550.8L503.0 543.4M539.0 539.8L545.2 532.4M549.5 530.6L561.7 530.6M566.0 532.4L572.2 539.8M572.2 543.4L566.0 550.8M561.7 552.6L549.5 552.6M545.2 550.8L539.0 543.4M575.0 539.8L581.2 532.4M585.5 530.6L597.7 530.6M602.0 532.4L608.2 539.8M608.2 543.4L602.0 550.8M597.7 552.6L585.5 552.6M581.2 550.8L575.0 543.4M611.0 539.8L617.2 532.4M621.5 530.6L633.7 530.6M638.0 532.4L644.2 539.8M644.2 543.4L638.0 550.8M633.7 552.6L621.5 552.6M617.2 550.8L611.0 543.4M647.0 539.8L653.2 532.4M657.5 530.6L669.7 530.6M674.0 532.4L680.2 539.8M680.2 543.4L674.0 550.8M669.7 552.6L657.5 552.6M653.2 550.8L647.0 543.4M683.0 539.8L689.2 532.4M689.2 550.8L683.0 543.4M505.0 611.8L511.2 604.4M515.5 602.6L527.7 602.6M532.0 604.4L538.2 611.8M538.2 615.4L532.0 622.8M527.7 624.6L515.5 624.6M511.2 622.8L505.0 615.4M541.0 611.8L547.2 604.4M551.5 602.6L563.7 602.6M568.0 604.4L574.2 611.8M574.2 615.4L568.0 622.8M563.7 624.6L551.5 624.6M547.2 622.8L541.0 615.4M577.0 611.8L583.2 604.4M587.5 602.6L599.7 602.6M604.0 604.4L610.2 611.8M610.2 615.4L604.0 622.8M599.7 624.6L587.5 624.6M583.2 622.8L577.0 615.4M613.0 611.8L619.2 604.4M623.5 602.6L635.7 602.6M640.0 604.4L646.2 611.8M646.2 615.4L640.0 622.8M635.7 624.6L623.5 624.6M619.2 622.8L613.0 615.4M649.0 611.8L655.2 604.4M659.5 602.6L671.7 602.6M676.0 604.4L682.2 611.8M682.2 615.4L676.0 622.8M671.7 624.6L659.5 624.6M655.2 622.8L649.0 615.4M685.0 611.8L691.2 604.4M691.2 622.8L685.0 615.4" stroke="#dc6a6a" stroke-width="1.4" fill="none"/></g>
<g opacity="0.85"><path d="M595.5 494.5L626.5 494.5M626.5 494.5L626.5 511.5M626.5 511.5L595.5 511.5M595.5 511.5L595.5 494.5M595.5 494.5L590.5 485.5M631.5 485.5L626.5 494.5M595.5 511.5L590.5 520.5M590.5 520.5L601.0 530.5M601.0 530.5L621.0 530.5M621.0 530.5L631.5 520.5M631.5 520.5L626.5 511.5M560.5 569.5L591.5 569.5M591.5 569.5L591.5 586.5M591.5 586.5L560.5 586.5M560.5 586.5L560.5 569.5M560.5 569.5L555.5 560.5M555.5 560.5L566.0 550.5M566.0 550.5L586.0 550.5M586.0 550.5L596.5 560.5M596.5 560.5L591.5 569.5M560.5 586.5L555.5 595.5M555.5 595.5L566.0 605.5M566.0 605.5L586.0 605.5M586.0 605.5L596.5 595.5M596.5 595.5L591.5 586.5M654.5 569.5L685.5 569.5M685.5 569.5L685.5 586.5M685.5 586.5L654.5 586.5M654.5 586.5L654.5 569.5M654.5 569.5L649.5 560.5M649.5 560.5L660.0 550.5M660.0 550.5L680.0 550.5M680.0 550.5L690.5 560.5M690.5 560.5L685.5 569.5M654.5 586.5L649.5 595.5M649.5 595.5L660.0 605.5M660.0 605.5L680.0 605.5M680.0 605.5L690.5 595.5M690.5 595.5L685.5 586.5M505.5 632.5L536.5 632.5M536.5 632.5L536.5 649.5M536.5 649.5L505.5 649.5M505.5 649.5L505.5 632.5M505.5 632.5L500.5 623.5M500.5 623.5L511.0 613.5M511.0 613.5L531.0 613.5M531.0 613.5L541.5 623.5M541.5 623.5L536.5 632.5M505.5 649.5L500.5 658.5M500.5 658.5L511.0 668.5M511.0 668.5L531.0 668.5M531.0 668.5L541.5 658.5M541.5 658.5L536.5 649.5M595.5 643.5L626.5 643.5M626.5 643.5L626.5 660.5M626.5 660.5L595.5 660.5M595.5 660.5L595.5 643.5M595.5 643.5L590.5 634.5M590.5 634.5L601.0 624.5M601.0 624.5L621.0 624.5M621.0 624.5L631.5 634.5M631.5 634.5L626.5 643.5M595.5 660.5L590.5 669.5M590.5 669.5L601.0 679.5M601.0 679.5L621.0 679.5M621.0 679.5L631.5 669.5M631.5 669.5L626.5 660.5M469.5 569.5L500.5 569.5M500.5 569.5L500.5 586.5M500.5 586.5L469.5 586.5M495.0 550.5L505.5 560.5M505.5 560.5L500.5 569.5M495.0 605.5L505.5 595.5M505.5 595.5L500.5 586.5M505.5 494.5L536.5 494.5M536.5 494.5L536.5 511.5M536.5 511.5L505.5 511.5M505.5 511.5L505.5 494.5M505.5 494.5L500.5 485.5M541.5 485.5L536.5 494.5M505.5 511.5L500.5 520.5M500.5 520.5L511.0 530.5M511.0 530.5L531.0 530.5M531.0 530.5L541.5 520.5M541.5 520.5L536.5 511.5M500.0 540.0L509.0 529.0M509.0 529.0L527.0 529.0M527.0 529.0L536.0 540.0M536.0 540.0L527.0 551.0M527.0 551.0L509.0 551.0M509.0 551.0L500.0 540.0M536.0 540.0L545.0 529.0M545.0 529.0L563.0 529.0M563.0 529.0L572.0 540.0M572.0 540.0L563.0 551.0M563.0 551.0L545.0 551.0M545.0 551.0L536.0 540.0M572.0 540.0L581.0 529.0M581.0 529.0L599.0 529.0M599.0 529.0L608.0 540.0M608.0 540.0L599.0 551.0M599.0 551.0L581.0 551.0M581.0 551.0L572.0 540.0M608.0 540.0L617.0 529.0M617.0 529.0L635.0 529.0M635.0 529.0L644.0 540.0M644.0 540.0L635.0 551.0M635.0 551.0L617.0 551.0M617.0 551.0L608.0 540.0M644.0 540.0L653.0 529.0M653.0 529.0L671.0 529.0M671.0 529.0L680.0 540.0M680.0 540.0L671.0 551.0M671.0 551.0L653.0 551.0M653.0 551.0L644.0 540.0M680.0 540.0L689.0 529.0M689.0 529.0L707.0 529.0M707.0 551.0L689.0 551.0M689.0 551.0L680.0 540.0M502.0 612.0L511.0 601.0M511.0 601.0L529.0 601.0M529.0 601.0L538.0 612.0M538.0 612.0L529.0 623.0M529.0 623.0L511.0 623.0M511.0 623.0L502.0 612.0M538.0 612.0L547.0 601.0M547.0 601.0L565.0 601.0M565.0 601.0L574.0 612.0M574.0 612.0L565.0 623.0M565.0 623.0L547.0 623.0M547.0 623.0L538.0 612.0M574.0 612.0L583.0 601.0M583.0 601.0L601.0 601.0M601.0 601.0L610.0 612.0M610.0 612.0L601.0 623.0M601.0 623.0L583.0 623.0M583.0 623.0L574.0 612.0M610.0 612.0L619.0 601.0M619.0 601.0L637.0 601.0M637.0 601.0L646.0 612.0M646.0 612.0L637.0 623.0M637.0 623.0L619.0 623.0M619.0 623.0L610.0 612.0M646.0 612.0L655.0 601.0M655.0 601.0L673.0 601.0M673.0 601.0L682.0 612.0M682.0 612.0L673.0 623.0M673.0 623.0L655.0 623.0M655.0 623.0L646.0 612.0M682.0 612.0L691.0 601.0M691.0 623.0L682.0 612.0" stroke="#e6da80" stroke-width="1.4" stroke-linecap="round" fill="none"/><path d="M600.5 494.5L621.5 494.5M626.5 497.2L626.5 508.8M621.5 511.5L600.5 511.5M595.5 508.8L595.5 497.2M594.7 493.1L591.3 486.9M630.7 486.9L627.3 493.1M594.7 512.9L591.3 519.1M592.2 522.1L599.3 528.9M604.2 530.5L617.8 530.5M622.7 528.9L629.8 522.1M630.7 519.1L627.3 512.9M565.5 569.5L586.5 569.5M591.5 572.2L591.5 583.8M586.5 586.5L565.5 586.5M560.5 583.8L560.5 572.2M559.7 568.1L556.3 561.9M557.2 558.9L564.3 552.1M569.2 550.5L582.8 550.5M587.7 552.1L594.8 558.9M595.7 561.9L592.3 568.1M559.7 587.9L556.3 594.1M557.2 597.1L564.3 603.9M569.2 605.5L582.8 605.5M587.7 603.9L594.8 597.1M595.7 594.1L592.3 587.9M659.5 569.5L680.5 569.5M685.5 572.2L685.5 583.8M680.5 586.5L659.5 586.5M654.5 583.8L654.5 572.2M653.7 568.1L650.3 561.9M651.2 558.9L658.3 552.1M663.2 550.5L676.8 550.5M681.7 552.1L688.8 558.9M689.7 561.9L686.3 568.1M653.7 587.9L650.3 594.1M651.2 597.1L658.3 603.9M663.2 605.5L676.8 605.5M681.7 603.9L688.8 597.1M689.7 594.1L686.3 587.9M510.5 632.5L531.5 632.5M536.5 635.2L536.5 646.8M531.5 649.5L510.5 649.5M505.5 646.8L505.5 635.2M504.7 631.1L501.3 624.9M502.2 621.9L509.3 615.1M514.2 613.5L527.8 613.5M532.7 615.1L539.8 621.9M540.7 624.9L537.3 631.1M504.7 650.9L501.3 657.1M502.2 660.1L509.3 666.9M514.2 668.5L527.8 668.5M532.7 666.9L539.8 660.1M540.7 657.1L537.3 650.9M600.5 643.5L621.5 643.5M626.5 646.2L626.5 657.8M621.5 660.5L600.5 660.5M595.5 657.8L595.5 646.2M594.7 642.1L591.3 635.9M592.2 632.9L599.3 626.1M604.2 624.5L617.8 624.5M622.7 626.1L629.8 632.9M630.7 635.9L627.3 642.1M594.7 661.9L591.3 668.1M592.2 671.1L599.3 677.9M604.2 679.5L617.8 679.5M622.7 677.9L629.8 671.1M630.7 668.1L627.3 661.9M474.5 569.5L495.5 569.5M500.5 572.2L500.5 583.8M495.5 586.5L474.5 586.5M496.7 552.1L503.8 558.9M504.7 561.9L501.3 568.1M496.7 603.9L503.8 597.1M504.7 594.1L501.3 587.9M510.5 494.5L531.5 494.5M536.5 497.2L536.5 508.8M531.5 511.5L510.5 511.5M505.5 508.8L505.5 497.2M504.7 493.1L501.3 486.9M540.7 486.9L537.3 493.1M504.7 512.9L501.3 519.1M502.2 522.1L509.3 528.9M514.2 530.5L527.8 530.5M532.7 528.9L539.8 522.1M540.7 519.1L537.3 512.9M501.4 538.2L507.6 530.8M511.9 529.0L524.1 529.0M528.4 530.8L534.6 538.2M534.6 541.8L528.4 549.2M524.1 551.0L511.9 551.0M507.6 549.2L501.4 541.8M537.4 538.2L543.6 530.8M547.9 529.0L560.1 529.0M564.4 530.8L570.6 538.2M570.6 541.8L564.4 549.2M560.1 551.0L547.9 551.0M543.6 549.2L537.4 541.8M573.4 538.2L579.6 530.8M583.9 529.0L596.1 529.0M600.4 530.8L606.6 538.2M606.6 541.8L600.4 549.2M596.1 551.0L583.9 551.0M579.6 549.2L573.4 541.8M609.4 538.2L615.6 530.8M619.9 529.0L632.1 529.0M636.4 530.8L642.6 538.2M642.6 541.8L636.4 549.2M632.1 551.0L619.9 551.0M615.6 549.2L609.4 541.8M645.4 538.2L651.6 530.8M655.9 529.0L668.1 529.0M672.4 530.8L678.6 538.2M678.6 541.8L672.4 549.2M668.1 551.0L655.9 551.0M651.6 549.2L645.4 541.8M681.4 538.2L687.6 530.8M691.9 529.0L704.1 529.0M704.1 551.0L691.9 551.0M687.6 549.2L681.4 541.8M503.4 610.2L509.6 602.8M513.9 601.0L526.1 601.0M530.4 602.8L536.6 610.2M536.6 613.8L530.4 621.2M526.1 623.0L513.9 623.0M509.6 621.2L503.4 613.8M539.4 610.2L545.6 602.8M549.9 601.0L562.1 601.0M566.4 602.8L572.6 610.2M572.6 613.8L566.4 621.2M562.1 623.0L549.9 623.0M545.6 621.2L539.4 613.8M575.4 610.2L581.6 602.8M585.9 601.0L598.1 601.0M602.4 602.8L608.6 610.2M608.6 613.8L602.4 621.2M598.1 623.0L585.9 623.0M581.6 621.2L575.4 613.8M611.4 610.2L617.6 602.8M621.9 601.0L634.1 601.0M638.4 602.8L644.6 610.2M644.6 613.8L638.4 621.2M634.1 623.0L621.9 623.0M617.6 621.2L611.4 613.8M647.4 610.2L653.6 602.8M657.9 601.0L670.1 601.0M674.4 602.8L680.6 610.2M680.6 613.8L674.4 621.2M670.1 623.0L657.9 623.0M653.6 621.2L647.4 613.8M683.4 610.2L689.6 602.8M689.6 621.2L683.4 613.8" stroke="#dc6a6a" stroke-width="1.4" fill="none"/></g>
</svg>
<svg x="504.5" y="674.5" width="180.5" height="180.0" viewBox="504.5 674.5 180.5 180.0" overflow="hidden">
<rect x="504.5" y="674.5" width="180.5" height="180.0" fill="#ffffff"/>
<g opacity="0.56"><path d="M521.1 681.6L511.4 697.6M511.4 697.6L491.9 697.6M511.4 665.6L521.1 681.6M521.1 715.4L511.4 731.4M511.4 731.4L491.9 731.4M491.9 699.3L511.4 699.3M511.4 699.3L521.1 715.4M521.1 749.1L511.4 765.2M511.4 765.2L491.9 765.2M491.9 733.1L511.4 733.1M511.4 733.1L521.1 749.1M521.1 782.9L511.4 799.0M511.4 799.0L491.9 799.0M491.9 766.9L511.4 766.9M511.4 766.9L521.1 782.9M521.1 816.7L511.4 832.7M511.4 832.7L491.9 832.7M491.9 800.7L511.4 800.7M511.4 800.7L521.1 816.7M521.1 850.5L511.4 866.5M491.9 834.4L511.4 834.4M511.4 834.4L521.1 850.5M550.4 664.7L540.6 680.8M540.6 680.8L521.1 680.8M521.1 680.8L511.4 664.7M550.4 698.5L540.6 714.5M540.6 714.5L521.1 714.5M521.1 714.5L511.4 698.5M511.4 698.5L521.1 682.4M521.1 682.4L540.6 682.4M540.6 682.4L550.4 698.5M550.4 732.3L540.6 748.3M540.6 748.3L521.1 748.3M521.1 748.3L511.4 732.3M511.4 732.3L521.1 716.2M521.1 716.2L540.6 716.2M540.6 716.2L550.4 732.3M550.4 766.0L540.6 782.1M540.6 782.1L521.1 782.1M521.1 782.1L511.4 766.0M511.4 766.0L521.1 750.0M521.1 750.0L540.6 750.0M540.6 750.0L550.4 766.0M550.4 799.8L540.6 815.9M540.6 815.9L521.1 815.9M521.1 815.9L511.4 799.8M511.4 799.8L521.1 783.8M521.1 783.8L540.6 783.8M540.6 783.8L550.4 799.8M550.4 833.6L540.6 849.6M540.6 849.6L521.1 849.6M521.1 849.6L511.4 833.6M511.4 833.6L521.1 817.5M521.1 817.5L540.6 817.5M540.6 817.5L550.4 833.6M511.4 867.4L521.1 851.3M521.1 851.3L540.6 851.3M540.6 851.3L550.4 867.4M579.6 681.6L569.9 697.6M569.9 697.6L550.4 697.6M550.4 697.6L540.6 681.6M540.6 681.6L550.4 665.6M569.9 665.6L579.6 681.6M579.6 715.4L569.9 731.4M569.9 731.4L550.4 731.4M550.4 731.4L540.6 715.4M540.6 715.4L550.4 699.3M550.4 699.3L569.9 699.3M569.9 699.3L579.6 715.4M579.6 749.1L569.9 765.2M569.9 765.2L550.4 765.2M550.4 765.2L540.6 749.1M540.6 749.1L550.4 733.1M550.4 733.1L569.9 733.1M569.9 733.1L579.6 749.1M579.6 782.9L569.9 799.0M569.9 799.0L550.4 799.0M550.4 799.0L540.6 782.9M540.6 782.9L550.4 766.9M550.4 766.9L569.9 766.9M569.9 766.9L579.6 782.9M579.6 816.7L569.9 832.7M569.9 832.7L550.4 832.7M550.4 832.7L540.6 816.7M540.6 816.7L550.4 800.7M550.4 800.7L569.9 800.7M569.9 800.7L579.6 816.7M579.6 850.5L569.9 866.5M550.4 866.5L540.6 850.5M540.6 850.5L550.4 834.4M550.4 834.4L569.9 834.4M569.9 834.4L579.6 850.5M608.9 664.7L599.1 680.8M599.1 680.8L579.6 680.8M579.6 680.8L569.9 664.7M608.9 698.5L599.1 714.5M599.1 714.5L579.6 714.5M579.6 714.5L569.9 698.5M569.9 698.5L579.6 682.4M579.6 682.4L599.1 682.4M599.1 682.4L608.9 698.5M608.9 732.3L599.1 748.3M599.1 748.3L579.6 748.3M579.6 748.3L569.9 732.3M569.9 732.3L579.6 716.2M579.6 716.2L599.1 716.2M599.1 716.2L608.9 732.3M608.9 766.0L599.1 782.1M599.1 782.1L579.6 782.1M579.6 782.1L569.9 766.0M569.9 766.0L579.6 750.0M579.6 750.0L599.1 750.0M599.1 750.0L608.9 766.0M608.9 799.8L599.1 815.9M599.1 815.9L579.6 815.9M579.6 815.9L569.9 799.8M569.9 799.8L579.6 783.8M579.6 783.8L599.1 783.8M599.1 783.8L608.9 799.8M608.9 833.6L599.1 849.6M599.1 849.6L579.6 849.6M579.6 849.6L569.9 833.6M569.9 833.6L579.6 817.5M579.6 817.5L599.1 817.5M599.1 817.5L608.9 833.6M569.9 867.4L579.6 851.3M579.6 851.3L599.1 851.3M599.1 851.3L608.9 867.4M638.1 681.6L628.4 697.6M628.4 697.6L608.9 697.6M608.9 697.6L599.1 681.6M599.1 681.6L608.9 665.6M628.4 665.6L638.1 681.6M638.1 715.4L628.4 731.4M628.4 731.4L608.9 731.4M608.9 731.4L599.1 715.4M599.1 715.4L608.9 699.3M608.9 699.3L628.4 699.3M628.4 699.3L638.1 715.4M638.1 749.1L628.4 765.2M628.4 765.2L608.9 765.2M608.9 765.2L599.1 749.1M599.1 749.1L608.9 733.1M608.9 733.1L628.4 733.1M628.4 733.1L638.1 749.1M638.1 782.9L628.4 799.0M628.4 799.0L608.9 799.0M608.9 799.0L599.1 782.9M599.1 782.9L608.9 766.9M608.9 766.9L628.4 766.9M628.4 766.9L638.1 782.9M638.1 816.7L628.4 832.7M628.4 832.7L608.9 832.7M608.9 832.7L599.1 816.7M599.1 816.7L608.9 800.7M608.9 800.7L628.4 800.7M628.4 800.7L638.1 816.7M638.1 850.5L628.4 866.5M608.9 866.5L599.1 850.5M599.1 850.5L608.9 834.4M608.9 834.4L628.4 834.4M628.4 834.4L638.1 850.5M667.4 664.7L657.6 680.8M657.6 680.8L638.1 680.8M638.1 680.8L628.4 664.7M667.4 698.5L657.6 714.5M657.6 714.5L638.1 714.5M638.1 714.5L628.4 698.5M628.4 698.5L638.1 682.4M638.1 682.4L657.6 682.4M657.6 682.4L667.4 698.5M667.4 732.3L657.6 748.3M657.6 748.3L638.1 748.3M638.1 748.3L628.4 732.3M628.4 732.3L638.1 716.2M638.1 716.2L657.6 716.2M657.6 716.2L667.4 732.3M667.4 766.0L657.6 782.1M657.6 782.1L638.1 782.1M638.1 782.1L628.4 766.0M628.4 766.0L638.1 750.0M638.1 750.0L657.6 750.0M657.6 750.0L667.4 766.0M667.4 799.8L657.6 815.9M657.6 815.9L638.1 815.9M638.1 815.9L628.4 799.8M628.4 799.8L638.1 783.8M638.1 783.8L657.6 783.8M657.6 783.8L667.4 799.8M667.4 833.6L657.6 849.6M657.6 849.6L638.1 849.6M638.1 849.6L628.4 833.6M628.4 833.6L638.1 817.5M638.1 817.5L657.6 817.5M657.6 817.5L667.4 833.6M628.4 867.4L638.1 851.3M638.1 851.3L657.6 851.3M657.6 851.3L667.4 867.4M696.6 681.6L686.9 697.6M686.9 697.6L667.4 697.6M667.4 697.6L657.6 681.6M657.6 681.6L667.4 665.6M686.9 665.6L696.6 681.6M696.6 715.4L686.9 731.4M686.9 731.4L667.4 731.4M667.4 731.4L657.6 715.4M657.6 715.4L667.4 699.3M667.4 699.3L686.9 699.3M686.9 699.3L696.6 715.4M696.6 749.1L686.9 765.2M686.9 765.2L667.4 765.2M667.4 765.2L657.6 749.1M657.6 749.1L667.4 733.1M667.4 733.1L686.9 733.1M686.9 733.1L696.6 749.1M696.6 782.9L686.9 799.0M686.9 799.0L667.4 799.0M667.4 799.0L657.6 782.9M657.6 782.9L667.4 766.9M667.4 766.9L686.9 766.9M686.9 766.9L696.6 782.9M696.6 816.7L686.9 832.7M686.9 832.7L667.4 832.7M667.4 832.7L657.6 816.7M657.6 816.7L667.4 800.7M667.4 800.7L686.9 800.7M686.9 800.7L696.6 816.7M696.6 850.5L686.9 866.5M667.4 866.5L657.6 850.5M657.6 850.5L667.4 834.4M667.4 834.4L686.9 834.4M686.9 834.4L696.6 850.5M696.6 680.8L686.9 664.7M696.6 714.5L686.9 698.5M686.9 698.5L696.6 682.4M696.6 748.3L686.9 732.3M686.9 732.3L696.6 716.2M696.6 782.1L686.9 766.0M686.9 766.0L696.6 750.0M696.6 815.9L686.9 799.8M686.9 799.8L696.6 783.8M696.6 849.6L686.9 833.6M686.9 833.6L696.6 817.5M686.9 867.4L696.6 851.3" stroke="#e6da80" stroke-width="1.4" stroke-linecap="round" fill="none"/><path d="M519.5 684.2L512.9 695.1M508.2 697.6L495.0 697.6M512.9 668.1L519.5 679.0M519.5 717.9L512.9 728.9M508.2 731.4L495.0 731.4M495.0 699.3L508.2 699.3M512.9 701.9L519.5 712.8M519.5 751.7L512.9 762.6M508.2 765.2L495.0 765.2M495.0 733.1L508.2 733.1M512.9 735.7L519.5 746.6M519.5 785.5L512.9 796.4M508.2 799.0L495.0 799.0M495.0 766.9L508.2 766.9M512.9 769.4L519.5 780.4M519.5 819.3L512.9 830.2M508.2 832.7L495.0 832.7M495.0 800.7L508.2 800.7M512.9 803.2L519.5 814.1M519.5 853.0L512.9 864.0M495.0 834.4L508.2 834.4M512.9 837.0L519.5 847.9M548.8 667.3L542.2 678.2M537.5 680.8L524.2 680.8M519.5 678.2L512.9 667.3M548.8 701.1L542.2 712.0M537.5 714.5L524.2 714.5M519.5 712.0L512.9 701.1M512.9 695.9L519.5 685.0M524.2 682.4L537.5 682.4M542.2 685.0L548.8 695.9M548.8 734.8L542.2 745.7M537.5 748.3L524.2 748.3M519.5 745.7L512.9 734.8M512.9 729.7L519.5 718.8M524.2 716.2L537.5 716.2M542.2 718.8L548.8 729.7M548.8 768.6L542.2 779.5M537.5 782.1L524.2 782.1M519.5 779.5L512.9 768.6M512.9 763.5L519.5 752.6M524.2 750.0L537.5 750.0M542.2 752.6L548.8 763.5M548.8 802.4L542.2 813.3M537.5 815.9L524.2 815.9M519.5 813.3L512.9 802.4M512.9 797.2L519.5 786.3M524.2 783.8L537.5 783.8M542.2 786.3L548.8 797.2M548.8 836.2L542.2 847.1M537.5 849.6L524.2 849.6M519.5 847.1L512.9 836.2M512.9 831.0L519.5 820.1M524.2 817.5L537.5 817.5M542.2 820.1L548.8 831.0M512.9 864.8L519.5 853.9M524.2 851.3L537.5 851.3M542.2 853.9L548.8 864.8M578.0 684.2L571.4 695.1M566.7 697.6L553.5 697.6M548.8 695.1L542.2 684.2M542.2 679.0L548.8 668.1M571.4 668.1L578.0 679.0M578.0 717.9L571.4 728.9M566.7 731.4L553.5 731.4M548.8 728.9L542.2 717.9M542.2 712.8L548.8 701.9M553.5 699.3L566.7 699.3M571.4 701.9L578.0 712.8M578.0 751.7L571.4 762.6M566.7 765.2L553.5 765.2M548.8 762.6L542.2 751.7M542.2 746.6L548.8 735.7M553.5 733.1L566.7 733.1M571.4 735.7L578.0 746.6M578.0 785.5L571.4 796.4M566.7 799.0L553.5 799.0M548.8 796.4L542.2 785.5M542.2 780.4L548.8 769.4M553.5 766.9L566.7 766.9M571.4 769.4L578.0 780.4M578.0 819.3L571.4 830.2M566.7 832.7L553.5 832.7M548.8 830.2L542.2 819.3M542.2 814.1L548.8 803.2M553.5 800.7L566.7 800.7M571.4 803.2L578.0 814.1M578.0 853.0L571.4 864.0M548.8 864.0L542.2 853.0M542.2 847.9L548.8 837.0M553.5 834.4L566.7 834.4M571.4 837.0L578.0 847.9M607.3 667.3L600.7 678.2M596.0 680.8L582.7 680.8M578.0 678.2L571.4 667.3M607.3 701.1L600.7 712.0M596.0 714.5L582.7 714.5M578.0 712.0L571.4 701.1M571.4 695.9L578.0 685.0M582.7 682.4L596.0 682.4M600.7 685.0L607.3 695.9M607.3 734.8L600.7 745.7M596.0 748.3L582.7 748.3M578.0 745.7L571.4 734.8M571.4 729.7L578.0 718.8M582.7 716.2L596.0 716.2M600.7 718.8L607.3 729.7M607.3 768.6L600.7 779.5M596.0 782.1L582.7 782.1M578.0 779.5L571.4 768.6M571.4 763.5L578.0 752.6M582.7 750.0L596.0 750.0M600.7 752.6L607.3 763.5M607.3 802.4L600.7 813.3M596.0 815.9L582.7 815.9M578.0 813.3L571.4 802.4M571.4 797.2L578.0 786.3M582.7 783.8L596.0 783.8M600.7 786.3L607.3 797.2M607.3 836.2L600.7 847.1M596.0 849.6L582.7 849.6M578.0 847.1L571.4 836.2M571.4 831.0L578.0 820.1M582.7 817.5L596.0 817.5M600.7 820.1L607.3 831.0M571.4 864.8L578.0 853.9M582.7 851.3L596.0 851.3M600.7 853.9L607.3 864.8M636.5 684.2L629.9 695.1M625.2 697.6L612.0 697.6M607.3 695.1L600.7 684.2M600.7 679.0L607.3 668.1M629.9 668.1L636.5 679.0M636.5 717.9L629.9 728.9M625.2 731.4L612.0 731.4M607.3 728.9L600.7 717.9M600.7 712.8L607.3 701.9M612.0 699.3L625.2 699.3M629.9 701.9L636.5 712.8M636.5 751.7L629.9 762.6M625.2 765.2L612.0 765.2M607.3 762.6L600.7 751.7M600.7 746.6L607.3 735.7M612.0 733.1L625.2 733.1M629.9 735.7L636.5 746.6M636.5 785.5L629.9 796.4M625.2 799.0L612.0 799.0M607.3 796.4L600.7 785.5M600.7 780.4L607.3 769.4M612.0 766.9L625.2 766.9M629.9 769.4L636.5 780.4M636.5 819.3L629.9 830.2M625.2 832.7L612.0 832.7M607.3 830.2L600.7 819.3M600.7 814.1L607.3 803.2M612.0 800.7L625.2 800.7M629.9 803.2L636.5 814.1M636.5 853.0L629.9 864.0M607.3 864.0L600.7 853.0M600.7 847.9L607.3 837.0M612.0 834.4L625.2 834.4M629.9 837.0L636.5 847.9M665.8 667.3L659.2 678.2M654.5 680.8L641.2 680.8M636.5 678.2L629.9 667.3M665.8 701.1L659.2 712.0M654.5 714.5L641.2 714.5M636.5 712.0L629.9 701.1M629.9 695.9L636.5 685.0M641.2 682.4L654.5 682.4M659.2 685.0L665.8 695.9M665.8 734.8L659.2 745.7M654.5 748.3L641.2 748.3M636.5 745.7L629.9 734.8M629.9 729.7L636.5 718.8M641.2 716.2L654.5 716.2M659.2 718.8L665.8 729.7M665.8 768.6L659.2 779.5M654.5 782.1L641.2 782.1M636.5 779.5L629.9 768.6M629.9 763.5L636.5 752.6M641.2 750.0L654.5 750.0M659.2 752.6L665.8 763.5M665.8 802.4L659.2 813.3M654.5 815.9L641.2 815.9M636.5 813.3L629.9 802.4M629.9 797.2L636.5 786.3M641.2 783.8L654.5 783.8M659.2 786.3L665.8 797.2M665.8 836.2L659.2 847.1M654.5 849.6L641.2 849.6M636.5 847.1L629.9 836.2M629.9 831.0L636.5 820.1M641.2 817.5L654.5 817.5M659.2 820.1L665.8 831.0M629.9 864.8L636.5 853.9M641.2 851.3L654.5 851.3M659.2 853.9L665.8 864.8M695.0 684.2L688.4 695.1M683.7 697.6L670.5 697.6M665.8 695.1L659.2 684.2M659.2 679.0L665.8 668.1M688.4 668.1L695.0 679.0M695.0 717.9L688.4 728.9M683.7 731.4L670.5 731.4M665.8 728.9L659.2 717.9M659.2 712.8L665.8 701.9M670.5 699.3L683.7 699.3M688.4 701.9L695.0 712.8M695.0 751.7L688.4 762.6M683.7 765.2L670.5 765.2M665.8 762.6L659.2 751.7M659.2 746.6L665.8 735.7M670.5 733.1L683.7 733.1M688.4 735.7L695.0 746.6M695.0 785.5L688.4 796.4M683.7 799.0L670.5 799.0M665.8 796.4L659.2 785.5M659.2 780.4L665.8 769.4M670.5 766.9L683.7 766.9M688.4 769.4L695.0 780.4M695.0 819.3L688.4 830.2M683.7 832.7L670.5 832.7M665.8 830.2L659.2 819.3M659.2 814.1L665.8 803.2M670.5 800.7L683.7 800.7M688.4 803.2L695.0 814.1M695.0 853.0L688.4 864.0M665.8 864.0L659.2 853.0M659.2 847.9L665.8 837.0M670.5 834.4L683.7 834.4M688.4 837.0L695.0 847.9M695.0 678.2L688.4 667.3M695.0 712.0L688.4 701.1M688.4 695.9L695.0 685.0M695.0 745.7L688.4 734.8M688.4 729.7L695.0 718.8M695.0 779.5L688.4 768.6M688.4 763.5L695.0 752.6M695.0 813.3L688.4 802.4M688.4 797.2L695.0 786.3M695.0 847.1L688.4 836.2M688.4 831.0L695.0 820.1M688.4 864.8L695.0 853.9" stroke="#dc6a6a" stroke-width="1.4" fill="none"/></g>
<g opacity="0.80"><path d="M519.5 680.0L509.8 696.0M509.8 696.0L490.2 696.0M509.8 664.0L519.5 680.0M519.5 713.8L509.8 729.8M509.8 729.8L490.2 729.8M490.2 697.7L509.8 697.7M509.8 697.7L519.5 713.8M519.5 747.5L509.8 763.6M509.8 763.6L490.2 763.6M490.2 731.5L509.8 731.5M509.8 731.5L519.5 747.5M519.5 781.3L509.8 797.4M509.8 797.4L490.2 797.4M490.2 765.3L509.8 765.3M509.8 765.3L519.5 781.3M519.5 815.1L509.8 831.1M509.8 831.1L490.2 831.1M490.2 799.1L509.8 799.1M509.8 799.1L519.5 815.1M519.5 848.9L509.8 864.9M490.2 832.8L509.8 832.8M509.8 832.8L519.5 848.9M548.8 663.1L539.0 679.2M539.0 679.2L519.5 679.2M519.5 679.2L509.8 663.1M548.8 696.9L539.0 712.9M539.0 712.9L519.5 712.9M519.5 712.9L509.8 696.9M509.8 696.9L519.5 680.8M519.5 680.8L539.0 680.8M539.0 680.8L548.8 696.9M548.8 730.7L539.0 746.7M539.0 746.7L519.5 746.7M519.5 746.7L509.8 730.7M509.8 730.7L519.5 714.6M519.5 714.6L539.0 714.6M539.0 714.6L548.8 730.7M548.8 764.4L539.0 780.5M539.0 780.5L519.5 780.5M519.5 780.5L509.8 764.4M509.8 764.4L519.5 748.4M519.5 748.4L539.0 748.4M539.0 748.4L548.8 764.4M548.8 798.2L539.0 814.3M539.0 814.3L519.5 814.3M519.5 814.3L509.8 798.2M509.8 798.2L519.5 782.2M519.5 782.2L539.0 782.2M539.0 782.2L548.8 798.2M548.8 832.0L539.0 848.0M539.0 848.0L519.5 848.0M519.5 848.0L509.8 832.0M509.8 832.0L519.5 815.9M519.5 815.9L539.0 815.9M539.0 815.9L548.8 832.0M509.8 865.8L519.5 849.7M519.5 849.7L539.0 849.7M539.0 849.7L548.8 865.8M578.0 680.0L568.2 696.0M568.2 696.0L548.8 696.0M548.8 696.0L539.0 680.0M539.0 680.0L548.8 664.0M568.2 664.0L578.0 680.0M578.0 713.8L568.2 729.8M568.2 729.8L548.8 729.8M548.8 729.8L539.0 713.8M539.0 713.8L548.8 697.7M548.8 697.7L568.2 697.7M568.2 697.7L578.0 713.8M578.0 747.5L568.2 763.6M568.2 763.6L548.8 763.6M548.8 763.6L539.0 747.5M539.0 747.5L548.8 731.5M548.8 731.5L568.2 731.5M568.2 731.5L578.0 747.5M578.0 781.3L568.2 797.4M568.2 797.4L548.8 797.4M548.8 797.4L539.0 781.3M539.0 781.3L548.8 765.3M548.8 765.3L568.2 765.3M568.2 765.3L578.0 781.3M578.0 815.1L568.2 831.1M568.2 831.1L548.8 831.1M548.8 831.1L539.0 815.1M539.0 815.1L548.8 799.1M548.8 799.1L568.2 799.1M568.2 799.1L578.0 815.1M578.0 848.9L568.2 864.9M548.8 864.9L539.0 848.9M539.0 848.9L548.8 832.8M548.8 832.8L568.2 832.8M568.2 832.8L578.0 848.9M607.2 663.1L597.5 679.2M597.5 679.2L578.0 679.2M578.0 679.2L568.2 663.1M607.2 696.9L597.5 712.9M597.5 712.9L578.0 712.9M578.0 712.9L568.2 696.9M568.2 696.9L578.0 680.8M578.0 680.8L597.5 680.8M597.5 680.8L607.2 696.9M607.2 730.7L597.5 746.7M597.5 746.7L578.0 746.7M578.0 746.7L568.2 730.7M568.2 730.7L578.0 714.6M578.0 714.6L597.5 714.6M597.5 714.6L607.2 730.7M607.2 764.4L597.5 780.5M597.5 780.5L578.0 780.5M578.0 780.5L568.2 764.4M568.2 764.4L578.0 748.4M578.0 748.4L597.5 748.4M597.5 748.4L607.2 764.4M607.2 798.2L597.5 814.3M597.5 814.3L578.0 814.3M578.0 814.3L568.2 798.2M568.2 798.2L578.0 782.2M578.0 782.2L597.5 782.2M597.5 782.2L607.2 798.2M607.2 832.0L597.5 848.0M597.5 848.0L578.0 848.0M578.0 848.0L568.2 832.0M568.2 832.0L578.0 815.9M578.0 815.9L597.5 815.9M597.5 815.9L607.2 832.0M568.2 865.8L578.0 849.7M578.0 849.7L597.5 849.7M597.5 849.7L607.2 865.8M636.5 680.0L626.8 696.0M626.8 696.0L607.2 696.0M607.2 696.0L597.5 680.0M597.5 680.0L607.2 664.0M626.8 664.0L636.5 680.0M636.5 713.8L626.8 729.8M626.8 729.8L607.2 729.8M607.2 729.8L597.5 713.8M597.5 713.8L607.2 697.7M607.2 697.7L626.8 697.7M626.8 697.7L636.5 713.8M636.5 747.5L626.8 763.6M626.8 763.6L607.2 763.6M607.2 763.6L597.5 747.5M597.5 747.5L607.2 731.5M607.2 731.5L626.8 731.5M626.8 731.5L636.5 747.5M636.5 781.3L626.8 797.4M626.8 797.4L607.2 797.4M607.2 797.4L597.5 781.3M597.5 781.3L607.2 765.3M607.2 765.3L626.8 765.3M626.8 765.3L636.5 781.3M636.5 815.1L626.8 831.1M626.8 831.1L607.2 831.1M607.2 831.1L597.5 815.1M597.5 815.1L607.2 799.1M607.2 799.1L626.8 799.1M626.8 799.1L636.5 815.1M636.5 848.9L626.8 864.9M607.2 864.9L597.5 848.9M597.5 848.9L607.2 832.8M607.2 832.8L626.8 832.8M626.8 832.8L636.5 848.9M665.8 663.1L656.0 679.2M656.0 679.2L636.5 679.2M636.5 679.2L626.8 663.1M665.8 696.9L656.0 712.9M656.0 712.9L636.5 712.9M636.5 712.9L626.8 696.9M626.8 696.9L636.5 680.8M636.5 680.8L656.0 680.8M656.0 680.8L665.8 696.9M665.8 730.7L656.0 746.7M656.0 746.7L636.5 746.7M636.5 746.7L626.8 730.7M626.8 730.7L636.5 714.6M636.5 714.6L656.0 714.6M656.0 714.6L665.8 730.7M665.8 764.4L656.0 780.5M656.0 780.5L636.5 780.5M636.5 780.5L626.8 764.4M626.8 764.4L636.5 748.4M636.5 748.4L656.0 748.4M656.0 748.4L665.8 764.4M665.8 798.2L656.0 814.3M656.0 814.3L636.5 814.3M636.5 814.3L626.8 798.2M626.8 798.2L636.5 782.2M636.5 782.2L656.0 782.2M656.0 782.2L665.8 798.2M665.8 832.0L656.0 848.0M656.0 848.0L636.5 848.0M636.5 848.0L626.8 832.0M626.8 832.0L636.5 815.9M636.5 815.9L656.0 815.9M656.0 815.9L665.8 832.0M626.8 865.8L636.5 849.7M636.5 849.7L656.0 849.7M656.0 849.7L665.8 865.8M695.0 680.0L685.2 696.0M685.2 696.0L665.8 696.0M665.8 696.0L656.0 680.0M656.0 680.0L665.8 664.0M685.2 664.0L695.0 680.0M695.0 713.8L685.2 729.8M685.2 729.8L665.8 729.8M665.8 729.8L656.0 713.8M656.0 713.8L665.8 697.7M665.8 697.7L685.2 697.7M685.2 697.7L695.0 713.8M695.0 747.5L685.2 763.6M685.2 763.6L665.8 763.6M665.8 763.6L656.0 747.5M656.0 747.5L665.8 731.5M665.8 731.5L685.2 731.5M685.2 731.5L695.0 747.5M695.0 781.3L685.2 797.4M685.2 797.4L665.8 797.4M665.8 797.4L656.0 781.3M656.0 781.3L665.8 765.3M665.8 765.3L685.2 765.3M685.2 765.3L695.0 781.3M695.0 815.1L685.2 831.1M685.2 831.1L665.8 831.1M665.8 831.1L656.0 815.1M656.0 815.1L665.8 799.1M665.8 799.1L685.2 799.1M685.2 799.1L695.0 815.1M695.0 848.9L685.2 864.9M665.8 864.9L656.0 848.9M656.0 848.9L665.8 832.8M665.8 832.8L685.2 832.8M685.2 832.8L695.0 848.9M695.0 679.2L685.2 663.1M695.0 712.9L685.2 696.9M685.2 696.9L695.0 680.8M695.0 746.7L685.2 730.7M685.2 730.7L695.0 714.6M695.0 780.5L685.2 764.4M685.2 764.4L695.0 748.4M695.0 814.3L685.2 798.2M685.2 798.2L695.0 782.2M695.0 848.0L685.2 832.0M685.2 832.0L695.0 815.9M685.2 865.8L695.0 849.7" stroke="#e6da80" stroke-width="1.4" stroke-linecap="round" fill="none"/><path d="M517.9 682.6L511.3 693.5M506.6 696.0L493.4 696.0M511.3 666.5L517.9 677.4M517.9 716.3L511.3 727.3M506.6 729.8L493.4 729.8M493.4 697.7L506.6 697.7M511.3 700.3L517.9 711.2M517.9 750.1L511.3 761.0M506.6 763.6L493.4 763.6M493.4 731.5L506.6 731.5M511.3 734.1L517.9 745.0M517.9 783.9L511.3 794.8M506.6 797.4L493.4 797.4M493.4 765.3L506.6 765.3M511.3 767.8L517.9 778.8M517.9 817.7L511.3 828.6M506.6 831.1L493.4 831.1M493.4 799.1L506.6 799.1M511.3 801.6L517.9 812.5M517.9 851.4L511.3 862.4M493.4 832.8L506.6 832.8M511.3 835.4L517.9 846.3M547.2 665.7L540.6 676.6M535.9 679.2L522.6 679.2M517.9 676.6L511.3 665.7M547.2 699.5L540.6 710.4M535.9 712.9L522.6 712.9M517.9 710.4L511.3 699.5M511.3 694.3L517.9 683.4M522.6 680.8L535.9 680.8M540.6 683.4L547.2 694.3M547.2 733.2L540.6 744.1M535.9 746.7L522.6 746.7M517.9 744.1L511.3 733.2M511.3 728.1L517.9 717.2M522.6 714.6L535.9 714.6M540.6 717.2L547.2 728.1M547.2 767.0L540.6 777.9M535.9 780.5L522.6 780.5M517.9 777.9L511.3 767.0M511.3 761.9L517.9 751.0M522.6 748.4L535.9 748.4M540.6 751.0L547.2 761.9M547.2 800.8L540.6 811.7M535.9 814.3L522.6 814.3M517.9 811.7L511.3 800.8M511.3 795.6L517.9 784.7M522.6 782.2L535.9 782.2M540.6 784.7L547.2 795.6M547.2 834.6L540.6 845.5M535.9 848.0L522.6 848.0M517.9 845.5L511.3 834.6M511.3 829.4L517.9 818.5M522.6 815.9L535.9 815.9M540.6 818.5L547.2 829.4M511.3 863.2L517.9 852.3M522.6 849.7L535.9 849.7M540.6 852.3L547.2 863.2M576.4 682.6L569.8 693.5M565.1 696.0L551.9 696.0M547.2 693.5L540.6 682.6M540.6 677.4L547.2 666.5M569.8 666.5L576.4 677.4M576.4 716.3L569.8 727.3M565.1 729.8L551.9 729.8M547.2 727.3L540.6 716.3M540.6 711.2L547.2 700.3M551.9 697.7L565.1 697.7M569.8 700.3L576.4 711.2M576.4 750.1L569.8 761.0M565.1 763.6L551.9 763.6M547.2 761.0L540.6 750.1M540.6 745.0L547.2 734.1M551.9 731.5L565.1 731.5M569.8 734.1L576.4 745.0M576.4 783.9L569.8 794.8M565.1 797.4L551.9 797.4M547.2 794.8L540.6 783.9M540.6 778.8L547.2 767.8M551.9 765.3L565.1 765.3M569.8 767.8L576.4 778.8M576.4 817.7L569.8 828.6M565.1 831.1L551.9 831.1M547.2 828.6L540.6 817.7M540.6 812.5L547.2 801.6M551.9 799.1L565.1 799.1M569.8 801.6L576.4 812.5M576.4 851.4L569.8 862.4M547.2 862.4L540.6 851.4M540.6 846.3L547.2 835.4M551.9 832.8L565.1 832.8M569.8 835.4L576.4 846.3M605.7 665.7L599.1 676.6M594.4 679.2L581.1 679.2M576.4 676.6L569.8 665.7M605.7 699.5L599.1 710.4M594.4 712.9L581.1 712.9M576.4 710.4L569.8 699.5M569.8 694.3L576.4 683.4M581.1 680.8L594.4 680.8M599.1 683.4L605.7 694.3M605.7 733.2L599.1 744.1M594.4 746.7L581.1 746.7M576.4 744.1L569.8 733.2M569.8 728.1L576.4 717.2M581.1 714.6L594.4 714.6M599.1 717.2L605.7 728.1M605.7 767.0L599.1 777.9M594.4 780.5L581.1 780.5M576.4 777.9L569.8 767.0M569.8 761.9L576.4 751.0M581.1 748.4L594.4 748.4M599.1 751.0L605.7 761.9M605.7 800.8L599.1 811.7M594.4 814.3L581.1 814.3M576.4 811.7L569.8 800.8M569.8 795.6L576.4 784.7M581.1 782.2L594.4 782.2M599.1 784.7L605.7 795.6M605.7 834.6L599.1 845.5M594.4 848.0L581.1 848.0M576.4 845.5L569.8 834.6M569.8 829.4L576.4 818.5M581.1 815.9L594.4 815.9M599.1 818.5L605.7 829.4M569.8 863.2L576.4 852.3M581.1 849.7L594.4 849.7M599.1 852.3L605.7 863.2M634.9 682.6L628.3 693.5M623.6 696.0L610.4 696.0M605.7 693.5L599.1 682.6M599.1 677.4L605.7 666.5M628.3 666.5L634.9 677.4M634.9 716.3L628.3 727.3M623.6 729.8L610.4 729.8M605.7 727.3L599.1 716.3M599.1 711.2L605.7 700.3M610.4 697.7L623.6 697.7M628.3 700.3L634.9 711.2M634.9 750.1L628.3 761.0M623.6 763.6L610.4 763.6M605.7 761.0L599.1 750.1M599.1 745.0L605.7 734.1M610.4 731.5L623.6 731.5M628.3 734.1L634.9 745.0M634.9 783.9L628.3 794.8M623.6 797.4L610.4 797.4M605.7 794.8L599.1 783.9M599.1 778.8L605.7 767.8M610.4 765.3L623.6 765.3M628.3 767.8L634.9 778.8M634.9 817.7L628.3 828.6M623.6 831.1L610.4 831.1M605.7 828.6L599.1 817.7M599.1 812.5L605.7 801.6M610.4 799.1L623.6 799.1M628.3 801.6L634.9 812.5M634.9 851.4L628.3 862.4M605.7 862.4L599.1 851.4M599.1 846.3L605.7 835.4M610.4 832.8L623.6 832.8M628.3 835.4L634.9 846.3M664.2 665.7L657.6 676.6M652.9 679.2L639.6 679.2M634.9 676.6L628.3 665.7M664.2 699.5L657.6 710.4M652.9 712.9L639.6 712.9M634.9 710.4L628.3 699.5M628.3 694.3L634.9 683.4M639.6 680.8L652.9 680.8M657.6 683.4L664.2 694.3M664.2 733.2L657.6 744.1M652.9 746.7L639.6 746.7M634.9 744.1L628.3 733.2M628.3 728.1L634.9 717.2M639.6 714.6L652.9 714.6M657.6 717.2L664.2 728.1M664.2 767.0L657.6 777.9M652.9 780.5L639.6 780.5M634.9 777.9L628.3 767.0M628.3 761.9L634.9 751.0M639.6 748.4L652.9 748.4M657.6 751.0L664.2 761.9M664.2 800.8L657.6 811.7M652.9 814.3L639.6 814.3M634.9 811.7L628.3 800.8M628.3 795.6L634.9 784.7M639.6 782.2L652.9 782.2M657.6 784.7L664.2 795.6M664.2 834.6L657.6 845.5M652.9 848.0L639.6 848.0M634.9 845.5L628.3 834.6M628.3 829.4L634.9 818.5M639.6 815.9L652.9 815.9M657.6 818.5L664.2 829.4M628.3 863.2L634.9 852.3M639.6 849.7L652.9 849.7M657.6 852.3L664.2 863.2M693.4 682.6L686.8 693.5M682.1 696.0L668.9 696.0M664.2 693.5L657.6 682.6M657.6 677.4L664.2 666.5M686.8 666.5L693.4 677.4M693.4 716.3L686.8 727.3M682.1 729.8L668.9 729.8M664.2 727.3L657.6 716.3M657.6 711.2L664.2 700.3M668.9 697.7L682.1 697.7M686.8 700.3L693.4 711.2M693.4 750.1L686.8 761.0M682.1 763.6L668.9 763.6M664.2 761.0L657.6 750.1M657.6 745.0L664.2 734.1M668.9 731.5L682.1 731.5M686.8 734.1L693.4 745.0M693.4 783.9L686.8 794.8M682.1 797.4L668.9 797.4M664.2 794.8L657.6 783.9M657.6 778.8L664.2 767.8M668.9 765.3L682.1 765.3M686.8 767.8L693.4 778.8M693.4 817.7L686.8 828.6M682.1 831.1L668.9 831.1M664.2 828.6L657.6 817.7M657.6 812.5L664.2 801.6M668.9 799.1L682.1 799.1M686.8 801.6L693.4 812.5M693.4 851.4L686.8 862.4M664.2 862.4L657.6 851.4M657.6 846.3L664.2 835.4M668.9 832.8L682.1 832.8M686.8 835.4L693.4 846.3M693.4 676.6L686.8 665.7M693.4 710.4L686.8 699.5M686.8 694.3L693.4 683.4M693.4 744.1L686.8 733.2M686.8 728.1L693.4 717.2M693.4 777.9L686.8 767.0M686.8 761.9L693.4 751.0M693.4 811.7L686.8 800.8M686.8 795.6L693.4 784.7M693.4 845.5L686.8 834.6M686.8 829.4L693.4 818.5M686.8 863.2L693.4 852.3" stroke="#dc6a6a" stroke-width="1.4" fill="none"/></g>
<g filter="url(#dn)"><g opacity="0.65">
<path d="M533.1,672.7 L685.0,672.7 L685.0,700.4 L662.5,699.1 L646.7,693.8 L615.0,695.1 L588.5,695.1 L583.3,700.4 L572.7,703.1 L564.8,700.4 L551.6,697.8 L535.7,695.1 L533.1,684.6Z" fill="#fff"/>
<path d="M547.6,695.1 L571.4,695.1 L573.2,713.6 L575.9,725.5 L551.6,728.2 L546.3,713.6Z" fill="#fff"/>
<path d="M504.0,725.5 L519.9,724.2 L546.3,722.9 L583.3,724.2 L604.4,722.9 L620.2,726.8 L654.6,725.5 L685.0,728.2 L685.0,740.1 L654.6,740.1 L652.0,748.0 L646.7,766.5 L625.5,766.5 L620.2,742.7 L604.4,740.1 L572.7,739.5 L546.3,740.6 L519.9,737.9 L504.0,736.4Z" fill="#fff"/>
<path d="M615.0,762.7 L644.0,762.7 L641.4,779.9 L662.5,775.9 L685.0,777.2 L685.0,793.1 L641.4,794.4 L615.0,793.1 L585.9,790.4 L573.2,795.7 L570.6,806.3 L573.2,824.8 L566.1,826.1 L556.8,827.4 L546.3,823.4 L543.6,808.9 L533.1,795.7 L519.9,793.1 L504.0,790.4 L504.0,771.9 L530.4,773.2 L543.6,771.9 L562.1,775.9 L575.3,777.2 L585.9,779.9 L609.7,779.9 L617.6,774.6Z" fill="#fff"/>
<path d="M504.0,824.8 L543.6,823.4 L570.1,824.8 L604.4,827.4 L609.7,822.1 L646.7,824.8 L685.0,826.1 L685.0,840.6 L649.3,839.3 L646.7,851.2 L625.5,853.8 L609.7,840.6 L570.1,840.6 L543.6,843.3 L504.0,840.6Z" fill="#fff"/>
</g>
<ellipse cx="616.0" cy="686.0" rx="25.0" ry="6.0" fill="#fff" fill-opacity="0.48"/>
<ellipse cx="600.0" cy="684.0" rx="10.0" ry="3.0" fill="#fff" fill-opacity="0.40"/>
<ellipse cx="557.0" cy="707.0" rx="9.0" ry="14.0" fill="#fff" fill-opacity="0.48"/>
<ellipse cx="556.8" cy="706.0" rx="6.0" ry="11.0" fill="#fff" fill-opacity="0.88"/>
<ellipse cx="560.8" cy="729.5" rx="11.0" ry="6.0" fill="#fff" fill-opacity="0.72"/>
<ellipse cx="568.7" cy="715.0" rx="3.0" ry="3.0" fill="#fff" fill-opacity="0.95"/>
<ellipse cx="580.0" cy="730.0" rx="25.0" ry="6.0" fill="#fff" fill-opacity="0.40"/>
<ellipse cx="597.8" cy="728.2" rx="4.0" ry="3.0" fill="#fff" fill-opacity="0.72"/>
<ellipse cx="552.0" cy="800.0" rx="18.0" ry="22.0" fill="#fff" fill-opacity="0.40"/>
<ellipse cx="543.6" cy="789.0" rx="7.0" ry="6.0" fill="#fff" fill-opacity="0.80"/>
<ellipse cx="559.5" cy="797.0" rx="7.0" ry="8.0" fill="#fff" fill-opacity="0.80"/>
<ellipse cx="555.5" cy="815.5" rx="6.0" ry="6.0" fill="#fff" fill-opacity="0.80"/>
<ellipse cx="613.6" cy="827.0" rx="6.0" ry="3.0" fill="#fff" fill-opacity="0.88"/>
<ellipse cx="628.2" cy="840.0" rx="12.0" ry="9.0" fill="#fff" fill-opacity="0.48"/>
<ellipse cx="628.2" cy="840.0" rx="8.0" ry="6.0" fill="#fff" fill-opacity="0.72"/>
</g>
</svg>
<svg x="504.5" y="854.5" width="180.5" height="180.0" viewBox="504.5 854.5 180.5 180.0" overflow="hidden">
<rect x="504.5" y="854.5" width="180.5" height="180.0" fill="#ffffff"/>
<g opacity="0.50"><path d="M487.3 872.3L501.3 859.8M501.3 859.8L521.3 859.8M521.3 859.8L535.3 872.3M535.3 872.3L535.3 894.3M535.3 894.3L521.3 906.8M521.3 906.8L501.3 906.8M501.3 906.8L487.3 894.3M535.6 872.3L549.6 859.8M549.6 859.8L569.6 859.8M569.6 859.8L583.6 872.3M583.6 872.3L583.6 894.3M583.6 894.3L569.6 906.8M569.6 906.8L549.6 906.8M549.6 906.8L535.6 894.3M535.6 894.3L535.6 872.3M583.9 872.3L597.9 859.8M597.9 859.8L617.9 859.8M617.9 859.8L631.9 872.3M631.9 872.3L631.9 894.3M631.9 894.3L617.9 906.8M617.9 906.8L597.9 906.8M597.9 906.8L583.9 894.3M583.9 894.3L583.9 872.3M632.2 872.3L646.2 859.8M646.2 859.8L666.2 859.8M666.2 859.8L680.2 872.3M680.2 872.3L680.2 894.3M680.2 894.3L666.2 906.8M666.2 906.8L646.2 906.8M646.2 906.8L632.2 894.3M632.2 894.3L632.2 872.3M680.5 872.3L694.5 859.8M694.5 906.8L680.5 894.3M680.5 894.3L680.5 872.3M497.2 925.3L511.2 937.8M511.2 937.8L511.2 959.8M511.2 959.8L497.2 972.3M511.5 937.8L525.5 925.3M525.5 925.3L545.5 925.3M545.5 925.3L559.5 937.8M559.5 937.8L559.5 959.8M559.5 959.8L545.5 972.3M545.5 972.3L525.5 972.3M525.5 972.3L511.5 959.8M511.5 959.8L511.5 937.8M559.8 937.8L573.8 925.3M573.8 925.3L593.8 925.3M593.8 925.3L607.8 937.8M607.8 937.8L607.8 959.8M607.8 959.8L593.8 972.3M593.8 972.3L573.8 972.3M573.8 972.3L559.8 959.8M559.8 959.8L559.8 937.8M608.1 937.8L622.1 925.3M622.1 925.3L642.1 925.3M642.1 925.3L656.1 937.8M656.1 937.8L656.1 959.8M656.1 959.8L642.1 972.3M642.1 972.3L622.1 972.3M622.1 972.3L608.1 959.8M608.1 959.8L608.1 937.8M656.4 937.8L670.4 925.3M670.4 925.3L690.4 925.3M690.4 972.3L670.4 972.3M670.4 972.3L656.4 959.8M656.4 959.8L656.4 937.8M487.3 1003.3L501.3 990.8M501.3 990.8L521.3 990.8M521.3 990.8L535.3 1003.3M535.3 1003.3L535.3 1025.3M535.3 1025.3L521.3 1037.8M521.3 1037.8L501.3 1037.8M501.3 1037.8L487.3 1025.3M535.6 1003.3L549.6 990.8M549.6 990.8L569.6 990.8M569.6 990.8L583.6 1003.3M583.6 1003.3L583.6 1025.3M583.6 1025.3L569.6 1037.8M569.6 1037.8L549.6 1037.8M549.6 1037.8L535.6 1025.3M535.6 1025.3L535.6 1003.3M583.9 1003.3L597.9 990.8M597.9 990.8L617.9 990.8M617.9 990.8L631.9 1003.3M631.9 1003.3L631.9 1025.3M631.9 1025.3L617.9 1037.8M617.9 1037.8L597.9 1037.8M597.9 1037.8L583.9 1025.3M583.9 1025.3L583.9 1003.3M632.2 1003.3L646.2 990.8M646.2 990.8L666.2 990.8M666.2 990.8L680.2 1003.3M680.2 1003.3L680.2 1025.3M680.2 1025.3L666.2 1037.8M666.2 1037.8L646.2 1037.8M646.2 1037.8L632.2 1025.3M632.2 1025.3L632.2 1003.3M680.5 1003.3L694.5 990.8M694.5 1037.8L680.5 1025.3M680.5 1025.3L680.5 1003.3M501.3 906.8L497.2 925.3M521.3 906.8L525.5 925.3M549.6 906.8L545.5 925.3M569.6 906.8L573.8 925.3M597.9 906.8L593.8 925.3M617.9 906.8L622.0 925.3M646.2 906.8L642.1 925.3M666.2 906.8L670.4 925.3M497.2 972.3L501.3 990.8M525.5 972.3L521.3 990.8M545.5 972.3L549.6 990.8M573.8 972.3L569.6 990.8M593.8 972.3L597.9 990.8M622.1 972.3L617.9 990.8M642.1 972.3L646.2 990.8M670.4 972.3L666.2 990.8M501.3 1037.8L497.2 1056.3M521.3 1037.8L525.5 1056.3M549.6 1037.8L545.5 1056.3M569.6 1037.8L573.8 1056.3M597.9 1037.8L593.8 1056.3M617.9 1037.8L622.0 1056.3M646.2 1037.8L642.1 1056.3M666.2 1037.8L670.4 1056.3M497.2 841.3L501.3 859.8M525.5 841.3L521.3 859.8M545.5 841.3L549.6 859.8M573.8 841.3L569.6 859.8M593.8 841.3L597.9 859.8M622.1 841.3L617.9 859.8M642.1 841.3L646.2 859.8M670.4 841.3L666.2 859.8" stroke="#e6da80" stroke-width="1.5" stroke-linecap="round" fill="none"/><path d="M489.5 870.3L499.1 861.8M504.5 859.8L518.1 859.8M523.5 861.8L533.1 870.3M535.3 875.8L535.3 890.8M533.1 896.3L523.5 904.8M518.1 906.8L504.5 906.8M499.1 904.8L489.5 896.3M537.8 870.3L547.4 861.8M552.8 859.8L566.4 859.8M571.8 861.8L581.4 870.3M583.6 875.8L583.6 890.8M581.4 896.3L571.8 904.8M566.4 906.8L552.8 906.8M547.4 904.8L537.8 896.3M535.6 890.8L535.6 875.8M586.1 870.3L595.7 861.8M601.1 859.8L614.7 859.8M620.1 861.8L629.7 870.3M631.9 875.8L631.9 890.8M629.7 896.3L620.1 904.8M614.7 906.8L601.1 906.8M595.7 904.8L586.1 896.3M583.9 890.8L583.9 875.8M634.4 870.3L644.0 861.8M649.4 859.8L663.0 859.8M668.4 861.8L678.0 870.3M680.2 875.8L680.2 890.8M678.0 896.3L668.4 904.8M663.0 906.8L649.4 906.8M644.0 904.8L634.4 896.3M632.2 890.8L632.2 875.8M682.7 870.3L692.3 861.8M692.3 904.8L682.7 896.3M680.5 890.8L680.5 875.8M499.4 927.3L508.9 935.8M511.2 941.3L511.2 956.3M508.9 961.8L499.4 970.3M513.7 935.8L523.2 927.3M528.7 925.3L542.2 925.3M547.7 927.3L557.2 935.8M559.5 941.3L559.5 956.3M557.2 961.8L547.7 970.3M542.2 972.3L528.7 972.3M523.2 970.3L513.7 961.8M511.5 956.3L511.5 941.3M562.0 935.8L571.5 927.3M577.0 925.3L590.5 925.3M596.0 927.3L605.5 935.8M607.8 941.3L607.8 956.3M605.5 961.8L596.0 970.3M590.5 972.3L577.0 972.3M571.5 970.3L562.0 961.8M559.8 956.3L559.8 941.3M610.3 935.8L619.8 927.3M625.3 925.3L638.9 925.3M644.3 927.3L653.8 935.8M656.1 941.3L656.1 956.3M653.8 961.8L644.3 970.3M638.9 972.3L625.3 972.3M619.8 970.3L610.3 961.8M608.1 956.3L608.1 941.3M658.6 935.8L668.1 927.3M673.6 925.3L687.1 925.3M687.1 972.3L673.6 972.3M668.1 970.3L658.6 961.8M656.4 956.3L656.4 941.3M489.5 1001.3L499.1 992.8M504.5 990.8L518.1 990.8M523.5 992.8L533.1 1001.3M535.3 1006.8L535.3 1021.8M533.1 1027.3L523.5 1035.8M518.1 1037.8L504.5 1037.8M499.1 1035.8L489.5 1027.3M537.8 1001.3L547.4 992.8M552.8 990.8L566.4 990.8M571.8 992.8L581.4 1001.3M583.6 1006.8L583.6 1021.8M581.4 1027.3L571.8 1035.8M566.4 1037.8L552.8 1037.8M547.4 1035.8L537.8 1027.3M535.6 1021.8L535.6 1006.8M586.1 1001.3L595.7 992.8M601.1 990.8L614.7 990.8M620.1 992.8L629.7 1001.3M631.9 1006.8L631.9 1021.8M629.7 1027.3L620.1 1035.8M614.7 1037.8L601.1 1037.8M595.7 1035.8L586.1 1027.3M583.9 1021.8L583.9 1006.8M634.4 1001.3L644.0 992.8M649.4 990.8L663.0 990.8M668.4 992.8L678.0 1001.3M680.2 1006.8L680.2 1021.8M678.0 1027.3L668.4 1035.8M663.0 1037.8L649.4 1037.8M644.0 1035.8L634.4 1027.3M632.2 1021.8L632.2 1006.8M682.7 1001.3L692.3 992.8M692.3 1035.8L682.7 1027.3M680.5 1021.8L680.5 1006.8M500.6 909.8L497.8 922.3M522.0 909.8L524.8 922.3M548.9 909.8L546.1 922.3M570.3 909.8L573.1 922.3M597.2 909.8L594.4 922.3M618.6 909.8L621.4 922.3M645.5 909.8L642.7 922.3M666.9 909.8L669.7 922.3M497.8 975.3L500.6 987.8M524.8 975.3L522.0 987.8M546.1 975.3L548.9 987.8M573.1 975.3L570.3 987.8M594.4 975.3L597.2 987.8M621.4 975.3L618.6 987.8M642.7 975.3L645.5 987.8M669.7 975.3L666.9 987.8M500.6 1040.8L497.8 1053.3M522.0 1040.8L524.8 1053.3M548.9 1040.8L546.1 1053.3M570.3 1040.8L573.1 1053.3M597.2 1040.8L594.4 1053.3M618.6 1040.8L621.4 1053.3M645.5 1040.8L642.7 1053.3M666.9 1040.8L669.7 1053.3M497.8 844.3L500.6 856.8M524.8 844.3L522.0 856.8M546.1 844.3L548.9 856.8M573.1 844.3L570.3 856.8M594.4 844.3L597.2 856.8M621.4 844.3L618.6 856.8M642.7 844.3L645.5 856.8M669.7 844.3L666.9 856.8" stroke="#dc6a6a" stroke-width="1.5" fill="none"/></g>
<g opacity="0.72"><path d="M499.7 858.2L519.7 858.2M519.7 858.2L533.7 870.7M533.7 870.7L533.7 892.7M533.7 892.7L519.7 905.2M519.7 905.2L499.7 905.2M534.0 870.7L548.0 858.2M548.0 858.2L568.0 858.2M568.0 858.2L582.0 870.7M582.0 870.7L582.0 892.7M582.0 892.7L568.0 905.2M568.0 905.2L548.0 905.2M548.0 905.2L534.0 892.7M534.0 892.7L534.0 870.7M582.3 870.7L596.3 858.2M596.3 858.2L616.3 858.2M616.3 858.2L630.3 870.7M630.3 870.7L630.3 892.7M630.3 892.7L616.3 905.2M616.3 905.2L596.3 905.2M596.3 905.2L582.3 892.7M582.3 892.7L582.3 870.7M630.6 870.7L644.6 858.2M644.6 858.2L664.6 858.2M664.6 858.2L678.6 870.7M678.6 870.7L678.6 892.7M678.6 892.7L664.6 905.2M664.6 905.2L644.6 905.2M644.6 905.2L630.6 892.7M630.6 892.7L630.6 870.7M678.9 870.7L692.9 858.2M692.9 905.2L678.9 892.7M678.9 892.7L678.9 870.7M495.6 923.7L509.6 936.2M509.6 936.2L509.6 958.2M509.6 958.2L495.6 970.7M509.9 936.2L523.9 923.7M523.9 923.7L543.9 923.7M543.9 923.7L557.9 936.2M557.9 936.2L557.9 958.2M557.9 958.2L543.9 970.7M543.9 970.7L523.9 970.7M523.9 970.7L509.9 958.2M509.9 958.2L509.9 936.2M558.1 936.2L572.1 923.7M572.1 923.7L592.1 923.7M592.1 923.7L606.1 936.2M606.1 936.2L606.1 958.2M606.1 958.2L592.1 970.7M592.1 970.7L572.1 970.7M572.1 970.7L558.1 958.2M558.1 958.2L558.1 936.2M606.5 936.2L620.5 923.7M620.5 923.7L640.5 923.7M640.5 923.7L654.5 936.2M654.5 936.2L654.5 958.2M654.5 958.2L640.5 970.7M640.5 970.7L620.5 970.7M620.5 970.7L606.5 958.2M606.5 958.2L606.5 936.2M654.8 936.2L668.8 923.7M668.8 923.7L688.8 923.7M688.8 923.7L702.8 936.2M702.8 958.2L688.8 970.7M688.8 970.7L668.8 970.7M668.8 970.7L654.8 958.2M654.8 958.2L654.8 936.2M499.7 989.2L519.7 989.2M519.7 989.2L533.7 1001.7M533.7 1001.7L533.7 1023.7M533.7 1023.7L519.7 1036.2M519.7 1036.2L499.7 1036.2M534.0 1001.7L548.0 989.2M548.0 989.2L568.0 989.2M568.0 989.2L582.0 1001.7M582.0 1001.7L582.0 1023.7M582.0 1023.7L568.0 1036.2M568.0 1036.2L548.0 1036.2M548.0 1036.2L534.0 1023.7M534.0 1023.7L534.0 1001.7M582.3 1001.7L596.3 989.2M596.3 989.2L616.3 989.2M616.3 989.2L630.3 1001.7M630.3 1001.7L630.3 1023.7M630.3 1023.7L616.3 1036.2M616.3 1036.2L596.3 1036.2M596.3 1036.2L582.3 1023.7M582.3 1023.7L582.3 1001.7M630.6 1001.7L644.6 989.2M644.6 989.2L664.6 989.2M664.6 989.2L678.6 1001.7M678.6 1001.7L678.6 1023.7M678.6 1023.7L664.6 1036.2M664.6 1036.2L644.6 1036.2M644.6 1036.2L630.6 1023.7M630.6 1023.7L630.6 1001.7M678.9 1001.7L692.9 989.2M692.9 1036.2L678.9 1023.7M678.9 1023.7L678.9 1001.7M519.7 905.2L523.9 923.7M548.0 905.2L543.9 923.7M568.0 905.2L572.1 923.7M596.3 905.2L592.1 923.7M616.3 905.2L620.4 923.7M644.6 905.2L640.5 923.7M664.6 905.2L668.8 923.7M692.9 905.2L688.8 923.7M523.9 970.7L519.7 989.2M543.9 970.7L548.0 989.2M572.1 970.7L568.0 989.2M592.1 970.7L596.3 989.2M620.5 970.7L616.3 989.2M640.5 970.7L644.6 989.2M668.8 970.7L664.6 989.2M688.8 970.7L692.9 989.2M519.7 1036.2L523.9 1054.7M548.0 1036.2L543.9 1054.7M568.0 1036.2L572.1 1054.7M596.3 1036.2L592.1 1054.7M616.3 1036.2L620.4 1054.7M644.6 1036.2L640.5 1054.7M664.6 1036.2L668.8 1054.7M692.9 1036.2L688.8 1054.7M523.9 839.7L519.7 858.2M543.9 839.7L548.0 858.2M572.1 839.7L568.0 858.2M592.1 839.7L596.3 858.2M620.5 839.7L616.3 858.2M640.5 839.7L644.6 858.2M668.8 839.7L664.6 858.2M688.8 839.7L692.9 858.2" stroke="#e6da80" stroke-width="1.5" stroke-linecap="round" fill="none"/><path d="M502.9 858.2L516.5 858.2M521.9 860.2L531.5 868.7M533.7 874.2L533.7 889.2M531.5 894.7L521.9 903.2M516.5 905.2L502.9 905.2M536.2 868.7L545.8 860.2M551.2 858.2L564.8 858.2M570.2 860.2L579.8 868.7M582.0 874.2L582.0 889.2M579.8 894.7L570.2 903.2M564.8 905.2L551.2 905.2M545.8 903.2L536.2 894.7M534.0 889.2L534.0 874.2M584.5 868.7L594.1 860.2M599.5 858.2L613.1 858.2M618.5 860.2L628.1 868.7M630.3 874.2L630.3 889.2M628.1 894.7L618.5 903.2M613.1 905.2L599.5 905.2M594.1 903.2L584.5 894.7M582.3 889.2L582.3 874.2M632.8 868.7L642.4 860.2M647.8 858.2L661.4 858.2M666.8 860.2L676.4 868.7M678.6 874.2L678.6 889.2M676.4 894.7L666.8 903.2M661.4 905.2L647.8 905.2M642.4 903.2L632.8 894.7M630.6 889.2L630.6 874.2M681.1 868.7L690.7 860.2M690.7 903.2L681.1 894.7M678.9 889.2L678.9 874.2M497.8 925.7L507.3 934.2M509.6 939.7L509.6 954.7M507.3 960.2L497.8 968.7M512.1 934.2L521.6 925.7M527.1 923.7L540.6 923.7M546.1 925.7L555.6 934.2M557.9 939.7L557.9 954.7M555.6 960.2L546.1 968.7M540.6 970.7L527.1 970.7M521.6 968.7L512.1 960.2M509.9 954.7L509.9 939.7M560.4 934.2L569.9 925.7M575.4 923.7L588.9 923.7M594.4 925.7L603.9 934.2M606.1 939.7L606.1 954.7M603.9 960.2L594.4 968.7M588.9 970.7L575.4 970.7M569.9 968.7L560.4 960.2M558.1 954.7L558.1 939.7M608.7 934.2L618.2 925.7M623.7 923.7L637.2 923.7M642.7 925.7L652.2 934.2M654.5 939.7L654.5 954.7M652.2 960.2L642.7 968.7M637.2 970.7L623.7 970.7M618.2 968.7L608.7 960.2M606.5 954.7L606.5 939.7M657.0 934.2L666.5 925.7M672.0 923.7L685.5 923.7M691.0 925.7L700.5 934.2M700.5 960.2L691.0 968.7M685.5 970.7L672.0 970.7M666.5 968.7L657.0 960.2M654.8 954.7L654.8 939.7M502.9 989.2L516.5 989.2M521.9 991.2L531.5 999.7M533.7 1005.2L533.7 1020.2M531.5 1025.7L521.9 1034.2M516.5 1036.2L502.9 1036.2M536.2 999.7L545.8 991.2M551.2 989.2L564.8 989.2M570.2 991.2L579.8 999.7M582.0 1005.2L582.0 1020.2M579.8 1025.7L570.2 1034.2M564.8 1036.2L551.2 1036.2M545.8 1034.2L536.2 1025.7M534.0 1020.2L534.0 1005.2M584.5 999.7L594.1 991.2M599.5 989.2L613.1 989.2M618.5 991.2L628.1 999.7M630.3 1005.2L630.3 1020.2M628.1 1025.7L618.5 1034.2M613.1 1036.2L599.5 1036.2M594.1 1034.2L584.5 1025.7M582.3 1020.2L582.3 1005.2M632.8 999.7L642.4 991.2M647.8 989.2L661.4 989.2M666.8 991.2L676.4 999.7M678.6 1005.2L678.6 1020.2M676.4 1025.7L666.8 1034.2M661.4 1036.2L647.8 1036.2M642.4 1034.2L632.8 1025.7M630.6 1020.2L630.6 1005.2M681.1 999.7L690.7 991.2M690.7 1034.2L681.1 1025.7M678.9 1020.2L678.9 1005.2M520.4 908.2L523.2 920.7M547.3 908.2L544.5 920.7M568.7 908.2L571.5 920.7M595.6 908.2L592.8 920.7M617.0 908.2L619.8 920.7M643.9 908.2L641.1 920.7M665.3 908.2L668.1 920.7M692.2 908.2L689.4 920.7M523.2 973.7L520.4 986.2M544.5 973.7L547.3 986.2M571.5 973.7L568.7 986.2M592.8 973.7L595.6 986.2M619.8 973.7L617.0 986.2M641.1 973.7L643.9 986.2M668.1 973.7L665.3 986.2M689.4 973.7L692.2 986.2M520.4 1039.2L523.2 1051.7M547.3 1039.2L544.5 1051.7M568.7 1039.2L571.5 1051.7M595.6 1039.2L592.8 1051.7M617.0 1039.2L619.8 1051.7M643.9 1039.2L641.1 1051.7M665.3 1039.2L668.1 1051.7M692.2 1039.2L689.4 1051.7M523.2 842.7L520.4 855.2M544.5 842.7L547.3 855.2M571.5 842.7L568.7 855.2M592.8 842.7L595.6 855.2M619.8 842.7L617.0 855.2M641.1 842.7L643.9 855.2M668.1 842.7L665.3 855.2M689.4 842.7L692.2 855.2" stroke="#dc6a6a" stroke-width="1.5" fill="none"/></g>
<g filter="url(#dp)">
<ellipse cx="560.2" cy="878.3" rx="4.6" ry="6.8" fill="#fff" fill-opacity="0.64"/>
<ellipse cx="560.2" cy="878.3" rx="1.8" ry="3.4" fill="#fff" fill-opacity="0.85"/>
<ellipse cx="604.6" cy="879.7" rx="5.5" ry="8.2" fill="#fff" fill-opacity="0.64"/>
<ellipse cx="604.6" cy="879.7" rx="2.2" ry="4.1" fill="#fff" fill-opacity="0.85"/>
<ellipse cx="647.6" cy="877.0" rx="4.6" ry="6.8" fill="#fff" fill-opacity="0.64"/>
<ellipse cx="647.6" cy="877.0" rx="1.8" ry="3.4" fill="#fff" fill-opacity="0.85"/>
<ellipse cx="539.4" cy="949.0" rx="5.1" ry="7.5" fill="#fff" fill-opacity="0.64"/>
<ellipse cx="539.4" cy="949.0" rx="2.0" ry="3.7" fill="#fff" fill-opacity="0.85"/>
<ellipse cx="582.4" cy="947.6" rx="6.0" ry="8.8" fill="#fff" fill-opacity="0.64"/>
<ellipse cx="582.4" cy="947.6" rx="2.3" ry="4.4" fill="#fff" fill-opacity="0.85"/>
<ellipse cx="626.8" cy="950.4" rx="4.6" ry="6.8" fill="#fff" fill-opacity="0.64"/>
<ellipse cx="626.8" cy="950.4" rx="1.8" ry="3.4" fill="#fff" fill-opacity="0.85"/>
<ellipse cx="669.8" cy="947.6" rx="2.8" ry="4.1" fill="#fff" fill-opacity="0.64"/>
<ellipse cx="669.8" cy="947.6" rx="1.1" ry="2.0" fill="#fff" fill-opacity="0.85"/>
<ellipse cx="517.2" cy="1018.4" rx="3.7" ry="5.4" fill="#fff" fill-opacity="0.64"/>
<ellipse cx="517.2" cy="1018.4" rx="1.4" ry="2.7" fill="#fff" fill-opacity="0.85"/>
<ellipse cx="560.2" cy="1014.2" rx="4.1" ry="6.1" fill="#fff" fill-opacity="0.64"/>
<ellipse cx="560.2" cy="1014.2" rx="1.6" ry="3.1" fill="#fff" fill-opacity="0.85"/>
<ellipse cx="604.6" cy="1015.6" rx="6.4" ry="9.5" fill="#fff" fill-opacity="0.64"/>
<ellipse cx="604.6" cy="1015.6" rx="2.5" ry="4.8" fill="#fff" fill-opacity="0.85"/>
<ellipse cx="647.6" cy="1018.4" rx="5.1" ry="7.5" fill="#fff" fill-opacity="0.64"/>
<ellipse cx="647.6" cy="1018.4" rx="2.0" ry="3.7" fill="#fff" fill-opacity="0.85"/>
<ellipse cx="517.0" cy="882.4" rx="1.8" ry="2.7" fill="#fff" fill-opacity="0.64"/>
<ellipse cx="517.0" cy="882.4" rx="0.7" ry="1.4" fill="#fff" fill-opacity="0.85"/>
<ellipse cx="679.0" cy="947.6" rx="2.3" ry="3.4" fill="#fff" fill-opacity="0.64"/>
<ellipse cx="679.0" cy="947.6" rx="0.9" ry="1.7" fill="#fff" fill-opacity="0.85"/>
</g>
</svg>
<rect x="504.5" y="314.5" width="181" height="720" fill="none" stroke="#555" stroke-width="1"/>
<line x1="504.5" y1="494.5" x2="685" y2="494.5" stroke="#333" stroke-width="1"/>
<line x1="504.5" y1="674.5" x2="685" y2="674.5" stroke="#333" stroke-width="1"/>
<line x1="504.5" y1="854.5" x2="685" y2="854.5" stroke="#333" stroke-width="1"/>
<rect x="504.5" y="314.5" width="35.0" height="27.0" fill="#fff" stroke="#222" stroke-width="0.8"/>
<text x="521.4" y="331.3" text-anchor="middle" font-family="Liberation Sans" font-weight="bold" font-size="14">m</text>
<rect x="504.5" y="494.5" width="28.5" height="27.0" fill="#fff" stroke="#222" stroke-width="0.8"/>
<text x="518.1" y="511.3" text-anchor="middle" font-family="Liberation Sans" font-weight="bold" font-size="14">n</text>
<rect x="504.5" y="674.5" width="28.5" height="27.0" fill="#fff" stroke="#222" stroke-width="0.8"/>
<text x="518.1" y="691.3" text-anchor="middle" font-family="Liberation Sans" font-weight="bold" font-size="14">o</text>
<rect x="504.5" y="854.5" width="28.5" height="27.0" fill="#fff" stroke="#222" stroke-width="0.8"/>
<text x="518.1" y="871.3" text-anchor="middle" font-family="Liberation Sans" font-weight="bold" font-size="14">p</text>
</svg>
</body></html>
